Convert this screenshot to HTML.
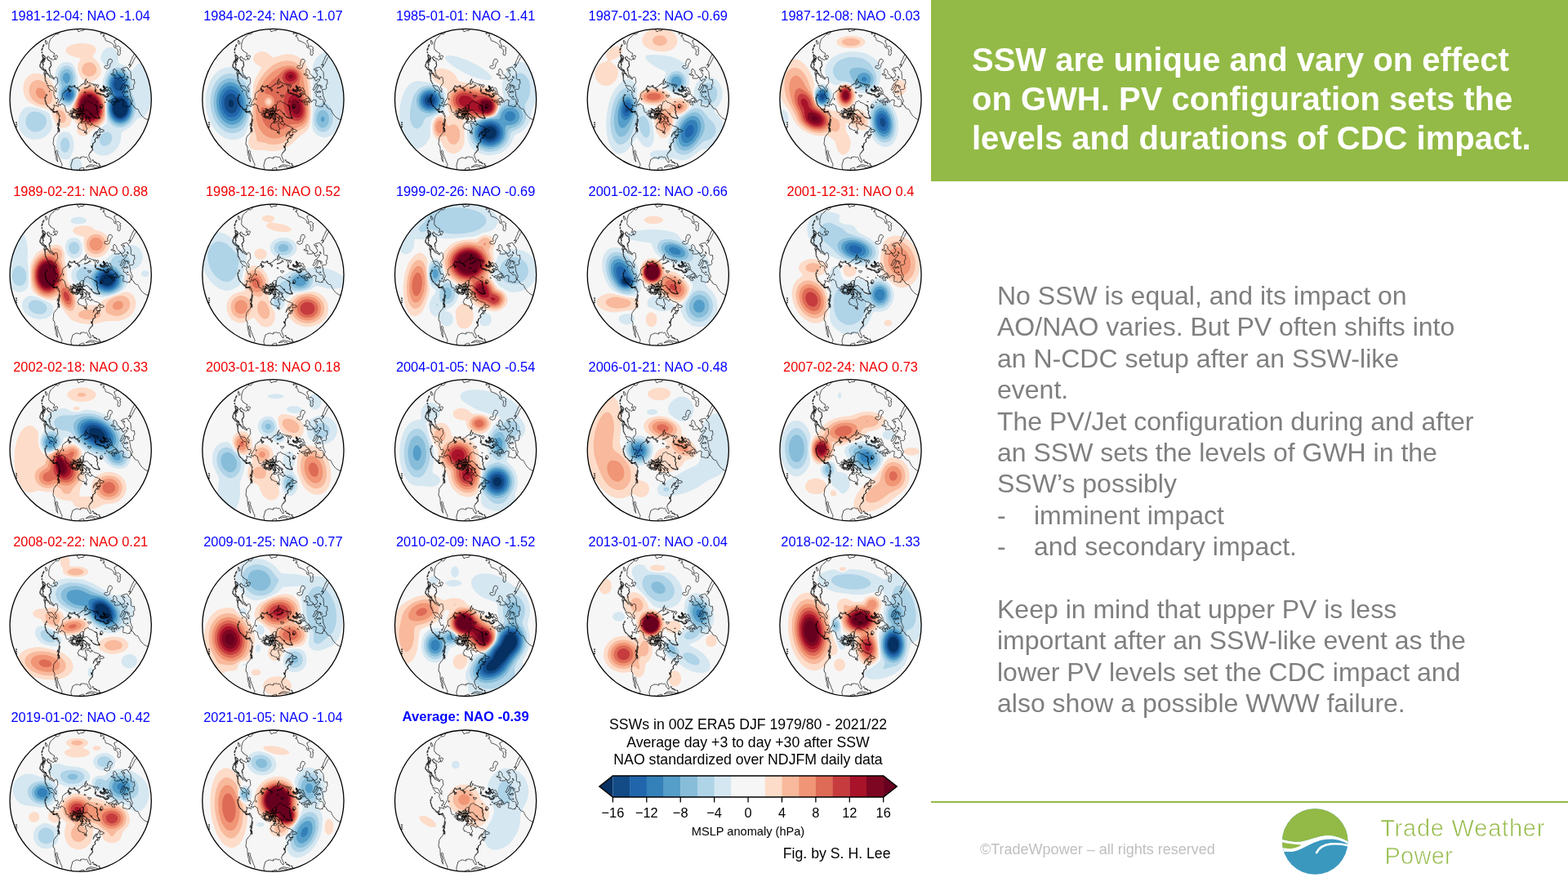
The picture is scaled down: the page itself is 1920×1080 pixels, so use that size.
<!DOCTYPE html>
<html lang="en"><head><meta charset="utf-8"><title>SSW are unique and vary on effect on GWH</title>
<style>
*{margin:0;padding:0;box-sizing:border-box}
html,body{width:1920px;height:1080px;overflow:hidden;background:#fff}
body{position:relative;font-family:"Liberation Sans",sans-serif}
#maps{position:absolute;left:0;top:0;width:1140px;height:1080px}
.mt{position:absolute;width:240px;text-align:center;font-size:16.4px;line-height:20px;white-space:nowrap;transform:scaleY(1.02);transform-origin:50% 80%}
.b{color:#0000ff}.r{color:#f00000}.bold{font-weight:bold;font-size:16.7px}
#hdr{position:absolute;left:1140px;top:0;width:780px;height:222px;background:#93ba46}
#hdr h1{position:absolute;left:50px;top:49px;width:720px;font-size:40px;line-height:48px;font-weight:bold;color:#fff;white-space:nowrap}
#body{position:absolute;left:1221px;top:343px;width:680px;font-size:32px;line-height:38.4px;color:#7f7f7f;white-space:nowrap}
#body .li{display:block}
#body .li span{display:inline-block;width:45px}
#rule{position:absolute;left:1140px;top:981.2px;width:780px;height:1.8px;background:#93ba46}
#copy{position:absolute;left:1200px;top:1029px;font-size:18px;line-height:22px;color:#bfbfbf;white-space:nowrap}
#logo{position:absolute;left:1550px;top:980px;width:350px;height:100px}
.lt{position:absolute;font-size:29px;line-height:34px;color:#93ba46;white-space:pre;letter-spacing:0.78px;-webkit-text-stroke:0.7px #fff}
#lt1{left:1690.2px;top:997px}
#lt2{left:1695.5px;top:1031px;letter-spacing:0.25px}
#cap{position:absolute;left:696px;top:877.2px;width:440px;text-align:center;font-size:17.7px;line-height:21.4px;color:#000;white-space:nowrap}
.cbl{position:absolute;top:985px;width:60px;text-align:center;font-size:16.4px;line-height:20px;color:#000;transform:scaleY(1.04)}
#cbt{position:absolute;left:816px;top:1008px;width:200px;text-align:center;font-size:14.6px;line-height:20px;color:#000;white-space:nowrap}
#fig{position:absolute;left:900px;top:1034px;width:190.5px;text-align:right;font-size:17.7px;line-height:22px;color:#000;white-space:nowrap}
</style></head>
<body>
<svg id="maps" viewBox="0 0 1140 1080" width="1140" height="1080">
<clipPath id="mc"><circle r="86.6"/></clipPath>
<pattern id="coast" patternUnits="userSpaceOnUse" x="-20" y="14" width="236" height="215"><path transform="translate(118.100,107.260)" fill="none" stroke="#000" stroke-width="0.68" stroke-linejoin="round" stroke-linecap="round" d="M3.3,89.2 3.8,88.1 4.3,86.8 4.8,85.7 4.4,84.1 3.3,83.9 2.2,84.2 1.4,84.4 0.5,84.9 -0.4,85.0 -0.8,86.6 -1.3,87.6 -1.5,88.5 -2.6,88.7 -3.9,88.8 -5.2,88.9 -6.3,89.0 -7.5,88.9 -8.2,87.9 -9.5,87.2 -9.9,86.2 -10.4,85.6 -10.7,84.6 -10.7,83.4 -11.3,82.2 -11.0,80.8 -10.8,79.6 -10.4,78.7 -10.3,77.6 -9.8,76.7 -9.6,75.7 -9.4,74.6 -9.1,73.8 -8.1,73.5 -7.3,72.9 -6.3,72.4 -5.0,71.8 -3.8,71.8 -2.5,71.9 -1.6,72.3 -0.6,72.6 0.9,72.7 0.6,71.1 1.6,71.0 2.5,70.9 3.5,70.8 4.3,70.7 5.4,71.0 6.3,71.6 7.7,71.0 8.5,71.6 9.3,72.3 9.3,73.2 9.5,74.1 10.2,75.0 11.0,76.0 11.7,76.7 12.0,77.6 13.1,77.4 13.1,76.3 13.2,75.4 13.0,74.3 12.2,73.7 12.0,72.6 11.6,71.7 11.2,70.6 10.6,69.9 10.9,68.8 10.7,67.7 11.6,67.1 12.2,66.0 12.9,65.2 13.7,64.5 14.5,63.8 15.1,63.0 15.7,61.7 15.1,60.9 14.9,59.8 14.4,59.0 14.1,58.0 14.7,58.7 14.9,59.6 15.0,58.6 15.2,57.7 15.7,56.5 15.8,55.2 16.1,54.3 17.0,53.8 17.7,53.0 19.0,52.1 17.9,51.1 18.1,49.7 19.1,48.5 20.0,47.2 21.0,46.5 21.9,45.9 21.3,46.8 21.1,47.8 22.0,48.4 22.9,47.2 23.4,46.0 23.9,44.7 24.8,43.8 24.7,42.7 24.0,44.2 22.7,44.5 21.4,44.9 20.7,44.1 19.8,43.4 20.4,42.4 19.9,41.7 19.0,42.3 18.1,42.6 17.2,43.6 16.7,44.7 16.5,45.6 15.9,46.3 16.4,45.2 16.4,44.1 16.9,43.0 17.6,42.1 17.9,41.1 19.1,40.4 20.3,39.8 21.5,39.4 22.4,38.8 22.2,37.9 22.7,37.0 23.3,36.4 24.0,35.6 23.5,34.8 22.2,34.2 21.0,33.6 20.1,33.4 19.2,33.3 17.8,32.7 16.6,32.0 15.9,31.2 15.0,30.8 14.3,30.6 13.9,29.7 13.8,30.5 14.0,31.5 13.1,32.3 11.8,31.6 11.1,30.9 10.9,30.1 9.7,29.9 8.8,29.6 8.0,30.0 7.6,29.5 7.1,29.1 6.3,29.8 6.5,30.7 5.9,31.1 7.3,31.9 6.9,32.4 7.2,33.9 7.6,34.9 8.6,35.6 8.4,36.5 8.3,37.3 7.6,37.8 7.2,38.7 7.5,39.8 7.9,40.6 8.0,41.4 8.2,42.4 7.5,42.8 6.7,42.1 5.8,41.0 5.2,39.8 5.1,38.4 4.3,38.2 3.3,38.3 2.2,38.0 1.3,37.2 0.0,36.6 -1.6,36.6 -2.0,35.7 -1.8,34.6 -2.9,34.2 -3.0,33.3 -2.6,32.5 -2.0,31.7 -1.6,30.8 -1.8,30.0 -0.6,29.5 -0.5,29.1 0.0,28.8 0.7,29.3 1.0,28.3 0.7,27.3 2.1,27.6 1.9,26.8 2.2,26.0 1.8,25.7 2.7,25.8 3.5,25.3 3.7,24.9 3.4,24.4 2.7,23.9 3.5,23.2 3.0,22.9 2.9,22.0 2.2,21.8 2.0,22.8 1.6,23.4 1.7,24.5 0.9,24.8 0.6,24.2 0.8,23.5 0.2,23.8 -0.2,23.1 -0.6,22.4 -0.6,21.9 -0.7,21.2 -0.5,20.8 -1.1,20.1 -1.5,19.5 -2.1,20.0 -1.4,20.3 -1.5,21.2 -1.6,21.7 -2.1,22.3 -3.0,23.0 -2.5,23.7 -2.9,23.3 -3.4,24.0 -4.2,23.7 -5.0,23.7 -5.8,23.1 -6.4,22.5 -7.3,22.5 -7.9,22.8 -8.5,23.3 -9.1,22.6 -9.9,22.7 -10.3,22.0 -9.7,21.8 -9.9,21.3 -10.6,21.0 -10.8,20.2 -10.5,19.4 -11.4,19.0 -11.8,18.4 -12.3,18.3 -13.1,18.1 -12.8,17.8 -13.3,17.0 -14.0,16.7 -14.8,16.1 -15.3,16.4 -16.6,16.0 -17.0,15.3 -17.3,14.0 -17.6,12.8 -18.1,11.8 -18.4,10.6 -18.5,9.4 -18.7,8.1 -19.4,7.8 -20.3,7.0 -21.1,6.4 -22.1,5.9 -23.0,5.7 -23.6,6.8 -24.1,7.8 -24.9,7.6 -25.2,6.3 -26.2,5.6 -27.0,6.7 -26.8,8.2 -26.5,9.1 -27.8,8.8 -29.0,7.8 -30.4,7.9 -30.9,8.1 -31.4,8.7 -31.7,9.6 -31.5,10.2 -32.1,10.4 -32.7,11.0 -33.0,12.1 -32.2,12.4 -32.0,13.3 -32.7,13.5 -33.4,13.5 -34.7,13.6 -35.2,12.8 -35.5,12.0 -36.2,11.8 -36.6,11.3 -37.5,11.5 -36.8,11.9 -36.2,12.8 -35.9,13.2 -35.4,14.0 -34.5,13.9 -33.9,14.2 -32.9,14.7 -32.1,15.2 -31.4,15.3 -30.9,15.3 -30.2,15.0 -29.7,15.4 -28.9,15.0 -28.4,15.8 -27.5,15.9 -28.1,15.7 -28.4,15.1 -29.1,15.5 -29.8,16.2 -29.2,16.9 -28.5,17.5 -27.6,17.3 -26.8,18.1 -27.1,19.3 -26.5,19.9 -25.6,20.5 -25.6,21.5 -25.3,22.3 -25.5,23.0 -25.5,23.5 -25.5,24.2 -25.4,24.9 -24.4,25.3 -24.7,25.9 -25.0,26.8 -24.5,27.7 -25.2,28.4 -25.2,29.0 -25.5,29.6 -25.6,30.5 -26.2,30.9 -25.2,32.0 -25.6,32.4 -25.8,33.1 -26.4,33.5 -26.7,34.3 -26.4,35.0 -26.0,35.4 -25.4,36.5 -25.5,37.1 -25.3,37.8 -25.2,38.8 -25.2,39.6 -25.3,40.2 -25.8,40.6 -26.6,39.9 -26.3,39.5 -26.7,38.7 -27.4,39.0 -27.5,39.8 -26.9,40.5 -27.7,41.1 -28.0,41.9 -28.8,42.7 -29.4,43.6 -30.5,44.3 -30.9,45.6 -31.7,46.2 -32.2,47.2 -32.4,48.5 -32.5,49.7 -32.6,51.1 -32.6,52.0 -32.9,52.8 -33.2,53.8 -32.7,55.0 -33.1,55.9 -32.0,56.6 -31.4,57.8 -31.2,59.1 -31.0,60.2 -31.2,61.3 -31.0,62.2 -30.9,63.6 -30.9,64.8 -30.8,66.1 -30.3,67.1 -30.4,68.3 -30.1,69.2 -29.5,70.1 -29.2,71.1 -29.4,72.1 -29.5,73.1 -28.9,74.0 -28.5,75.1 -28.1,76.1 -27.2,76.9 -27.7,76.0 -27.8,75.0 -28.1,74.0 -28.0,72.9 -27.9,71.6 -28.4,70.3 -28.3,69.0 -28.8,67.7 -29.3,66.8 -29.6,65.9 -29.6,65.0 -29.5,63.7 -28.8,62.7 -28.0,63.4 -27.3,64.4 -27.7,65.5 -27.6,66.6 -27.3,67.6 -26.7,68.5 -26.6,69.4 -26.5,70.2 -25.9,71.0 -25.4,71.9 -25.3,72.8 -24.7,74.0 -24.3,74.9 -24.1,75.8 -23.7,76.8 -23.2,77.8 -22.6,78.7 -22.2,80.0 -22.2,81.2 -22.9,82.3 -23.1,83.5 -22.8,84.3 -21.9,84.7 -21.3,85.6 -20.5,86.4 -19.5,87.1M23.9,23.1 23.1,23.3 22.4,23.2 21.6,23.0 20.8,23.5 20.1,22.7 19.1,22.7 18.3,22.4 17.6,22.2 16.9,21.8 16.3,21.3 15.4,20.8 15.0,20.2 14.6,19.6 14.0,18.9 14.2,17.6 13.4,17.7 12.8,17.6 12.0,16.8 11.6,16.0 10.8,15.7 10.1,15.2 9.6,14.5 9.3,13.7 8.2,13.4 7.0,13.2 6.6,13.6 6.2,13.9 5.2,13.7 4.5,13.0 4.4,12.0 3.7,12.1 4.1,11.2 4.3,10.5 4.4,9.9 4.0,9.3 4.3,8.5 4.4,7.8 4.5,7.2 4.7,6.9 4.8,6.6 5.0,6.4 5.2,6.1 5.3,5.8 5.5,5.5 5.5,5.1 5.5,4.7 5.5,4.3 5.7,4.1 5.8,3.9 6.0,3.7 6.1,3.5 6.4,3.4 6.8,3.3 7.1,3.2 7.6,3.1 8.1,3.0 8.5,2.8 8.8,2.5 9.1,2.3 9.3,2.0 9.9,2.5 10.5,2.8 10.8,3.5 11.5,4.4 12.3,4.2 13.0,4.4 13.8,5.0 14.6,5.2 15.3,5.4 15.8,6.0 16.7,6.4 17.5,7.4 18.7,7.5 19.4,8.6 19.9,8.3 20.3,9.2 20.8,9.7 20.5,10.6 20.9,11.1 20.7,11.9 20.4,12.7 20.6,13.9 21.3,14.4 21.7,15.4 21.3,16.0 21.4,16.8 21.0,17.6 21.6,18.5 22.0,19.1 22.2,20.0 22.7,20.8 23.5,21.6 23.8,22.2ZM26.6,11.0 27.4,10.0 27.8,9.0 27.9,8.2 27.4,7.3 26.7,6.4 26.0,6.7 25.2,6.5 24.7,7.3 24.7,8.3 24.8,9.5 23.9,9.9 24.4,10.9 25.4,10.3 25.3,11.2 26.2,10.6ZM11.2,-2.2 10.5,-2.6 10.2,-2.9 10.0,-3.2 9.8,-3.6 9.6,-3.9 9.6,-4.4 9.5,-4.9 10.6,-4.7 11.2,-4.4 11.8,-4.1 12.1,-4.7 12.8,-4.3 13.8,-4.2 13.3,-3.6 12.6,-3.0 11.9,-2.3ZM12.9,-16.2 12.7,-16.8 11.9,-17.3 11.1,-17.5 11.0,-16.6 10.6,-15.8 10.3,-15.0 9.7,-14.4 8.5,-13.9 7.1,-13.4 6.5,-13.3 5.9,-13.2 5.0,-13.2 5.8,-13.8 6.5,-13.9 7.1,-13.9 7.7,-14.0 9.0,-14.5 10.3,-15.0 11.2,-15.4 12.3,-15.7ZM-1.0,-11.9 -1.5,-10.7 -1.7,-9.6 -1.2,-9.4 -0.7,-10.6 -0.6,-11.3ZM-2.3,-12.8 -2.7,-12.6 -3.1,-12.3 -3.1,-11.5 -2.6,-11.4 -2.2,-11.4 -1.9,-12.0ZM-11.7,-10.9 -12.6,-10.6 -12.9,-10.1 -13.2,-9.6 -13.5,-8.9 -13.8,-8.3 -13.0,-8.7 -12.5,-9.1 -12.0,-9.3 -11.6,-9.8 -11.3,-10.2ZM-13.8,-11.6 -14.5,-10.9 -13.8,-10.8ZM-20.7,-0.5 -20.7,0.7 -20.1,0.9 -20.1,-0.0ZM6.9,-7.6 6.6,-8.0 6.4,-8.3 6.1,-8.7 5.5,-8.7 5.0,-8.6 4.9,-7.8 5.2,-7.7 5.6,-7.7 5.9,-7.6 6.3,-7.5ZM62.7,6.0 61.8,6.8 60.9,8.0 60.9,9.6 59.9,9.1 59.0,9.1 58.4,9.8 57.3,9.5 56.3,8.7 55.3,8.6 54.4,8.3 53.1,8.7 52.4,7.4 52.5,6.3 52.8,5.1 52.8,4.2 53.0,3.2 53.2,1.7 51.9,1.1 50.9,0.8 50.0,1.0 49.2,1.5 48.4,1.9 47.9,2.8 47.5,3.7 46.7,3.8 46.4,2.4 46.7,1.3 45.4,1.4 45.5,0.8 45.9,0.2 45.4,-0.2 44.8,-1.2 43.9,-1.3 43.9,-2.3 43.2,-2.6 42.2,-3.2 41.2,-3.5 40.5,-4.6 40.2,-5.8 39.5,-6.1 38.2,-5.8 37.1,-5.3 36.3,-5.3 35.7,-6.0 35.2,-6.6 35.7,-6.2 36.6,-6.7 37.1,-7.1 38.1,-6.6 38.7,-6.5 39.1,-7.5 39.4,-7.8 38.9,-8.4 38.7,-9.4 39.1,-10.0 38.5,-10.6 38.0,-11.2 37.3,-12.5 37.4,-13.3 36.2,-13.9 35.4,-13.3 34.4,-13.2 33.3,-13.5 32.8,-14.0 33.6,-14.6 33.0,-15.1 32.5,-14.7 32.1,-14.7 31.7,-13.9 31.2,-13.6 30.6,-14.3 29.9,-14.5 29.9,-15.6 29.1,-15.5 28.8,-16.6 28.0,-16.0 28.5,-15.5 29.2,-15.3 29.4,-14.3 29.3,-13.4 30.3,-13.6 30.6,-13.0 30.7,-12.3 30.2,-11.9 29.4,-11.9 28.9,-11.3 28.4,-11.6 27.6,-10.9 26.7,-11.3 26.1,-10.7 25.6,-11.4 24.6,-11.6 24.2,-10.9 24.6,-10.1 25.3,-9.9 26.1,-10.2 26.7,-9.3 27.7,-9.8 28.6,-9.4 29.2,-9.2 30.0,-10.1 30.8,-9.5 30.6,-10.3 31.4,-10.7 32.3,-10.7 32.9,-10.4 33.4,-10.1 33.8,-10.8 34.8,-10.5 35.1,-10.4 36.1,-10.4 36.6,-9.5 37.3,-9.4 37.5,-8.6 36.7,-8.1 35.3,-7.4 34.3,-7.5 33.9,-6.7 33.1,-6.2 33.8,-5.8 34.2,-4.8 35.0,-5.0 35.2,-4.3 35.1,-3.9 34.4,-3.4 33.7,-3.3 33.0,-2.9 32.1,-2.1 31.6,-2.8 31.0,-3.4 30.5,-2.8 30.0,-3.4 29.5,-3.6 29.4,-4.5 28.5,-4.5 28.2,-4.8 27.5,-5.1 26.7,-5.0 26.3,-5.6 25.8,-5.3 25.0,-5.8 24.1,-5.8 23.6,-6.1 22.7,-6.3 21.9,-6.4 21.6,-6.8 20.8,-7.2 20.2,-7.7 19.7,-8.3 19.2,-8.3 18.5,-8.9 18.4,-9.8 19.0,-10.0 18.5,-10.9 18.9,-11.3 18.3,-12.0 18.7,-12.4 18.5,-13.4 18.6,-14.8 18.7,-16.0 19.3,-16.8 20.3,-16.5 20.7,-15.6 21.1,-14.8 21.4,-13.9 22.1,-15.3 23.0,-16.0 22.6,-17.0 21.8,-17.0 21.4,-17.9 20.2,-17.2 19.2,-17.3 18.7,-18.1 18.0,-17.8 17.4,-16.9 16.9,-16.3 16.5,-17.1 17.3,-18.3 16.5,-18.3 15.5,-18.4 13.9,-18.5 13.5,-19.2 12.3,-19.6 11.6,-20.0 10.7,-19.4 9.7,-20.4 9.3,-20.9 9.2,-21.6 8.7,-22.1 8.2,-21.4 8.7,-20.4 8.3,-19.2 7.4,-18.7 6.7,-17.6 5.9,-17.5 5.6,-18.2 6.0,-18.8 6.2,-19.7 6.1,-20.5 6.5,-21.4 6.8,-22.2 7.2,-22.9 7.1,-24.1 8.0,-24.7 6.8,-23.6 6.0,-22.4 5.7,-21.4 5.9,-20.4 5.8,-19.6 5.2,-18.9 4.7,-18.8 4.1,-19.2 3.4,-19.1 3.0,-17.7 2.2,-17.6 1.2,-17.6 0.9,-16.3 0.0,-15.7 -0.5,-15.5 -1.1,-15.1 -1.6,-14.9 -2.1,-14.7 -2.8,-14.2 -3.2,-12.9 -3.8,-13.2 -4.5,-13.7 -5.0,-13.7 -5.5,-13.6 -6.3,-14.4 -6.4,-15.2 -5.8,-16.0 -6.6,-16.3 -7.2,-16.3 -7.9,-16.2 -8.5,-16.0 -9.2,-15.5 -9.8,-15.0 -10.5,-14.4 -11.4,-14.6 -12.3,-15.2 -13.3,-15.9 -13.7,-14.7 -14.5,-14.0 -15.2,-13.2 -14.6,-12.2 -15.2,-11.7 -15.8,-11.0 -16.4,-10.4 -17.0,-9.8 -18.3,-9.7 -18.6,-9.1 -18.9,-8.4 -19.7,-8.0 -20.5,-7.5 -21.2,-6.9 -21.6,-5.8 -21.5,-4.6 -22.0,-3.9 -21.5,-3.4 -21.8,-2.7 -21.9,-1.9 -22.4,-1.2 -22.9,-0.4 -23.4,0.4 -23.8,1.2 -24.4,2.1 -25.0,3.1 -25.3,3.8 -25.8,4.5 -26.8,3.5 -27.8,2.9 -27.1,1.9 -26.5,0.5 -27.4,-0.0 -28.0,-0.5 -28.2,-1.0 -27.7,-1.2 -28.9,-0.7 -30.3,-0.5 -30.5,-1.6 -31.0,-2.4 -31.0,-3.3 -31.7,-4.5 -32.6,-5.8 -32.1,-6.8 -32.1,-7.6 -32.0,-8.6 -32.4,-9.3 -33.4,-10.2 -34.0,-10.7 -35.6,-10.9 -36.3,-11.4 -37.1,-12.1 -37.9,-13.4 -38.9,-14.2 -39.1,-15.4 -39.7,-16.1 -40.3,-17.1 -39.5,-16.8 -38.5,-16.7 -37.4,-16.2 -36.2,-16.1 -35.2,-16.1 -34.4,-15.7 -33.8,-14.9 -33.1,-14.4 -32.3,-13.1 -31.8,-12.3 -31.7,-11.5 -30.9,-10.3 -30.0,-9.2 -29.1,-8.3 -29.2,-9.3 -29.7,-10.2 -29.3,-10.7 -29.1,-11.5 -28.9,-12.3 -29.7,-13.2 -30.8,-14.3 -30.7,-15.4 -30.3,-16.1 -29.2,-16.9 -28.8,-18.0 -28.2,-18.7 -27.8,-19.5 -27.1,-20.4 -27.5,-21.5 -27.6,-22.3 -27.6,-23.2 -27.8,-24.0 -27.7,-24.9 -28.2,-26.1 -29.0,-27.0 -29.6,-27.1 -30.3,-26.4 -31.5,-25.9 -32.1,-25.7 -33.1,-26.8 -33.8,-27.9 -34.6,-28.2 -35.2,-29.0 -36.0,-29.6 -36.4,-30.5 -36.5,-31.6 -37.0,-32.7 -37.1,-34.0 -37.2,-35.3 -36.9,-36.0 -37.4,-36.8 -37.9,-37.8 -37.4,-38.7 -36.9,-39.2 -36.2,-39.5 -35.6,-40.3 -35.7,-41.1 -35.4,-42.2 -36.1,-42.7 -35.9,-43.5 -35.6,-44.5 -35.9,-45.1 -36.3,-46.0 -35.7,-46.5 -36.6,-46.1 -37.1,-46.7 -37.9,-47.2 -38.2,-47.4 -39.1,-47.6 -39.3,-48.2 -39.5,-48.8 -40.3,-49.3 -40.2,-50.3 -39.8,-51.0 -39.6,-52.0 -38.8,-52.4 -38.3,-51.7 -37.7,-51.3 -37.8,-50.4 -37.0,-49.7 -36.4,-49.6 -36.1,-48.8 -35.6,-49.2 -34.6,-49.4 -34.3,-48.6 -33.5,-47.8 -32.6,-47.8 -31.9,-48.6 -31.1,-48.9 -30.8,-50.3 -30.7,-50.7 -30.6,-49.5 -30.2,-48.4 -29.2,-48.5 -28.9,-49.6 -28.5,-50.4 -28.0,-51.1 -27.6,-51.9 -27.7,-52.8 -28.8,-53.2 -29.7,-53.6 -30.1,-52.6 -30.8,-52.2 -31.8,-52.0 -32.9,-51.7 -32.4,-52.4 -32.1,-53.4 -31.6,-54.8 -31.5,-56.1 -32.4,-56.4 -33.2,-56.8 -34.2,-57.4 -34.9,-58.2 -36.3,-58.6 -36.5,-59.4 -36.9,-60.3 -38.0,-60.8 -38.4,-61.6 -38.4,-62.7 -38.3,-63.7 -38.2,-64.9 -38.2,-66.1 -38.3,-67.1 -38.1,-68.6 -37.6,-69.3 -37.4,-70.4 -37.2,-71.3 -36.8,-72.2 -36.5,-73.0 -36.0,-73.7 -35.0,-74.6 -34.1,-75.5 -32.9,-76.3 -32.2,-77.2 -31.2,-78.0 -30.5,-78.7 -29.7,-79.3 -29.9,-80.8 -29.3,-80.1 -28.6,-79.5 -27.5,-79.3 -26.6,-79.6 -26.2,-80.2 -25.5,-80.8 -24.7,-82.2 -24.2,-82.9 -24.0,-83.7 -24.0,-85.2 -25.1,-85.9M-45.0,-53.2 -45.3,-52.5 -45.7,-52.0 -45.5,-50.9 -44.9,-50.3 -44.0,-49.8 -43.3,-49.8 -43.2,-50.5 -42.5,-51.1 -43.3,-51.9 -44.3,-52.1 -44.7,-52.5ZM-43.1,-49.6 -43.7,-48.8 -44.1,-48.2 -44.4,-47.5 -45.0,-46.6 -45.4,-46.2 -46.2,-45.9 -47.0,-46.0 -47.6,-46.4 -47.0,-45.3 -47.4,-44.5 -47.9,-43.9 -48.3,-43.4 -48.8,-42.7 -49.3,-42.4 -49.2,-41.6 -49.0,-40.6 -49.2,-40.1 -48.3,-39.6 -47.9,-38.8 -47.1,-38.5 -47.3,-37.7 -46.7,-37.1 -46.2,-36.6 -46.0,-35.9 -45.5,-35.7 -44.6,-35.5 -43.6,-34.9 -43.4,-36.0 -44.0,-36.7 -44.2,-37.1 -44.8,-37.5 -45.1,-38.1 -45.6,-38.7 -45.5,-39.6 -45.5,-40.3 -45.2,-41.1 -45.5,-41.7 -44.7,-41.7 -45.1,-42.5 -45.2,-43.5 -45.6,-44.1 -44.8,-44.8 -44.1,-45.1 -43.6,-45.8 -43.4,-46.6 -43.6,-47.2 -43.2,-47.9 -42.7,-48.6 -42.9,-49.3ZM-45.4,-49.5 -45.1,-48.7 -45.7,-48.2 -45.6,-47.4 -46.5,-46.9 -45.6,-46.8 -45.1,-47.4 -44.8,-48.1 -45.4,-48.5ZM-42.7,-35.8 -42.6,-35.0 -42.5,-34.4 -43.4,-34.1 -44.0,-33.1 -44.1,-32.2 -44.4,-31.4 -44.0,-30.5 -43.6,-29.9 -42.8,-30.0 -42.5,-30.8 -41.6,-31.4 -40.6,-31.0 -40.0,-31.2 -40.6,-32.0 -41.1,-32.7 -41.8,-33.5 -41.6,-34.5 -42.4,-34.9ZM-39.4,-30.8 -39.3,-30.0 -39.4,-29.1 -37.9,-28.6 -37.6,-27.7 -37.6,-26.9 -36.6,-26.6 -35.6,-26.5 -35.0,-25.9 -34.1,-25.5 -33.4,-24.8 -32.6,-24.5 -31.6,-24.2 -32.6,-25.5 -33.4,-26.4 -34.5,-27.0 -35.1,-27.6 -36.0,-28.1 -37.2,-28.7 -37.9,-29.6 -38.6,-30.1ZM-41.5,-71.3 -42.7,-71.7 -42.6,-70.3 -42.4,-69.1 -42.1,-67.9 -41.5,-67.0 -40.5,-67.4 -40.2,-68.4 -40.4,-69.4 -41.0,-70.2ZM-28.2,-83.3 -29.1,-83.7 -29.9,-84.4 -30.6,-83.9 -31.0,-82.9 -31.2,-81.3 -29.6,-81.2 -28.7,-82.2ZM-43.2,-29.1 -43.3,-28.1 -42.8,-28.1ZM-43.1,-27.5 -43.1,-26.4 -42.7,-26.5ZM-43.1,-25.4 -43.1,-24.4 -42.6,-24.4ZM-42.8,-23.2 -42.8,-22.3 -42.3,-22.3ZM-41.9,-21.5 -41.8,-20.6 -41.4,-20.6ZM-40.9,-19.5 -40.7,-18.6 -40.3,-18.6ZM-47.0,-61.0 -47.3,-59.6 -46.7,-59.7ZM-46.9,-57.7 -47.1,-56.3 -46.5,-56.4ZM-46.3,-62.4 -46.7,-61.0 -46.1,-61.1ZM-45.5,-65.2 -45.9,-63.9 -45.3,-63.9ZM-44.6,-66.6 -45.0,-65.2 -44.4,-65.3ZM-45.9,-54.5 -46.2,-54.1 -46.1,-53.2 -45.5,-53.3 -46.2,-53.9ZM7.6,-87.4 6.8,-87.0 6.2,-86.4 5.3,-86.0 4.5,-85.1 4.4,-84.1 2.9,-83.8 1.5,-83.7 0.2,-83.6 -0.7,-82.9 -2.2,-82.6 -2.6,-83.4 -2.9,-84.2 -3.4,-85.3 -4.2,-86.0 -4.5,-86.8 -5.5,-87.7 -6.2,-88.8M26.0,-85.1 26.1,-84.3 25.6,-83.1 25.5,-81.9 25.2,-80.4 25.0,-79.3 25.9,-80.0 27.0,-80.6 28.5,-80.4 29.2,-79.6 29.1,-78.5 29.8,-77.6 28.3,-77.7 27.6,-77.1 28.8,-76.4 29.8,-75.7 30.4,-74.9 30.7,-74.2 30.9,-72.8 31.2,-71.7 32.0,-71.2 32.8,-71.1 33.8,-70.8 34.9,-70.3 35.8,-70.0 36.8,-69.3 38.1,-68.9 39.2,-67.8 40.0,-67.3 40.6,-66.7 41.3,-66.0 41.5,-65.0 41.4,-63.8 42.0,-62.9 43.2,-62.5 44.4,-62.2 45.2,-61.6 45.8,-60.8 46.1,-59.4 46.4,-58.4 46.4,-57.5 46.0,-56.7 45.9,-55.7 46.2,-54.1 47.3,-53.5 48.3,-53.6 48.9,-54.9 49.2,-55.9 49.2,-56.6 49.0,-57.5 49.0,-58.4 49.8,-59.7 48.6,-60.1 48.7,-61.4 49.6,-62.0 49.7,-62.5 48.8,-63.1 48.2,-64.0 47.4,-64.7 46.3,-64.9 45.5,-64.5 44.6,-64.4 43.0,-64.0 43.4,-64.9 43.5,-65.7 43.8,-67.0 43.0,-68.0 42.3,-69.0 42.1,-70.2 41.6,-71.4 42.7,-71.7 43.5,-72.5 44.9,-73.3 45.8,-73.7 46.6,-74.0 47.4,-74.4 48.5,-74.7M67.2,-58.4 67.0,-57.4 66.9,-56.5 66.3,-55.7 65.9,-54.4 65.3,-53.2 64.9,-52.2 64.1,-51.8 63.8,-50.8 63.5,-49.5 63.1,-48.4 62.4,-47.5 61.9,-46.3 61.5,-45.3 61.2,-44.5 61.1,-43.6 60.7,-42.3 59.8,-42.0 59.1,-41.4 60.1,-41.9 61.2,-42.1 61.7,-41.9 61.4,-40.6 60.8,-39.6 60.3,-38.5 61.3,-39.4 61.9,-40.2 62.2,-41.2 62.6,-42.2 63.3,-43.0 64.1,-44.0 64.5,-45.2 64.9,-46.1 65.4,-46.6 65.9,-47.9 66.4,-49.2 66.8,-49.9 67.3,-50.7 68.3,-51.9 69.1,-52.9 70.0,-53.7 70.3,-54.8M58.9,-37.2 58.1,-37.9 57.7,-38.9 56.4,-39.0 55.0,-38.5 53.9,-38.2 52.8,-38.1 51.9,-37.4 51.0,-37.0 50.1,-36.4 51.2,-35.2 51.9,-34.9 52.7,-34.2 52.9,-33.0 53.3,-31.5 54.6,-30.9 54.6,-29.9 54.8,-29.1 54.2,-28.0 53.4,-26.6 52.1,-26.3 51.7,-25.5 50.6,-26.3 49.3,-27.3 48.6,-28.0 48.1,-28.9 47.1,-29.5 46.2,-30.0 45.5,-30.7 45.1,-31.6 44.9,-32.5 45.0,-33.3 44.4,-34.7 43.8,-35.4 43.2,-36.2 41.7,-36.9 40.8,-36.1 40.6,-35.1 40.7,-34.2 40.9,-33.3 40.8,-32.4 40.6,-31.2 39.4,-30.8 38.4,-30.9 37.7,-30.5 38.8,-29.8 39.7,-29.3 40.5,-28.9 41.4,-29.0 40.9,-30.2 41.8,-29.6 43.1,-29.1 42.8,-27.8 42.1,-26.8 42.2,-25.3 43.5,-25.1 44.5,-25.3 46.0,-25.2 47.5,-25.2 48.1,-25.4 49.1,-26.3 49.2,-27.3 50.0,-26.0 50.9,-25.1 50.8,-24.8 51.4,-23.4 52.5,-23.2 52.6,-22.1 53.8,-22.6 54.5,-23.5 55.1,-24.5 55.7,-23.9 56.5,-24.3 57.4,-24.4 57.4,-23.2 56.5,-22.0 55.3,-21.2 54.6,-19.9 53.8,-18.9 52.3,-18.5 51.6,-17.3 51.2,-16.6 51.2,-15.6 50.6,-14.9 50.6,-14.0 49.9,-13.5 49.4,-12.8 49.0,-12.0 49.5,-10.9 50.7,-11.0 51.5,-12.4 52.8,-13.3 52.7,-14.3 53.2,-15.2 53.7,-15.4 54.0,-16.4 54.1,-17.6 54.6,-18.3 54.7,-16.7 55.6,-16.6 56.4,-17.3 57.1,-16.9 58.1,-16.8 57.8,-16.3 56.7,-16.3 55.5,-15.5 55.1,-14.2 54.7,-13.4 54.7,-12.6 54.1,-11.7 53.5,-10.4 52.6,-9.7 51.7,-9.1 51.4,-8.0 52.3,-6.9 53.3,-6.1 53.1,-4.6 53.2,-3.4 54.3,-2.8 55.1,-3.1 55.9,-2.1 56.6,-0.8 57.3,-0.2 58.3,0.3 59.3,-0.1 60.0,0.1 60.7,0.7 61.6,1.3 61.9,2.2 61.9,3.6 61.9,4.9 62.7,6.0M85.5,25.0 83.9,24.5 82.8,24.9 81.6,24.9 80.5,24.6 79.7,23.7 78.7,23.5 78.2,22.8 77.2,22.1 76.6,21.4 75.7,20.7 75.3,19.9 74.4,19.2 74.0,18.5 73.5,17.5 72.8,16.8 72.6,15.9 71.9,15.0 71.8,14.0 71.0,13.0 70.4,12.2 69.3,12.1 68.3,11.8 67.4,11.3 67.0,10.3 66.0,9.9 65.8,8.8 65.3,7.8 64.2,6.9 63.0,6.5 62.9,5.8 63.2,4.4 63.9,3.3 64.2,2.5 64.1,1.3 63.4,0.6 63.0,-0.5 62.6,-1.5 62.5,-2.4 61.8,-3.2 61.5,-4.3 61.7,-5.4 61.5,-6.7 61.1,-8.0 60.8,-9.5 60.3,-10.6 60.5,-11.8 61.7,-11.4 62.6,-11.9 63.4,-12.0 64.3,-11.6 65.0,-12.4 65.7,-13.4 65.8,-14.3 65.5,-15.4 65.3,-16.5 65.6,-17.8 66.7,-18.5 66.9,-19.7 66.7,-21.0 66.4,-22.3 66.6,-23.6 65.8,-23.9 64.8,-23.8 64.2,-23.4 63.3,-24.0 62.6,-24.7 62.3,-25.5 62.3,-26.5 62.3,-27.8 62.4,-29.1 62.0,-30.2 62.0,-31.6 61.9,-32.8 61.3,-34.0 60.5,-34.7 59.8,-35.2 59.3,-36.2 58.9,-37.2M32.4,-37.2 31.6,-37.6 30.7,-37.9 29.9,-38.4 29.5,-39.2 29.9,-39.9 30.5,-40.7 31.4,-40.8 32.3,-40.6 33.3,-40.9 34.2,-41.5 33.5,-42.9 33.6,-44.1 33.9,-45.0 34.1,-46.1 34.5,-47.0 35.2,-48.3 36.0,-49.2 37.0,-48.8 38.1,-48.8 38.8,-47.9 39.4,-46.9 39.2,-46.0 39.1,-45.0 38.2,-44.4 37.2,-43.6 37.0,-42.4 36.7,-41.4 36.5,-40.4 36.3,-39.6 35.9,-38.8 35.4,-37.9 34.5,-37.8 33.8,-37.3ZM44.7,4.5 44.7,3.5 44.6,2.7 44.7,2.0 44.1,1.2 44.4,0.3 44.0,-0.4 43.5,-1.1 42.8,-0.7 41.8,-1.2 41.4,-0.2 40.7,0.0 39.8,0.1 39.2,0.9 38.1,1.1 37.6,2.0 36.8,1.7 36.0,1.3 35.5,2.0 35.8,2.5 35.3,2.2 34.7,1.9 34.6,3.0 35.6,3.4 36.7,3.7 37.5,4.0 38.5,3.4 39.1,3.3 39.0,2.4 40.1,2.1 40.8,2.1 40.9,3.2 41.6,3.1 42.4,3.2 42.7,3.9 43.0,3.3 43.2,2.4 43.6,3.2 44.2,3.5ZM42.1,4.4 41.6,4.7 40.8,4.4 40.1,4.5 39.4,3.9 38.5,4.2 38.3,5.0 39.2,5.9 39.3,6.9 40.5,6.8 40.9,6.8 41.6,7.2 42.2,7.6 42.6,7.1 42.6,6.4 42.0,5.6 42.2,4.8ZM59.0,-13.1 58.4,-14.0 58.3,-15.0 57.9,-16.0 59.5,-16.2 60.1,-15.5 60.1,-14.3 59.5,-13.2ZM58.4,-8.5 58.1,-9.7 57.0,-9.8 56.2,-9.6 55.4,-9.0 56.0,-8.2 57.2,-8.2ZM55.1,-8.4 54.7,-9.1 53.3,-8.9 53.8,-8.2ZM58.7,-25.5 57.8,-26.4 57.6,-27.3 57.5,-28.3 58.5,-27.3 58.8,-26.3ZM54.7,-34.5 54.1,-35.3 53.4,-36.0 52.4,-36.0 53.1,-35.6 53.7,-34.8ZM12.9,28.3 12.2,27.4 11.6,27.3 11.0,27.9 10.2,28.1 9.5,28.6 9.0,27.7 8.2,27.6 7.8,27.1 7.1,27.2 6.3,27.5 5.7,26.8 6.6,26.3 7.4,25.8 8.0,25.0 7.3,24.7 6.7,24.3 7.2,23.5 6.8,23.4 6.1,22.9 5.7,22.0 5.0,21.8 4.2,21.4 3.4,21.8 3.0,21.6 2.6,21.6 1.9,21.7 1.3,21.3 0.7,21.2 0.6,20.3 0.2,20.1 0.7,19.5 0.0,19.0 -0.0,18.7 0.3,17.9 1.2,17.6 1.8,17.6 2.5,17.5 2.8,17.9 3.1,18.8 3.9,18.3 4.6,18.5 5.5,18.5 5.5,19.1 6.1,18.6 6.7,19.6 7.3,20.0 7.9,20.0 8.6,20.4 8.8,20.8 8.8,21.8 9.3,21.4 10.2,21.8 10.7,22.0 11.6,22.3 12.3,22.6 11.9,23.5 12.2,23.9 11.4,24.5 10.6,23.8 10.0,24.1 10.9,24.0 11.0,25.5 11.8,25.4 12.0,26.0 12.3,26.4 11.9,27.0 10.9,27.0 12.1,26.8 12.3,27.6ZM-10.1,19.7 -9.4,19.1 -9.0,19.3 -9.9,18.6 -9.4,18.0 -9.7,17.4 -9.3,17.3 -8.5,16.8 -7.5,16.9 -6.9,17.1 -6.3,17.4 -5.3,17.5 -4.9,18.2 -5.3,18.9 -5.2,19.5 -4.9,20.2 -4.3,20.2 -4.5,21.2 -4.2,21.7 -4.8,22.5 -5.2,22.6 -5.6,22.3 -6.3,21.8 -6.9,21.2 -7.6,22.0 -8.4,21.8 -9.1,21.5 -9.7,20.9 -10.0,20.4ZM-11.3,16.1 -11.2,17.2 -10.4,17.3 -9.7,17.3 -9.4,16.6 -9.1,15.6 -8.3,15.9 -8.3,15.0 -8.9,14.3 -9.6,14.3 -10.0,14.5 -10.4,15.3 -10.9,15.3ZM0.0,14.6 0.6,14.7 1.3,14.8 1.9,14.8 2.6,14.7 2.9,13.8 3.4,12.9 3.1,12.3 3.4,11.6 3.0,11.2 3.3,10.5 3.6,9.9 3.8,9.2 4.0,8.5 4.0,7.7 3.9,7.3 3.5,7.3 3.2,7.1 2.8,7.0 2.5,7.1 2.3,7.2 2.0,7.2 1.7,7.3 1.5,7.5 1.2,7.8 1.0,8.0 0.7,8.3 0.4,8.7 0.0,9.2 0.2,10.0 -0.4,10.3 0.1,10.5 0.6,10.8 0.5,11.7 1.0,11.9 1.3,12.6 0.5,13.0 -0.4,13.8ZM-1.6,15.6 -1.1,16.1 -0.6,16.6 0.0,16.7 0.6,16.8 1.3,16.7 2.0,16.6 2.8,16.0 2.6,15.3 1.9,15.2 1.3,15.1 0.7,15.1 0.0,15.0 -0.5,14.8 -1.0,14.6 -0.9,15.4ZM-1.2,11.0 -1.3,12.2 -0.7,12.7 -0.2,12.6 0.2,12.5 0.3,12.1 0.4,11.4 -0.1,11.3 -0.2,10.3 -0.7,9.9 -0.4,10.4ZM-7.3,14.3 -6.8,15.0 -6.3,15.6 -5.7,15.7 -5.1,15.7 -4.3,15.1 -4.4,14.4 -4.8,14.0 -5.4,13.7 -6.0,13.4 -6.7,13.7 -7.0,13.7ZM-2.0,19.2 -1.2,19.6 -1.2,18.8 -0.2,18.7 0.1,18.2 0.0,17.6 -0.9,17.2 -1.9,17.6 -1.4,18.7ZM-4.1,19.2 -3.4,19.6 -2.8,19.9 -2.3,19.3 -2.3,18.6 -2.6,18.0 -2.4,17.4 -3.4,17.4 -3.1,18.1 -4.0,18.3ZM-3.6,22.6 -3.0,23.1 -2.4,23.1 -2.2,22.4 -2.9,21.7 -3.5,22.1ZM1.5,29.1 2.1,29.4 3.1,29.8 3.9,28.9 4.6,28.8 5.3,28.0 4.6,27.6 3.9,27.9 3.3,26.9 2.4,27.0 2.1,26.4 2.2,27.2 1.5,27.9 1.9,28.6ZM-3.9,15.6 -3.4,15.8 -2.8,16.0 -2.2,15.4 -2.4,14.6 -2.5,14.3 -3.3,14.5 -2.9,15.1ZM-8.0,12.9 -7.7,13.3 -7.3,13.7 -6.4,13.2 -6.0,12.7 -6.7,12.0 -7.6,12.1ZM-3.4,12.6 -2.8,12.8 -2.3,13.0 -1.7,12.7 -1.7,12.1 -2.1,11.7 -2.4,11.3 -3.1,11.7ZM3.2,18.2 4.2,18.1 4.2,17.3 3.4,17.3ZM5.8,41.0 7.2,41.1 7.5,40.5 6.4,40.4ZM19.8,40.6 20.6,40.4 21.5,40.5 21.8,40.6 21.0,40.6 19.9,40.9ZM21.5,44.4 22.3,44.3 23.2,43.6 23.1,44.3 21.8,44.7ZM24.5,41.2 25.2,40.6 26.1,40.2 27.7,40.3 28.4,39.6 29.2,39.5 29.1,38.3 27.9,37.7 26.6,37.2 25.2,37.3 24.8,36.6 24.5,35.6 23.9,36.7 24.2,37.7 24.2,38.7 23.9,40.3ZM-25.9,39.2 -25.9,38.5 -26.7,38.1 -27.0,37.4 -27.1,36.7 -27.0,35.9 -27.5,35.4 -27.4,34.7 -26.5,35.2 -26.6,36.1 -25.9,36.5 -25.8,36.9 -25.3,37.6 -25.6,38.2ZM-27.9,32.1 -27.4,31.5 -27.6,31.2 -27.8,30.3 -27.4,29.4 -26.8,30.0 -27.5,30.3 -27.4,31.0 -27.8,31.6ZM-33.1,15.8 -32.1,16.0 -32.0,16.6 -31.1,16.2 -32.1,15.6ZM-29.0,4.3 -29.1,5.7 -28.7,5.7 -28.4,4.5ZM-32.3,7.5 -32.2,8.2 -31.7,7.9ZM-38.2,10.1 -37.7,10.9 -37.4,10.6ZM-39.7,8.8 -39.2,9.7 -39.0,9.4ZM-40.5,7.9 -40.1,8.8 -39.8,8.5ZM-41.4,6.4 -41.0,7.4 -40.7,7.0ZM-42.0,5.0 -41.7,6.0 -41.4,5.7ZM-42.3,3.6 -42.0,4.6 -41.6,4.2ZM-42.9,1.9 -42.6,3.0 -42.3,2.7ZM-43.1,0.6 -42.8,1.6 -42.4,1.3ZM-43.3,-1.3 -43.1,-0.2 -42.7,-0.5ZM-42.6,-2.4 -42.4,-1.3 -42.1,-1.6ZM-41.9,-4.2 -41.7,-3.1 -41.4,-3.4ZM-41.2,-5.6 -41.1,-4.5 -40.7,-4.8ZM-37.5,-9.5 -38.1,-9.2 -37.5,-9.2ZM7.3,83.3 8.2,82.7 9.0,81.9 10.0,81.6 11.4,80.9 12.4,80.6 13.1,80.4 14.2,80.6 15.2,80.6 16.1,81.2 17.2,81.1 18.2,81.4 19.4,81.6 20.4,82.0 21.5,82.2 22.5,82.6 23.5,83.0 22.6,83.4 21.7,84.0 20.6,84.0 19.6,84.2 18.5,84.8 17.8,83.6 16.7,82.9 15.3,82.6 14.4,82.8 13.4,82.2 12.3,82.2 11.3,82.6 10.4,82.9 9.4,82.9 8.5,83.1ZM23.9,85.8 24.6,85.0 24.8,83.8 25.4,83.0 26.5,82.8 27.5,82.3 28.7,81.8 29.8,81.8 30.7,82.1 31.7,82.4 32.6,82.7M15.2,74.6 16.3,74.6 16.0,75.4ZM16.6,76.6 17.7,76.6 17.5,77.5ZM18.2,77.1 19.4,77.2 19.2,78.0ZM19.8,78.3 21.0,78.3 20.8,79.2ZM22.7,79.1 23.9,79.1 23.7,80.0ZM23.8,81.3 25.0,81.2 24.8,82.1ZM-80.1,35.8 -79.1,36.7 -78.8,35.9ZM-78.8,33.9 -77.9,34.8 -77.5,34.0ZM-78.7,31.3 -77.8,32.2 -77.4,31.4ZM-78.7,28.8 -77.9,29.7 -77.5,29.0ZM31.0,4.0 30.6,3.5 30.2,3.7ZM33.2,1.0 32.8,0.5 32.3,0.7ZM20.9,3.3 20.5,2.9 20.0,3.0ZM34.8,-11.3 34.1,-11.7 33.6,-11.3 34.4,-11.4ZM58.8,-2.6 58.1,-3.6 57.5,-3.0ZM-26.8,33.9 -26.7,33.5 -26.5,32.5 -26.5,32.1 -26.3,31.5 -26.3,30.7 -26.8,29.9 -26.1,29.2 -26.3,28.7 -26.3,28.0 -26.3,27.5 -26.0,26.9 -25.9,25.9 -26.0,25.4 -25.6,24.9 -25.5,24.3 -25.0,24.8 -25.1,25.2 -25.3,26.0 -25.1,26.6 -25.5,27.1 -26.1,27.6 -25.7,28.2 -25.7,29.0 -25.6,29.4 -26.0,30.2 -25.7,30.9 -26.1,31.7 -26.1,32.4 -25.8,33.1 -26.4,34.0ZM-26.7,37.4 -27.3,37.0 -27.0,36.0 -26.9,35.4 -27.1,35.0 -26.5,35.8 -25.8,36.5 -26.2,37.0ZM1.9,24.6 2.8,24.8 3.5,24.9 3.8,23.9M3.8,25.3 3.2,24.5 3.9,24.1 3.0,23.7 3.3,22.9 2.6,23.4 2.4,23.8 2.2,24.8 2.1,25.5M0.8,24.6 -0.0,24.9 0.4,24.0 -0.1,23.6M0.6,22.3 0.3,21.8 -0.4,22.0 -0.8,21.2 -0.6,20.9 -0.9,20.1 -1.3,19.5 -1.3,18.9M-1.5,19.3 -2.0,18.7 -2.5,19.2 -2.7,20.2 -1.9,20.3M-1.8,21.6 -1.8,22.0 -2.4,22.6 -2.1,23.6 -2.8,24.1M-3.2,24.0 -3.7,24.7 -4.5,24.4 -5.4,24.4 -6.1,23.8M-6.5,23.4 -7.4,23.5 -7.9,23.8 -8.7,23.8 -9.2,23.5M-9.2,22.3 -10.1,22.0 -10.3,21.7 -9.7,21.5M-11.0,22.1 -10.8,21.4 -11.8,21.1 -12.2,20.7 -12.4,19.8 -12.8,19.8 -13.4,19.1 -14.2,18.9M6.3,14.0 5.9,14.3 5.5,14.6 4.6,14.4 3.8,13.8M3.1,13.2 3.5,12.3M8.0,25.0 8.2,24.3 7.9,23.8 7.7,23.4 6.8,23.2 6.4,22.6 5.7,22.1M4.1,20.6 3.2,20.2 2.7,20.6 2.1,20.4M3.0,20.7 2.1,20.6 1.8,20.3 2.1,19.7 1.3,19.2M-1.0,20.1 -1.2,19.4 -0.7,19.0 0.2,18.6 0.9,18.6 1.5,18.6M3.2,18.1 3.9,17.6 4.6,17.8 5.1,17.9 5.5,18.5 6.0,18.8 6.8,18.9M7.3,21.0 7.6,21.8 8.3,21.8 8.3,22.8 9.0,22.8 9.6,22.8 10.6,22.5 11.1,23.3M-9.9,19.7 -9.5,19.7 -8.9,19.2 -9.4,18.9 -9.2,17.9 -9.5,17.4M-9.4,17.0 -9.0,16.7 -8.3,16.3 -7.2,16.4M-7.9,15.8 -7.3,16.1 -6.7,16.3 -5.7,16.4M-4.9,17.4 -4.4,18.1 -4.0,18.9 -4.7,19.4 -3.8,19.4 -3.8,20.1 -4.5,20.7 -3.8,21.6M-4.9,21.7 -5.7,21.9 -5.9,21.0 -6.7,21.8 -7.2,21.1 -8.0,20.9M-7.4,22.4 -8.2,22.1 -8.1,21.2 -9.0,21.0 -9.1,20.3M-11.5,17.3 -11.4,18.3 -10.6,18.4 -10.2,17.6 -9.6,17.7 -9.3,17.5 -8.5,17.1M-7.6,16.6 -7.7,15.7 -8.3,15.0 -8.9,15.4 -9.3,15.2M-11.1,13.4 -11.4,14.3 -12.1,14.2 -12.5,15.0M0.8,15.4 1.4,15.4 2.1,15.5 2.7,15.5M2.6,15.9 3.3,15.8 3.6,14.9 3.1,14.1 3.7,13.4M1.7,11.7 1.2,12.3 1.1,12.8 0.9,13.4 0.7,14.5M-0.8,16.8 -0.2,17.3 0.3,17.7 0.9,17.8 1.5,17.9M0.1,17.1 0.9,17.0 1.6,16.8 2.4,16.3 2.1,15.5M2.9,14.7 2.3,14.6 1.6,14.6 0.9,14.5M-1.2,14.2 -1.7,14.0 -2.2,13.8 -2.1,14.9 -2.8,14.9M-0.5,13.7 -0.0,13.6 0.4,13.5M-6.8,13.5 -6.3,14.1 -5.8,14.8M-5.4,16.5 -4.8,16.5 -4.1,15.9M-4.4,14.6 -5.0,14.2 -4.9,13.5 -5.5,13.2M-4.3,13.9 -4.8,13.5 -5.0,14.3 -5.9,13.9M-1.0,18.3 -0.2,18.7 0.8,18.5 0.9,17.9M0.8,18.9 1.4,18.4 1.0,17.8 0.1,17.5 -0.9,17.8M-1.0,18.2 -0.9,19.0 -1.1,19.8M-4.6,18.9 -4.0,19.3 -3.4,19.7 -3.6,18.9 -2.8,18.3 -2.8,17.9 -3.0,17.1M-3.1,17.1 -3.8,17.3 -3.8,18.0 -3.8,18.9M-3.0,22.8 -2.6,22.9 -1.9,23.3 -1.6,22.5M-2.9,22.1 -3.6,21.5 -4.3,21.8M-2.5,21.6 -2.5,22.2M-3.4,16.7 -2.9,16.9 -2.3,17.1M-1.6,15.6 -1.0,14.9 -0.5,14.5 -1.3,13.9 -2.1,14.0 -2.8,14.7 -2.7,15.2M-7.2,13.1 -6.8,13.5 -6.4,13.9M-8.4,14.1 -7.5,13.5 -7.8,13.0 -7.8,12.4 -8.7,12.5M-8.7,11.2 -9.2,11.9M-4.3,12.1 -3.7,12.3 -3.2,12.5 -2.9,12.3 -2.6,11.6 -3.0,11.2M3.0,18.9 4.0,18.8 4.0,18.0 3.1,17.9 3.0,18.9M31.3,-13.0 30.8,-12.6 30.1,-13.3 29.4,-13.8 29.5,-14.6M29.6,-15.1 29.3,-15.9 28.5,-16.1 28.6,-15.7 28.2,-15.0 28.4,-13.9 29.1,-13.8 29.6,-13.7 29.9,-12.7 30.3,-12.5M31.1,-12.6 30.9,-12.4 30.7,-11.5 30.0,-11.2 29.5,-10.9 29.0,-10.5 28.2,-10.5M25.7,-12.4 24.7,-12.6 24.3,-11.8 24.7,-11.1 25.6,-10.8 26.2,-11.1M27.6,-10.8 28.2,-9.9 29.1,-10.2 29.9,-10.3 30.7,-10.5 31.4,-10.7 31.3,-11.6 32.3,-11.7M32.1,-9.9 32.3,-9.6 33.2,-9.3M31.9,-14.2 31.4,-13.9 30.7,-14.5M29.4,-15.0 29.0,-15.9 28.3,-16.1 28.7,-15.7 28.0,-14.9 28.8,-14.6 28.9,-13.8 29.5,-13.5 29.9,-13.4 30.1,-12.5M29.7,-12.9 29.9,-12.0 29.2,-11.8 28.6,-11.6 28.0,-11.2 27.3,-10.3 26.7,-10.8 25.7,-10.9 25.0,-10.9 24.6,-11.3M25.7,-11.9 24.8,-12.2 24.4,-11.4 24.8,-10.7 25.7,-10.0 26.2,-10.7M25.4,-9.3 26.4,-9.1 27.0,-8.9 28.1,-9.2 28.5,-8.3 29.4,-8.3 30.1,-8.6 30.5,-9.5 30.7,-9.8M32.5,-10.4 33.2,-10.3 33.5,-9.8M34.1,-7.1 33.3,-6.6 34.0,-6.3M34.3,-5.1 34.5,-4.4 34.2,-4.1 33.7,-3.4M33.9,-3.0 33.6,-2.3 32.5,-2.6 31.8,-2.1 31.1,-2.4M31.1,-1.9 30.6,-2.5 30.1,-2.7 29.9,-3.5 29.1,-3.6M29.2,-4.8 28.8,-5.2 28.1,-5.4 27.5,-5.1 26.9,-5.9M25.7,-6.4 25.2,-6.8 24.4,-6.6 23.7,-7.1 23.1,-7.0 22.2,-7.2M23.3,-6.3 22.7,-6.9 22.2,-6.8 21.4,-7.1M21.0,-6.3 20.3,-6.9 19.7,-6.7 19.4,-7.5M19.5,-9.5 19.3,-10.3 18.9,-11.2 19.4,-11.5 19.8,-11.9M33.0,-6.5 32.2,-6.0 32.9,-5.7 33.5,-5.0 34.1,-4.9 34.3,-4.2M35.3,-4.1 34.9,-3.9 34.5,-3.2 34.1,-2.5 33.1,-2.7 32.4,-3.2 31.8,-2.6M32.6,-3.6 32.1,-3.1 31.4,-3.6 31.2,-4.5 30.4,-4.4 29.8,-4.3 29.5,-5.3 28.5,-5.3 28.5,-5.9M27.0,-4.9 26.4,-5.6 25.7,-5.1 24.9,-4.9 24.3,-5.4M24.5,-6.3 23.6,-6.5 22.9,-6.8 22.5,-7.0 21.7,-7.4 21.0,-7.9M18.7,-8.6 18.0,-9.2 17.9,-10.0 18.4,-10.7 18.0,-11.1M19.0,-11.0 19.4,-11.4M-37.6,-34.6 -37.6,-35.2 -37.9,-36.1 -37.9,-37.2 -37.8,-38.0 -36.9,-38.2 -36.6,-38.8M-36.2,-39.2 -36.4,-40.2 -35.7,-40.8 -35.4,-41.9 -35.6,-42.4 -35.9,-43.2 -36.2,-44.1 -35.9,-44.8M-37.4,-46.9 -37.8,-47.4 -38.8,-47.1 -39.4,-47.9 -39.5,-48.4 -40.2,-49.0 -40.6,-49.5 -40.5,-50.3 -40.1,-51.2M-45.8,-53.5 -46.0,-53.0 -46.5,-52.4 -46.2,-51.5 -45.7,-50.6 -45.0,-50.9 -44.1,-50.2M-43.0,-49.3 -42.8,-49.7 -42.2,-50.5 -43.0,-51.4M-43.0,-52.2 -43.5,-53.0 -44.0,-53.2 -44.8,-53.5M-43.1,-50.4 -43.7,-49.8 -44.1,-49.0 -44.7,-48.2 -44.9,-47.4M-45.7,-45.8 -45.9,-45.0 -46.9,-45.0 -47.5,-45.3 -48.2,-45.6 -48.5,-44.4 -48.1,-43.7 -48.6,-43.0M-48.6,-42.0 -48.5,-41.5 -49.1,-40.9 -49.4,-40.1 -49.0,-39.4 -48.9,-38.5 -47.8,-38.2M-47.5,-37.5 -46.7,-37.0 -46.8,-36.2 -46.0,-36.5 -45.4,-35.8M-44.3,-34.6 -44.1,-35.7 -44.1,-36.5 -44.9,-36.7 -45.3,-37.2 -45.8,-37.7 -45.6,-38.8 -46.3,-39.2M-45.7,-42.0 -44.9,-42.0 -45.3,-42.8 -46.0,-43.2 -45.8,-44.4 -45.1,-45.2M-44.3,-46.4 -44.1,-47.2 -44.0,-47.8 -43.9,-48.5 -43.7,-49.1 -44.0,-49.4M-46.0,-49.1 -45.7,-48.3 -46.4,-47.8 -47.1,-47.2 -47.1,-46.5M-46.4,-46.2 -45.6,-46.0 -45.4,-46.8 -44.8,-47.4 -44.7,-48.4 -45.3,-48.8M-41.8,-35.3 -42.2,-34.5 -41.6,-33.9 -42.3,-33.5 -43.1,-32.6 -43.1,-31.8 -42.6,-30.8 -43.1,-30.0M-43.9,-30.7 -43.4,-30.0 -42.7,-30.2 -42.3,-31.2 -41.5,-31.6 -40.6,-31.2 -39.8,-31.5M-40.8,-32.0 -41.4,-32.8 -41.2,-33.8 -41.6,-34.7 -42.3,-35.1M11.6,65.8 12.5,65.3 13.1,64.2 13.9,63.5 14.5,62.7 15.1,61.5M15.1,61.0 14.6,60.2 14.3,59.1 14.0,58.2 13.5,57.3M13.5,58.2 13.7,59.1 14.2,59.8 14.3,58.8 14.6,57.9 15.0,56.7M15.3,56.4 15.4,55.2 15.7,54.3M16.0,54.2 16.8,53.8 17.6,52.9 18.8,52.1M18.0,51.0 18.2,49.6 19.2,48.4 20.1,47.0M-32.4,11.7 -32.1,12.6 -32.8,12.9 -33.6,12.8 -34.8,12.7 -35.3,12.1M-33.7,14.7 -33.0,14.8 -32.2,15.4 -31.6,16.3 -30.6,16.1 -29.8,16.1 -29.4,15.8 -28.7,15.6 -28.1,15.8M-27.5,15.3 -27.7,14.7 -28.5,14.5 -28.8,15.3 -29.9,15.6 -29.2,16.3M-26.9,16.6 -26.0,17.4 -26.4,18.6 -25.7,19.3 -25.2,19.8 -24.8,20.8M-33.0,15.5 -32.7,16.2 -31.9,16.4 -31.1,15.9 -32.0,15.4 -33.0,15.5M24.0,23.6 23.2,24.0 22.5,23.6 21.6,23.8 20.9,24.0 20.1,23.6 19.2,23.2 18.6,22.5 17.8,22.6M18.2,22.8 17.3,22.6 16.9,22.0 16.1,21.8 15.5,20.9M14.0,19.5 14.2,18.2 13.4,18.3 12.8,18.3 12.0,17.5M18.4,7.2 19.1,8.3 19.7,7.9M20.1,7.7 20.2,8.6 20.9,9.1 20.8,9.9 21.1,10.5 20.8,11.4M20.7,12.3 20.4,13.1 20.8,13.8 21.4,14.8 21.7,15.4 21.3,16.4 21.4,17.1 21.0,18.0M21.7,19.8 22.3,20.7 22.5,21.5 23.0,22.4 23.6,22.9M23.3,22.8 23.4,23.7M25.4,8.7 24.6,9.1 25.1,10.1M24.8,10.2 25.8,9.6 25.6,10.6 26.5,9.9M-11.6,-10.9 -12.6,-10.6 -12.9,-10.1M-13.1,-10.6 -13.4,-10.1M-12.4,-8.7 -11.9,-9.0 -11.6,-9.4 -11.2,-9.8M-13.5,-12.2 -14.2,-11.5 -13.5,-11.3 -13.5,-12.2M-3.2,-14.4 -3.7,-13.2 -4.3,-13.5M-4.5,-13.8 -5.0,-13.7 -5.6,-13.7 -6.4,-14.5M-6.7,-14.7 -6.6,-15.5 -6.2,-16.3 -7.0,-16.6M-6.6,-15.6 -7.2,-15.5 -7.8,-15.4 -8.5,-14.9 -9.1,-14.4M-10.1,-15.1 -11.0,-15.2 -12.0,-15.9 -13.0,-16.5 -13.4,-15.4M-13.9,-14.0 -14.7,-13.2 -14.0,-12.3M-14.6,-12.2 -15.2,-11.6 -15.8,-11.0"/></pattern>
<g transform="translate(98.7,121.9)">
<circle r="86.6" fill="#f6f6f6"/>
<g clip-path="url(#mc)">
<path fill="#fddcc9" d="M-4.1,-68.6 3.5,-68.9 10.5,-67.9 13.5,-66.9 16.1,-65.6 17.5,-64.3 18.5,-62.6 18.8,-60.6 18.3,-58.6 15.1,-53.6 14.9,-52.6 15.3,-51.6 20.5,-46.4 23.1,-42.5 25.0,-37.5 25.1,-33.5 23.5,-29.3 20.5,-25.7 17.5,-23.7 12.1,-21.5 12.3,-20.5 17.5,-18.3 20.5,-16.5 24.5,-12.7 27.5,-8.2 29.5,-3.8 30.5,2.5 30.5,22.7 29.9,25.5 29.0,27.5 26.3,30.5 22.6,33.5 13.5,38.2 8.5,43.1 6.5,44.2 4.5,44.7 1.5,44.5 -0.5,43.8 -2.2,42.5 -3.5,41.0 -4.7,37.5 -4.0,32.5 -4.4,30.5 -10.5,22.1 -12.2,29.5 -13.4,31.5 -14.5,32.6 -17.5,34.1 -21.5,34.7 -24.5,34.5 -27.5,33.1 -29.5,31.0 -31.5,27.7 -33.5,22.7 -35.5,15.5 -36.5,13.5 -38.5,12.0 -48.7,9.5 -54.6,7.5 -59.1,5.5 -62.5,3.5 -65.8,0.5 -67.7,-2.5 -69.3,-6.5 -70.2,-11.5 -70.1,-16.5 -69.0,-21.5 -67.0,-25.5 -63.6,-29.2 -59.6,-31.4 -55.6,-32.2 -50.6,-31.9 -45.6,-30.3 -41.5,-28.0 -38.5,-25.5 -35.5,-21.8 -33.5,-18.4 -31.5,-13.6 -30.2,-1.5 -29.2,2.5 -28.2,4.5 -25.5,7.0 -16.7,12.5 -12.5,16.2 -11.4,10.5 -4.9,-2.5 -1.5,-14.2 -0.5,-16.1 1.5,-18.0 7.2,-20.5 8.1,-21.5 4.5,-23.2 1.5,-25.4 -0.5,-28.1 -2.5,-33.2 -3.5,-37.5 -3.5,-41.5 -2.7,-44.6 -0.3,-48.6 -0.1,-49.6 -1.5,-50.8 -8.6,-52.6 -13.7,-54.6 -16.6,-56.6 -17.5,-57.7 -18.3,-59.6 -18.0,-61.6 -17.5,-62.6 -14.5,-65.3 -9.5,-67.5Z"/>
<path fill="#d5e7f1" d="M32.9,-63.6 35.5,-64.0 37.5,-63.8 40.5,-62.6 42.5,-61.1 44.6,-58.5 46.1,-54.6 46.4,-51.6 46.1,-46.6 46.4,-45.6 47.5,-44.6 54.6,-41.2 61.6,-36.1 62.6,-35.8 63.6,-36.0 68.6,-42.1 71.6,-44.0 73.6,-44.4 75.6,-44.0 78.6,-42.0 80.6,-39.6 82.4,-36.5 85.2,-28.5 86.9,-18.5 87.2,-7.5 86.4,0.5 84.7,8.5 82.6,14.1 79.6,18.9 77.6,20.9 75.6,22.0 71.6,22.6 69.6,23.5 63.6,30.5 60.6,33.5 57.6,35.7 50.8,39.5 49.9,41.5 49.3,48.6 47.9,53.6 45.3,58.6 41.5,63.0 38.5,65.4 34.5,67.6 30.5,68.7 26.5,68.9 23.5,68.4 20.5,67.2 18.2,65.6 16.2,63.6 13.3,58.6 12.5,55.6 12.2,51.6 13.3,46.6 16.1,41.5 18.2,39.5 30.3,30.5 31.2,29.5 31.9,27.5 31.4,14.5 31.3,-1.5 30.2,-6.5 27.2,-14.5 26.6,-19.5 27.6,-25.5 31.9,-36.5 32.2,-38.5 31.7,-39.5 26.5,-46.1 24.8,-49.6 24.5,-51.6 25.3,-54.6 27.5,-58.8 30.5,-62.3ZM-21.2,-45.6 -17.5,-46.2 -14.5,-45.8 -11.5,-44.6 -9.5,-42.9 -6.5,-37.8 -4.5,-31.6 -3.5,-26.5 -3.3,-13.5 -3.5,-10.0 -4.5,-5.7 -6.5,-0.5 -8.5,3.4 -11.5,7.6 -13.5,9.1 -14.5,9.4 -18.5,8.5 -22.5,6.4 -25.5,3.8 -27.5,0.5 -28.5,-2.9 -28.8,-5.5 -28.7,-15.5 -30.6,-21.5 -31.5,-25.5 -31.4,-31.5 -29.5,-37.5 -27.7,-40.5 -26.0,-42.5 -23.5,-44.5ZM-66.9,9.5 -64.6,8.9 -61.6,8.8 -53.4,10.5 -42.0,14.5 -40.4,15.5 -38.5,17.4 -37.5,19.5 -35.5,26.3 -34.8,31.5 -35.0,34.5 -36.1,37.5 -38.2,40.5 -40.5,43.0 -43.5,45.3 -47.6,47.4 -51.6,48.7 -55.6,49.1 -59.6,48.8 -63.6,47.6 -67.4,45.6 -70.6,42.8 -73.1,39.5 -75.0,35.5 -76.1,31.5 -76.4,27.5 -75.8,22.5 -74.5,18.5 -72.5,14.5 -70.0,11.5ZM-20.3,39.5 -17.5,39.5 -15.5,40.0 -13.5,41.2 -12.1,42.5 -10.8,44.6 -9.5,47.6 -8.3,53.6 -8.3,57.6 -8.9,61.6 -11.5,68.9 -13.5,72.1 -15.5,73.0 -17.5,73.4 -21.5,72.9 -23.5,71.8 -25.7,69.6 -28.4,64.6 -29.8,57.6 -29.4,50.6 -27.4,44.6 -26.1,42.5 -24.5,41.1 -22.5,40.1ZM-10.7,72.6 -7.5,71.9 -4.5,72.0 -1.5,73.4 0.6,75.6 1.7,78.6 1.5,81.6 0.0,84.6 -2.3,86.6 -5.5,87.6 -8.5,87.2 -11.3,85.6 -12.9,83.6 -14.0,80.6 -13.8,76.6 -12.5,73.8Z"/>
<path fill="#f8b99c" d="M9.3,-45.6 12.5,-45.4 15.5,-44.1 18.1,-41.5 19.4,-38.5 19.6,-35.5 18.5,-32.5 15.5,-29.6 12.5,-28.4 8.5,-28.4 5.5,-29.7 2.6,-32.5 1.5,-35.5 1.7,-39.5 3.5,-42.5 6.1,-44.6ZM-55.5,-23.5 -53.6,-23.9 -50.6,-23.8 -45.6,-22.1 -40.9,-18.5 -37.5,-14.2 -35.2,-8.5 -34.5,-2.5 -34.9,0.5 -35.7,2.5 -37.1,4.5 -38.4,5.5 -40.5,6.4 -43.5,6.7 -46.6,6.5 -50.6,5.4 -53.6,4.1 -56.6,2.1 -58.6,0.3 -60.6,-2.5 -62.0,-5.5 -62.8,-8.5 -63.1,-12.5 -62.6,-15.5 -61.6,-18.3 -60.1,-20.5 -57.7,-22.5ZM4.6,-15.5 9.5,-16.3 14.5,-15.6 19.5,-13.2 23.5,-9.9 26.5,-6.0 28.6,-1.5 29.6,3.5 30.0,12.5 29.8,18.5 29.0,22.5 27.7,25.5 25.4,28.5 22.5,31.1 18.5,33.4 15.5,34.4 9.5,35.7 4.5,38.2 2.8,37.5 2.4,36.5 2.3,34.5 1.7,32.5 -3.5,26.2 -5.9,22.5 -8.1,17.5 -9.3,11.5 -8.5,6.5 -1.5,-10.4 0.5,-13.2 2.5,-14.6ZM-27.3,12.5 -25.5,12.5 -22.5,13.9 -20.5,15.7 -18.7,18.5 -17.8,21.5 -17.9,24.5 -18.8,26.5 -20.5,28.0 -22.5,28.5 -25.5,27.5 -27.7,25.5 -29.5,22.5 -30.5,18.5 -30.3,15.5 -29.2,13.5Z"/>
<path fill="#afd3e7" d="M-17.7,-41.5 -15.5,-41.4 -12.5,-40.1 -9.8,-37.5 -8.1,-34.5 -7.0,-31.5 -6.3,-27.5 -6.8,-18.5 -4.9,-13.5 -4.5,-11.5 -4.5,-8.5 -5.5,-4.3 -7.5,0.5 -10.5,4.7 -12.5,6.2 -14.5,6.8 -18.5,6.3 -20.5,5.4 -23.1,3.5 -24.8,1.5 -25.9,-0.5 -27.1,-5.5 -27.0,-9.5 -25.9,-15.5 -28.1,-24.5 -28.2,-28.5 -27.7,-31.5 -26.2,-35.5 -23.9,-38.5 -20.5,-40.9ZM41.3,-38.5 43.5,-39.2 46.6,-39.4 51.6,-38.1 55.6,-35.5 59.6,-30.5 61.8,-25.5 62.8,-20.5 62.9,-16.5 62.3,-8.5 65.9,-0.5 67.4,5.5 67.6,10.5 67.0,15.5 65.1,21.5 62.9,25.5 59.6,29.5 56.6,31.9 53.6,33.4 49.6,34.4 46.6,34.4 43.5,33.9 41.5,33.2 38.5,31.2 36.5,29.1 34.5,26.0 33.2,22.5 32.4,18.5 31.8,7.5 32.8,-4.5 30.1,-14.5 29.8,-18.5 30.1,-22.5 31.5,-27.5 34.1,-32.5 37.5,-36.4ZM-60.8,15.5 -56.6,14.5 -50.8,15.5 -45.6,18.2 -42.7,21.5 -41.6,25.5 -41.7,27.5 -42.4,30.5 -43.5,32.9 -45.6,35.5 -49.6,38.4 -54.6,39.7 -57.6,39.4 -59.6,38.9 -63.6,36.3 -66.2,32.5 -67.3,27.5 -66.6,22.5 -64.5,18.5 -62.6,16.6ZM28.9,40.5 32.5,39.7 35.5,40.5 37.6,42.5 38.6,45.6 38.3,49.6 36.5,53.0 33.5,55.7 30.5,56.8 27.5,56.5 25.5,55.4 24.1,53.6 23.2,50.6 23.4,47.6 24.6,44.6 26.5,42.2ZM-19.9,46.6 -17.5,46.8 -15.5,48.4 -14.0,51.6 -13.4,54.6 -13.5,57.6 -14.5,61.2 -16.5,64.0 -18.5,64.9 -20.5,64.6 -22.5,63.0 -23.9,60.6 -24.7,56.6 -24.5,53.1 -23.5,49.9 -21.8,47.6Z"/>
<path fill="#f09575" d="M-51.3,-14.5 -49.3,-14.5 -46.8,-13.5 -44.6,-11.5 -43.5,-9.8 -42.7,-7.5 -42.7,-4.5 -43.5,-2.5 -44.8,-1.5 -46.6,-1.0 -49.6,-1.4 -52.6,-3.5 -54.0,-5.5 -54.9,-8.5 -54.6,-11.5 -53.3,-13.5ZM7.3,-13.5 10.5,-13.7 14.5,-13.0 17.5,-11.7 20.7,-9.5 23.5,-6.6 25.7,-3.5 27.5,0.4 28.5,4.5 29.0,9.5 28.9,14.5 28.4,18.5 27.1,22.5 24.5,26.4 21.5,29.2 18.5,31.0 14.5,32.2 10.5,32.4 7.5,31.8 4.5,30.4 0.7,27.5 -2.0,24.5 -4.5,20.5 -6.2,16.5 -7.2,12.5 -7.3,8.5 -6.5,4.5 -1.5,-7.5 0.5,-10.2 2.5,-11.8Z"/>
<path fill="#87bdd9" d="M-17.6,-37.5 -15.5,-37.3 -13.5,-36.3 -11.7,-34.5 -10.4,-32.5 -9.4,-29.5 -9.2,-26.5 -10.2,-18.5 -6.6,-12.5 -5.8,-9.5 -6.4,-4.5 -8.5,0.3 -11.5,3.5 -14.5,4.6 -18.5,4.0 -21.5,2.1 -24.2,-1.5 -25.2,-5.5 -24.9,-9.5 -22.7,-16.5 -25.1,-24.5 -25.3,-27.5 -24.8,-30.5 -23.5,-33.5 -21.9,-35.5 -19.5,-37.1ZM42.1,-35.5 46.6,-36.3 50.6,-35.4 54.6,-32.6 57.6,-28.5 59.3,-24.5 60.1,-20.5 60.1,-16.5 59.1,-9.5 59.3,-7.5 63.3,0.5 64.3,3.5 65.0,7.5 65.0,12.5 64.3,16.5 63.0,20.5 61.4,23.5 59.2,26.5 56.6,28.9 53.6,30.5 49.6,31.5 46.6,31.5 43.5,30.7 40.5,29.0 38.5,27.3 36.3,24.5 34.7,21.5 33.7,18.5 33.1,14.5 33.0,5.5 35.2,-4.5 34.9,-6.5 33.2,-11.5 32.3,-15.5 32.2,-19.5 32.5,-22.5 33.7,-26.5 35.9,-30.5 38.5,-33.4Z"/>
<path fill="#de6b56" d="M8.7,-11.5 12.5,-11.3 15.5,-10.4 18.5,-8.7 21.2,-6.5 23.5,-3.7 25.4,-0.5 26.8,3.5 27.6,7.5 27.8,11.5 27.4,15.5 26.4,19.5 25.0,22.5 22.5,25.8 19.5,28.2 16.5,29.6 13.5,30.2 10.5,30.2 7.5,29.4 4.5,28.0 1.4,25.5 -1.2,22.5 -3.1,19.5 -4.7,15.5 -5.6,11.5 -5.7,7.5 -5.2,4.5 -3.5,-0.6 -1.5,-4.8 0.5,-7.6 2.5,-9.3 5.5,-10.9Z"/>
<path fill="#559ec9" d="M44.5,-33.5 48.6,-33.3 51.6,-32.0 54.6,-29.2 56.6,-25.8 57.6,-22.5 58.1,-18.5 57.9,-15.5 56.7,-9.5 56.8,-7.5 61.7,1.5 62.9,5.5 63.3,8.5 63.2,12.5 62.8,15.5 61.5,19.5 59.9,22.5 57.6,25.4 55.6,27.1 52.6,28.6 49.6,29.3 46.6,29.2 43.5,28.3 40.7,26.5 38.7,24.5 36.6,21.5 35.5,19.2 34.1,12.5 34.1,8.5 34.5,4.8 37.3,-3.5 37.5,-5.5 34.4,-15.5 34.2,-19.5 34.6,-22.5 36.0,-26.5 38.5,-30.2 41.5,-32.5ZM-18.8,-32.5 -16.5,-32.8 -14.5,-31.7 -13.5,-30.4 -12.7,-27.5 -12.7,-25.5 -13.5,-22.9 -15.5,-20.1 -16.5,-19.5 -17.5,-19.6 -19.5,-21.1 -21.2,-23.5 -21.7,-25.5 -21.8,-27.5 -21.3,-29.5 -20.5,-31.0ZM-17.9,-16.5 -16.5,-17.4 -15.5,-17.4 -12.5,-15.8 -9.5,-13.3 -8.2,-11.5 -7.5,-9.5 -7.4,-5.5 -8.5,-2.3 -10.5,0.5 -13.5,2.3 -16.5,2.4 -19.5,1.1 -22.0,-1.5 -23.1,-4.5 -23.3,-7.5 -22.5,-10.5 -20.5,-13.9Z"/>
<path fill="#c63c3e" d="M8.4,-9.5 11.5,-9.5 14.5,-8.8 17.5,-7.2 19.5,-5.7 21.6,-3.5 23.6,-0.5 25.0,2.5 26.0,6.5 26.2,13.5 25.4,17.5 24.2,20.5 22.5,23.1 20.1,25.5 17.5,27.1 14.5,28.1 11.5,28.3 8.5,27.8 5.5,26.4 2.5,24.2 0.1,21.5 -1.8,18.5 -3.0,15.5 -4.0,11.5 -4.2,7.5 -3.8,4.5 -2.5,0.2 -0.6,-3.5 1.5,-6.2 3.5,-7.8 5.5,-8.8Z"/>
<path fill="#3480b9" d="M43.0,-30.5 46.6,-31.2 49.6,-30.4 52.6,-28.2 54.6,-25.2 55.6,-22.5 56.1,-18.5 55.7,-14.5 54.3,-9.5 54.3,-7.5 55.2,-5.5 58.3,-1.5 60.0,1.5 61.6,7.5 61.8,10.5 61.4,14.5 60.6,17.5 59.2,20.5 57.0,23.5 54.6,25.5 52.6,26.6 49.6,27.4 46.6,27.3 44.6,26.7 42.4,25.5 40.1,23.5 38.5,21.5 36.9,18.5 35.5,12.5 35.4,8.5 36.1,4.5 39.4,-3.5 39.9,-5.5 39.6,-7.5 36.6,-14.5 36.2,-17.5 36.4,-21.5 37.3,-24.5 38.5,-26.7 40.5,-29.0ZM-18.1,-12.5 -15.5,-13.4 -13.5,-13.2 -10.9,-11.5 -9.5,-9.3 -9.1,-6.5 -9.8,-3.5 -11.5,-1.2 -13.5,-0.0 -15.5,0.2 -17.5,-0.3 -19.2,-1.5 -20.6,-3.5 -21.2,-5.5 -20.9,-8.5 -20.0,-10.5Z"/>
<path fill="#a8132a" d="M7.8,-7.5 10.5,-7.7 13.5,-7.2 16.5,-5.8 18.5,-4.4 20.5,-2.3 22.4,0.5 24.5,6.5 24.9,10.5 24.8,13.5 24.1,16.5 22.9,19.5 21.5,21.6 19.5,23.7 17.5,25.1 14.5,26.2 12.5,26.4 9.5,26.1 6.5,25.0 4.3,23.5 2.2,21.5 0.0,18.5 -1.4,15.5 -2.3,12.5 -2.7,8.5 -2.5,5.5 -0.6,-0.5 1.3,-3.5 3.4,-5.5 5.5,-6.8Z"/>
<path fill="#2166ac" d="M45.1,-28.5 47.6,-28.5 49.6,-27.6 51.6,-25.9 53.0,-23.5 53.9,-20.5 54.0,-16.5 53.2,-13.5 51.3,-8.5 51.2,-7.5 52.4,-5.5 56.3,-1.5 58.3,1.5 59.5,4.5 60.3,8.5 60.0,14.5 59.0,17.5 57.6,20.2 55.6,22.6 53.6,24.2 49.6,25.6 46.6,25.4 44.6,24.8 42.5,23.6 40.5,21.7 38.1,17.5 37.1,14.5 36.7,11.5 36.9,7.5 37.9,3.5 39.5,-0.0 42.4,-4.5 42.9,-6.5 38.7,-14.5 38.2,-17.5 38.5,-21.5 39.5,-24.2 41.3,-26.5 42.5,-27.6ZM-16.9,-9.5 -14.5,-10.1 -13.2,-9.5 -12.3,-8.5 -11.9,-7.5 -11.9,-5.5 -12.5,-4.2 -13.5,-3.3 -15.5,-2.9 -17.0,-3.5 -17.9,-4.5 -18.3,-5.5 -18.2,-7.5Z"/>
<path fill="#7d0722" d="M7.6,-5.5 10.5,-5.8 12.5,-5.6 16.9,-3.5 20.6,0.5 22.1,3.5 23.0,6.5 23.3,12.5 22.0,17.5 20.5,20.0 18.5,22.2 16.5,23.5 14.5,24.3 12.5,24.6 9.5,24.2 5.5,22.3 3.5,20.5 1.5,18.0 -0.7,12.5 -1.1,6.5 -0.6,3.5 0.5,0.8 3.5,-3.3 5.5,-4.7Z"/>
<path fill="#134b87" d="M45.3,-25.5 47.6,-25.4 49.6,-24.1 50.7,-22.5 51.7,-19.5 51.6,-16.5 50.6,-13.7 48.6,-11.3 46.6,-10.5 44.6,-11.0 42.5,-12.6 41.3,-14.5 40.5,-17.5 40.7,-20.5 41.5,-22.6 43.2,-24.5ZM45.1,-3.5 46.6,-4.2 48.6,-4.4 50.6,-3.8 53.6,-1.9 55.6,0.1 57.2,2.5 58.8,7.5 59.1,10.5 58.8,13.5 56.9,18.5 55.4,20.5 53.6,22.2 51.6,23.3 49.6,23.8 45.6,23.3 42.5,21.5 39.6,17.5 38.3,13.5 38.1,8.5 39.4,3.5 41.5,-0.2Z"/>
<path fill="#67001f" d="M8.0,-3.5 10.5,-3.8 12.5,-3.6 16.5,-1.5 19.8,2.5 21.5,7.3 21.7,12.5 20.0,17.5 17.5,20.5 15.5,21.8 13.5,22.4 9.5,22.2 7.5,21.4 5.5,20.0 2.5,16.4 0.7,11.5 0.5,6.5 1.6,2.5 2.7,0.5 4.4,-1.5Z"/>
<path fill="#053061" d="M46.2,-1.5 47.6,-1.9 49.6,-1.8 51.6,-1.1 53.6,0.3 56.0,3.5 57.6,8.5 57.3,13.5 55.8,17.5 53.1,20.5 49.6,22.0 47.6,22.0 45.7,21.5 42.8,19.5 40.7,16.5 39.5,12.5 39.5,8.5 40.5,4.4 43.2,0.5Z"/>
</g>
</g>
<g transform="translate(334.4,121.9)">
<circle r="86.6" fill="#f6f6f6"/>
<g clip-path="url(#mc)">
<path fill="#fddcc9" d="M-15.4,-58.6 -11.5,-58.6 -8.0,-57.6 -5.5,-56.0 -1.5,-52.1 -0.5,-51.6 1.5,-51.7 11.5,-55.0 16.5,-55.7 23.5,-55.2 29.5,-53.2 35.5,-49.4 39.5,-44.8 42.5,-38.0 44.6,-29.4 46.1,-14.5 46.7,13.5 46.6,19.0 45.6,27.7 44.6,32.4 43.5,35.0 40.5,39.2 33.2,44.6 25.5,52.0 20.5,56.0 12.5,60.5 8.5,62.0 4.5,62.9 -1.5,63.3 -12.5,61.6 -19.5,62.1 -22.5,61.8 -25.5,60.6 -27.5,59.1 -29.3,56.6 -30.2,53.6 -29.9,49.6 -28.2,44.6 -27.7,41.5 -27.5,29.3 -25.7,8.5 -25.1,-6.5 -24.3,-16.5 -23.2,-21.5 -21.5,-26.2 -14.5,-38.5 -14.6,-39.5 -15.5,-40.5 -19.5,-42.6 -22.5,-45.3 -23.8,-47.6 -24.1,-50.6 -23.2,-53.6 -21.5,-55.7 -18.5,-57.7Z"/>
<path fill="#d5e7f1" d="M61.8,-57.6 65.6,-58.3 69.6,-57.9 73.6,-56.2 77.6,-53.0 80.6,-49.5 83.7,-44.6 86.4,-38.5 88.6,-32.0 88.6,17.4 87.6,20.7 83.4,30.5 80.6,35.0 77.6,38.6 73.6,42.2 69.8,44.6 66.6,45.9 62.6,46.5 59.6,46.2 56.6,45.2 53.6,43.3 51.6,41.4 49.6,38.5 48.6,36.0 47.8,32.5 47.5,28.5 48.8,7.5 49.0,-12.5 48.2,-33.5 48.6,-40.5 50.0,-45.6 52.8,-50.6 56.6,-54.6 59.6,-56.6ZM-57.4,-39.5 -52.6,-39.9 -47.6,-39.2 -42.5,-37.2 -38.5,-34.7 -33.9,-30.5 -30.5,-26.2 -28.5,-21.6 -27.5,-16.8 -26.8,-1.5 -27.5,15.1 -28.5,23.2 -30.5,33.4 -32.7,39.5 -34.5,42.6 -36.5,44.8 -38.5,46.3 -41.5,47.9 -46.6,49.2 -52.6,49.2 -58.6,47.4 -64.6,43.8 -69.6,39.1 -74.4,32.5 -77.9,25.5 -80.3,18.5 -82.0,9.5 -82.5,0.5 -81.8,-7.5 -80.0,-15.5 -77.2,-22.5 -73.6,-28.5 -68.6,-34.0 -63.6,-37.4Z"/>
<path fill="#f8b99c" d="M15.4,-47.6 18.5,-47.6 22.5,-47.0 25.5,-46.1 29.5,-44.1 32.5,-42.0 35.5,-39.1 37.5,-36.3 39.4,-32.5 41.2,-26.5 42.6,-18.5 44.8,9.5 44.8,18.5 43.3,26.5 41.5,30.6 38.5,34.2 29.5,39.7 18.5,49.1 11.5,53.0 5.5,54.8 -0.5,55.2 -4.5,54.6 -12.5,52.4 -18.0,51.6 -19.4,50.6 -19.9,49.6 -20.8,43.5 -23.8,33.5 -24.7,26.5 -24.5,15.0 -23.5,-0.2 -22.4,-8.5 -20.5,-15.5 -18.0,-21.5 -14.5,-27.3 -10.5,-32.6 -5.5,-37.8 -0.5,-41.8 4.5,-44.6 9.5,-46.5ZM-6.5,-0.2 -8.0,1.5 -8.1,3.5 -7.5,4.8 -6.5,5.7 -4.5,5.8 -3.1,4.5 -2.7,3.5 -2.9,1.5 -3.5,0.5 -4.5,-0.2Z"/>
<path fill="#afd3e7" d="M-56.3,-31.5 -51.6,-31.8 -47.6,-31.0 -42.5,-28.7 -38.4,-25.5 -34.5,-21.1 -31.8,-16.5 -30.0,-11.5 -28.9,-5.5 -28.4,3.5 -28.9,12.5 -30.5,22.5 -32.5,29.0 -35.0,33.5 -38.5,37.4 -42.5,39.8 -47.6,41.2 -52.6,41.1 -57.6,39.5 -62.6,36.4 -66.6,32.6 -70.2,27.5 -73.2,21.5 -75.2,15.5 -76.5,8.5 -76.8,1.5 -76.2,-5.5 -74.6,-12.5 -72.0,-18.5 -68.8,-23.5 -64.8,-27.5 -60.6,-30.2ZM59.2,4.5 61.6,4.1 63.6,4.4 66.6,5.7 68.6,7.3 70.3,9.5 71.9,12.5 73.0,16.5 73.4,19.5 73.0,26.5 71.8,30.5 70.4,33.5 68.6,36.0 66.6,37.9 64.6,39.1 61.6,39.8 57.6,39.1 55.6,37.9 53.6,36.0 51.1,31.5 50.0,25.5 50.6,17.7 52.6,11.5 55.6,6.9 57.6,5.2Z"/>
<path fill="#f09575" d="M17.3,-41.5 23.5,-41.3 28.5,-39.5 32.5,-36.4 34.0,-34.5 35.5,-31.5 36.6,-27.5 42.5,7.5 42.8,15.5 42.1,21.5 41.1,24.5 39.6,27.5 36.5,30.9 33.5,32.7 26.0,35.5 18.5,41.5 14.5,44.1 9.5,46.4 5.5,47.4 1.5,47.7 -2.5,47.2 -7.5,45.3 -12.5,41.6 -16.3,36.5 -19.0,30.5 -20.5,24.2 -21.1,15.5 -20.7,5.5 -19.3,-3.5 -17.3,-10.5 -14.3,-17.5 -10.5,-23.6 -5.5,-29.7 -0.5,-34.1 5.0,-37.5 11.5,-40.3ZM-6.5,-2.8 -8.5,-1.9 -9.7,-0.5 -10.4,1.5 -10.5,3.5 -9.8,5.5 -8.5,7.1 -6.5,8.2 -4.5,8.3 -2.5,7.2 -1.2,5.5 -0.7,3.5 -0.8,1.5 -1.5,-0.3 -2.5,-1.6 -4.5,-2.7Z"/>
<path fill="#87bdd9" d="M-57.0,-25.5 -52.6,-26.2 -48.6,-25.6 -44.6,-23.9 -40.5,-20.9 -37.4,-17.5 -34.5,-12.9 -32.5,-7.9 -31.3,-2.5 -30.7,4.5 -31.1,11.5 -32.3,18.5 -34.0,23.5 -36.5,28.2 -39.5,31.5 -43.5,34.2 -47.6,35.4 -51.6,35.5 -55.6,34.5 -59.6,32.4 -63.6,28.9 -66.6,25.1 -69.1,20.5 -71.0,15.5 -72.3,9.5 -72.9,3.5 -72.7,-1.5 -71.6,-7.5 -69.9,-12.5 -67.6,-17.0 -64.6,-20.8 -60.6,-24.0ZM58.1,13.5 59.6,12.9 61.6,12.8 64.6,14.1 67.3,17.5 68.5,21.5 68.4,26.5 67.0,30.5 64.6,33.4 61.6,34.7 58.6,34.3 56.6,32.9 54.6,30.2 53.4,26.5 53.2,22.5 54.1,18.5 55.6,15.7Z"/>
<path fill="#de6b56" d="M18.9,-38.5 23.5,-38.5 27.5,-37.1 30.7,-34.5 32.5,-31.5 33.2,-29.5 33.4,-26.5 31.9,-19.5 31.9,-17.5 32.4,-15.5 37.5,-3.4 39.8,4.5 40.8,12.5 40.1,19.5 39.1,22.5 37.5,25.4 35.5,27.5 33.5,28.7 29.5,29.8 23.5,30.1 21.2,30.5 12.5,35.8 7.9,37.5 3.5,38.1 -0.5,37.6 -5.5,35.2 -9.5,31.4 -12.5,26.2 -14.5,19.5 -15.0,12.5 -14.7,10.5 -14.0,9.5 -13.5,9.2 -12.5,9.4 -7.5,11.4 -5.5,11.5 -3.5,11.2 -1.5,10.1 0.1,8.5 1.2,6.5 1.8,4.5 1.6,0.5 0.9,-1.5 -0.4,-3.5 -3.5,-5.8 -9.8,-7.5 -10.2,-8.5 -10.0,-10.5 -8.8,-13.5 -6.5,-17.3 -1.5,-23.2 5.5,-28.9 12.0,-35.5 15.5,-37.6Z"/>
<path fill="#559ec9" d="M-57.0,-20.5 -53.6,-21.3 -49.6,-21.0 -46.6,-19.9 -42.9,-17.5 -39.9,-14.5 -37.3,-10.5 -35.5,-6.5 -34.1,-1.5 -33.5,3.5 -33.6,9.5 -34.4,14.5 -35.9,19.5 -38.0,23.5 -40.5,26.7 -43.5,29.0 -47.6,30.5 -50.6,30.8 -54.6,30.0 -57.6,28.6 -60.6,26.3 -63.6,22.8 -66.1,18.5 -67.7,14.5 -69.0,9.5 -69.5,4.5 -69.3,-0.5 -68.5,-5.5 -67.2,-9.5 -65.1,-13.5 -62.8,-16.5 -59.6,-19.2ZM59.2,21.5 60.6,20.6 61.6,20.8 62.9,22.5 62.9,25.5 61.6,27.1 60.6,27.3 59.6,26.8 58.7,25.5 58.4,23.5Z"/>
<path fill="#c63c3e" d="M17.1,-35.5 20.5,-36.4 24.5,-36.0 27.5,-34.5 30.0,-31.5 30.8,-28.5 30.1,-24.5 27.5,-20.9 24.5,-18.9 21.5,-18.0 17.5,-18.7 14.5,-20.4 12.2,-23.5 11.4,-26.5 12.1,-30.5 14.1,-33.5ZM19.2,-11.5 21.5,-12.3 24.5,-12.1 27.5,-10.9 29.5,-9.4 33.5,-4.8 35.5,-1.2 37.0,2.5 38.6,10.5 38.6,14.5 38.2,17.5 37.2,20.5 35.5,23.2 33.5,24.9 31.5,25.8 29.5,26.1 26.5,25.8 21.5,23.3 19.4,21.5 16.9,18.5 14.2,12.5 12.9,5.5 13.3,-1.5 14.0,-4.5 15.3,-7.5 16.7,-9.5Z"/>
<path fill="#3480b9" d="M-55.2,-16.5 -52.6,-16.9 -49.6,-16.6 -46.6,-15.3 -43.5,-13.1 -41.3,-10.5 -39.0,-6.5 -37.5,-2.5 -36.6,1.5 -36.3,5.5 -36.5,9.5 -37.2,13.5 -38.6,17.5 -40.5,20.8 -42.5,23.1 -45.6,25.2 -48.6,26.2 -51.6,26.3 -54.6,25.5 -57.6,23.8 -59.6,22.1 -61.7,19.5 -63.6,16.2 -65.0,12.5 -66.0,8.5 -66.4,4.5 -66.3,0.5 -65.6,-3.5 -64.3,-7.5 -62.6,-10.7 -60.6,-13.2 -57.6,-15.5Z"/>
<path fill="#a8132a" d="M18.4,-33.5 20.5,-34.2 23.5,-34.0 25.5,-33.1 27.1,-31.5 28.1,-29.5 28.2,-27.5 27.5,-25.4 25.5,-23.2 23.5,-22.3 20.5,-22.0 17.5,-23.1 15.9,-24.5 14.9,-26.5 14.9,-29.5 15.9,-31.5ZM23.0,-5.5 24.5,-5.9 26.5,-5.8 28.5,-4.9 30.5,-3.4 33.5,0.6 35.6,5.5 36.5,11.5 35.9,16.5 35.1,18.5 33.7,20.5 32.5,21.5 30.5,22.3 28.5,22.4 26.5,21.8 23.5,19.8 20.9,16.5 18.8,11.5 17.9,5.5 18.5,0.5 20.4,-3.5Z"/>
<path fill="#2166ac" d="M-56.0,-11.5 -53.6,-12.4 -51.6,-12.5 -48.6,-11.7 -46.6,-10.6 -44.6,-8.8 -42.5,-6.2 -40.8,-2.5 -39.9,0.5 -39.4,7.5 -40.0,11.5 -41.1,14.5 -42.5,17.2 -44.5,19.5 -46.6,20.9 -48.6,21.7 -52.6,21.7 -54.6,21.0 -56.8,19.5 -60.2,15.5 -62.6,9.5 -63.3,2.5 -62.2,-3.5 -59.6,-8.5 -57.6,-10.5Z"/>
<path fill="#7d0722" d="M20.0,-30.5 21.5,-30.9 23.5,-30.3 24.6,-28.5 24.5,-27.5 23.8,-26.5 21.5,-25.6 19.3,-26.5 18.6,-28.5 19.0,-29.5ZM25.0,-0.5 27.5,-0.5 29.5,0.7 31.8,3.5 33.3,7.5 33.7,11.5 33.2,14.5 31.5,17.1 29.5,18.0 27.5,17.8 25.5,16.5 23.5,14.1 22.0,10.5 21.5,6.5 21.9,3.5 23.5,0.5Z"/>
<path fill="#134b87" d="M-51.6,-7.5 -48.6,-6.6 -45.6,-3.7 -43.5,0.4 -42.8,4.5 -43.1,8.5 -44.6,12.8 -45.8,14.5 -47.6,16.0 -50.6,17.0 -53.6,16.3 -56.9,13.5 -58.9,9.5 -59.8,4.5 -59.3,-0.5 -57.6,-4.2 -54.6,-6.9Z"/>
<path fill="#053061" d="M-53.1,0.5 -51.6,-0.1 -50.6,0.1 -49.0,1.5 -48.2,3.5 -48.0,5.5 -48.5,7.5 -49.6,9.0 -50.6,9.5 -52.6,9.1 -53.6,8.1 -54.4,6.5 -54.6,3.1 -53.9,1.5Z"/>
</g>
</g>
<g transform="translate(570.1,121.9)">
<circle r="86.6" fill="#f6f6f6"/>
<g clip-path="url(#mc)">
<path fill="#fddcc9" d="M-34.5,-37.5 -30.5,-38.2 -26.5,-37.8 -22.5,-36.7 -18.5,-34.8 -15.2,-32.5 -13.1,-30.5 -11.0,-27.5 -9.2,-23.5 -7.5,-22.1 20.5,-17.1 25.5,-15.8 30.5,-13.9 34.7,-11.5 38.2,-8.5 40.5,-5.4 42.1,-1.5 42.3,1.5 41.5,5.7 39.5,11.9 36.5,17.5 33.9,19.5 31.5,20.6 27.5,21.5 21.5,21.9 10.0,24.5 -2.6,25.5 -3.2,26.5 -1.7,34.5 -1.3,43.5 -1.4,50.6 -2.0,54.6 -3.5,58.6 -5.6,61.6 -8.5,64.2 -12.5,66.0 -15.5,66.2 -18.5,65.6 -21.5,64.1 -23.5,62.4 -26.5,58.6 -29.5,52.6 -30.5,51.5 -35.5,48.4 -37.5,46.2 -39.4,42.5 -40.2,39.5 -40.8,34.5 -40.4,29.5 -39.1,25.5 -37.1,22.5 -34.5,20.5 -31.5,19.4 -27.5,19.2 -22.5,21.0 -20.5,20.4 -19.6,19.5 -19.3,18.5 -21.5,12.9 -22.5,8.8 -22.9,-0.5 -22.3,-11.5 -22.5,-12.9 -24.0,-14.5 -31.3,-18.5 -37.4,-22.5 -39.5,-24.5 -41.1,-27.5 -41.3,-30.5 -40.1,-33.5 -37.5,-36.1Z"/>
<path fill="#d5e7f1" d="M-22.6,-53.6 -19.5,-53.8 -16.5,-53.6 -8.5,-51.8 1.5,-48.3 11.5,-43.6 20.4,-38.5 27.1,-33.5 30.2,-30.5 31.6,-28.5 32.3,-26.5 32.1,-25.5 31.1,-24.5 28.5,-23.9 25.5,-23.9 20.5,-24.6 10.5,-27.5 -1.2,-32.5 -14.4,-40.5 -22.2,-46.6 -23.9,-48.6 -24.9,-50.6 -24.9,-51.6 -24.5,-52.6ZM62.2,-45.6 66.6,-46.2 70.6,-45.7 74.6,-43.9 77.6,-41.6 80.6,-38.2 83.5,-33.5 85.6,-28.5 87.0,-23.5 87.9,-18.5 88.2,-13.5 88.0,-8.5 87.3,-3.5 85.4,3.5 81.1,13.5 79.2,23.5 78.0,27.5 75.4,32.5 71.8,36.5 68.6,39.0 60.4,43.5 59.1,45.6 56.7,51.6 54.4,55.6 51.1,59.6 46.6,63.3 43.5,65.0 39.5,66.7 32.5,68.2 28.5,68.3 24.5,67.9 17.5,65.9 12.5,63.3 9.1,60.6 6.4,57.6 4.2,53.6 2.5,47.8 1.9,42.5 2.1,35.5 3.2,30.5 4.4,28.5 7.7,26.5 17.0,23.5 22.4,22.5 27.5,22.1 31.5,21.2 34.5,20.1 38.2,16.5 40.2,12.5 42.5,6.1 46.2,-1.5 46.4,-4.5 45.0,-12.5 44.7,-18.5 45.3,-22.5 47.4,-28.5 50.1,-34.5 53.6,-39.5 57.6,-43.2ZM-61.2,-22.5 -56.6,-22.7 -44.6,-21.2 -38.5,-19.3 -33.0,-16.5 -28.6,-13.5 -25.9,-10.5 -24.8,-6.5 -24.4,-1.5 -24.5,8.0 -25.9,13.5 -27.7,15.5 -34.5,18.8 -37.5,20.7 -39.6,22.5 -41.1,24.5 -42.2,27.5 -43.0,32.5 -43.5,44.8 -44.3,47.6 -45.6,50.2 -48.6,54.3 -52.3,57.6 -55.6,59.2 -59.6,59.8 -63.6,59.1 -67.6,56.7 -70.8,53.6 -74.2,48.6 -76.9,42.5 -79.1,35.5 -80.3,28.5 -80.9,20.5 -80.7,12.5 -79.8,5.5 -78.2,-1.5 -75.6,-8.5 -72.9,-13.5 -69.6,-17.7 -65.6,-20.9Z"/>
<path fill="#f8b99c" d="M-7.8,-16.5 -4.5,-16.9 -0.5,-16.8 19.5,-13.8 27.5,-11.2 33.5,-7.8 36.5,-5.1 38.5,-2.5 39.5,-0.4 40.3,2.5 40.3,5.5 39.5,9.7 38.5,12.6 36.4,16.5 34.4,18.5 30.0,20.5 8.5,23.2 3.5,22.6 -2.5,21.0 -8.5,18.7 -13.5,15.9 -17.5,12.2 -20.1,7.5 -21.1,2.5 -20.8,-3.5 -19.5,-7.8 -16.5,-12.1 -12.5,-14.9ZM-33.6,22.5 -30.5,21.9 -27.5,23.1 -25.3,25.5 -21.5,32.4 -20.5,32.5 -16.5,30.5 -14.5,30.3 -11.5,31.4 -9.4,33.5 -8.3,35.5 -7.3,38.5 -6.9,44.6 -7.4,47.6 -8.5,50.4 -10.0,52.6 -11.5,54.0 -13.5,54.9 -15.5,55.0 -18.5,53.8 -20.7,51.6 -23.5,45.2 -24.5,44.3 -29.5,45.6 -31.5,45.7 -34.5,44.5 -36.5,42.4 -37.5,40.5 -38.5,37.3 -38.9,33.5 -38.6,30.5 -37.8,27.5 -36.8,25.5 -35.5,23.9Z"/>
<path fill="#afd3e7" d="M65.6,-32.5 68.6,-32.3 70.6,-31.6 74.3,-28.5 76.4,-25.5 77.6,-22.8 79.1,-16.5 79.2,-10.5 78.4,-5.5 77.0,-1.5 73.5,4.5 72.6,7.2 74.2,19.5 73.7,23.5 72.4,27.5 69.7,31.5 66.6,34.4 63.6,36.2 56.4,39.5 55.1,41.5 53.0,48.6 51.0,52.6 47.8,56.6 43.5,60.0 37.5,62.8 30.5,64.0 23.5,63.3 17.5,61.1 13.5,58.6 10.5,55.7 8.2,52.6 6.3,48.6 5.2,44.6 5.0,39.5 5.5,35.5 6.9,31.5 9.1,28.5 13.9,25.5 20.0,23.5 28.5,22.3 33.5,21.1 35.5,20.2 37.5,18.5 39.0,16.5 42.5,9.3 44.6,6.4 46.6,4.6 52.1,1.5 54.5,-0.5 55.0,-2.5 54.0,-9.5 53.8,-14.5 54.3,-18.5 55.4,-22.5 57.4,-26.5 59.6,-29.4 62.6,-31.6ZM-50.7,-16.5 -45.6,-17.5 -40.5,-17.0 -35.5,-15.2 -30.5,-11.6 -28.1,-8.5 -26.6,-4.5 -26.0,1.5 -26.5,6.5 -27.9,10.5 -30.5,13.8 -34.3,16.5 -38.5,18.7 -48.8,22.5 -50.4,24.5 -52.6,29.8 -54.6,33.1 -57.6,35.4 -60.6,35.6 -62.6,34.6 -64.6,32.6 -66.3,29.5 -67.3,26.5 -68.1,22.5 -68.3,18.5 -67.5,10.5 -65.1,-0.5 -64.0,-3.5 -62.0,-7.5 -59.7,-10.5 -56.6,-13.4 -53.6,-15.3Z"/>
<path fill="#f09575" d="M-6.3,-13.5 -3.5,-13.8 0.5,-13.7 17.5,-11.2 25.5,-8.9 31.5,-5.9 34.5,-3.6 36.3,-1.5 37.5,0.6 38.5,3.5 38.8,6.5 38.4,9.5 37.5,12.5 35.9,15.5 32.7,18.5 28.5,20.1 24.5,20.7 10.5,21.4 5.5,20.7 0.5,19.2 -6.5,16.4 -11.5,13.5 -14.8,10.5 -17.4,6.5 -18.4,2.5 -18.2,-2.5 -16.6,-6.5 -14.2,-9.5 -10.5,-12.1ZM-31.7,25.5 -29.5,26.0 -27.9,27.5 -26.5,30.5 -26.0,33.5 -26.4,36.5 -27.5,39.2 -29.5,41.1 -31.5,41.6 -33.5,40.9 -35.4,38.5 -36.2,36.5 -36.6,33.5 -36.2,30.5 -35.4,28.5 -33.5,26.2Z"/>
<path fill="#87bdd9" d="M-46.3,-14.5 -43.5,-14.7 -40.5,-14.3 -37.5,-13.4 -34.5,-11.7 -32.1,-9.5 -30.5,-7.5 -29.1,-4.5 -28.3,-1.5 -28.2,1.5 -28.5,4.7 -29.4,7.5 -31.1,10.5 -33.5,13.0 -36.5,15.0 -39.5,16.3 -42.5,17.0 -45.6,17.1 -48.6,16.7 -51.6,15.7 -54.6,13.9 -56.6,11.9 -58.2,9.5 -59.5,6.5 -60.1,3.5 -60.2,0.5 -59.6,-2.5 -58.5,-5.5 -56.6,-8.5 -54.6,-10.7 -52.0,-12.5 -49.6,-13.7ZM51.3,6.5 55.6,5.8 59.6,6.2 63.6,7.9 66.6,10.6 68.9,14.5 70.0,19.5 69.6,23.5 67.6,27.9 65.3,30.5 62.6,32.5 59.6,33.9 54.6,35.4 52.8,36.5 51.8,38.5 50.2,46.6 48.4,50.6 45.3,54.6 40.5,58.2 34.5,60.4 28.5,61.0 22.5,59.9 19.5,58.7 16.5,56.9 13.7,54.6 11.3,51.6 9.6,48.6 8.4,44.6 8.0,41.5 8.3,37.5 9.4,33.5 11.1,30.5 14.2,27.5 19.5,24.9 25.4,23.5 34.5,22.1 37.5,21.1 39.2,19.5 42.5,13.3 44.6,10.5 47.6,8.0Z"/>
<path fill="#de6b56" d="M-6.6,-10.5 -3.5,-11.1 0.5,-11.1 14.5,-8.7 25.5,-6.1 30.5,-4.0 34.5,-0.7 36.8,3.5 37.2,5.5 37.3,8.5 36.6,11.5 35.5,13.9 33.5,16.5 30.5,18.5 26.8,19.5 22.5,19.8 11.5,19.5 6.5,18.7 0.2,16.5 -7.5,12.9 -10.8,10.5 -13.5,7.5 -15.0,4.5 -15.6,0.5 -14.8,-3.5 -12.9,-6.5 -10.5,-8.7Z"/>
<path fill="#559ec9" d="M-48.4,-11.5 -43.5,-12.3 -38.5,-11.3 -34.3,-8.5 -32.5,-6.3 -31.1,-3.5 -30.4,1.5 -30.8,4.5 -31.5,6.6 -32.6,8.5 -34.5,10.8 -36.8,12.5 -39.5,13.8 -44.6,14.5 -49.6,13.4 -53.6,10.5 -55.2,8.5 -56.7,5.5 -57.3,0.5 -56.0,-4.5 -53.2,-8.5 -50.6,-10.5ZM50.7,10.5 54.6,9.8 57.6,10.1 60.6,11.2 63.6,13.6 65.3,16.5 66.1,20.5 65.5,23.5 63.9,26.5 61.6,28.8 58.6,30.4 55.6,31.1 50.6,31.7 49.1,32.5 48.5,34.5 48.4,42.5 47.0,47.6 45.6,50.1 43.6,52.6 39.5,55.8 34.5,57.8 28.5,58.4 22.5,57.2 17.7,54.6 15.5,52.6 13.1,49.6 11.7,46.6 10.9,43.5 10.7,40.5 11.0,37.5 11.9,34.5 13.6,31.5 15.3,29.5 17.5,27.8 22.5,25.5 30.5,24.2 40.5,24.0 42.0,22.5 43.6,17.5 45.3,14.5 47.6,12.2Z"/>
<path fill="#c63c3e" d="M-6.4,-7.5 -2.5,-8.4 1.5,-8.2 14.5,-4.9 24.5,-4.0 29.5,-2.4 32.5,-0.3 35.1,3.5 35.9,7.5 35.6,10.5 34.9,12.5 32.8,15.5 30.5,17.2 27.5,18.3 24.5,18.6 7.5,16.6 3.5,15.2 -2.4,12.5 -6.5,10.2 -9.5,7.8 -11.2,5.5 -12.3,2.5 -12.4,-0.5 -11.3,-3.5 -9.5,-5.6Z"/>
<path fill="#3480b9" d="M-47.4,-9.5 -44.6,-10.1 -42.5,-10.1 -38.5,-8.9 -35.4,-6.5 -33.1,-2.5 -32.6,-0.5 -32.6,2.5 -33.9,6.5 -36.5,9.7 -40.5,11.8 -44.6,12.2 -48.6,11.2 -52.2,8.5 -54.5,4.5 -55.0,0.5 -54.0,-3.5 -51.6,-6.9 -49.6,-8.5ZM53.0,14.5 55.6,14.4 57.6,15.0 59.7,16.5 60.9,18.5 61.1,21.5 60.3,23.5 58.6,25.3 56.6,26.3 53.6,26.6 51.6,26.2 49.1,24.5 48.0,22.5 47.9,19.5 48.7,17.5 50.6,15.6ZM25.3,26.5 31.5,25.9 34.5,26.3 37.5,27.2 40.2,28.5 42.5,30.5 44.9,34.5 45.7,37.5 45.9,40.5 45.7,43.5 44.7,46.6 43.0,49.6 41.2,51.6 38.5,53.6 35.5,55.0 32.5,55.9 28.5,56.1 25.5,55.7 22.5,54.6 19.5,52.9 17.5,51.2 15.4,48.6 14.0,45.6 13.3,42.5 13.2,39.5 13.8,36.5 15.2,33.5 17.5,30.6 19.5,29.0 22.2,27.5Z"/>
<path fill="#a8132a" d="M-4.2,-4.5 -0.5,-5.0 3.5,-4.1 6.5,-2.5 10.5,0.9 12.5,1.8 14.5,1.4 18.5,-0.7 21.5,-1.7 25.5,-1.8 28.5,-1.0 31.5,0.9 33.9,4.5 34.5,7.5 33.8,11.5 32.5,13.8 30.5,15.7 28.5,16.7 25.5,17.3 21.5,17.0 14.5,14.8 8.5,13.6 5.2,12.5 -3.5,8.2 -5.9,6.5 -7.6,4.5 -8.5,1.8 -8.3,-0.5 -6.5,-3.2Z"/>
<path fill="#2166ac" d="M-46.5,-7.5 -42.5,-7.9 -39.5,-7.0 -36.5,-4.5 -35.0,-1.5 -34.7,1.5 -35.5,4.9 -37.5,7.6 -40.5,9.5 -44.6,10.0 -47.6,9.2 -50.0,7.5 -52.0,4.5 -52.7,0.5 -52.0,-2.5 -49.9,-5.5ZM25.6,28.5 28.5,28.0 31.5,28.1 36.5,29.5 40.5,32.5 42.8,36.5 43.5,41.5 42.9,44.6 42.0,46.6 40.7,48.6 38.8,50.6 34.5,53.0 31.5,53.7 28.5,53.8 23.5,52.6 19.2,49.6 16.5,45.5 15.6,40.5 16.1,37.5 16.8,35.5 18.5,32.9 20.5,31.0 22.9,29.5Z"/>
<path fill="#7d0722" d="M21.9,0.5 24.5,-0.0 27.5,0.4 30.5,2.2 32.2,4.5 33.0,7.5 32.7,10.5 30.9,13.5 28.5,15.2 25.5,15.9 21.5,15.4 18.0,13.5 15.4,10.5 15.1,8.5 16.3,5.5 18.7,2.5Z"/>
<path fill="#134b87" d="M-44.7,-5.5 -42.5,-5.5 -40.0,-4.5 -38.0,-2.5 -37.2,-0.5 -37.2,2.5 -38.0,4.5 -39.9,6.5 -42.5,7.6 -45.1,7.5 -47.4,6.5 -49.3,4.5 -50.1,2.5 -50.1,-0.5 -49.3,-2.5 -47.3,-4.5ZM27.1,30.5 31.5,30.4 35.5,31.8 38.7,34.5 40.6,38.5 40.7,42.5 39.1,46.6 36.5,49.2 32.5,51.1 30.5,51.4 27.5,51.3 23.5,49.8 20.5,47.3 18.5,43.5 18.3,39.5 19.7,35.5 22.5,32.5 24.5,31.4Z"/>
<path fill="#67001f" d="M22.5,2.5 24.5,2.0 27.5,2.4 29.5,3.7 30.8,5.5 31.3,7.5 30.9,10.5 29.5,12.5 28.1,13.5 25.5,14.2 22.5,13.8 20.3,12.5 18.8,10.5 18.4,8.5 18.8,6.5 20.5,3.9Z"/>
<path fill="#053061" d="M-46.0,-1.5 -43.5,-2.4 -41.3,-1.5 -40.2,0.5 -40.5,2.5 -41.3,3.5 -43.5,4.5 -46.0,3.5 -46.8,2.5 -47.0,0.5ZM26.6,33.5 29.5,33.0 32.5,33.5 35.5,35.4 37.1,37.5 37.9,40.5 37.4,43.5 35.5,46.3 33.5,47.7 30.5,48.6 27.5,48.4 24.5,47.1 22.2,44.6 21.2,41.5 21.5,38.5 23.4,35.5Z"/>
</g>
</g>
<g transform="translate(805.8,121.9)">
<circle r="86.6" fill="#f6f6f6"/>
<g clip-path="url(#mc)">
<path fill="#fddcc9" d="M-1.6,-87.6 5.5,-87.6 11.5,-86.2 16.5,-83.8 20.5,-80.2 22.3,-77.6 23.1,-75.6 23.6,-71.6 23.1,-68.6 22.3,-66.6 19.1,-62.6 16.0,-60.6 11.5,-59.2 6.5,-58.7 0.5,-59.0 -4.5,-59.8 -10.3,-61.6 -14.1,-63.6 -17.4,-66.6 -19.0,-69.6 -19.5,-72.6 -18.6,-76.6 -16.9,-79.6 -14.0,-82.6 -10.5,-84.9 -6.5,-86.5ZM-54.0,-64.6 -49.6,-65.3 -46.6,-64.7 -44.6,-63.1 -43.7,-60.6 -43.9,-58.6 -44.7,-56.6 -47.6,-53.1 -51.6,-50.4 -58.4,-47.6 -58.3,-46.6 -52.6,-42.0 -50.0,-38.5 -48.8,-34.5 -49.1,-29.5 -50.2,-26.5 -52.0,-23.5 -54.6,-20.7 -56.6,-19.1 -58.6,-17.9 -61.6,-17.0 -63.6,-16.8 -66.6,-17.2 -69.6,-18.3 -71.6,-19.6 -73.7,-21.5 -75.6,-24.2 -76.7,-26.5 -77.4,-29.5 -77.4,-32.5 -76.9,-35.5 -75.0,-39.5 -71.6,-43.2 -68.6,-45.0 -61.7,-47.6 -61.7,-48.6 -63.3,-51.6 -63.6,-53.6 -63.4,-55.6 -62.6,-57.6 -61.3,-59.6 -59.3,-61.6 -56.6,-63.5ZM-13.7,-13.5 -9.5,-14.2 -4.5,-14.4 0.5,-14.0 4.5,-13.1 9.5,-10.6 13.4,-7.5 15.1,-5.5 16.8,-1.5 18.5,-1.2 25.5,-2.2 30.5,-1.9 33.5,-0.9 35.5,0.3 36.8,1.5 38.1,3.5 38.7,5.5 38.2,8.5 36.5,11.6 34.7,13.5 32.3,15.5 28.8,17.5 22.5,19.6 20.8,20.5 20.0,22.5 18.5,30.6 15.5,38.9 12.5,43.8 10.5,45.8 8.5,46.9 6.5,47.3 4.5,46.9 1.5,45.0 -1.5,40.5 -3.5,34.6 -4.8,26.5 -4.8,19.5 -3.8,14.5 -1.0,8.5 -2.1,7.5 -10.5,6.6 -17.3,4.5 -19.5,3.3 -21.5,1.6 -23.3,-1.5 -23.7,-5.5 -22.5,-8.5 -20.5,-10.5 -18.5,-11.8Z"/>
<path fill="#d5e7f1" d="M-12.8,-54.6 -7.5,-55.0 1.5,-54.6 10.4,-53.6 15.4,-52.6 20.5,-50.9 25.8,-48.6 30.8,-45.6 34.7,-42.5 38.2,-38.5 39.2,-35.5 37.8,-30.5 38.2,-22.5 37.8,-18.5 36.2,-14.5 34.0,-11.5 31.5,-9.3 28.5,-7.7 25.5,-6.9 22.5,-6.7 20.5,-6.9 17.5,-8.0 14.5,-9.8 11.0,-12.5 9.1,-14.5 7.9,-16.5 6.8,-20.5 7.1,-25.5 9.3,-31.5 9.5,-33.5 7.5,-35.2 -0.1,-38.5 -5.5,-41.5 -12.3,-46.6 -14.8,-49.6 -15.5,-51.6 -15.4,-52.6 -14.7,-53.6ZM57.5,-27.5 60.6,-28.0 64.6,-27.6 67.6,-26.6 70.6,-24.9 73.2,-22.5 75.5,-19.5 78.2,-13.5 78.9,-9.5 79.0,-6.5 78.5,-2.5 77.7,0.5 75.2,5.5 70.2,11.5 69.2,13.5 69.9,15.5 74.6,20.3 77.1,23.5 79.2,27.5 80.4,31.5 81.0,36.5 80.7,41.5 79.3,46.6 77.2,50.6 73.6,55.0 68.6,58.5 63.6,60.3 55.6,60.9 52.6,61.7 41.5,70.2 37.5,72.5 33.5,73.9 29.5,74.4 26.5,74.2 17.5,71.6 7.5,73.4 1.5,73.5 -3.8,72.6 -8.2,70.6 -9.9,68.6 -10.0,66.6 -8.5,64.6 -6.8,63.6 -3.4,62.6 0.5,62.0 10.5,62.1 12.7,61.6 13.4,59.6 13.1,53.6 13.7,49.6 22.5,23.4 24.2,21.5 31.5,17.4 35.5,14.4 39.3,10.5 42.2,6.5 44.4,2.5 43.7,-8.5 44.2,-12.5 45.5,-16.5 47.7,-20.5 50.6,-23.8 53.6,-26.0ZM-40.0,-24.5 -37.5,-25.1 -34.5,-24.7 -31.5,-23.0 -28.5,-19.8 -26.5,-16.5 -25.5,-13.5 -25.9,-4.5 -25.3,-1.5 -24.0,1.5 -20.5,6.6 -13.7,11.5 -10.5,15.9 -8.5,21.5 -6.5,31.8 -5.1,41.5 -4.9,47.6 -5.8,51.6 -7.7,55.6 -10.5,58.1 -13.5,58.7 -15.5,58.1 -18.5,56.1 -20.9,53.6 -24.5,48.2 -25.5,47.1 -26.5,46.7 -27.5,47.2 -28.5,48.6 -33.1,56.6 -37.5,61.9 -40.5,64.3 -42.5,65.4 -45.6,66.2 -47.6,66.3 -51.6,65.1 -54.6,62.8 -57.7,58.6 -60.4,52.6 -62.2,45.6 -63.2,38.5 -63.6,30.5 -63.2,21.5 -62.0,12.5 -60.3,4.5 -58.1,-2.5 -55.8,-7.5 -52.7,-12.5 -47.6,-18.7 -43.5,-22.5Z"/>
<path fill="#f8b99c" d="M0.9,-78.6 3.5,-78.6 6.5,-77.8 8.6,-76.6 10.4,-74.6 11.0,-72.6 10.8,-70.6 9.6,-68.6 8.5,-67.6 4.5,-66.0 0.5,-65.9 -3.5,-67.2 -6.1,-69.6 -6.9,-72.6 -5.6,-75.6 -2.8,-77.6ZM-10.7,-11.5 -6.5,-12.0 -2.5,-11.8 1.5,-11.2 5.5,-9.9 8.5,-8.1 10.5,-6.0 11.3,-3.5 10.8,-1.5 9.3,0.5 6.5,2.4 3.5,3.6 -0.5,4.4 -8.5,4.6 -12.5,3.8 -16.2,2.5 -18.5,1.1 -20.5,-1.1 -21.3,-3.5 -21.0,-5.5 -19.7,-7.5 -17.5,-9.2 -14.5,-10.6ZM23.2,1.5 28.5,1.4 31.5,2.4 33.3,3.5 34.5,4.8 35.4,6.5 35.6,8.5 34.9,10.5 32.5,13.5 29.5,15.4 27.5,16.2 23.5,16.8 17.5,15.7 16.5,16.3 17.0,23.5 16.9,27.5 16.0,31.5 14.5,35.5 12.5,38.6 9.5,40.9 7.5,41.3 4.5,40.6 2.5,39.1 0.6,36.5 -1.5,30.5 -1.9,23.5 -1.2,19.5 -0.1,16.5 2.5,12.9 5.5,11.0 8.5,10.5 12.5,11.2 13.5,11.0 15.7,6.5 17.3,4.5 20.2,2.5Z"/>
<path fill="#afd3e7" d="M19.4,-34.5 23.5,-35.0 26.5,-34.3 28.5,-33.2 30.5,-31.6 32.3,-29.5 34.1,-25.5 34.5,-20.5 33.2,-16.5 31.9,-14.5 29.9,-12.5 25.5,-10.4 23.5,-10.0 20.5,-10.1 16.5,-11.6 14.5,-13.0 12.5,-15.2 11.2,-17.5 10.5,-19.5 10.3,-21.5 10.5,-24.5 12.1,-28.5 15.5,-32.4ZM57.3,-19.5 59.6,-20.3 61.6,-20.4 64.6,-19.8 66.6,-18.9 68.6,-17.3 70.1,-15.5 71.2,-13.5 72.2,-10.5 72.4,-5.5 70.9,-0.5 69.6,1.6 67.7,3.5 63.6,5.6 59.6,5.9 57.6,5.4 55.6,4.4 52.6,1.2 50.5,-3.5 50.1,-8.5 51.4,-13.5 53.6,-16.8ZM-42.0,-13.5 -38.5,-14.2 -35.5,-13.5 -32.5,-11.3 -29.5,-6.9 -26.5,1.5 -25.4,6.5 -24.9,23.5 -31.6,40.5 -35.5,47.9 -37.6,50.6 -40.5,53.2 -43.5,54.8 -46.6,55.1 -49.6,54.0 -51.6,52.4 -53.7,49.6 -55.6,45.6 -57.1,40.5 -58.0,35.5 -58.4,29.5 -58.2,22.5 -56.4,10.5 -54.7,4.5 -52.8,-0.5 -50.6,-4.9 -47.6,-9.2 -44.6,-12.0ZM45.6,10.5 49.6,10.7 53.6,12.8 56.2,15.5 61.6,22.5 67.8,28.5 69.6,31.5 70.6,34.5 70.7,38.5 70.1,41.5 68.6,44.6 65.6,47.6 62.6,49.2 57.6,50.5 54.6,52.0 44.6,61.4 39.5,65.1 36.5,66.5 33.5,67.4 30.5,67.7 27.5,67.2 24.2,65.6 21.5,63.0 19.6,59.6 18.3,55.6 17.8,51.6 18.0,46.6 18.9,41.5 20.5,35.9 23.8,27.5 25.5,24.5 27.1,22.5 40.5,12.6 43.5,11.0ZM-20.8,20.5 -18.5,20.0 -16.5,20.6 -15.5,21.4 -13.5,23.8 -11.4,28.5 -10.2,34.5 -10.1,39.5 -10.5,41.9 -11.5,44.5 -13.5,46.5 -15.5,46.6 -18.5,44.4 -20.8,40.5 -22.6,35.5 -24.0,28.5 -24.2,24.5 -23.1,22.5Z"/>
<path fill="#f09575" d="M-10.3,-9.5 -3.5,-9.9 2.5,-8.7 4.8,-7.5 6.9,-5.5 7.3,-4.5 7.3,-2.5 5.9,-0.5 4.5,0.5 -0.5,2.3 -6.5,2.8 -9.5,2.4 -13.0,1.5 -15.5,0.2 -17.3,-1.5 -17.8,-2.5 -17.9,-4.5 -16.7,-6.5 -15.4,-7.5 -13.5,-8.5ZM23.0,5.5 26.5,4.9 29.5,5.8 31.1,7.5 31.4,8.5 30.9,10.5 28.9,12.5 26.5,13.4 24.5,13.4 21.9,12.5 20.3,10.5 20.2,8.5 21.4,6.5ZM6.8,16.5 9.5,16.9 11.5,18.6 13.0,21.5 13.6,25.5 13.1,29.5 11.9,32.5 9.5,35.1 7.5,35.6 5.5,35.0 3.5,33.1 2.2,30.5 1.5,26.5 1.9,22.5 3.1,19.5 4.5,17.7Z"/>
<path fill="#87bdd9" d="M22.1,-31.5 25.5,-31.0 28.5,-29.2 30.7,-26.5 31.7,-22.5 31.0,-18.5 29.0,-15.5 26.0,-13.5 22.5,-12.8 18.9,-13.5 15.9,-15.5 13.8,-18.5 13.1,-21.5 13.7,-25.5 15.5,-28.4 18.5,-30.7ZM-41.0,-6.5 -38.5,-7.2 -35.5,-6.8 -33.5,-5.7 -31.4,-3.5 -29.7,-0.5 -28.3,3.5 -27.7,7.5 -27.7,12.5 -28.3,16.5 -29.9,22.5 -33.5,32.8 -35.6,37.5 -38.2,41.5 -40.5,44.0 -43.5,45.6 -45.6,45.7 -47.6,45.0 -49.6,43.3 -51.3,40.5 -52.5,37.5 -53.9,29.5 -53.8,20.5 -52.0,10.5 -49.0,2.5 -47.3,-0.5 -45.0,-3.5 -42.7,-5.5ZM43.9,15.5 46.6,15.6 49.6,16.8 52.6,19.5 54.5,22.5 56.2,26.5 57.1,30.5 57.2,34.5 56.4,38.5 54.2,43.5 51.0,48.6 47.2,53.6 43.5,57.3 39.5,60.3 36.5,61.8 32.5,62.6 29.5,62.2 27.5,61.4 25.3,59.6 23.5,57.2 22.1,53.6 21.4,49.6 21.4,45.6 21.9,41.5 23.2,36.5 26.7,28.5 28.6,25.5 31.3,22.5 34.5,19.8 38.5,17.3 41.5,16.0Z"/>
<path fill="#de6b56" d="M-9.4,-7.5 -4.5,-8.0 0.5,-6.9 2.5,-5.6 3.2,-4.5 3.2,-2.5 0.9,-0.5 -2.5,0.6 -6.5,0.7 -10.5,-0.1 -13.0,-1.5 -14.1,-3.5 -13.2,-5.5 -11.9,-6.5Z"/>
<path fill="#559ec9" d="M22.4,-28.5 24.5,-28.2 26.5,-27.0 28.3,-24.5 28.8,-22.5 28.3,-19.5 26.8,-17.5 24.5,-16.1 22.5,-15.7 20.5,-16.0 18.0,-17.5 16.6,-19.5 16.1,-22.5 16.5,-24.5 17.8,-26.5 19.5,-27.8ZM-40.2,-2.5 -38.5,-3.1 -36.5,-3.2 -34.5,-2.5 -32.4,-0.5 -30.8,2.5 -29.9,5.5 -29.5,8.5 -29.6,12.5 -31.3,19.5 -34.5,25.9 -37.5,30.1 -40.5,33.5 -42.5,34.7 -44.6,34.8 -46.6,33.4 -47.6,31.8 -48.6,29.0 -49.3,22.5 -49.0,15.5 -47.8,9.5 -46.1,4.5 -43.5,0.4ZM40.0,20.5 42.5,20.0 45.6,20.3 47.9,21.5 49.9,23.5 51.5,26.5 52.3,29.5 52.6,33.5 52.0,37.5 50.8,41.5 48.9,45.6 46.3,49.6 43.5,52.8 40.5,55.3 37.5,57.1 34.5,57.9 31.5,57.8 29.5,57.0 27.8,55.6 26.5,53.9 25.5,51.6 24.6,45.6 25.3,39.5 27.5,33.2 30.9,27.5 35.5,22.9Z"/>
<path fill="#3480b9" d="M-39.6,0.5 -38.5,0.0 -36.5,-0.1 -34.5,0.9 -33.5,1.9 -31.8,5.5 -31.2,10.5 -32.2,16.5 -34.5,21.3 -37.5,24.2 -40.5,25.0 -42.5,24.2 -44.6,21.5 -45.6,17.5 -45.8,13.5 -45.2,9.5 -43.8,5.5 -42.0,2.5ZM38.5,25.5 40.5,24.9 42.5,24.8 44.6,25.4 46.6,27.0 47.6,28.5 48.5,31.5 48.7,34.5 48.4,37.5 46.2,43.5 42.5,48.9 40.5,50.7 37.5,52.5 35.5,53.1 33.5,53.1 30.5,51.5 28.8,48.6 28.0,44.6 28.3,40.5 29.5,36.3 32.0,31.5 35.5,27.5Z"/>
<path fill="#2166ac" d="M-39.1,3.5 -37.5,3.0 -36.5,3.2 -34.7,4.5 -33.5,6.8 -33.0,10.5 -33.5,14.4 -34.9,17.5 -36.5,19.5 -37.5,20.3 -39.5,20.6 -41.5,19.5 -42.5,17.8 -43.2,15.5 -43.4,12.5 -43.0,9.5 -41.8,6.5 -40.5,4.6ZM38.5,31.5 40.5,31.2 41.7,31.5 42.9,32.5 43.9,35.5 43.6,38.5 42.5,41.6 40.5,44.4 37.5,46.5 35.5,46.6 34.5,46.2 33.2,44.6 32.7,42.5 32.9,39.5 33.5,37.3 35.1,34.5 36.5,32.9Z"/>
<path fill="#134b87" d="M-37.6,7.5 -36.3,8.5 -35.7,11.5 -36.5,14.5 -37.5,15.5 -38.5,15.8 -39.5,15.4 -40.1,14.5 -40.5,11.5 -39.5,8.7 -38.5,7.7Z"/>
</g>
</g>
<g transform="translate(1041.5,121.9)">
<circle r="86.6" fill="#f6f6f6"/>
<g clip-path="url(#mc)">
<path fill="#fddcc9" d="M-5.9,-77.6 -1.5,-78.1 3.5,-78.0 7.5,-77.5 11.5,-76.4 14.5,-75.0 16.5,-73.6 17.9,-71.6 18.1,-69.6 17.0,-67.6 13.5,-65.1 9.5,-63.8 4.5,-63.0 -1.5,-62.8 -7.5,-63.5 -11.5,-64.6 -15.0,-66.6 -16.1,-67.6 -17.1,-69.6 -16.9,-71.6 -16.4,-72.6 -14.5,-74.4 -12.5,-75.6ZM-71.9,-49.6 -69.6,-49.8 -66.6,-49.5 -63.6,-48.5 -60.6,-46.8 -55.6,-42.4 -51.3,-36.5 -47.3,-28.5 -44.9,-20.5 -44.6,-17.5 -45.4,-11.5 -45.4,-7.5 -45.2,-4.5 -44.2,-0.5 -42.2,4.5 -38.5,8.3 -36.5,9.3 -33.5,10.3 -27.1,11.5 -22.5,13.5 -15.5,14.2 -13.5,15.1 -9.5,17.7 -8.5,18.1 -7.5,17.6 -5.8,14.5 -6.0,13.5 -9.5,12.0 -12.5,10.0 -15.4,6.5 -17.4,2.5 -18.4,-1.5 -18.6,-5.5 -18.4,-8.5 -17.6,-11.5 -16.0,-14.5 -12.8,-17.5 -9.5,-19.1 -6.5,-19.6 -4.5,-19.3 -0.5,-17.5 2.6,-14.5 4.5,-11.6 6.2,-7.5 6.6,-2.5 5.4,2.5 2.1,9.5 2.5,10.2 3.5,10.5 8.5,11.2 12.5,12.5 15.5,14.1 17.5,15.9 19.5,19.0 20.5,21.7 21.4,26.5 21.5,30.5 20.6,34.5 19.5,36.1 17.5,37.3 13.5,37.6 10.5,37.1 6.5,35.7 1.5,32.9 -3.5,28.8 -4.5,28.3 -5.5,28.9 -6.0,32.5 -5.8,37.5 -5.2,39.5 -1.2,46.6 -0.4,49.6 0.1,53.6 -0.3,57.6 -1.5,61.6 -3.3,64.6 -5.5,66.6 -7.5,67.4 -9.5,67.5 -11.5,66.9 -13.5,65.4 -15.0,63.6 -16.5,60.6 -18.5,52.6 -19.5,50.6 -26.5,45.1 -29.5,44.2 -36.5,44.6 -40.5,44.4 -46.6,43.2 -54.6,39.9 -60.6,35.9 -65.1,31.5 -68.2,27.5 -70.5,23.5 -75.1,13.5 -82.5,3.5 -84.0,0.5 -85.3,-3.5 -87.0,-12.5 -87.5,-21.5 -86.4,-30.5 -84.3,-37.5 -80.9,-43.5 -78.6,-46.1 -76.6,-47.6ZM55.9,-23.5 59.6,-24.5 62.6,-24.0 65.6,-22.1 67.9,-18.5 68.6,-14.5 67.7,-10.5 65.6,-7.3 62.6,-5.4 59.6,-4.9 56.6,-5.6 53.6,-7.7 51.6,-11.1 50.9,-14.5 51.6,-18.5 53.4,-21.5Z"/>
<path fill="#d5e7f1" d="M-0.2,-58.6 6.5,-58.6 11.5,-58.0 16.5,-56.9 21.5,-55.1 25.5,-53.0 29.5,-50.2 32.5,-47.2 35.1,-43.5 36.7,-39.5 37.4,-35.5 37.1,-28.5 36.1,-22.5 34.7,-18.5 32.9,-15.5 30.0,-12.5 26.5,-10.1 22.5,-8.5 18.5,-7.8 14.5,-7.8 10.5,-8.7 7.5,-10.4 2.1,-16.5 -1.5,-19.4 -4.5,-20.4 -9.5,-20.4 -16.5,-17.7 -19.5,-17.7 -22.5,-19.4 -25.0,-21.5 -29.0,-26.5 -31.0,-31.5 -31.4,-34.5 -31.3,-37.5 -29.8,-42.5 -26.4,-47.6 -21.5,-51.8 -15.5,-55.2 -8.5,-57.5ZM-38.0,-18.5 -35.5,-19.2 -33.5,-19.3 -29.5,-18.1 -26.2,-15.5 -24.7,-13.5 -23.2,-10.5 -22.0,-4.5 -22.7,1.5 -23.8,4.5 -25.1,6.5 -26.5,7.9 -28.5,8.9 -32.5,9.4 -36.5,8.5 -38.4,7.5 -41.5,4.2 -43.6,-0.5 -44.6,-7.5 -43.5,-12.6 -41.5,-15.9 -39.5,-17.7ZM32.0,-1.5 35.5,-2.3 39.5,-1.8 43.5,0.0 46.6,2.3 50.3,6.5 52.9,10.5 55.2,15.5 57.1,21.5 58.2,27.5 58.5,33.5 58.0,39.5 56.9,44.6 54.8,49.6 52.6,53.0 49.6,55.8 45.6,57.7 42.5,58.0 39.5,57.6 36.5,56.5 33.5,54.6 30.5,51.8 27.9,48.6 25.6,44.6 24.2,40.5 23.6,36.5 23.1,27.5 21.8,16.5 22.0,11.5 23.3,7.5 25.7,3.5 28.5,0.5ZM-84.3,13.5 -82.6,12.7 -81.6,12.8 -79.6,13.8 -77.6,16.5 -76.5,19.5 -76.2,23.5 -76.9,26.5 -78.6,29.2 -80.6,30.1 -82.6,29.8 -84.3,28.5 -85.6,26.5 -86.5,23.5 -86.8,20.5 -86.4,17.5 -85.6,15.2Z"/>
<path fill="#f8b99c" d="M-5.1,-74.6 0.5,-75.3 6.5,-74.5 10.4,-72.6 11.3,-71.6 11.6,-69.6 9.9,-67.6 5.5,-65.9 -0.5,-65.4 -5.5,-66.1 -9.5,-68.1 -10.6,-69.6 -10.7,-70.6 -9.5,-72.6 -7.9,-73.6ZM-71.7,-38.5 -67.6,-39.2 -63.6,-38.0 -59.6,-35.2 -56.6,-31.7 -54.0,-27.5 -52.2,-23.5 -47.6,-11.0 -44.4,0.5 -43.2,3.5 -41.4,6.5 -38.5,9.0 -29.4,13.5 -21.5,21.4 -16.5,24.1 -14.3,26.5 -13.2,29.5 -13.1,32.5 -13.7,35.5 -15.5,38.3 -16.5,38.9 -18.5,39.3 -24.5,38.1 -32.5,40.4 -36.5,41.0 -43.5,40.5 -48.6,39.1 -54.6,36.1 -59.2,32.5 -62.8,28.5 -65.3,24.5 -68.8,16.5 -76.9,1.5 -79.4,-5.5 -80.8,-12.5 -80.9,-21.5 -80.4,-25.5 -79.2,-29.5 -77.6,-33.0 -75.8,-35.5 -73.6,-37.5ZM-6.7,-18.5 -4.5,-18.3 -2.5,-17.6 -0.5,-16.3 1.3,-14.5 3.6,-10.5 4.6,-5.5 4.0,-0.5 1.8,4.5 -1.5,7.9 -3.5,8.9 -5.5,9.3 -7.5,9.1 -9.5,8.4 -11.5,7.1 -13.1,5.5 -14.4,3.5 -15.7,0.5 -16.6,-4.5 -16.1,-9.5 -15.1,-12.5 -13.9,-14.5 -10.5,-17.4ZM4.2,17.5 6.5,17.1 9.5,17.4 12.5,18.6 15.0,20.5 16.6,22.5 17.7,25.5 17.5,28.3 16.5,29.9 15.5,30.6 13.5,31.2 10.5,31.0 6.7,29.5 4.0,27.5 1.8,24.5 1.1,21.5 1.7,19.5 2.5,18.5Z"/>
<path fill="#afd3e7" d="M-3.6,-51.6 4.5,-52.1 12.5,-50.8 16.1,-49.6 19.5,-47.7 24.5,-43.5 26.6,-40.5 29.5,-35.1 31.0,-31.5 31.9,-27.5 31.8,-23.5 31.0,-20.5 29.3,-17.5 27.5,-15.5 24.5,-13.4 20.5,-11.9 16.5,-11.5 12.5,-12.0 7.5,-14.1 1.5,-19.2 -1.5,-21.1 -5.5,-22.3 -13.5,-23.2 -16.0,-24.5 -18.2,-26.5 -20.3,-29.5 -21.6,-33.5 -21.5,-37.5 -20.0,-41.5 -17.5,-44.7 -13.5,-47.9 -8.5,-50.2ZM-35.4,-16.5 -31.5,-16.0 -27.9,-13.5 -25.3,-9.5 -24.2,-5.5 -24.4,-0.5 -25.9,3.5 -28.5,6.7 -30.5,7.8 -32.5,8.3 -36.5,7.7 -39.5,5.8 -41.5,3.1 -43.5,-2.7 -43.7,-7.5 -42.5,-11.5 -41.1,-13.5 -39.5,-15.0 -37.5,-16.0ZM33.8,3.5 36.5,3.0 39.5,3.4 42.5,4.8 45.6,7.0 48.6,10.5 51.0,14.5 52.8,18.5 54.2,23.5 55.0,28.5 55.1,33.5 54.6,38.5 53.5,42.5 51.7,46.6 49.6,49.3 47.6,51.0 44.6,52.4 41.5,52.7 38.5,52.1 36.5,51.2 33.5,49.0 30.5,45.7 28.5,42.6 27.1,39.5 25.9,35.5 24.3,22.5 24.3,18.5 24.9,14.5 26.4,10.5 28.5,7.2 30.5,5.2Z"/>
<path fill="#f09575" d="M-70.0,-28.5 -67.6,-29.3 -65.6,-29.1 -62.6,-27.6 -60.6,-25.6 -58.6,-22.8 -54.0,-14.5 -48.6,-6.9 -46.6,-2.6 -43.9,4.5 -42.2,7.5 -39.5,9.9 -31.5,14.8 -28.8,17.5 -26.7,20.5 -24.6,25.5 -24.4,29.5 -25.7,32.5 -27.5,34.5 -29.5,36.0 -33.5,37.8 -37.5,38.5 -41.5,38.4 -46.6,37.3 -50.6,35.6 -54.6,33.2 -57.7,30.5 -60.9,26.5 -63.0,22.5 -65.6,15.5 -71.0,4.5 -73.2,-2.5 -74.7,-9.5 -75.2,-15.5 -74.5,-21.5 -72.6,-26.0ZM-9.2,-16.5 -5.5,-17.2 -3.5,-16.7 -1.5,-15.5 1.1,-12.5 2.7,-8.5 3.0,-3.5 1.6,1.5 0.4,3.5 -1.5,5.5 -4.5,6.9 -7.5,6.9 -10.5,5.4 -13.0,2.5 -14.8,-2.5 -14.9,-7.5 -13.8,-11.5 -11.9,-14.5Z"/>
<path fill="#87bdd9" d="M3.0,-38.5 7.5,-39.2 13.5,-38.8 19.5,-37.1 23.5,-34.6 25.5,-32.7 27.0,-30.5 28.4,-26.5 28.1,-22.5 27.3,-20.5 26.0,-18.5 22.5,-15.8 20.5,-15.0 17.5,-14.5 12.5,-15.2 9.6,-16.5 7.5,-18.0 5.1,-20.5 3.0,-23.5 0.8,-27.5 -1.1,-32.5 -1.3,-34.5 -0.5,-36.4 0.7,-37.5ZM-35.7,-14.5 -32.5,-14.3 -29.4,-12.5 -27.1,-9.5 -26.3,-7.5 -25.8,-4.5 -26.1,-0.5 -27.9,3.5 -30.5,6.0 -33.5,6.9 -36.5,6.5 -39.5,4.5 -41.5,1.4 -42.8,-3.5 -42.6,-7.5 -41.4,-10.5 -38.5,-13.5ZM34.0,7.5 36.5,6.9 39.5,7.2 42.5,8.6 44.6,10.2 46.6,12.5 48.6,15.5 50.5,19.5 51.7,23.5 52.7,31.5 52.4,35.5 51.6,39.5 50.4,42.5 48.4,45.6 46.1,47.6 43.5,48.6 41.5,48.9 38.5,48.3 35.5,46.6 33.5,44.9 29.8,39.5 27.3,32.5 26.3,23.5 27.2,16.5 28.3,13.5 30.1,10.5 32.2,8.5Z"/>
<path fill="#de6b56" d="M-7.6,-15.5 -4.5,-15.5 -1.5,-13.8 0.7,-10.5 1.7,-6.5 1.5,-2.5 -0.1,1.5 -2.5,4.1 -5.5,5.2 -8.5,4.7 -10.5,3.2 -12.4,0.5 -13.6,-3.5 -13.6,-7.5 -12.3,-11.5 -10.5,-13.9ZM-64.8,-13.5 -62.6,-13.8 -60.6,-13.2 -56.6,-10.9 -53.6,-8.5 -50.6,-5.3 -48.6,-2.2 -45.0,6.5 -43.9,8.5 -41.7,10.5 -33.8,15.5 -30.1,19.5 -28.1,23.5 -27.6,27.5 -27.9,29.5 -28.9,31.5 -31.5,34.1 -34.5,35.6 -37.5,36.2 -41.5,36.2 -45.6,35.5 -49.6,33.9 -52.6,32.2 -55.7,29.5 -58.2,26.5 -59.9,23.5 -63.0,14.5 -66.9,6.5 -68.6,0.5 -68.9,-4.5 -68.3,-8.5 -67.1,-11.5Z"/>
<path fill="#559ec9" d="M13.3,-32.5 16.5,-33.0 19.5,-32.4 22.5,-30.5 24.1,-28.5 25.0,-25.5 24.6,-22.5 23.4,-20.5 21.0,-18.5 17.5,-17.5 13.5,-18.1 10.5,-19.8 8.4,-22.5 7.7,-25.5 8.4,-28.5 10.5,-31.1ZM-36.8,-12.5 -33.5,-12.8 -30.5,-11.4 -28.3,-8.5 -27.3,-5.5 -27.3,-1.5 -28.4,1.5 -30.5,4.1 -33.5,5.4 -36.5,5.1 -38.5,3.8 -40.5,1.1 -41.7,-2.5 -41.8,-5.5 -40.9,-8.5 -39.5,-10.6ZM35.6,10.5 37.5,10.2 40.5,10.9 42.5,12.1 44.6,13.9 47.7,18.5 50.0,25.5 50.5,32.5 49.3,38.5 47.8,41.5 46.6,43.1 44.6,44.7 42.5,45.4 40.5,45.5 38.5,45.0 36.5,43.9 34.5,42.2 31.3,37.5 30.0,34.5 28.9,30.5 28.3,23.5 29.4,17.5 31.5,13.4 33.5,11.5Z"/>
<path fill="#c63c3e" d="M-8.5,-13.5 -6.5,-14.2 -3.5,-13.5 -1.4,-11.5 0.3,-7.5 0.3,-3.5 -0.6,-0.5 -2.5,2.1 -5.5,3.5 -7.5,3.3 -9.5,2.1 -11.4,-0.5 -12.3,-3.5 -12.4,-6.5 -11.7,-9.5 -10.5,-11.7ZM-62.1,-6.5 -60.6,-7.1 -58.6,-7.0 -55.6,-5.8 -53.6,-4.3 -51.6,-2.1 -49.9,0.5 -47.3,7.5 -46.2,9.5 -43.9,11.5 -36.5,15.8 -32.7,19.5 -30.9,22.5 -30.2,26.5 -30.9,29.5 -33.5,32.4 -35.7,33.5 -38.5,34.2 -41.5,34.2 -44.6,33.8 -47.6,32.8 -50.6,31.2 -53.6,28.9 -55.7,26.5 -57.9,22.5 -60.0,14.5 -63.6,7.1 -64.7,3.5 -65.1,0.5 -64.8,-2.5 -63.6,-5.3Z"/>
<path fill="#3480b9" d="M14.9,-27.5 17.5,-27.8 19.4,-26.5 19.9,-24.5 19.5,-23.5 18.5,-22.5 17.5,-22.2 15.5,-22.2 13.8,-23.5 13.3,-25.5 13.7,-26.5ZM-37.3,-10.5 -34.5,-11.3 -32.0,-10.5 -29.9,-8.5 -28.7,-5.5 -28.5,-2.5 -29.4,0.5 -31.5,3.0 -33.5,3.8 -35.5,3.8 -37.5,2.9 -39.5,0.6 -40.3,-1.5 -40.6,-4.5 -40.3,-6.5 -39.4,-8.5ZM34.7,14.5 37.5,13.5 39.5,13.8 41.5,14.7 43.5,16.4 45.2,18.5 47.6,23.8 48.5,29.5 47.8,35.5 46.6,38.5 45.6,40.0 42.5,42.0 40.5,42.2 38.5,41.7 35.5,39.7 32.7,35.5 31.2,31.5 30.4,26.5 30.7,21.5 32.1,17.5Z"/>
<path fill="#a8132a" d="M-8.6,-11.5 -6.5,-12.5 -4.5,-12.2 -2.5,-10.6 -1.3,-8.5 -0.8,-5.5 -1.3,-2.5 -2.5,-0.1 -4.5,1.4 -6.5,1.7 -8.5,0.8 -9.7,-0.5 -10.7,-2.5 -11.1,-4.5 -10.9,-7.5 -10.2,-9.5ZM-59.9,-0.5 -58.6,-1.3 -57.6,-1.4 -55.4,-0.5 -52.9,2.5 -51.0,8.5 -49.8,10.5 -47.0,12.5 -38.9,16.5 -35.4,19.5 -33.4,22.5 -32.8,25.5 -33.5,28.5 -35.3,30.5 -37.1,31.5 -39.5,32.1 -44.6,31.8 -49.6,29.6 -53.0,26.5 -54.4,24.5 -55.7,21.5 -56.5,13.5 -57.0,11.5 -59.6,7.1 -60.6,4.5 -60.8,1.5Z"/>
<path fill="#2166ac" d="M-37.3,-8.5 -35.5,-9.4 -33.5,-9.3 -31.5,-8.0 -30.5,-6.5 -30.0,-4.5 -30.2,-1.5 -31.5,0.8 -33.5,2.1 -35.5,2.1 -36.5,1.7 -37.9,0.5 -39.0,-1.5 -39.3,-3.5 -39.1,-5.5 -38.5,-7.0ZM36.4,17.5 38.5,17.1 41.5,18.4 44.1,21.5 45.7,25.5 46.2,29.5 45.6,34.2 43.5,37.5 41.5,38.6 39.5,38.5 36.5,36.8 34.5,34.0 33.2,30.5 32.6,26.5 33.0,22.5 34.2,19.5Z"/>
<path fill="#7d0722" d="M-8.0,-9.5 -6.5,-10.4 -4.5,-10.0 -3.1,-8.5 -2.5,-6.9 -2.4,-4.5 -3.0,-2.5 -4.5,-0.8 -5.5,-0.4 -7.5,-0.9 -8.5,-1.8 -9.3,-3.5 -9.5,-6.7ZM-48.8,15.5 -45.6,16.0 -42.5,17.0 -39.9,18.5 -37.6,20.5 -36.3,22.5 -35.8,24.5 -36.0,26.5 -37.5,28.5 -40.5,29.7 -44.2,29.5 -47.6,28.2 -50.8,25.5 -52.5,22.5 -52.9,20.5 -52.7,18.5 -51.6,16.4 -50.6,15.8Z"/>
<path fill="#134b87" d="M-36.4,-6.5 -34.5,-7.2 -33.5,-6.9 -32.2,-5.5 -31.9,-2.5 -32.5,-1.1 -33.5,-0.3 -35.5,-0.2 -36.9,-1.5 -37.5,-3.4 -37.5,-4.5ZM37.3,22.5 38.5,22.0 40.3,22.5 41.5,23.7 42.5,25.6 43.1,28.5 42.9,30.5 42.1,32.5 40.5,33.7 39.1,33.5 37.7,32.5 36.1,29.5 35.8,25.5 36.4,23.5Z"/>
<path fill="#67001f" d="M-47.6,20.5 -45.6,19.9 -42.5,20.8 -40.8,22.5 -40.4,23.5 -40.5,24.7 -41.2,25.5 -42.5,26.1 -45.6,25.5 -47.6,23.5 -48.0,21.5Z"/>
</g>
</g>
<g transform="translate(98.7,336.6)">
<circle r="86.6" fill="#f6f6f6"/>
<g clip-path="url(#mc)">
<path fill="#fddcc9" d="M-2.2,-59.6 5.5,-60.3 10.9,-59.6 13.1,-58.6 17.5,-55.4 26.5,-52.4 29.4,-50.6 31.4,-48.6 33.5,-45.6 34.8,-42.5 35.5,-39.5 35.5,-36.5 35.1,-33.5 33.9,-30.5 31.9,-27.5 30.0,-25.5 27.5,-23.6 24.5,-22.1 21.5,-21.3 18.5,-21.0 15.5,-21.3 12.5,-22.2 9.5,-23.8 7.6,-25.5 5.5,-29.4 4.5,-33.2 3.7,-39.5 4.0,-45.6 3.6,-46.6 -5.5,-49.7 -8.3,-51.6 -9.5,-53.6 -9.3,-55.6 -7.7,-57.6 -5.8,-58.6ZM-34.7,-36.5 -30.5,-37.3 -26.5,-36.7 -23.5,-34.8 -20.9,-30.5 -19.5,-25.5 -19.6,-17.5 -17.3,-7.5 -16.4,5.5 -15.5,7.5 -9.5,15.5 -6.9,20.5 -4.8,26.5 -3.3,35.5 -2.5,37.4 -0.5,37.8 8.5,36.8 19.5,37.1 21.5,36.8 23.5,35.6 26.9,31.5 30.3,29.5 51.6,21.6 54.6,20.9 57.6,20.8 60.6,21.9 63.8,24.5 66.0,27.5 67.5,31.5 67.9,35.5 67.3,39.5 65.7,43.5 63.0,47.6 59.9,50.6 56.6,52.9 52.6,54.8 47.6,56.2 42.5,56.7 32.5,56.4 21.5,59.2 13.5,60.3 6.5,60.2 -0.5,59.2 -8.2,56.6 -11.5,54.6 -13.5,52.8 -22.5,41.1 -27.5,32.4 -29.0,30.5 -30.5,30.3 -35.5,31.2 -41.5,30.3 -46.6,28.5 -50.8,26.5 -56.7,22.5 -58.6,20.5 -60.2,17.5 -61.5,9.5 -61.8,-7.5 -61.4,-11.5 -60.0,-16.5 -56.6,-23.2 -54.6,-25.8 -51.6,-28.6 -47.6,-31.1 -40.7,-33.5Z"/>
<path fill="#d5e7f1" d="M-7.1,-70.6 -1.5,-71.1 3.5,-70.2 6.5,-68.2 7.3,-66.6 7.1,-65.6 6.2,-64.6 4.3,-63.6 0.5,-62.6 -4.5,-62.3 -8.5,-62.8 -10.4,-63.6 -11.5,-64.6 -12.2,-66.6 -11.1,-68.6 -9.5,-69.6ZM-80.4,-56.6 -77.6,-56.9 -75.6,-56.3 -72.6,-54.1 -70.6,-51.5 -68.6,-47.7 -67.1,-43.5 -65.8,-38.5 -65.0,-32.5 -64.7,-26.5 -65.2,-16.5 -63.6,-3.0 -63.7,10.5 -64.6,14.3 -66.6,17.8 -69.6,20.0 -73.6,21.2 -76.6,21.1 -78.6,20.6 -82.6,18.5 -86.3,14.5 -88.6,10.1 -88.6,-46.4 -86.6,-50.6 -84.6,-53.5 -82.6,-55.4ZM-12.7,-44.6 -8.5,-45.4 -4.0,-44.6 -1.5,-43.0 0.7,-39.5 1.5,-36.9 2.2,-32.5 1.9,-27.5 1.2,-25.5 -0.5,-23.2 -2.5,-21.6 -4.5,-20.7 -8.5,-20.2 -12.5,-21.3 -15.5,-24.0 -17.5,-28.4 -18.9,-34.5 -18.5,-38.2 -16.5,-41.7 -14.5,-43.5ZM62.5,-36.5 65.6,-36.1 68.6,-35.0 71.6,-32.8 73.5,-30.5 75.1,-27.5 75.9,-24.5 76.1,-21.5 75.8,-18.5 73.8,-13.5 70.6,-10.0 66.6,-7.7 59.6,-5.9 57.4,-4.5 57.2,-2.5 58.3,5.5 58.1,8.5 57.4,11.5 56.0,14.5 54.4,16.5 49.2,20.5 40.5,24.5 33.9,26.5 27.5,27.5 22.5,27.0 19.5,25.9 16.5,24.1 8.5,16.2 6.5,15.5 0.5,14.6 -2.5,13.5 -6.5,10.9 -9.4,7.5 -10.5,5.3 -11.3,2.5 -11.4,-0.5 -10.9,-3.5 -10.2,-5.5 -8.5,-8.2 -4.5,-11.7 -0.5,-13.5 3.5,-14.3 7.5,-14.1 13.5,-12.8 15.5,-12.7 29.0,-17.5 31.5,-18.9 35.5,-23.4 38.5,-25.7 41.5,-27.2 48.9,-29.5 54.6,-33.9 57.4,-35.5 59.6,-36.2ZM75.8,-4.5 78.6,-5.4 80.6,-5.2 82.2,-4.5 83.8,-2.5 83.8,-0.5 83.3,0.5 81.6,1.9 79.6,2.5 77.6,2.3 75.8,1.5 74.8,0.5 74.1,-1.5 74.6,-3.2ZM-61.5,25.5 -57.6,25.9 -52.9,27.5 -41.3,32.5 -36.1,35.5 -33.8,38.5 -33.2,42.5 -34.3,46.6 -36.5,49.6 -39.5,51.9 -42.5,53.3 -46.6,54.2 -51.6,54.3 -55.6,53.7 -59.6,52.4 -63.6,50.2 -66.9,47.6 -69.4,44.6 -70.9,41.5 -71.7,37.5 -71.5,34.5 -70.3,31.5 -67.9,28.5 -64.6,26.3Z"/>
<path fill="#f8b99c" d="M16.3,-49.6 18.5,-49.8 21.5,-49.5 25.5,-47.8 28.9,-44.6 30.7,-40.5 31.0,-38.5 30.9,-35.5 29.5,-31.5 28.0,-29.5 25.8,-27.5 21.5,-25.7 18.5,-25.4 16.5,-25.6 12.5,-27.2 10.5,-28.8 9.0,-30.5 7.3,-34.5 7.0,-39.5 8.5,-43.9 11.7,-47.6 13.5,-48.7ZM-33.2,-32.5 -30.5,-33.1 -27.5,-32.5 -24.7,-30.5 -23.1,-27.5 -22.7,-24.5 -23.7,-18.5 -21.0,-9.5 -20.1,-5.5 -19.4,7.5 -18.1,9.5 -13.5,14.1 -11.1,17.5 -8.7,22.5 -7.0,28.5 -6.5,33.5 -6.9,38.5 -8.5,42.5 -10.5,44.0 -12.5,44.2 -14.5,43.7 -17.5,42.0 -19.5,40.2 -23.1,35.5 -27.5,26.0 -28.5,25.1 -29.5,25.1 -34.5,27.5 -37.5,28.2 -41.5,28.0 -46.5,26.5 -50.6,24.3 -54.6,20.7 -56.8,17.5 -58.8,12.5 -60.2,4.5 -60.2,-4.5 -58.9,-11.5 -56.3,-17.5 -53.5,-21.5 -49.6,-25.1 -45.6,-27.2 -39.5,-29.0ZM44.5,26.5 48.6,25.7 51.6,25.6 54.6,26.5 56.4,27.5 58.4,29.5 59.6,31.5 60.5,34.5 60.4,37.5 59.6,40.5 58.5,42.5 56.6,44.9 53.6,47.4 50.6,48.9 47.6,49.9 44.6,50.3 40.5,50.0 35.5,48.5 33.5,47.4 31.5,45.6 30.6,42.5 30.8,38.5 32.0,34.5 34.3,31.5 39.2,28.5ZM7.2,42.5 13.9,42.5 20.5,44.2 23.1,45.6 24.2,46.6 24.7,47.6 24.3,49.6 22.5,51.6 19.5,53.2 15.5,54.3 11.5,54.7 7.3,54.6 2.7,53.6 0.3,52.6 -2.2,50.6 -2.7,49.6 -2.8,47.6 -1.2,45.6 2.5,43.6Z"/>
<path fill="#afd3e7" d="M-11.3,-39.5 -8.5,-40.4 -6.5,-40.3 -3.5,-38.6 -2.1,-36.5 -1.3,-33.5 -1.5,-30.5 -3.2,-27.5 -5.5,-25.9 -8.5,-25.4 -10.5,-25.9 -12.5,-27.3 -14.0,-29.5 -14.8,-32.5 -14.5,-35.5 -13.5,-37.5ZM44.7,-23.5 49.6,-24.1 55.6,-23.0 57.6,-22.1 59.4,-20.5 59.9,-19.5 60.2,-17.5 59.2,-14.5 57.6,-12.5 51.7,-8.5 50.9,-7.5 51.1,-5.5 53.3,-0.5 54.1,2.5 54.4,6.5 54.0,9.5 52.6,13.5 50.6,16.5 47.6,19.3 44.6,21.2 39.3,23.5 33.5,24.9 28.5,25.1 24.5,24.2 20.5,22.3 17.5,20.1 15.1,17.5 10.5,10.9 8.5,10.0 3.5,9.7 0.5,8.9 -2.5,7.0 -4.5,4.5 -5.5,1.5 -5.1,-2.5 -3.2,-5.5 -0.7,-7.5 2.5,-8.7 5.5,-9.0 8.5,-8.5 12.5,-7.2 15.5,-7.5 21.5,-11.1 24.5,-12.5 35.5,-15.2 36.5,-16.1 39.5,-20.7 42.1,-22.5ZM-78.1,-10.5 -76.6,-11.0 -74.6,-11.0 -71.6,-9.7 -68.6,-6.6 -67.5,-4.5 -66.6,-1.5 -66.5,4.5 -67.6,8.6 -69.7,11.5 -71.6,12.8 -73.6,13.4 -76.6,13.3 -79.8,11.5 -82.2,8.5 -83.6,4.5 -83.8,-0.5 -82.9,-4.5 -80.6,-8.5ZM-59.2,31.5 -56.6,30.9 -52.6,31.2 -48.6,32.5 -45.0,34.5 -42.8,36.5 -41.2,39.5 -41.3,42.5 -42.3,44.6 -43.5,45.9 -45.6,47.1 -47.6,47.8 -50.6,48.2 -55.6,47.4 -59.6,45.4 -61.6,43.5 -62.9,41.5 -63.7,39.5 -63.8,37.5 -63.4,35.5 -62.6,34.1 -61.0,32.5Z"/>
<path fill="#f09575" d="M17.3,-45.6 20.5,-45.6 23.1,-44.6 25.3,-42.5 26.8,-39.5 27.0,-36.5 26.0,-33.5 23.5,-30.9 20.5,-29.6 17.5,-29.5 14.5,-30.7 12.5,-32.5 11.0,-35.5 10.8,-38.5 11.8,-41.5 14.5,-44.5ZM-32.4,-27.5 -29.6,-27.5 -28.4,-26.5 -27.7,-24.5 -27.6,-20.5 -27.2,-18.5 -23.1,-8.5 -22.0,-1.5 -22.3,8.5 -21.9,10.5 -21.1,11.5 -16.5,14.3 -14.5,16.3 -11.7,20.5 -9.7,25.5 -8.8,30.5 -9.1,35.5 -10.5,38.7 -12.5,40.1 -14.5,40.1 -16.5,39.3 -18.5,37.8 -20.5,35.6 -23.5,30.5 -26.4,21.5 -27.1,20.5 -28.5,20.6 -33.5,23.9 -36.5,25.1 -40.5,25.5 -44.6,24.8 -48.6,22.8 -52.3,19.5 -55.1,15.5 -57.1,10.5 -58.4,3.5 -58.3,-4.5 -56.9,-10.5 -54.0,-16.5 -50.6,-20.7 -46.6,-23.5 -43.5,-24.6 -36.5,-25.9ZM43.7,32.5 46.6,32.0 48.6,32.2 50.6,33.2 51.7,34.5 52.2,36.5 51.6,39.3 49.6,41.5 47.7,42.5 45.6,43.0 42.5,42.7 40.7,41.5 39.5,39.9 39.3,37.5 40.0,35.5 41.5,33.8Z"/>
<path fill="#87bdd9" d="M47.4,-17.5 48.6,-17.5 49.6,-16.7 49.4,-15.5 47.6,-14.9 46.1,-15.5 46.1,-16.5ZM32.5,-11.5 39.5,-11.0 42.5,-9.9 44.6,-8.4 47.6,-5.1 49.8,-1.5 51.3,2.5 51.6,6.5 51.0,10.5 49.7,13.5 47.6,16.4 45.3,18.5 42.0,20.5 38.5,22.0 34.5,22.9 30.5,23.0 26.5,22.3 23.5,21.1 20.5,19.2 17.8,16.5 15.7,13.5 14.4,10.5 12.8,5.5 12.5,2.5 13.1,0.5 14.6,-1.5 17.3,-4.5 20.7,-7.5 23.5,-9.2 26.5,-10.5ZM4.3,0.5 5.5,-0.3 6.4,0.5 5.5,1.2Z"/>
<path fill="#de6b56" d="M-44.8,-21.5 -41.5,-22.4 -38.5,-22.5 -35.5,-22.0 -32.5,-20.6 -29.5,-17.2 -26.7,-12.5 -25.2,-8.5 -24.1,-3.5 -23.8,0.5 -24.2,5.5 -25.2,10.5 -26.3,13.5 -29.3,17.5 -32.5,20.5 -35.5,22.2 -38.5,23.0 -41.5,23.0 -44.6,22.3 -47.6,20.8 -50.3,18.5 -52.6,15.7 -54.3,12.5 -55.8,8.5 -56.6,4.5 -56.6,-3.5 -55.8,-7.5 -54.4,-11.5 -52.8,-14.5 -50.5,-17.5 -47.6,-20.1ZM-22.1,16.5 -20.5,15.9 -19.5,15.9 -17.5,16.8 -14.5,19.7 -12.4,23.5 -11.2,27.5 -10.9,31.5 -11.6,34.5 -12.5,35.8 -13.5,36.5 -15.5,36.5 -17.5,35.5 -19.5,33.4 -21.8,29.5 -23.2,25.5 -23.7,21.5 -23.3,18.5Z"/>
<path fill="#559ec9" d="M27.4,-8.5 30.5,-9.2 33.5,-9.4 36.5,-9.0 39.5,-8.1 42.5,-6.5 44.6,-4.9 47.8,-0.5 49.3,4.5 49.3,7.5 48.6,10.5 47.1,13.5 45.6,15.5 43.3,17.5 40.5,19.2 37.5,20.4 33.5,21.1 29.5,20.9 26.5,20.1 23.5,18.6 20.8,16.5 19.0,14.5 17.3,11.5 16.3,8.5 16.0,5.5 16.3,2.5 17.0,0.5 18.8,-2.5 21.5,-5.3 24.5,-7.3Z"/>
<path fill="#c63c3e" d="M-43.8,-19.5 -40.5,-20.1 -37.5,-19.8 -34.5,-18.6 -32.5,-17.2 -30.1,-14.5 -27.8,-10.5 -26.4,-6.5 -25.7,-2.5 -25.6,2.5 -26.1,6.5 -27.3,10.5 -28.9,13.5 -31.2,16.5 -33.5,18.6 -36.5,20.2 -39.5,20.8 -42.5,20.6 -44.6,20.0 -47.2,18.5 -49.6,16.5 -51.6,13.9 -53.3,10.5 -55.0,3.5 -55.2,-0.5 -54.8,-4.5 -53.7,-8.5 -52.6,-11.3 -50.6,-14.5 -48.6,-16.7 -46.6,-18.2ZM-19.6,20.5 -18.5,20.4 -16.5,21.5 -14.2,25.5 -13.6,29.5 -14.3,31.5 -15.5,32.3 -17.5,31.5 -18.5,30.5 -20.5,26.5 -20.8,22.5 -20.5,21.5Z"/>
<path fill="#3480b9" d="M27.5,-6.5 30.5,-7.3 33.5,-7.4 38.5,-6.4 43.1,-3.5 46.0,0.5 46.8,2.5 47.3,5.5 47.0,8.5 46.4,10.5 43.9,14.5 39.5,17.7 34.5,19.2 31.5,19.2 28.5,18.7 25.5,17.5 23.5,16.3 21.5,14.4 19.6,11.5 18.8,9.5 18.2,6.5 18.4,3.5 19.0,1.5 20.5,-1.3 22.5,-3.5 24.5,-5.1Z"/>
<path fill="#a8132a" d="M-43.1,-17.5 -40.5,-17.9 -37.5,-17.5 -34.5,-16.1 -32.6,-14.5 -30.5,-11.9 -29.2,-9.5 -28.1,-6.5 -27.2,-2.5 -27.4,4.5 -28.4,8.5 -29.8,11.5 -31.5,14.1 -34.1,16.5 -36.5,17.9 -39.5,18.7 -42.5,18.5 -44.6,17.8 -46.6,16.6 -48.8,14.5 -51.9,9.5 -52.9,6.5 -53.6,2.5 -53.2,-4.5 -51.0,-10.5 -47.6,-15.0 -45.6,-16.5Z"/>
<path fill="#2166ac" d="M31.4,-5.5 36.5,-5.0 40.5,-3.1 43.8,0.5 45.2,4.5 45.2,7.5 44.7,9.5 42.5,13.1 40.5,14.9 38.5,16.1 34.5,17.3 29.5,17.1 25.5,15.3 23.4,13.5 21.8,11.5 20.4,7.5 20.4,4.5 20.8,2.5 23.2,-1.5 26.5,-4.0Z"/>
<path fill="#7d0722" d="M-42.5,-15.5 -39.5,-15.7 -37.5,-15.3 -35.5,-14.4 -33.5,-12.8 -31.5,-10.3 -30.1,-7.5 -28.7,-1.5 -29.0,4.5 -29.8,7.5 -31.2,10.5 -32.6,12.5 -34.6,14.5 -36.5,15.7 -39.5,16.5 -43.5,16.0 -45.6,14.9 -47.6,13.2 -50.5,8.5 -52.0,2.5 -51.8,-3.5 -51.0,-6.5 -49.7,-9.5 -46.6,-13.4 -44.6,-14.7Z"/>
<path fill="#134b87" d="M30.9,-3.5 34.5,-3.5 38.5,-2.1 41.4,0.5 42.9,3.5 43.1,7.5 42.0,10.5 39.2,13.5 35.5,15.2 31.5,15.5 27.5,14.3 24.5,11.8 22.7,8.5 22.5,4.5 23.0,2.5 24.2,0.5 27.5,-2.4Z"/>
<path fill="#67001f" d="M-41.4,-13.5 -39.5,-13.6 -37.5,-13.0 -35.5,-11.9 -33.5,-10.0 -31.2,-5.5 -30.2,-0.5 -30.7,4.5 -32.7,9.5 -35.5,12.7 -37.5,13.8 -39.5,14.3 -41.5,14.3 -43.5,13.7 -46.6,11.5 -48.1,9.5 -49.5,6.5 -50.5,1.5 -50.1,-3.5 -48.2,-8.5 -45.6,-11.6 -43.5,-12.9Z"/>
<path fill="#053061" d="M32.1,-1.5 35.5,-1.1 38.3,0.5 40.0,2.5 40.9,5.5 40.4,8.5 39.2,10.5 36.5,12.6 33.5,13.4 30.5,13.1 27.5,11.7 25.6,9.5 24.7,6.5 25.1,3.5 26.5,1.2 28.7,-0.5Z"/>
</g>
</g>
<g transform="translate(334.4,336.6)">
<circle r="86.6" fill="#f6f6f6"/>
<g clip-path="url(#mc)">
<path fill="#fddcc9" d="M-9.3,-72.6 -6.5,-73.0 -3.5,-72.8 -0.5,-71.9 1.3,-70.6 1.8,-69.6 1.4,-67.6 -1.5,-65.2 -3.2,-64.6 -2.5,-64.2 8.5,-62.6 16.0,-60.6 21.3,-57.6 22.5,-55.6 22.2,-54.6 20.9,-53.6 17.5,-52.7 10.5,-52.6 2.5,-53.9 -4.8,-56.6 -7.6,-58.6 -8.5,-60.6 -7.5,-62.1 -4.7,-63.6 -11.5,-66.1 -13.3,-67.6 -13.8,-68.6 -13.7,-69.6 -13.2,-70.6 -11.9,-71.6ZM-19.0,-31.5 -16.5,-32.3 -13.5,-32.2 -11.5,-31.4 -9.5,-29.8 -8.2,-27.5 -7.7,-24.5 -8.3,-22.5 -9.9,-20.5 -12.5,-19.1 -15.5,-18.7 -19.0,-19.5 -21.6,-21.5 -22.9,-24.5 -22.7,-27.5 -21.5,-29.6ZM-22.7,-11.5 -20.5,-11.3 -17.5,-10.2 -14.5,-8.4 -12.4,-6.5 -9.8,-3.5 -8.0,-0.5 -6.3,3.5 -5.5,6.5 -4.9,12.5 -6.0,23.5 -5.7,26.5 -3.2,36.5 1.8,45.6 2.7,49.6 2.0,54.6 -0.2,59.6 -3.2,62.6 -6.5,64.0 -10.5,63.9 -14.5,62.1 -18.5,58.7 -22.5,53.4 -23.5,52.6 -24.5,52.3 -25.5,52.7 -31.5,56.9 -35.5,58.5 -40.5,58.9 -45.6,57.6 -49.6,55.3 -52.6,52.2 -54.9,48.6 -56.5,43.5 -56.9,38.5 -56.4,34.5 -54.8,30.5 -52.7,27.5 -49.4,24.5 -45.6,22.3 -41.5,20.9 -36.5,20.2 -34.9,19.5 -34.6,17.5 -35.5,11.5 -35.5,6.5 -34.5,0.8 -33.5,-2.4 -31.5,-6.4 -28.5,-9.7 -25.5,-11.2ZM45.5,20.5 49.6,20.3 53.6,21.2 58.6,23.9 62.5,27.5 65.3,31.5 67.2,36.5 67.7,41.5 67.2,45.6 65.9,49.6 63.5,53.6 59.7,57.6 55.6,60.4 50.6,62.5 45.6,63.5 40.5,63.7 35.5,62.9 30.5,61.2 26.5,59.0 23.5,56.5 20.5,53.1 18.5,49.6 17.2,45.6 17.0,41.5 17.6,37.5 18.5,34.4 20.1,31.5 23.8,27.5 27.5,24.7 30.4,23.5 34.8,22.5Z"/>
<path fill="#d5e7f1" d="M-73.5,-51.6 -69.6,-52.3 -64.6,-52.1 -59.6,-50.6 -54.6,-47.9 -50.6,-44.8 -47.6,-41.8 -40.9,-33.5 -35.5,-28.5 -33.2,-24.5 -32.6,-21.5 -32.9,-18.5 -34.9,-11.5 -39.5,8.7 -40.5,11.4 -41.5,12.9 -43.5,14.7 -46.7,16.5 -51.6,18.6 -56.6,19.5 -60.6,19.0 -65.6,17.1 -71.0,13.5 -75.6,9.2 -80.0,3.5 -83.4,-2.5 -86.2,-9.5 -87.9,-16.5 -88.6,-22.5 -88.4,-29.5 -87.0,-36.5 -84.6,-42.2 -81.6,-46.3 -77.6,-49.7ZM10.2,-45.6 15.5,-45.5 20.5,-44.2 24.9,-41.5 26.8,-39.5 28.1,-37.5 29.2,-33.5 29.0,-30.5 28.2,-28.5 25.5,-24.9 21.5,-22.2 18.5,-21.0 14.5,-20.2 10.5,-20.3 7.5,-20.8 4.5,-21.8 1.5,-23.4 -0.8,-25.5 -2.5,-28.2 -3.7,-31.5 -3.9,-34.5 -3.0,-37.5 -1.7,-39.5 0.5,-41.8 3.5,-43.7 6.5,-44.8ZM48.2,-8.5 55.6,-9.0 62.6,-8.3 70.6,-6.3 77.4,-3.5 83.7,0.5 87.5,4.5 88.6,6.4 88.6,11.8 87.3,13.5 84.2,15.5 80.6,16.6 75.6,17.2 66.6,16.6 55.6,13.6 53.6,13.4 51.6,14.1 46.6,17.5 41.6,19.5 37.7,20.5 26.5,22.1 24.5,23.0 15.5,28.9 14.7,30.5 14.3,34.5 13.5,37.5 12.4,39.5 10.5,41.6 8.5,42.6 6.5,42.9 3.5,42.0 1.5,40.5 -0.5,37.9 -1.5,35.7 -2.1,32.5 -2.0,30.5 -1.1,27.5 2.0,23.5 2.1,21.5 1.0,16.5 1.1,12.5 2.5,8.5 4.5,5.7 7.5,3.3 13.6,0.5 20.5,-4.4 25.5,-6.8 32.5,-8.1 42.5,-7.8Z"/>
<path fill="#f8b99c" d="M-26.3,-5.5 -23.5,-6.3 -21.5,-6.3 -18.5,-5.4 -16.5,-4.3 -12.5,-0.3 -9.6,5.5 -8.9,8.5 -8.6,12.5 -9.6,18.5 -12.5,24.0 -14.5,26.1 -16.5,27.0 -18.5,26.8 -21.5,25.9 -24.5,24.2 -26.5,22.6 -29.8,18.5 -31.9,13.5 -32.7,7.5 -31.7,1.5 -29.5,-2.8ZM41.5,23.5 45.6,23.5 48.6,24.0 52.6,25.6 55.6,27.5 58.6,30.3 60.7,33.5 62.0,36.5 62.6,40.5 62.3,44.6 61.3,47.6 59.6,50.6 57.6,53.0 54.6,55.5 51.6,57.2 47.6,58.6 43.5,59.2 39.5,59.1 35.5,58.2 31.5,56.6 28.5,54.6 26.4,52.6 24.1,49.6 22.7,46.6 21.8,42.5 22.0,38.5 22.8,35.5 24.3,32.5 26.8,29.5 29.5,27.2 32.7,25.5 36.5,24.3ZM-40.6,25.5 -38.5,25.4 -35.5,26.0 -33.5,26.8 -31.1,28.5 -28.1,32.5 -26.9,35.5 -26.4,38.5 -27.1,43.5 -29.8,48.6 -33.5,51.7 -35.5,52.7 -38.5,53.3 -41.5,53.1 -43.5,52.5 -47.6,49.9 -50.6,45.6 -51.8,40.5 -51.4,35.5 -50.3,32.5 -49.0,30.5 -45.6,27.4 -43.5,26.3ZM-14.8,31.5 -12.5,31.6 -9.3,33.5 -6.5,37.7 -4.6,42.5 -4.1,46.6 -4.5,49.6 -6.3,52.6 -8.5,53.9 -11.5,53.8 -14.5,51.9 -17.0,48.6 -18.7,44.6 -19.3,40.5 -18.7,36.5 -17.2,33.5Z"/>
<path fill="#afd3e7" d="M10.0,-41.5 13.5,-41.7 17.5,-40.9 20.2,-39.5 22.5,-37.4 23.9,-34.5 24.0,-31.5 22.6,-28.5 20.5,-26.5 18.5,-25.4 15.5,-24.4 10.5,-24.2 6.2,-25.5 4.5,-26.6 2.5,-28.5 1.4,-30.5 1.0,-32.5 1.2,-34.5 2.0,-36.5 3.6,-38.5 5.5,-39.9ZM-68.7,-40.5 -65.6,-40.8 -62.6,-40.4 -59.6,-39.3 -56.4,-37.5 -52.6,-34.2 -43.8,-24.5 -42.0,-21.5 -41.7,-18.5 -43.5,-5.5 -44.6,-1.5 -45.9,1.5 -48.2,4.5 -50.6,6.5 -53.6,7.8 -56.6,8.3 -60.6,7.8 -64.6,6.2 -68.5,3.5 -71.6,0.5 -74.6,-3.6 -76.7,-7.5 -78.5,-12.5 -79.6,-17.5 -80.0,-22.5 -79.7,-26.5 -78.6,-30.9 -76.8,-34.5 -74.6,-37.3 -71.6,-39.5ZM27.3,-3.5 31.5,-4.3 36.5,-4.1 41.5,-2.6 45.2,-0.5 47.3,1.5 48.8,4.5 48.6,8.5 47.0,12.5 45.4,14.5 42.9,16.5 37.5,18.7 32.5,19.4 22.5,19.0 17.5,21.7 14.5,22.4 12.5,22.2 10.5,21.3 8.5,19.4 7.3,16.5 7.4,13.5 8.5,11.0 10.5,9.0 15.5,6.2 22.5,-1.1ZM5.3,28.5 6.5,28.6 8.5,29.6 9.5,30.9 10.1,32.5 10.2,34.5 9.4,36.5 8.5,37.5 6.5,38.5 4.5,38.3 2.5,37.1 1.5,35.5 1.0,33.5 1.2,31.5 2.5,29.6Z"/>
<path fill="#f09575" d="M-24.7,-1.5 -21.5,-2.0 -19.5,-1.5 -17.5,-0.4 -14.7,2.5 -12.7,6.5 -11.9,11.5 -12.4,15.5 -14.5,19.3 -17.5,21.2 -20.5,21.4 -22.5,20.7 -24.5,19.4 -27.0,16.5 -28.9,12.5 -29.6,7.5 -28.9,3.5 -27.2,0.5ZM36.2,27.5 39.5,26.7 42.5,26.5 48.3,27.5 50.6,28.5 53.6,30.5 57.0,34.5 57.9,36.5 58.7,39.5 58.3,44.6 57.1,47.6 55.8,49.6 51.6,53.2 48.6,54.7 45.6,55.5 41.5,55.8 38.5,55.4 34.5,54.1 31.8,52.6 29.5,50.6 27.5,48.0 26.1,44.6 25.6,41.5 25.9,38.5 26.9,35.5 28.5,32.9 30.8,30.5 33.5,28.7ZM-42.8,31.5 -39.5,30.6 -36.5,31.1 -34.3,32.5 -32.2,35.5 -31.4,38.5 -32.0,42.5 -33.8,45.6 -36.5,47.5 -39.5,48.0 -42.5,47.2 -44.8,45.6 -46.6,42.5 -47.1,39.5 -46.7,36.5 -45.2,33.5Z"/>
<path fill="#87bdd9" d="M10.3,-37.5 12.5,-37.8 14.5,-37.6 16.5,-36.8 18.0,-35.5 18.6,-34.5 19.0,-32.5 18.5,-31.1 17.2,-29.5 14.5,-28.3 11.5,-28.1 8.5,-29.1 7.0,-30.5 6.2,-32.5 6.5,-34.5 8.2,-36.5ZM32.1,-1.5 36.5,-1.1 40.5,0.6 43.5,3.5 44.6,6.5 44.4,9.5 42.5,13.0 39.5,15.3 35.5,16.7 30.5,16.8 26.5,15.8 22.7,13.5 21.7,12.5 20.8,10.5 20.6,8.5 21.0,6.5 21.8,4.5 23.3,2.5 25.5,0.6 27.5,-0.5Z"/>
<path fill="#de6b56" d="M-23.4,3.5 -21.5,3.0 -19.5,3.5 -17.5,5.3 -16.3,7.5 -15.7,10.5 -15.9,12.5 -16.8,14.5 -18.5,16.0 -20.5,16.3 -22.5,15.5 -24.4,13.5 -25.3,11.5 -25.8,8.5 -25.5,6.5 -24.5,4.5ZM37.2,30.5 41.5,29.7 46.6,30.3 50.6,32.4 53.5,35.5 55.1,39.5 54.9,43.5 53.0,47.6 49.6,50.6 47.6,51.6 44.6,52.4 39.5,52.4 36.7,51.6 34.5,50.4 32.3,48.6 30.7,46.6 29.3,42.5 29.3,39.5 29.9,37.5 30.9,35.5 32.5,33.5 34.5,31.9Z"/>
<path fill="#559ec9" d="M31.5,1.5 34.5,1.5 36.5,2.1 38.9,3.5 40.4,5.5 40.9,7.5 40.5,9.7 39.4,11.5 36.5,13.5 33.5,14.1 29.5,13.6 26.5,11.8 25.1,9.5 25.0,6.5 26.1,4.5 28.5,2.5Z"/>
<path fill="#c63c3e" d="M39.4,33.5 42.5,33.2 45.6,33.7 48.6,35.5 50.6,38.2 51.2,40.5 50.8,43.5 48.8,46.6 46.6,48.1 43.5,49.0 39.5,48.8 36.5,47.4 34.0,44.6 33.3,42.5 33.2,40.5 34.1,37.5 36.5,34.9Z"/>
</g>
</g>
<g transform="translate(570.1,336.6)">
<circle r="86.6" fill="#f6f6f6"/>
<g clip-path="url(#mc)">
<path fill="#fddcc9" d="M22.5,-48.6 26.5,-48.7 30.5,-47.5 32.5,-46.1 33.9,-44.6 35.5,-40.5 35.6,-36.5 33.3,-29.5 34.4,-20.5 34.2,-14.5 33.3,-8.5 30.7,0.5 31.0,3.5 37.8,14.5 39.5,16.3 45.0,19.5 47.4,21.5 49.9,24.5 51.5,28.5 51.7,30.5 51.3,33.5 50.1,36.5 48.7,38.5 44.6,42.2 41.5,43.6 38.5,44.4 35.5,44.7 32.5,44.4 18.5,40.7 14.5,39.1 9.5,35.5 6.7,32.5 4.1,28.5 2.2,24.5 0.1,18.5 -1.2,16.5 -8.5,12.8 -20.9,3.5 -23.5,1.0 -25.5,-4.4 -28.4,-16.5 -28.5,-21.7 -27.8,-24.5 -26.5,-27.5 -22.3,-33.5 -17.5,-37.6 -11.6,-40.5 -4.5,-42.5 2.5,-43.3 12.5,-43.5 19.4,-47.6ZM-58.6,-26.5 -55.6,-27.2 -52.6,-26.4 -49.6,-23.7 -47.3,-19.5 -46.7,-15.5 -47.0,-4.5 -46.4,4.5 -44.6,13.1 -43.9,18.5 -44.5,22.5 -46.6,29.2 -49.6,38.2 -51.6,42.5 -53.6,45.5 -56.6,48.5 -59.6,50.2 -62.6,50.6 -65.6,49.8 -68.6,47.4 -71.3,43.5 -73.1,39.5 -74.8,33.5 -75.8,27.5 -76.3,20.5 -76.2,13.5 -75.5,5.5 -74.4,-0.5 -72.9,-6.5 -70.8,-12.5 -68.7,-16.5 -65.7,-20.5 -61.6,-24.6ZM-5.0,35.5 -2.5,34.8 -0.5,34.8 1.5,35.4 3.7,36.5 5.5,38.1 7.3,40.5 8.6,43.5 9.4,46.6 9.6,49.6 9.3,53.6 8.7,56.6 7.6,59.6 4.5,63.6 2.5,64.9 -0.5,66.0 -4.5,65.7 -7.5,64.2 -9.8,61.6 -11.0,57.6 -12.3,47.6 -12.2,44.6 -11.5,42.5 -9.5,39.5 -7.5,37.3Z"/>
<path fill="#d5e7f1" d="M-27.9,-87.6 -18.6,-88.6 -1.5,-88.4 10.5,-86.7 21.5,-83.6 26.3,-81.6 30.5,-79.3 34.2,-76.6 36.5,-74.2 38.4,-71.6 39.6,-68.6 39.8,-65.6 39.1,-62.6 36.8,-58.6 34.8,-56.6 32.1,-54.6 29.5,-53.4 20.5,-51.0 12.5,-47.6 10.5,-47.2 -18.5,-44.3 -25.5,-44.6 -39.5,-46.7 -42.5,-46.2 -48.6,-44.1 -51.6,-43.6 -54.6,-43.4 -61.6,-44.1 -62.6,-43.7 -62.9,-42.5 -62.8,-37.5 -63.6,-33.7 -64.6,-31.5 -66.6,-28.7 -69.6,-26.3 -72.6,-25.2 -75.3,-25.5 -77.6,-26.7 -80.1,-29.5 -81.8,-33.5 -82.1,-37.5 -81.2,-41.5 -79.6,-44.6 -76.6,-47.3 -74.6,-48.2 -68.5,-49.6 -68.0,-51.6 -67.7,-57.6 -67.0,-60.6 -63.6,-67.5 -59.6,-73.6 -54.6,-78.2 -47.6,-82.1 -38.5,-85.3ZM56.5,-31.5 61.6,-31.6 66.6,-30.7 71.6,-29.0 76.6,-26.1 80.6,-22.6 83.7,-18.5 86.2,-13.5 87.4,-8.5 87.6,-3.5 86.7,1.5 84.7,6.5 81.6,11.2 77.6,15.0 73.6,17.7 68.6,19.9 62.6,21.2 57.6,21.3 53.6,20.5 49.6,18.6 42.6,14.5 40.5,12.7 38.5,10.1 35.5,5.3 34.5,2.5 34.5,-1.6 36.5,-12.3 38.5,-20.3 40.1,-23.5 42.5,-26.4 46.6,-28.9 51.6,-30.7ZM-39.4,-19.5 -37.5,-19.9 -35.5,-19.6 -33.5,-18.6 -31.5,-16.4 -28.5,-9.9 -27.5,-6.3 -26.2,2.5 -25.6,4.5 -24.5,5.3 -19.0,7.5 -14.9,10.5 -11.3,14.5 -10.1,16.5 -9.0,19.5 -8.7,22.5 -9.1,26.5 -10.4,30.5 -12.5,34.3 -16.5,38.7 -19.5,40.6 -23.5,42.3 -24.6,43.5 -23.7,44.6 -20.5,45.6 -18.5,46.8 -16.5,49.3 -15.5,51.7 -15.2,55.6 -16.0,58.6 -17.5,60.9 -20.5,62.6 -22.5,62.9 -24.5,62.6 -26.5,61.9 -28.3,60.6 -30.5,57.6 -32.5,52.2 -33.5,51.6 -37.5,50.8 -40.5,49.0 -42.6,46.6 -44.1,42.5 -44.5,37.5 -43.5,32.5 -41.5,27.9 -37.5,22.8 -36.8,20.5 -37.0,18.5 -40.5,15.6 -42.5,12.9 -44.6,7.7 -45.6,2.5 -45.6,-8.5 -44.6,-13.2 -42.5,-17.1 -41.5,-18.2ZM20.8,46.6 24.5,46.2 27.5,47.1 29.7,48.6 31.4,51.6 31.7,55.6 30.7,58.6 28.5,61.3 26.5,62.5 23.5,62.9 20.5,62.0 18.5,60.3 17.1,57.6 16.6,54.6 17.2,50.6 18.5,48.2Z"/>
<path fill="#f8b99c" d="M23.1,-45.6 25.5,-45.5 28.5,-44.3 30.8,-41.5 31.5,-38.5 30.9,-35.5 28.8,-31.5 28.3,-29.5 31.2,-20.5 31.6,-16.5 31.5,-12.5 30.2,-6.5 27.3,0.5 27.2,2.5 28.3,4.5 32.8,10.5 36.3,16.5 37.5,17.7 42.5,20.5 45.1,22.5 47.3,25.5 48.3,28.5 48.1,32.5 46.2,36.5 42.5,39.8 37.5,41.6 33.5,41.8 28.5,40.6 17.5,36.6 12.5,33.4 8.8,29.5 6.3,25.5 4.6,21.5 2.4,13.5 0.5,12.1 -5.5,10.4 -9.5,8.6 -16.7,3.5 -19.7,0.5 -21.8,-2.5 -23.5,-6.5 -24.6,-10.5 -25.0,-14.5 -24.9,-17.5 -23.3,-23.5 -19.9,-29.5 -17.5,-32.2 -14.5,-34.7 -8.5,-38.1 -1.5,-40.0 4.5,-40.4 12.5,-39.6 14.5,-39.8 19.5,-44.2ZM-60.3,-17.5 -57.6,-18.4 -54.6,-17.8 -52.0,-15.5 -50.2,-12.5 -49.3,-9.5 -48.6,-5.2 -47.0,13.5 -47.5,18.5 -48.5,23.5 -50.1,28.5 -52.3,33.5 -54.6,37.1 -56.6,39.3 -59.6,41.1 -61.6,41.5 -63.6,41.1 -65.9,39.5 -67.6,37.5 -69.6,33.6 -70.9,29.5 -71.8,24.5 -72.3,14.5 -71.1,3.5 -68.7,-5.5 -66.6,-10.3 -64.6,-13.5 -62.6,-15.8Z"/>
<path fill="#afd3e7" d="M-23.0,-81.6 -13.5,-82.4 -4.5,-82.2 4.5,-80.9 12.5,-78.6 18.7,-75.6 21.4,-73.6 23.4,-71.6 24.6,-69.6 25.3,-67.6 25.4,-65.6 24.9,-63.6 23.8,-61.6 21.5,-59.1 15.5,-55.3 8.0,-52.6 -2.5,-50.7 -12.5,-50.1 -21.5,-50.7 -29.5,-52.3 -41.5,-55.6 -44.6,-55.4 -51.6,-52.4 -54.6,-52.5 -56.6,-53.9 -57.3,-55.6 -57.3,-56.6 -56.7,-58.6 -54.9,-60.6 -50.2,-64.6 -46.6,-70.6 -43.9,-73.6 -39.5,-76.5 -35.0,-78.6 -29.5,-80.3ZM56.5,-21.5 60.6,-21.6 63.6,-21.2 66.6,-20.2 69.6,-18.6 73.8,-14.5 75.6,-11.5 76.6,-8.4 76.9,-4.5 76.5,-1.5 75.4,1.5 73.6,4.5 71.6,6.7 68.6,8.9 65.6,10.3 62.6,11.1 59.6,11.4 55.6,11.0 52.6,10.2 49.6,8.8 46.6,6.5 44.6,4.2 43.0,1.5 42.0,-1.5 41.7,-4.5 42.2,-8.5 43.1,-11.5 44.7,-14.5 46.6,-16.7 49.6,-19.1 52.6,-20.5ZM-40.1,-14.5 -38.5,-15.3 -36.5,-15.4 -33.5,-14.1 -31.5,-11.7 -30.5,-9.9 -28.9,-4.5 -28.6,1.5 -30.0,7.5 -31.0,9.5 -32.5,11.2 -35.5,12.5 -38.5,12.3 -40.5,11.1 -41.5,10.1 -43.4,6.5 -44.5,2.5 -44.8,-2.5 -44.3,-7.5 -42.5,-12.0ZM-25.6,10.5 -23.5,10.0 -21.5,10.1 -19.5,10.8 -17.5,12.1 -14.6,15.5 -13.0,20.5 -13.1,25.5 -14.9,30.5 -17.5,33.7 -19.5,34.9 -21.5,35.5 -25.5,35.3 -29.5,33.8 -31.2,32.5 -31.8,30.5 -32.1,23.5 -31.2,17.5 -29.4,13.5 -27.5,11.6ZM-35.0,35.5 -34.1,35.5 -33.7,36.5 -34.5,38.4 -35.5,38.4 -35.9,36.5Z"/>
<path fill="#f09575" d="M23.4,-39.5 24.5,-39.3 25.1,-38.5 25.1,-37.5 24.5,-36.5 22.5,-35.5 21.6,-36.5 21.7,-37.5 22.5,-39.0ZM1.5,-37.5 8.5,-37.2 20.5,-34.5 21.5,-33.6 26.5,-24.6 28.6,-18.5 28.8,-12.5 27.5,-7.0 23.8,0.5 23.4,2.5 24.7,4.5 30.3,10.5 34.9,18.5 36.5,19.8 41.7,22.5 43.9,24.5 45.1,26.5 45.9,29.5 45.2,33.5 43.0,36.5 40.5,38.3 36.5,39.5 31.5,39.2 18.5,34.2 14.5,31.9 11.1,28.5 7.9,23.5 6.6,19.5 5.7,12.5 5.0,10.5 3.5,9.5 -5.5,7.3 -10.5,4.9 -15.8,0.5 -19.4,-4.5 -21.3,-9.5 -21.9,-15.5 -21.0,-20.5 -18.5,-26.0 -14.8,-30.5 -10.5,-33.8 -4.5,-36.4ZM-59.7,-10.5 -57.6,-10.9 -55.6,-10.3 -53.6,-8.5 -52.6,-6.8 -50.6,-0.3 -49.9,5.5 -49.8,10.5 -51.0,19.5 -53.6,27.1 -55.6,30.5 -57.6,32.6 -59.6,33.7 -61.6,33.9 -63.6,33.1 -64.6,32.2 -65.8,30.5 -67.2,27.5 -68.8,20.5 -69.0,12.5 -68.0,4.5 -65.9,-2.5 -62.6,-8.2Z"/>
<path fill="#87bdd9" d="M-38.1,-11.5 -35.5,-11.3 -33.5,-9.8 -31.7,-6.5 -30.8,-2.5 -31.0,1.5 -32.4,5.5 -34.5,8.0 -36.5,8.8 -38.5,8.5 -40.9,6.5 -42.4,3.5 -43.1,-0.5 -42.9,-4.5 -42.1,-7.5 -40.5,-10.0ZM-22.8,15.5 -20.5,15.9 -18.7,17.5 -17.5,19.7 -17.0,22.5 -17.5,25.5 -18.5,27.6 -20.5,29.4 -22.5,29.8 -24.5,29.2 -26.3,27.5 -27.2,25.5 -27.6,22.5 -27.1,19.5 -26.0,17.5 -24.5,16.1Z"/>
<path fill="#de6b56" d="M-2.2,-34.5 1.5,-35.1 5.5,-35.2 9.5,-34.5 13.5,-33.2 16.5,-31.7 19.5,-29.5 23.6,-24.5 25.0,-21.5 25.9,-18.5 26.3,-15.5 26.1,-11.5 24.6,-6.5 19.6,1.5 19.3,3.5 20.2,4.5 25.5,8.3 27.8,10.5 29.9,13.5 32.5,19.2 33.5,20.5 39.5,23.6 42.6,26.5 43.4,28.5 43.4,31.5 41.9,34.5 39.5,36.4 35.5,37.6 31.5,37.1 24.5,33.8 18.5,31.7 15.5,29.9 12.1,26.5 9.3,21.5 8.2,16.5 8.7,9.5 8.6,8.5 7.8,7.5 5.5,6.8 -2.5,5.6 -7.5,3.8 -12.5,0.3 -16.5,-4.5 -18.3,-8.5 -19.2,-13.5 -18.8,-18.5 -17.4,-22.5 -15.0,-26.5 -11.5,-30.0 -7.5,-32.6ZM-59.7,-2.5 -58.6,-2.8 -56.6,-2.2 -54.6,0.5 -53.5,4.5 -53.2,10.5 -54.0,16.5 -55.6,21.3 -57.6,24.4 -59.1,25.5 -60.6,25.9 -62.6,24.9 -64.5,21.5 -65.4,17.5 -65.6,12.5 -65.0,7.5 -63.6,2.7 -61.6,-0.9Z"/>
<path fill="#559ec9" d="M-38.8,-6.5 -37.5,-7.2 -35.5,-6.7 -34.5,-5.5 -33.8,-3.5 -33.5,-0.5 -34.0,1.5 -35.2,3.5 -36.5,4.3 -37.5,4.3 -38.9,3.5 -40.4,0.5 -40.4,-3.5 -39.6,-5.5Z"/>
<path fill="#c63c3e" d="M-1.1,-32.5 2.5,-33.0 6.5,-32.9 10.5,-32.0 13.5,-30.7 16.5,-28.9 19.1,-26.5 21.4,-23.5 22.9,-20.5 23.7,-17.5 24.0,-13.5 23.5,-10.5 22.6,-7.5 20.9,-4.5 18.5,-1.5 15.5,1.3 12.5,3.2 8.5,4.1 3.5,4.3 -0.5,3.8 -4.5,2.7 -8.5,0.6 -11.5,-1.9 -13.7,-4.5 -15.8,-8.5 -16.7,-12.5 -16.7,-16.5 -15.7,-20.5 -14.2,-23.5 -11.9,-26.5 -8.5,-29.4 -4.5,-31.5ZM14.9,7.5 17.5,7.1 20.5,7.8 23.5,9.4 26.0,11.5 28.5,15.1 31.5,22.1 33.5,23.5 38.3,25.5 40.3,27.5 41.0,30.5 40.5,32.0 39.5,33.5 36.5,35.1 34.5,35.3 32.5,35.0 25.5,31.4 18.5,29.3 14.5,26.3 12.5,23.7 11.4,21.5 10.6,18.5 10.4,15.5 10.9,12.5 11.7,10.5 13.5,8.3Z"/>
<path fill="#a8132a" d="M-0.6,-30.5 2.5,-31.0 6.5,-30.8 9.5,-30.1 12.5,-28.9 15.5,-26.9 17.5,-25.1 19.4,-22.5 20.9,-19.5 21.6,-16.5 21.7,-13.5 21.2,-10.5 20.1,-7.5 18.5,-5.0 16.3,-2.5 13.5,-0.4 10.5,1.1 6.5,2.0 2.5,2.1 -1.5,1.5 -4.5,0.4 -7.5,-1.3 -10.1,-3.5 -12.4,-6.5 -13.8,-9.5 -14.4,-12.5 -14.4,-16.5 -13.7,-19.5 -12.2,-22.5 -9.9,-25.5 -7.5,-27.5 -4.5,-29.2ZM16.2,10.5 18.5,10.1 20.7,10.5 23.5,12.1 25.5,14.2 26.9,16.5 27.9,19.5 28.8,25.5 28.5,27.0 27.4,27.5 24.5,27.9 20.5,27.6 17.5,26.1 14.9,23.5 13.0,19.5 12.7,15.5 13.8,12.5ZM31.5,27.5 33.5,27.5 35.5,28.3 36.5,29.5 36.4,30.5 35.5,31.4 34.5,31.6 32.5,31.1 30.9,29.5 30.5,28.5Z"/>
<path fill="#7d0722" d="M-0.1,-28.5 5.5,-28.8 8.5,-28.2 11.5,-27.0 13.8,-25.5 16.0,-23.5 17.5,-21.5 18.9,-18.5 19.5,-13.5 18.1,-8.5 16.5,-5.9 14.5,-3.8 12.5,-2.3 9.5,-0.9 6.5,-0.1 2.5,0.1 -0.5,-0.4 -3.5,-1.4 -6.5,-3.2 -8.5,-5.0 -10.4,-7.5 -11.5,-9.9 -12.2,-12.5 -12.3,-15.5 -11.7,-18.5 -10.3,-21.5 -8.5,-23.8 -5.5,-26.3 -2.5,-27.8ZM19.5,13.5 22.5,14.9 23.9,16.5 24.8,18.5 25.1,20.5 24.7,22.5 23.9,23.5 22.5,24.3 20.5,24.3 18.5,23.3 16.8,21.5 15.9,19.5 15.5,17.5 16.0,15.5 17.5,13.9Z"/>
<path fill="#67001f" d="M0.9,-26.5 5.5,-26.7 10.5,-25.0 12.8,-23.5 14.5,-21.7 16.7,-17.5 17.1,-15.5 17.0,-12.5 15.5,-8.5 14.0,-6.5 11.7,-4.5 7.5,-2.6 2.5,-2.1 -0.5,-2.6 -2.8,-3.5 -6.8,-6.5 -8.5,-8.9 -9.6,-11.5 -9.9,-13.5 -9.8,-16.5 -8.7,-19.5 -7.5,-21.5 -5.6,-23.5 -3.5,-24.9Z"/>
</g>
</g>
<g transform="translate(805.8,336.6)">
<circle r="86.6" fill="#f6f6f6"/>
<g clip-path="url(#mc)">
<path fill="#fddcc9" d="M-10.6,-71.6 -4.5,-72.1 1.5,-71.2 3.5,-70.4 5.5,-69.0 6.4,-67.6 6.3,-66.6 5.7,-65.6 3.5,-64.1 -2.5,-62.6 -9.5,-62.7 -13.0,-63.6 -15.2,-64.6 -17.0,-66.6 -16.6,-68.6 -13.9,-70.6ZM-7.9,-20.5 -3.5,-20.0 1.5,-17.6 5.7,-13.5 9.5,-6.2 10.5,-5.6 18.5,-4.2 23.5,-2.1 29.5,2.2 34.5,7.8 38.0,13.5 38.5,15.5 38.4,18.5 37.5,21.7 35.5,25.8 33.5,28.7 30.5,31.7 27.5,33.3 24.5,33.7 20.5,32.7 15.3,30.5 9.7,27.5 3.7,23.5 0.4,20.5 -3.2,15.5 -4.4,14.5 -9.5,13.8 -12.5,13.0 -15.5,11.2 -18.5,8.0 -20.5,4.2 -21.5,1.1 -22.1,-2.5 -22.1,-7.5 -21.1,-11.5 -18.5,-15.5 -15.5,-18.1 -11.5,-20.0ZM-64.3,23.5 -59.6,22.6 -55.6,22.8 -41.5,26.4 -26.5,29.2 -24.5,30.2 -23.4,31.5 -22.9,33.5 -23.3,36.5 -24.5,39.0 -26.5,41.0 -28.5,42.2 -31.5,43.0 -52.6,45.9 -57.6,45.6 -63.6,44.2 -68.6,42.2 -72.4,39.5 -74.8,36.5 -75.4,33.5 -74.6,30.5 -72.0,27.5 -68.6,25.3ZM-11.4,46.6 -8.5,45.7 -5.5,46.5 -3.2,48.6 -1.7,51.6 -1.3,54.6 -2.0,58.6 -3.7,61.6 -6.5,63.6 -9.5,63.7 -11.5,62.6 -13.3,60.6 -14.6,57.6 -15.0,54.6 -14.5,51.0 -13.4,48.6Z"/>
<path fill="#d5e7f1" d="M-9.5,-55.6 -0.5,-55.4 8.4,-54.6 15.5,-53.2 20.5,-51.5 23.6,-49.6 27.5,-44.6 37.5,-38.0 46.6,-31.0 55.6,-26.3 58.5,-23.5 60.6,-20.6 62.1,-17.5 63.3,-13.5 63.9,-9.5 64.0,-5.5 62.8,1.5 58.7,10.5 58.6,12.5 60.1,14.5 66.4,20.5 69.2,24.5 71.0,28.5 72.0,31.5 72.8,38.5 71.9,45.6 69.5,51.6 65.6,57.1 60.6,61.0 56.6,62.9 51.6,63.8 47.6,63.7 42.5,62.4 38.5,60.2 34.5,56.7 31.5,52.7 29.5,48.6 27.7,42.5 27.6,40.5 28.1,38.5 37.4,25.5 41.9,16.5 42.5,13.5 42.0,11.5 36.5,3.9 34.6,0.5 33.4,-2.5 31.8,-9.5 29.5,-10.9 19.5,-13.1 13.5,-15.1 8.5,-17.5 3.8,-20.5 -1.0,-24.5 -4.3,-28.5 -6.2,-32.5 -7.5,-37.4 -8.5,-38.7 -11.5,-39.7 -23.5,-41.0 -30.7,-42.5 -35.9,-44.6 -37.5,-45.8 -38.6,-47.6 -37.8,-49.6 -36.5,-50.6 -30.5,-53.0 -21.5,-54.7ZM-55.9,-33.5 -52.6,-33.9 -48.6,-33.4 -44.6,-32.0 -40.5,-29.8 -36.5,-26.8 -32.5,-22.8 -29.2,-18.5 -26.2,-13.5 -24.5,-9.1 -23.2,-0.5 -20.5,9.5 -20.1,12.5 -20.6,16.5 -22.1,20.5 -23.6,22.5 -26.5,24.5 -30.5,25.6 -37.4,25.5 -42.6,24.5 -48.7,22.5 -53.0,20.5 -57.3,17.5 -59.9,14.5 -62.9,9.5 -65.9,2.5 -68.0,-5.5 -68.6,-12.5 -68.1,-18.5 -66.3,-24.5 -63.9,-28.5 -60.6,-31.6ZM-6.6,26.5 -3.5,25.9 -0.5,26.1 6.2,28.5 13.5,32.5 17.9,35.5 19.6,37.5 19.6,39.5 17.5,41.5 14.5,42.9 9.5,44.1 4.5,44.5 -0.5,43.7 -11.4,39.5 -12.4,38.5 -13.2,36.5 -13.3,34.5 -12.7,31.5 -10.3,28.5ZM-40.5,47.6 -34.5,47.6 -32.0,48.6 -29.8,50.6 -29.0,52.6 -29.1,54.6 -29.8,56.6 -31.6,58.6 -35.5,60.6 -39.5,61.0 -43.5,60.0 -46.8,57.6 -48.3,54.6 -47.8,51.6 -45.6,49.4Z"/>
<path fill="#f8b99c" d="M-11.9,-17.5 -9.5,-18.2 -6.5,-18.4 -3.5,-17.9 -0.5,-16.5 2.5,-14.2 4.6,-11.5 6.3,-7.5 7.5,-2.0 8.5,-0.8 15.5,-0.7 20.5,0.7 25.5,3.3 30.5,7.5 34.2,12.5 35.4,15.5 35.7,17.5 35.6,20.5 34.6,23.5 31.5,27.8 28.5,29.8 25.5,30.5 21.5,30.2 16.5,28.6 10.7,25.5 5.8,21.5 2.7,17.5 -0.1,11.5 -1.5,11.2 -7.5,11.8 -10.5,11.4 -13.5,10.2 -16.5,7.9 -18.5,5.3 -20.2,1.5 -21.0,-2.5 -20.8,-6.5 -19.5,-10.5 -17.5,-13.5 -14.5,-16.2ZM-56.7,27.5 -53.6,27.1 -49.6,27.2 -39.5,29.5 -36.5,30.7 -33.8,32.5 -33.1,33.5 -33.0,35.5 -34.5,37.5 -36.0,38.5 -38.5,39.6 -42.5,40.6 -50.6,41.1 -57.6,39.8 -60.5,38.5 -62.6,37.0 -63.7,35.5 -64.2,33.5 -63.5,31.5 -61.6,29.6Z"/>
<path fill="#afd3e7" d="M8.8,-43.5 14.5,-43.5 21.5,-42.1 28.5,-39.3 34.7,-35.5 39.0,-31.5 42.1,-26.5 43.0,-23.5 43.0,-21.5 41.9,-18.5 39.5,-16.9 35.5,-15.8 30.5,-15.2 24.5,-15.6 19.5,-16.6 14.5,-18.3 10.5,-20.2 6.5,-22.9 2.6,-26.5 0.5,-29.5 -0.7,-32.5 -0.9,-35.5 0.1,-38.5 2.5,-41.3 5.5,-42.9ZM-54.1,-27.5 -50.6,-27.9 -47.6,-27.5 -43.5,-25.9 -40.5,-24.1 -36.5,-20.8 -33.5,-17.4 -30.8,-13.5 -28.1,-8.5 -26.3,-3.5 -24.9,2.5 -24.3,6.5 -24.3,10.5 -25.2,14.5 -27.0,18.5 -28.6,20.5 -31.5,22.4 -35.5,23.3 -39.5,23.1 -44.6,21.9 -48.6,20.0 -52.0,17.5 -54.9,14.5 -57.8,10.5 -60.4,5.5 -62.3,0.5 -63.7,-5.5 -64.1,-10.5 -63.7,-15.5 -62.6,-19.5 -60.3,-23.5 -57.6,-26.0ZM46.9,19.5 50.6,19.0 53.6,19.4 56.6,20.4 59.9,22.5 62.6,25.1 64.9,28.5 66.1,31.5 67.1,35.5 67.2,39.5 66.8,42.5 65.6,46.6 64.1,49.6 61.6,52.7 58.6,55.2 55.6,56.7 52.6,57.5 49.6,57.6 46.6,57.2 43.5,56.1 40.5,54.2 38.5,52.4 36.3,49.6 34.8,46.6 33.6,42.5 33.4,39.5 33.8,36.5 36.5,30.6 39.5,26.0 42.5,22.3 44.6,20.6Z"/>
<path fill="#f09575" d="M-10.2,-16.5 -5.5,-16.8 -2.5,-16.0 -0.5,-14.9 2.9,-11.5 4.1,-9.5 5.2,-6.5 5.6,-1.5 5.0,2.5 4.3,4.5 2.7,6.5 0.5,8.1 -4.5,10.1 -9.5,10.1 -12.5,9.1 -14.5,7.8 -17.5,4.5 -19.5,-0.5 -19.7,-5.5 -18.9,-8.5 -18.0,-10.5 -16.5,-12.5 -14.5,-14.4ZM9.4,3.5 11.5,2.9 14.5,2.7 19.5,3.6 24.5,6.2 28.4,9.5 31.5,14.3 32.5,18.5 31.7,22.5 29.5,25.4 27.5,26.7 25.5,27.3 22.5,27.4 19.5,26.9 13.5,24.3 8.8,20.5 7.2,18.5 5.5,15.5 4.8,13.5 4.5,10.5 4.8,8.5 5.5,6.5 7.5,4.5Z"/>
<path fill="#87bdd9" d="M8.7,-39.5 13.5,-40.3 18.5,-39.9 24.5,-38.2 29.5,-35.8 33.7,-32.5 36.2,-29.5 37.7,-25.5 37.2,-22.5 35.6,-20.5 33.5,-19.3 30.5,-18.5 27.5,-18.2 23.5,-18.4 19.5,-19.3 15.5,-20.7 11.9,-22.5 8.5,-24.9 5.9,-27.5 4.1,-30.5 3.6,-32.5 3.6,-34.5 4.5,-36.5 6.5,-38.5ZM-54.2,-22.5 -51.6,-23.4 -48.6,-23.4 -45.6,-22.7 -42.5,-21.2 -39.5,-19.1 -36.5,-16.2 -33.7,-12.5 -31.4,-8.5 -28.7,-1.5 -27.0,5.5 -26.8,8.5 -27.4,11.5 -28.8,14.5 -31.3,17.5 -33.5,19.1 -36.5,20.1 -39.5,20.2 -43.5,19.3 -46.6,17.9 -49.6,15.7 -52.6,12.6 -57.2,5.5 -58.9,1.5 -60.2,-3.5 -60.7,-7.5 -60.7,-11.5 -59.8,-15.5 -58.6,-18.4 -56.6,-20.9ZM48.4,24.5 50.6,24.3 53.6,24.8 57.6,27.0 59.6,29.1 61.1,31.5 62.5,36.5 62.6,39.5 62.1,42.5 60.9,45.6 59.6,47.6 57.7,49.6 55.6,51.0 51.6,52.3 48.6,52.3 46.6,51.8 42.5,49.4 39.5,45.6 38.0,40.5 38.3,35.5 40.5,30.5 42.5,27.9 44.6,26.2Z"/>
<path fill="#de6b56" d="M-9.4,-15.5 -6.5,-15.7 -4.5,-15.4 -0.5,-13.4 1.5,-11.5 2.8,-9.5 4.2,-5.5 4.2,-0.5 3.3,2.5 2.1,4.5 -1.5,7.6 -5.5,9.0 -8.5,9.1 -10.5,8.6 -14.3,6.5 -16.9,3.5 -17.9,1.5 -18.6,-1.5 -18.4,-6.5 -16.7,-10.5 -13.5,-13.7ZM12.9,6.5 16.5,6.2 19.5,7.0 22.6,8.5 26.1,11.5 28.0,14.5 28.8,17.5 28.3,20.5 26.9,22.5 25.5,23.4 23.5,24.0 19.5,23.8 14.5,21.6 11.1,18.5 9.2,15.5 8.6,13.5 8.5,11.5 9.7,8.5 10.8,7.5Z"/>
<path fill="#559ec9" d="M10.9,-36.5 14.5,-37.4 18.5,-37.3 22.5,-36.3 26.5,-34.5 29.5,-32.5 32.2,-29.5 33.3,-26.5 32.5,-23.7 31.3,-22.5 29.5,-21.6 24.5,-21.0 18.5,-22.2 13.6,-24.5 10.0,-27.5 8.6,-29.5 7.9,-31.5 8.0,-33.5 8.5,-34.5ZM-49.6,-19.5 -45.6,-19.0 -40.5,-16.1 -36.3,-11.5 -32.9,-5.5 -28.9,5.5 -28.6,8.5 -29.0,10.5 -30.5,13.3 -32.5,15.2 -34.5,16.3 -37.5,17.2 -40.5,17.2 -43.5,16.5 -46.6,14.9 -48.6,13.3 -51.0,10.5 -53.7,6.5 -55.7,2.5 -57.0,-1.5 -57.7,-5.5 -57.8,-9.5 -57.2,-12.5 -55.9,-15.5 -54.3,-17.5 -52.6,-18.7ZM49.0,30.5 51.6,30.5 54.6,32.1 56.4,34.5 57.2,37.5 57.0,40.5 55.6,43.5 53.6,45.4 50.6,46.4 47.6,45.8 45.7,44.6 44.2,42.5 43.2,39.5 43.4,36.5 44.6,33.7 46.6,31.6Z"/>
<path fill="#c63c3e" d="M-9.2,-14.5 -5.5,-14.6 -1.5,-13.0 1.7,-9.5 3.3,-5.5 3.2,-0.5 1.4,3.5 -1.5,6.4 -5.5,8.0 -9.5,7.9 -13.5,5.9 -16.4,2.5 -17.7,-1.5 -17.6,-5.5 -16.1,-9.5 -13.5,-12.5 -11.5,-13.8ZM15.4,11.5 16.5,11.2 18.5,11.3 21.5,13.0 23.2,15.5 23.2,17.5 22.5,18.5 21.5,19.1 19.5,19.2 17.5,18.6 16.0,17.5 14.5,15.6 14.2,14.5 14.4,12.5Z"/>
<path fill="#3480b9" d="M15.2,-33.5 17.5,-34.0 19.5,-33.8 23.6,-32.5 25.5,-31.3 27.2,-29.5 27.9,-27.5 27.7,-26.5 26.5,-25.2 23.5,-24.5 19.5,-25.1 16.5,-26.5 14.2,-28.5 13.3,-30.5 13.8,-32.5ZM-48.7,-15.5 -46.6,-15.4 -44.6,-14.8 -42.2,-13.5 -39.5,-11.2 -36.5,-7.0 -33.3,0.5 -30.9,4.5 -30.0,7.5 -30.6,10.5 -31.9,12.5 -34.5,14.5 -37.5,15.4 -40.5,15.4 -42.5,15.0 -45.4,13.5 -48.4,10.5 -52.6,3.0 -54.6,-3.5 -54.8,-6.5 -54.5,-9.5 -53.8,-11.5 -52.5,-13.5 -50.6,-15.0Z"/>
<path fill="#a8132a" d="M-9.5,-13.5 -5.5,-13.7 -3.5,-13.0 -1.5,-11.8 0.7,-9.5 2.4,-5.5 2.5,-1.5 1.0,2.5 -1.8,5.5 -5.5,7.1 -9.5,6.9 -12.5,5.5 -15.4,2.5 -16.9,-1.5 -16.8,-5.5 -15.5,-8.8 -12.5,-12.1Z"/>
<path fill="#2166ac" d="M-48.3,-10.5 -46.6,-10.8 -44.9,-10.5 -41.5,-8.3 -39.3,-5.5 -37.0,-0.5 -32.5,4.5 -31.4,7.5 -31.6,9.5 -32.7,11.5 -34.5,13.0 -37.5,14.1 -41.5,13.9 -44.6,12.4 -47.0,9.5 -50.6,-0.5 -51.2,-3.5 -51.1,-6.5 -50.6,-8.3 -49.6,-9.7Z"/>
<path fill="#7d0722" d="M-9.9,-12.5 -6.5,-12.9 -4.5,-12.5 -2.5,-11.5 0.4,-8.5 1.6,-5.5 1.6,-1.5 0.5,1.7 -1.9,4.5 -5.5,6.2 -8.5,6.2 -11.5,5.2 -14.4,2.5 -15.8,-0.5 -16.1,-4.5 -15.3,-7.5 -13.2,-10.5Z"/>
<path fill="#134b87" d="M-43.3,1.5 -41.5,1.1 -38.5,1.8 -35.5,3.3 -34.2,4.5 -32.9,6.5 -32.7,8.5 -33.5,10.5 -34.4,11.5 -36.5,12.7 -39.5,13.0 -42.5,12.2 -44.6,10.5 -45.7,8.5 -45.8,5.5 -44.6,2.5Z"/>
<path fill="#67001f" d="M-10.2,-11.5 -6.5,-12.1 -3.5,-11.2 -1.4,-9.5 0.5,-6.5 1.0,-2.5 0.2,0.5 -1.5,3.1 -4.5,5.0 -7.5,5.5 -10.5,4.8 -13.4,2.5 -15.0,-0.5 -15.4,-3.5 -14.5,-7.3 -12.5,-10.0Z"/>
<path fill="#053061" d="M-42.6,4.5 -41.5,3.9 -39.5,3.6 -36.5,4.4 -34.5,6.5 -34.2,8.5 -34.5,9.5 -35.5,10.7 -37.5,11.7 -39.5,11.8 -41.5,11.2 -42.7,10.5 -44.0,8.5 -44.0,6.5Z"/>
</g>
</g>
<g transform="translate(1041.5,336.6)">
<circle r="86.6" fill="#f6f6f6"/>
<g clip-path="url(#mc)">
<path fill="#fddcc9" d="M51.4,-47.6 55.6,-48.2 60.6,-47.7 65.6,-46.0 70.6,-42.9 74.6,-39.2 78.2,-34.5 81.0,-29.5 83.2,-23.5 84.5,-17.5 84.9,-11.5 84.4,-5.5 82.8,0.5 80.4,5.5 77.3,9.5 73.6,12.6 68.6,14.9 64.6,15.6 60.6,15.4 56.6,14.2 53.6,12.4 45.8,5.5 41.0,0.5 38.4,-3.5 36.9,-7.5 36.0,-11.5 36.0,-15.5 38.0,-32.5 39.0,-36.5 40.5,-39.8 43.5,-43.3 47.6,-46.1ZM-48.2,-19.5 -41.5,-19.2 -35.5,-17.4 -31.0,-14.5 -29.4,-12.5 -28.7,-10.5 -28.6,-8.5 -29.1,-6.5 -30.8,-3.5 -33.5,-1.1 -40.9,2.5 -41.2,3.5 -34.5,10.0 -32.5,12.8 -30.6,16.5 -28.5,23.3 -27.5,29.5 -27.3,34.5 -27.9,43.5 -28.7,47.6 -30.5,52.3 -32.5,55.2 -34.5,57.0 -37.5,58.5 -40.5,59.1 -45.6,58.9 -50.6,57.5 -55.6,54.7 -60.6,50.5 -64.7,45.6 -68.1,39.5 -70.4,33.5 -71.7,26.5 -71.8,22.5 -71.4,18.5 -70.5,14.5 -69.3,11.5 -67.6,8.5 -65.6,6.1 -59.7,1.5 -59.0,0.5 -59.1,-0.5 -62.1,-4.5 -63.1,-6.5 -63.4,-9.5 -62.4,-12.5 -59.7,-15.5 -56.6,-17.4 -52.6,-18.8ZM-7.4,-11.5 -4.5,-12.3 -1.5,-12.0 0.8,-11.5 4.9,-9.5 6.8,-7.5 7.4,-5.5 6.7,-2.5 5.4,-0.5 2.9,1.5 -0.5,2.5 -3.5,2.3 -6.5,0.8 -8.1,-1.5 -9.0,-5.5 -8.8,-9.5ZM43.0,55.6 45.6,54.8 48.7,55.6 50.6,57.6 50.7,59.6 50.2,60.6 48.6,62.0 46.6,62.6 44.6,62.5 42.5,61.6 41.5,60.6 41.0,58.6 41.8,56.6Z"/>
<path fill="#d5e7f1" d="M-35.7,-76.6 -30.5,-77.3 -25.5,-77.1 -20.5,-76.3 -15.4,-74.6 -13.8,-73.6 -13.0,-72.6 -12.9,-71.6 -14.3,-67.6 -13.9,-65.6 -12.5,-64.1 -8.5,-62.3 -0.5,-61.3 2.5,-60.5 4.5,-59.0 8.3,-53.6 10.6,-51.6 22.5,-45.4 28.5,-41.2 31.0,-38.5 32.5,-36.3 33.7,-33.5 34.4,-29.5 34.4,-25.5 33.5,-21.3 32.4,-18.5 30.5,-15.8 26.5,-12.9 21.5,-11.3 15.5,-10.7 10.5,-11.4 -9.5,-17.0 -14.5,-18.8 -32.6,-26.5 -37.7,-29.5 -42.5,-33.5 -47.8,-39.5 -51.5,-46.6 -53.2,-53.6 -53.0,-59.6 -52.3,-62.6 -51.0,-65.6 -47.3,-70.6 -44.6,-72.8 -41.5,-74.6ZM-20.1,-10.5 -17.5,-10.9 -15.5,-9.8 -14.5,-8.7 -12.7,-4.5 -10.7,3.5 -9.5,5.2 -7.5,6.3 -3.5,7.1 0.5,7.1 9.5,5.1 12.5,4.8 15.5,5.8 19.5,8.9 21.5,9.5 30.5,4.7 34.5,4.0 37.5,4.4 42.5,6.8 46.6,10.1 50.2,14.5 52.5,19.5 53.3,24.5 52.8,29.5 51.1,34.5 47.7,39.5 44.6,42.3 40.5,44.3 36.5,45.1 29.5,44.9 27.9,45.6 26.7,47.6 23.0,56.6 18.5,63.1 15.5,66.2 12.5,68.5 9.5,70.3 5.5,71.9 1.5,72.7 -3.5,72.8 -8.5,71.8 -12.5,70.1 -16.5,67.5 -20.5,63.8 -22.9,60.6 -24.5,56.9 -25.4,50.6 -25.1,36.5 -25.6,21.5 -24.5,10.5 -25.7,1.5 -25.1,-2.5 -23.6,-6.5 -21.5,-9.5Z"/>
<path fill="#f8b99c" d="M52.7,-40.5 56.6,-41.2 60.6,-40.8 64.6,-39.3 67.6,-37.5 71.0,-34.5 74.1,-30.5 76.3,-26.5 78.2,-21.5 79.2,-16.5 79.4,-11.5 78.7,-6.5 77.6,-2.8 75.6,1.1 72.8,4.5 69.6,6.8 66.6,8.1 62.6,8.7 58.6,8.1 54.6,6.6 51.6,4.6 48.2,1.5 45.6,-1.8 43.4,-5.5 41.5,-10.5 40.6,-15.5 40.5,-20.5 41.1,-25.5 42.5,-30.5 44.6,-34.5 46.6,-36.8 49.6,-39.1ZM-46.6,-14.5 -41.5,-13.9 -39.5,-13.0 -37.6,-11.5 -36.9,-10.5 -36.5,-8.5 -37.3,-6.5 -38.3,-5.5 -39.8,-4.5 -42.5,-3.5 -46.6,-3.2 -50.6,-3.9 -53.6,-5.7 -54.6,-7.0 -55.1,-8.5 -54.7,-10.5 -54.0,-11.5 -51.1,-13.5ZM-56.3,7.5 -53.6,6.9 -49.6,7.0 -45.6,8.1 -42.5,9.6 -39.5,11.8 -36.5,14.7 -33.8,18.5 -31.9,22.5 -30.4,27.5 -29.7,32.5 -29.7,37.5 -30.3,41.5 -31.5,45.2 -33.5,48.6 -35.5,50.6 -38.5,52.3 -41.5,53.1 -45.6,53.1 -49.6,52.0 -53.6,49.9 -57.6,46.7 -60.3,43.5 -62.9,39.5 -64.8,35.5 -66.0,31.5 -66.8,26.5 -66.8,22.5 -66.1,18.5 -64.5,14.5 -62.4,11.5 -59.6,9.1Z"/>
<path fill="#afd3e7" d="M-29.8,-63.6 -25.5,-63.9 -22.5,-63.0 -9.9,-56.6 -5.7,-52.6 -2.4,-50.6 14.5,-45.1 18.5,-43.2 22.5,-40.7 25.5,-38.2 27.9,-35.5 29.1,-33.5 30.3,-30.5 30.8,-27.5 30.7,-25.5 29.7,-22.5 28.5,-20.6 25.5,-17.8 21.5,-15.8 16.5,-14.7 11.5,-14.5 5.5,-15.4 -2.0,-17.5 -7.5,-19.7 -12.5,-22.7 -17.0,-26.5 -24.5,-34.5 -33.1,-41.5 -35.6,-44.6 -37.2,-47.6 -38.3,-52.6 -38.0,-55.6 -37.3,-57.6 -36.1,-59.6 -34.5,-61.2 -32.4,-62.6ZM32.1,8.5 36.5,8.0 40.5,9.1 44.6,11.9 48.0,16.5 49.6,21.5 49.7,26.5 49.2,29.5 48.0,32.5 45.3,36.5 42.5,38.9 39.5,40.4 36.5,41.0 33.5,40.8 30.5,40.0 27.5,38.4 20.5,32.4 19.5,34.0 18.2,42.5 15.8,49.6 12.6,54.6 8.5,58.2 3.5,60.6 0.5,61.2 -2.5,61.3 -5.5,60.8 -8.5,59.7 -13.5,56.3 -16.5,52.8 -18.6,48.6 -20.0,43.5 -20.7,36.5 -20.5,30.5 -19.5,25.0 -17.5,20.2 -14.8,16.5 -12.1,14.5 -8.5,13.5 2.5,13.2 7.5,13.9 10.5,15.3 12.5,17.1 18.5,25.3 19.5,24.5 21.8,18.5 24.9,13.5 28.5,10.2Z"/>
<path fill="#f09575" d="M55.1,-33.5 57.6,-33.9 60.6,-33.6 63.3,-32.5 65.6,-31.1 67.6,-29.3 69.8,-26.5 72.6,-20.5 73.5,-16.5 73.6,-13.5 73.4,-10.5 72.6,-7.3 71.3,-4.5 69.6,-2.2 67.6,-0.4 64.6,1.0 62.6,1.3 59.6,1.2 56.6,0.2 53.9,-1.5 51.6,-3.6 49.6,-6.2 47.8,-9.5 46.7,-12.5 46.1,-15.5 45.9,-19.5 46.5,-23.5 47.5,-26.5 48.6,-28.5 50.6,-31.0 52.6,-32.5ZM-52.6,11.5 -49.6,11.5 -46.6,12.2 -41.5,15.1 -38.9,17.5 -36.6,20.5 -33.8,26.5 -32.6,33.5 -32.8,36.5 -33.5,40.2 -34.5,42.7 -36.5,45.5 -38.5,47.1 -40.5,48.0 -43.5,48.6 -46.6,48.4 -49.6,47.5 -52.6,45.9 -55.6,43.4 -58.1,40.5 -60.0,37.5 -61.7,33.5 -62.8,29.5 -63.1,25.5 -62.6,21.5 -61.6,18.5 -59.8,15.5 -57.7,13.5 -55.6,12.3Z"/>
<path fill="#87bdd9" d="M-8.1,-44.6 -1.5,-45.5 5.5,-44.9 12.5,-42.9 18.5,-39.9 23.5,-35.5 26.0,-31.5 26.7,-27.5 26.4,-25.5 25.6,-23.5 23.5,-21.1 20.5,-19.2 16.5,-17.8 12.5,-17.3 7.5,-17.5 2.5,-18.6 -2.5,-20.3 -6.8,-22.5 -10.7,-25.5 -13.4,-28.5 -15.1,-31.5 -16.0,-35.5 -15.4,-38.5 -14.3,-40.5 -11.5,-43.0ZM32.9,11.5 35.5,11.1 37.5,11.3 41.5,13.0 44.9,16.5 46.9,21.5 47.0,26.5 45.4,31.5 44.1,33.5 42.1,35.5 39.5,37.1 37.5,37.7 33.5,37.6 31.5,37.0 29.1,35.5 26.3,32.5 25.2,30.5 24.3,27.5 24.2,22.5 25.8,17.5 28.5,14.0 30.5,12.5Z"/>
<path fill="#de6b56" d="M-53.9,16.5 -51.6,15.8 -49.6,15.8 -46.6,16.5 -44.6,17.5 -40.5,20.9 -37.6,25.5 -36.6,28.5 -36.0,31.5 -36.3,36.5 -38.0,40.5 -39.5,42.3 -41.5,43.6 -45.6,44.3 -48.6,43.6 -50.6,42.7 -54.6,39.4 -57.7,34.5 -58.8,31.5 -59.4,28.5 -59.1,23.5 -57.4,19.5 -55.6,17.5Z"/>
<path fill="#559ec9" d="M-0.2,-42.5 4.5,-42.4 9.5,-41.3 14.5,-39.2 18.5,-36.5 21.1,-33.5 22.8,-29.5 22.6,-26.5 20.9,-23.5 18.5,-21.7 15.5,-20.5 11.5,-19.9 7.5,-20.0 3.5,-20.7 -0.5,-22.1 -4.5,-24.2 -7.5,-26.5 -9.2,-28.5 -10.9,-31.5 -11.3,-34.5 -10.9,-36.5 -9.7,-38.5 -7.4,-40.5 -4.5,-41.8ZM32.9,14.5 36.5,14.0 39.5,15.0 42.5,17.7 44.3,21.5 44.6,25.5 43.5,29.6 41.4,32.5 39.5,33.9 37.5,34.7 34.5,34.9 31.1,33.5 28.5,30.9 27.0,27.5 26.7,23.5 27.7,19.5 29.8,16.5Z"/>
<path fill="#c63c3e" d="M-52.1,21.5 -49.6,20.8 -46.6,21.4 -43.5,23.5 -41.4,26.5 -40.3,29.5 -40.1,33.5 -41.2,36.5 -43.5,38.7 -46.6,39.2 -48.9,38.5 -51.6,36.7 -53.9,33.5 -55.2,29.5 -55.2,26.5 -54.2,23.5Z"/>
<path fill="#3480b9" d="M-0.5,-39.5 3.5,-39.8 7.5,-39.2 11.5,-37.8 15.2,-35.5 17.2,-33.5 18.7,-30.5 18.7,-27.5 17.6,-25.5 15.5,-23.9 13.5,-23.1 8.5,-22.5 2.5,-23.6 -3.0,-26.5 -5.1,-28.5 -6.4,-30.5 -7.1,-32.5 -7.0,-34.5 -6.0,-36.5 -5.0,-37.5 -3.5,-38.5ZM33.9,17.5 36.5,17.3 38.5,18.0 40.5,19.9 41.7,22.5 41.9,25.5 40.9,28.5 39.1,30.5 36.5,31.7 34.5,31.6 32.2,30.5 30.5,28.5 29.5,25.8 29.5,23.2 30.4,20.5 32.1,18.5Z"/>
<path fill="#2166ac" d="M-0.0,-35.5 2.5,-36.4 4.5,-36.5 9.5,-35.2 12.0,-33.5 13.5,-31.6 13.9,-30.5 13.7,-28.5 11.6,-26.5 8.5,-25.8 4.5,-26.3 1.5,-27.5 -0.8,-29.5 -1.9,-31.5 -1.8,-33.5Z"/>
</g>
</g>
<g transform="translate(98.7,551.3)">
<circle r="86.6" fill="#f6f6f6"/>
<g clip-path="url(#mc)">
<path fill="#fddcc9" d="M-1.8,-76.6 2.5,-76.7 7.5,-76.2 11.5,-75.1 14.5,-73.8 17.4,-71.6 18.6,-69.6 19.0,-67.6 18.3,-65.6 16.5,-63.4 12.5,-61.1 7.5,-59.7 2.5,-59.2 -3.5,-59.5 -8.1,-60.6 -12.5,-62.5 -15.0,-64.6 -16.1,-66.6 -16.3,-68.6 -15.5,-70.6 -13.7,-72.6 -8.5,-75.2ZM-8.3,-52.6 -5.5,-53.5 -3.5,-53.3 -1.5,-52.5 -0.9,-51.6 -1.1,-50.6 -2.3,-49.6 -3.5,-49.2 -5.5,-49.0 -7.5,-49.4 -8.9,-50.6 -9.0,-51.6ZM-65.5,-29.5 -61.6,-30.2 -58.6,-29.4 -55.6,-27.3 -52.6,-23.9 -51.6,-20.5 -52.2,-11.5 -51.4,-5.5 -50.3,-2.5 -48.2,1.5 -46.6,3.5 -44.6,5.0 -41.5,5.1 -35.5,3.2 -20.5,-6.0 -14.5,-7.6 -10.5,-7.8 -6.5,-6.7 -3.2,-4.5 -0.5,-1.6 0.7,0.5 1.6,3.5 1.4,10.5 4.3,20.5 5.0,27.5 4.8,31.5 3.7,36.5 -0.5,46.6 -1.5,54.6 -1.5,55.6 -0.7,56.6 1.5,56.9 11.5,56.5 13.5,56.1 14.3,55.6 14.5,54.6 13.2,48.6 13.1,44.6 14.2,39.5 16.4,35.5 20.0,31.5 24.5,28.6 29.5,26.9 34.5,26.4 40.5,27.2 45.6,29.1 50.3,32.5 53.6,36.5 55.7,41.5 56.2,46.6 55.3,51.6 52.8,56.6 48.6,61.0 45.6,62.9 42.5,64.3 37.5,65.5 28.5,66.4 21.5,69.9 16.5,71.6 11.5,72.3 6.5,72.3 0.5,71.5 -4.8,69.6 -7.6,67.6 -10.4,62.6 -11.5,62.1 -20.5,61.2 -26.5,59.5 -30.5,56.8 -33.6,52.6 -35.5,51.2 -43.5,50.6 -51.6,49.5 -53.6,49.6 -59.6,51.8 -62.6,52.0 -65.6,51.2 -68.4,49.6 -71.4,46.6 -73.6,43.5 -76.2,38.5 -78.0,33.5 -79.6,27.5 -80.6,21.5 -81.2,14.5 -81.2,7.5 -80.7,0.5 -79.7,-5.5 -78.2,-11.5 -76.4,-16.5 -74.4,-20.5 -71.6,-24.8 -68.6,-27.7Z"/>
<path fill="#d5e7f1" d="M-26.4,-50.6 -21.5,-51.2 -17.5,-51.0 -11.5,-47.9 -6.5,-46.7 -1.5,-47.1 4.5,-49.2 7.5,-49.8 15.5,-48.9 22.5,-46.9 29.5,-43.9 35.5,-40.5 41.0,-36.5 46.3,-31.5 50.5,-26.5 54.1,-20.5 56.0,-15.5 57.0,-9.5 56.6,-1.5 59.9,6.5 60.7,10.5 60.2,14.5 58.0,18.5 54.6,21.2 49.6,22.6 44.6,22.4 38.5,20.6 33.5,17.4 26.5,10.6 15.5,6.8 7.5,3.0 4.5,0.7 -3.5,-7.2 -12.5,-14.0 -14.5,-15.1 -16.5,-15.7 -19.5,-15.6 -20.5,-15.0 -22.0,-9.5 -23.6,-6.5 -27.6,-2.5 -32.5,0.6 -36.7,2.5 -40.5,3.1 -43.5,2.5 -45.0,1.5 -46.6,-0.2 -48.6,-3.7 -49.6,-7.1 -49.8,-11.5 -49.4,-14.5 -48.4,-17.5 -46.6,-21.0 -43.7,-24.5 -42.6,-26.5 -43.8,-33.5 -43.7,-36.5 -43.2,-38.5 -41.0,-42.5 -37.5,-45.8 -32.5,-48.6Z"/>
<path fill="#f8b99c" d="M-2.6,-69.6 0.5,-70.4 3.5,-70.1 5.5,-69.3 6.2,-68.6 6.4,-67.6 5.7,-66.6 3.5,-65.6 -0.8,-65.6 -3.1,-66.6 -3.8,-67.6 -3.6,-68.6ZM-13.8,-4.5 -10.5,-5.1 -6.5,-4.3 -4.0,-2.5 -1.9,0.5 -1.2,4.5 -2.7,11.5 -0.2,20.5 0.4,25.5 -0.0,31.5 -2.0,37.5 -4.5,41.3 -10.1,47.6 -12.4,51.6 -13.5,52.6 -15.5,53.4 -18.5,53.5 -20.5,52.6 -21.5,51.7 -23.3,48.6 -25.0,46.6 -28.5,44.7 -30.5,44.5 -37.5,46.2 -41.5,46.4 -46.6,45.2 -50.6,42.8 -52.9,40.5 -54.3,38.5 -56.1,33.5 -56.1,30.5 -55.8,28.5 -53.8,24.5 -50.6,21.7 -44.6,18.2 -43.4,16.5 -41.2,9.5 -39.7,7.5 -37.4,5.5 -28.5,0.0 -23.5,-1.8 -17.5,-3.0ZM30.2,31.5 33.5,31.0 36.5,31.1 39.5,31.7 42.5,32.8 45.3,34.5 47.5,36.5 49.0,38.5 50.4,41.5 51.1,44.6 51.1,47.6 49.5,52.6 47.6,55.4 45.6,57.3 40.5,60.0 37.5,60.8 33.5,61.0 30.5,60.6 27.5,59.7 24.5,58.1 22.5,56.4 20.3,53.6 18.9,50.6 18.2,47.6 18.2,44.6 18.8,41.5 20.3,38.5 22.5,35.8 24.5,34.1 27.5,32.4Z"/>
<path fill="#afd3e7" d="M1.5,-44.6 6.5,-45.1 12.5,-44.9 17.5,-44.0 23.5,-42.1 29.5,-39.3 34.5,-36.2 39.5,-32.2 44.0,-27.5 47.5,-22.5 49.8,-17.5 51.1,-11.5 50.4,-2.5 51.4,-0.5 54.9,4.5 56.4,8.5 56.5,11.5 56.0,13.5 54.9,15.5 53.6,16.9 50.6,18.6 46.6,19.2 42.5,18.6 38.5,16.9 34.4,13.5 30.5,8.0 28.9,6.5 14.5,2.0 8.5,-1.1 4.5,-3.8 -3.0,-10.5 -10.5,-20.1 -12.5,-22.1 -15.5,-23.6 -22.5,-24.6 -26.5,-25.8 -29.5,-27.7 -31.7,-30.5 -32.5,-33.5 -31.8,-36.5 -29.4,-39.5 -26.1,-41.5 -20.5,-42.9 -8.5,-42.7ZM-39.0,-22.5 -36.5,-23.1 -33.5,-23.0 -31.5,-22.4 -29.5,-21.2 -27.5,-19.0 -26.0,-16.5 -24.7,-11.5 -25.4,-7.5 -26.4,-5.5 -28.2,-3.5 -30.8,-1.5 -34.4,0.5 -38.5,1.5 -40.5,1.4 -42.5,0.7 -45.0,-1.5 -47.2,-5.5 -47.9,-9.5 -47.5,-13.5 -45.6,-17.8 -42.5,-20.8Z"/>
<path fill="#f09575" d="M-13.6,-1.5 -10.5,-2.4 -7.5,-1.9 -5.5,-0.4 -4.1,2.5 -4.2,5.5 -5.9,9.5 -6.2,11.5 -3.5,20.5 -2.9,27.5 -3.9,32.5 -6.5,37.5 -8.5,39.7 -11.5,41.8 -14.5,42.9 -16.5,43.3 -20.5,43.0 -29.5,40.2 -31.5,40.4 -37.5,42.5 -40.5,42.8 -43.5,42.3 -47.1,40.5 -49.1,38.5 -50.6,35.5 -51.0,32.5 -50.4,29.5 -49.4,27.5 -47.6,25.6 -42.5,22.5 -40.5,20.7 -39.6,18.5 -38.0,11.5 -35.7,7.5 -31.7,3.5 -28.5,1.5 -25.5,1.1 -18.5,1.0 -16.5,0.3ZM30.0,35.5 34.5,34.7 38.5,35.3 42.5,37.3 45.6,40.7 46.9,44.6 46.7,48.6 44.7,52.6 41.2,55.6 36.5,57.1 31.5,56.9 28.5,55.8 26.6,54.6 23.5,51.0 22.6,48.6 22.3,46.6 22.5,43.5 23.2,41.5 24.5,39.5 26.4,37.5Z"/>
<path fill="#87bdd9" d="M6.1,-41.5 10.5,-41.8 15.5,-41.2 20.5,-40.0 24.5,-38.5 29.5,-36.0 33.5,-33.3 37.5,-30.0 40.8,-26.5 44.7,-20.5 46.7,-14.5 46.8,-9.5 45.2,-2.5 46.4,-0.5 51.3,4.5 52.8,7.5 53.1,9.5 52.9,11.5 51.9,13.5 50.9,14.5 49.3,15.5 46.6,16.2 43.5,15.9 40.5,14.8 38.5,13.5 36.5,11.5 35.2,9.5 33.0,4.5 32.0,3.5 29.5,2.6 20.5,0.9 12.5,-2.2 8.5,-4.5 4.5,-7.4 -1.6,-13.5 -5.0,-18.5 -7.7,-24.5 -8.8,-29.5 -8.5,-32.5 -6.7,-35.5 -3.0,-38.5 1.5,-40.5ZM-38.6,-19.5 -34.5,-19.6 -32.5,-18.9 -30.6,-17.5 -28.3,-14.5 -27.3,-10.5 -28.2,-6.5 -30.5,-3.6 -33.6,-1.5 -37.5,-0.5 -40.5,-1.0 -43.5,-3.3 -45.2,-6.5 -45.7,-9.5 -45.1,-13.5 -43.5,-16.3 -41.5,-18.2Z"/>
<path fill="#de6b56" d="M-12.7,2.5 -10.5,1.5 -9.5,1.7 -8.5,2.3 -8.0,3.5 -8.3,5.5 -10.0,8.5 -10.1,10.5 -6.9,18.5 -5.8,23.5 -5.9,27.5 -6.5,30.5 -7.8,33.5 -9.5,35.9 -11.5,37.6 -13.5,38.7 -17.5,39.7 -22.5,39.0 -30.5,36.0 -32.5,36.0 -37.5,38.2 -39.5,38.6 -42.5,38.2 -44.6,37.0 -45.7,35.5 -46.4,33.5 -45.8,30.5 -44.2,28.5 -38.8,25.5 -37.5,24.2 -36.7,21.5 -35.9,15.5 -35.1,12.5 -32.7,7.5 -30.5,4.6 -28.5,3.4 -26.5,3.1 -19.5,4.6 -16.5,4.8 -14.5,4.1ZM31.1,39.5 33.5,38.9 36.5,39.0 39.5,40.4 41.5,42.5 42.4,44.6 42.4,47.6 41.5,49.6 39.5,51.6 36.5,53.0 33.5,53.1 30.5,52.1 27.8,49.6 26.7,46.6 27.2,43.5 28.5,41.4Z"/>
<path fill="#559ec9" d="M6.9,-38.5 10.5,-38.9 14.5,-38.7 18.5,-37.9 22.5,-36.7 26.5,-34.8 30.5,-32.5 34.3,-29.5 37.3,-26.5 39.7,-23.5 41.9,-19.5 43.0,-16.5 43.4,-13.5 43.3,-10.5 42.3,-7.5 40.5,-4.6 38.5,-2.4 35.5,-1.0 30.5,-0.5 24.5,-0.9 19.5,-2.0 14.5,-3.9 9.5,-6.8 5.5,-9.8 1.8,-13.5 -1.0,-17.5 -3.0,-21.5 -4.0,-25.5 -4.0,-29.5 -2.8,-32.5 -0.5,-35.3 2.5,-37.2ZM-38.6,-16.5 -35.5,-16.8 -33.5,-16.1 -31.5,-14.4 -30.1,-11.5 -30.2,-8.5 -31.0,-6.5 -32.7,-4.5 -35.5,-3.1 -37.5,-2.9 -39.8,-3.5 -41.5,-4.9 -42.9,-7.5 -43.2,-10.5 -42.5,-12.9 -40.5,-15.5ZM40.5,2.5 42.5,2.5 44.6,3.1 47.8,5.5 49.2,8.5 48.9,10.5 48.1,11.5 46.4,12.5 43.5,12.5 41.3,11.5 39.5,9.9 38.4,7.5 38.2,5.5 39.0,3.5Z"/>
<path fill="#c63c3e" d="M-28.9,5.5 -27.5,5.0 -25.5,5.2 -16.5,9.3 -13.5,11.9 -10.5,16.5 -9.4,19.5 -8.7,22.5 -8.9,27.5 -9.8,30.5 -11.0,32.5 -12.5,34.1 -14.5,35.5 -18.5,36.5 -22.5,36.0 -28.4,32.5 -30.7,30.5 -32.1,28.5 -32.9,26.5 -33.4,22.5 -33.1,15.5 -31.2,8.5 -30.0,6.5Z"/>
<path fill="#3480b9" d="M6.9,-35.5 10.5,-36.2 13.5,-36.3 20.5,-34.9 27.5,-31.7 33.1,-27.5 37.3,-22.5 38.9,-19.5 39.9,-16.5 40.2,-13.5 40.0,-11.5 38.9,-8.5 37.5,-6.8 34.5,-4.6 31.5,-3.6 27.5,-3.2 23.5,-3.5 18.5,-4.8 14.5,-6.4 10.5,-8.8 6.5,-12.0 3.4,-15.5 0.9,-19.5 -0.4,-23.5 -0.7,-26.5 -0.1,-29.5 1.5,-32.2 3.5,-33.9ZM-37.8,-12.5 -35.5,-12.6 -34.5,-11.8 -33.9,-10.5 -34.1,-8.5 -35.5,-7.1 -37.5,-6.9 -38.5,-7.4 -39.3,-8.5 -39.4,-10.5 -38.9,-11.5Z"/>
<path fill="#a8132a" d="M-28.7,7.5 -26.5,6.8 -23.5,8.1 -15.5,14.4 -12.8,18.5 -11.6,23.5 -12.2,27.5 -14.0,30.5 -17.5,33.0 -20.5,33.6 -23.5,32.7 -26.5,30.3 -29.2,26.5 -30.8,21.5 -31.2,15.5 -30.4,10.5Z"/>
<path fill="#2166ac" d="M11.0,-33.5 16.5,-33.5 21.5,-32.2 26.8,-29.5 31.8,-25.5 34.9,-21.5 36.9,-16.5 36.8,-12.5 36.0,-10.5 34.5,-8.5 31.5,-6.7 28.5,-5.9 25.5,-5.8 21.5,-6.3 17.5,-7.5 13.5,-9.5 10.5,-11.6 7.3,-14.5 5.0,-17.5 3.4,-20.5 2.6,-23.5 2.7,-26.5 3.9,-29.5 5.5,-31.3 7.5,-32.5Z"/>
<path fill="#7d0722" d="M-28.3,9.5 -26.5,8.6 -25.5,8.7 -23.5,10.0 -18.9,15.5 -16.5,19.5 -15.7,22.5 -16.0,25.5 -17.5,28.5 -19.9,30.5 -22.5,30.6 -24.5,29.4 -26.5,27.2 -28.0,24.5 -29.3,20.5 -29.9,15.5 -29.5,12.3Z"/>
<path fill="#134b87" d="M11.3,-30.5 15.5,-31.0 20.5,-30.0 25.5,-27.6 29.3,-24.5 32.3,-20.5 33.6,-16.5 33.4,-13.5 31.5,-10.7 29.8,-9.5 27.5,-8.8 24.5,-8.5 21.5,-8.9 15.5,-11.1 10.5,-14.8 8.5,-17.1 7.0,-19.5 6.0,-22.5 6.0,-24.5 6.4,-26.5 7.5,-28.2 9.0,-29.5Z"/>
<path fill="#67001f" d="M-27.7,11.5 -26.5,10.6 -24.5,11.1 -22.2,13.5 -20.0,17.5 -19.0,21.5 -19.1,24.5 -19.7,26.5 -20.5,27.6 -21.5,28.2 -22.5,28.2 -24.5,27.1 -26.4,24.5 -27.5,22.2 -28.7,16.5 -28.5,13.5Z"/>
<path fill="#053061" d="M14.4,-27.5 17.5,-27.6 20.5,-26.9 23.5,-25.5 26.5,-23.2 28.6,-20.5 29.6,-17.5 29.5,-15.5 28.3,-13.5 25.5,-12.0 21.5,-11.9 16.9,-13.5 12.9,-16.5 10.5,-20.2 10.1,-23.5 10.5,-24.9 11.5,-26.2Z"/>
</g>
</g>
<g transform="translate(334.4,551.3)">
<circle r="86.6" fill="#f6f6f6"/>
<g clip-path="url(#mc)">
<path fill="#fddcc9" d="M9.6,-43.5 11.5,-44.0 14.5,-44.0 22.6,-42.5 28.5,-40.5 31.5,-38.6 33.5,-36.7 35.2,-34.5 36.5,-31.7 37.6,-26.5 37.1,-21.5 36.3,-19.5 34.5,-17.3 32.5,-16.1 29.5,-15.3 26.5,-15.3 22.5,-15.9 17.5,-18.0 10.0,-23.5 8.5,-26.2 7.5,-29.2 5.8,-38.5 6.7,-41.5 7.7,-42.5ZM-42.6,-22.5 -39.5,-23.4 -35.5,-23.0 -32.5,-21.7 -30.0,-19.5 -27.8,-16.5 -26.5,-13.5 -25.7,-9.5 -25.5,-4.5 -25.3,-3.5 -24.5,-3.1 -20.5,-5.7 -17.5,-6.9 -14.5,-7.5 -11.5,-7.4 -8.5,-6.7 -5.5,-5.2 -3.4,-3.5 -1.1,-0.5 0.3,3.5 0.2,7.5 -0.8,10.5 -4.3,15.5 -4.9,17.5 -1.8,23.5 0.6,31.5 3.9,36.5 5.5,39.8 6.5,43.2 7.5,49.6 7.4,52.6 6.5,55.9 4.6,58.6 2.5,60.2 -0.5,61.2 -3.5,61.2 -6.5,60.2 -9.5,58.3 -12.1,55.6 -14.1,52.6 -17.6,43.5 -19.5,41.9 -26.5,38.4 -28.5,36.6 -30.1,34.5 -31.0,32.5 -31.5,29.5 -31.0,24.5 -29.5,20.5 -24.9,14.5 -24.9,13.5 -26.6,8.5 -27.5,3.7 -28.5,3.3 -32.3,5.5 -34.5,6.0 -37.5,5.7 -40.2,4.5 -43.5,1.9 -46.5,-1.5 -48.6,-5.2 -49.6,-8.5 -49.8,-12.5 -48.7,-16.5 -46.6,-19.7 -44.6,-21.4ZM39.9,-5.5 43.5,-5.9 48.6,-5.1 53.6,-3.2 58.1,-0.5 61.4,2.5 64.4,6.5 67.1,11.5 69.0,16.5 70.4,22.5 71.1,28.5 70.9,34.5 70.0,39.5 68.2,44.6 65.6,48.8 62.6,51.7 58.6,53.9 54.6,54.6 49.6,53.9 45.6,52.1 40.8,48.6 37.5,45.0 34.8,40.5 30.0,27.5 29.2,24.5 29.1,20.5 30.1,8.5 31.1,3.5 32.5,0.4 34.5,-2.2 37.5,-4.5Z"/>
<path fill="#d5e7f1" d="M-1.7,-68.6 3.5,-69.0 8.5,-68.5 11.7,-67.6 13.0,-66.6 13.0,-65.6 11.8,-64.6 9.5,-63.8 3.5,-63.1 -2.5,-63.7 -5.2,-64.6 -6.4,-65.6 -6.3,-66.6 -5.1,-67.6ZM48.4,-68.6 51.6,-69.4 54.6,-68.6 57.6,-65.7 58.9,-62.6 59.3,-58.6 58.2,-54.6 55.6,-51.1 52.6,-49.8 49.6,-50.0 47.6,-51.0 45.2,-53.6 44.0,-56.6 43.6,-60.6 44.3,-63.6 46.0,-66.6ZM20.5,-53.6 25.5,-54.3 30.6,-53.6 34.3,-51.6 35.0,-50.6 35.2,-48.6 33.4,-46.6 29.5,-45.3 24.5,-45.4 20.0,-46.6 17.0,-48.6 16.5,-49.6 16.5,-50.6 18.3,-52.6ZM-8.0,-41.5 -4.5,-41.5 -1.5,-40.5 0.5,-39.0 2.5,-36.5 4.5,-31.6 5.1,-28.5 5.2,-25.5 4.7,-21.5 11.1,-19.5 12.5,-18.5 14.1,-16.5 14.5,-15.5 14.4,-13.5 13.5,-11.9 11.9,-10.5 9.5,-9.5 7.5,-9.2 3.5,-9.8 1.5,-10.9 -0.1,-12.5 -1.5,-15.9 -2.5,-16.5 -6.5,-16.3 -10.5,-17.1 -14.5,-19.5 -17.0,-22.5 -18.2,-25.5 -18.7,-28.5 -18.5,-31.5 -17.5,-34.5 -15.5,-37.5 -13.5,-39.3 -10.5,-40.9ZM54.1,-41.5 57.6,-42.0 60.6,-42.0 64.6,-41.3 67.6,-40.2 70.6,-38.5 73.6,-36.1 75.6,-33.5 77.3,-30.5 78.2,-27.5 78.5,-23.5 78.0,-20.5 77.0,-17.5 75.2,-14.5 73.4,-12.5 70.6,-10.2 67.6,-8.6 64.6,-7.7 61.6,-7.4 58.6,-7.6 54.6,-8.6 49.6,-10.5 46.1,-12.5 43.8,-14.5 42.7,-16.5 42.1,-19.5 41.8,-25.5 42.1,-30.5 42.9,-33.5 44.6,-36.3 47.2,-38.5 50.6,-40.4ZM-62.7,-9.5 -57.6,-10.3 -55.6,-10.0 -53.6,-9.0 -51.6,-6.8 -46.5,0.5 -42.5,4.5 -37.5,8.5 -35.7,10.5 -34.7,12.5 -34.3,14.5 -34.6,19.5 -36.1,26.5 -40.7,39.5 -40.5,54.6 -41.1,59.6 -42.3,64.6 -44.6,69.9 -47.2,73.6 -50.6,76.2 -53.6,77.1 -55.6,76.9 -57.6,76.2 -60.6,74.1 -63.6,70.0 -65.9,64.6 -67.3,58.6 -67.8,51.6 -66.2,35.5 -67.1,32.5 -72.5,21.5 -73.7,17.5 -74.4,13.5 -74.3,6.5 -73.4,2.5 -72.2,-0.5 -70.6,-3.3 -68.6,-5.8 -65.6,-8.1ZM17.5,1.5 20.5,1.0 22.5,1.8 24.5,3.9 25.5,5.9 26.5,10.5 26.4,14.5 25.5,18.7 23.4,23.5 23.3,24.5 26.5,29.1 28.4,32.5 29.5,36.0 30.2,40.5 29.8,46.6 27.6,51.6 24.5,54.7 22.5,55.7 20.5,56.1 18.5,55.9 16.5,55.1 13.5,52.3 11.0,46.6 9.9,40.5 10.0,36.5 10.8,32.5 12.3,29.5 15.9,24.5 15.8,23.5 13.6,19.5 12.6,16.5 12.1,13.5 12.4,9.5 13.3,6.5 14.3,4.5 15.5,3.0Z"/>
<path fill="#f8b99c" d="M16.4,-38.5 19.5,-38.6 23.4,-37.5 26.5,-35.9 29.3,-33.5 31.4,-30.5 32.2,-27.5 31.7,-24.5 30.5,-22.9 27.5,-21.4 25.5,-21.2 22.5,-21.6 17.8,-23.5 14.1,-26.5 11.7,-30.5 11.3,-32.5 11.4,-34.5 12.4,-36.5 13.5,-37.5ZM-41.9,-18.5 -38.5,-19.4 -36.5,-19.2 -34.5,-18.4 -31.3,-15.5 -29.4,-11.5 -28.9,-6.5 -29.9,-2.5 -30.9,-0.5 -32.5,1.4 -35.5,3.0 -38.5,3.0 -41.7,1.5 -44.7,-1.5 -46.8,-5.5 -47.3,-9.5 -46.6,-13.3 -44.6,-16.5ZM-17.1,-2.5 -13.5,-3.3 -10.5,-2.8 -7.5,-1.3 -5.1,1.5 -4.2,4.5 -4.3,6.5 -4.9,8.5 -6.5,10.9 -9.5,13.1 -13.5,14.2 -16.5,13.6 -19.5,11.7 -21.9,8.5 -22.5,5.5 -22.1,2.5 -20.1,-0.5ZM42.2,1.5 45.6,0.7 48.6,1.0 51.6,2.0 54.6,3.8 57.6,6.6 60.6,10.5 62.7,14.5 64.2,18.5 65.2,22.5 65.7,27.5 65.6,31.5 64.9,35.5 63.5,39.5 61.6,42.5 59.6,44.6 56.6,46.3 53.6,46.9 50.6,46.6 47.6,45.6 44.6,43.7 41.5,40.9 39.0,37.5 36.8,33.5 35.2,29.5 34.0,24.5 33.5,20.5 33.6,16.5 34.2,12.5 35.5,8.5 37.2,5.5 39.5,3.1ZM-19.5,20.5 -16.5,20.1 -13.5,20.8 -11.0,22.5 -9.5,24.4 -8.7,26.5 -8.6,29.5 -9.5,31.9 -11.5,33.9 -13.5,34.8 -15.5,35.0 -19.4,34.5 -22.5,32.9 -24.5,30.5 -25.3,27.5 -24.5,24.5 -22.5,22.1Z"/>
<path fill="#afd3e7" d="M-9.9,-36.5 -6.5,-37.5 -3.5,-37.0 -0.5,-35.1 1.3,-32.5 2.2,-28.5 1.6,-25.5 -0.5,-22.5 -2.5,-21.2 -5.5,-20.5 -8.5,-20.9 -11.5,-22.5 -13.7,-25.5 -14.5,-28.5 -14.1,-31.5 -12.4,-34.5ZM57.2,-33.5 60.6,-33.5 64.6,-32.1 67.4,-29.5 68.9,-26.5 69.0,-22.5 67.7,-19.5 64.6,-16.6 61.6,-15.4 57.6,-15.2 53.6,-16.5 50.6,-19.0 48.9,-22.5 48.9,-26.5 50.3,-29.5 53.6,-32.3ZM5.0,-18.5 7.5,-18.8 10.5,-17.6 11.9,-15.5 11.5,-13.5 9.5,-11.9 7.5,-11.4 5.5,-11.5 3.4,-12.5 2.5,-13.5 2.0,-15.5 3.1,-17.5ZM-58.4,-3.5 -54.6,-3.3 -52.6,-2.5 -50.6,-1.1 -42.6,7.5 -40.7,10.5 -39.7,13.5 -39.3,16.5 -39.5,20.5 -40.2,23.5 -41.4,26.5 -43.5,29.5 -45.6,31.5 -47.6,32.9 -50.6,34.0 -53.6,34.1 -55.6,33.5 -60.6,30.0 -63.6,26.7 -65.7,23.5 -67.2,20.5 -68.4,16.5 -69.0,12.5 -68.9,9.5 -68.4,6.5 -67.3,3.5 -65.6,0.7 -63.6,-1.3 -61.6,-2.5ZM16.9,30.5 19.5,29.6 21.5,29.8 22.9,30.5 25.5,33.4 27.1,37.5 27.3,42.5 26.1,46.6 23.5,50.0 20.5,51.3 17.5,50.7 15.5,49.0 13.5,45.6 12.8,42.5 12.7,38.5 13.3,35.5 14.9,32.5Z"/>
<path fill="#f09575" d="M-40.4,-15.5 -37.5,-15.9 -35.5,-15.1 -33.5,-13.4 -32.1,-10.5 -31.7,-7.5 -32.5,-3.8 -34.1,-1.5 -36.5,-0.1 -39.5,-0.2 -41.5,-1.3 -43.4,-3.5 -44.6,-6.3 -44.8,-8.5 -44.2,-11.5 -42.5,-14.1ZM-13.5,1.5 -11.5,2.0 -10.5,2.6 -9.5,4.2 -9.3,5.5 -9.6,6.5 -10.5,7.9 -11.5,8.6 -13.5,9.0 -15.4,8.5 -16.5,7.6 -17.4,5.5 -16.5,3.0 -15.5,2.1ZM44.8,7.5 47.6,7.1 49.6,7.5 53.6,9.7 55.6,11.6 57.6,14.3 60.3,20.5 61.2,26.5 60.6,32.5 59.6,35.2 58.0,37.5 56.6,38.9 54.6,40.0 52.6,40.4 50.6,40.3 47.6,39.2 45.6,37.8 41.8,33.5 39.1,27.5 38.0,20.5 38.8,14.5 40.1,11.5 41.5,9.6Z"/>
<path fill="#87bdd9" d="M-7.1,-32.5 -4.5,-32.4 -2.7,-30.5 -2.4,-29.5 -2.6,-27.5 -4.5,-25.6 -6.5,-25.3 -7.5,-25.6 -9.4,-27.5 -9.7,-29.5 -9.4,-30.5 -8.5,-31.7ZM-57.3,2.5 -53.6,2.7 -50.2,4.5 -46.6,8.5 -44.7,12.5 -44.1,17.5 -45.1,21.5 -47.6,25.1 -50.6,26.7 -52.6,27.0 -54.6,26.7 -58.5,24.5 -61.6,21.0 -63.5,16.5 -64.1,11.5 -63.1,7.5 -62.0,5.5 -60.6,4.0ZM19.2,34.5 20.5,34.5 22.5,35.7 23.6,37.5 24.0,39.5 23.5,43.6 22.5,45.2 20.5,46.4 18.5,46.1 17.5,45.3 16.5,43.5 15.9,41.5 15.9,39.5 16.5,37.1 17.5,35.6Z"/>
<path fill="#de6b56" d="M-40.2,-10.5 -38.5,-11.4 -37.5,-11.2 -36.5,-10.6 -35.8,-9.5 -35.5,-8.5 -35.6,-6.5 -36.5,-5.0 -37.5,-4.4 -39.5,-4.7 -40.9,-6.5 -41.1,-8.5ZM46.3,15.5 48.6,14.9 50.6,15.5 52.9,17.5 54.7,20.5 55.6,23.5 55.6,27.5 54.6,30.4 52.6,32.3 50.6,32.6 47.9,31.5 45.9,29.5 44.3,26.5 43.5,23.5 43.5,20.2 44.6,17.3Z"/>
</g>
</g>
<g transform="translate(570.1,551.3)">
<circle r="86.6" fill="#f6f6f6"/>
<g clip-path="url(#mc)">
<path fill="#fddcc9" d="M-10.7,-50.6 -6.5,-51.5 -1.5,-51.0 3.5,-48.7 8.1,-44.6 18.5,-44.4 22.1,-43.5 25.5,-42.0 29.5,-38.8 31.4,-35.5 31.6,-33.5 31.3,-31.5 29.5,-27.3 27.5,-24.6 25.5,-22.8 23.5,-21.5 20.5,-20.4 17.5,-20.0 13.5,-20.2 10.5,-20.9 7.5,-22.3 4.5,-24.5 2.2,-27.5 1.0,-30.5 0.3,-35.5 -0.5,-36.5 -6.5,-37.1 -9.5,-37.9 -12.5,-39.5 -14.5,-41.5 -15.4,-43.5 -15.1,-46.6 -13.5,-48.8ZM-30.9,-33.5 -28.5,-33.5 -25.5,-32.7 -23.5,-31.4 -21.6,-29.5 -19.2,-25.5 -17.5,-19.3 -16.5,-17.4 -14.5,-16.9 -5.5,-16.7 -1.5,-15.9 2.5,-14.3 6.5,-12.0 9.5,-9.4 12.0,-6.5 14.3,-2.5 15.9,2.5 16.8,10.5 19.2,18.5 19.3,24.5 17.5,40.0 15.5,49.7 13.5,53.2 9.5,55.9 4.5,57.3 1.5,57.3 -1.5,56.9 -7.5,54.5 -12.5,50.7 -16.1,46.6 -18.9,41.5 -20.4,37.5 -23.0,27.5 -24.4,25.5 -29.3,20.5 -31.9,16.5 -33.3,12.5 -34.0,8.5 -33.8,-2.5 -38.5,-8.8 -40.5,-12.7 -41.9,-17.5 -42.4,-22.5 -41.5,-27.0 -39.5,-29.9 -35.5,-32.3Z"/>
<path fill="#d5e7f1" d="M3.9,-73.6 9.5,-74.1 15.5,-74.0 22.5,-73.2 29.5,-71.9 36.5,-70.0 43.5,-67.5 50.2,-64.6 55.6,-61.6 62.0,-56.6 64.9,-52.6 65.6,-50.6 65.7,-48.6 64.3,-44.6 64.3,-42.5 70.0,-35.5 72.5,-30.5 73.1,-27.5 72.9,-23.5 71.9,-20.5 70.2,-17.5 68.4,-15.5 65.6,-13.4 62.6,-11.8 57.6,-10.2 56.1,-8.5 54.1,2.5 50.6,12.5 51.3,14.5 57.5,20.5 60.8,25.5 63.1,31.5 63.9,38.5 63.3,44.6 60.5,54.6 60.6,56.6 62.2,61.6 62.0,64.6 60.3,67.6 58.1,69.6 54.8,71.6 51.6,72.8 46.6,74.0 41.5,74.4 36.5,74.2 31.5,73.4 26.5,71.6 23.1,69.6 21.0,67.6 19.3,64.6 19.0,62.6 19.2,57.6 18.2,50.6 18.1,46.6 18.5,38.7 20.5,25.9 21.5,22.3 23.5,18.1 25.5,15.9 28.6,13.5 29.9,11.5 29.5,9.5 27.2,2.5 26.2,-2.5 25.9,-9.5 26.6,-15.5 28.4,-20.5 31.5,-25.7 35.5,-31.5 41.3,-37.5 42.3,-39.5 41.8,-40.5 40.5,-41.2 33.5,-43.0 14.5,-49.3 0.1,-57.6 -4.0,-60.6 -5.6,-62.6 -6.5,-64.6 -6.6,-66.6 -6.0,-68.6 -4.5,-70.3 -2.6,-71.6 0.5,-72.8ZM-47.0,-57.6 -44.6,-58.2 -41.5,-58.3 -38.5,-57.6 -36.5,-56.6 -34.5,-55.1 -32.5,-52.6 -31.5,-50.3 -31.0,-47.6 -31.6,-43.5 -32.7,-41.5 -34.6,-39.5 -39.5,-36.7 -47.1,-34.5 -48.3,-33.5 -48.2,-31.5 -44.3,-16.5 -39.7,-3.5 -38.8,0.5 -38.9,13.5 -40.7,24.5 -40.7,26.5 -39.5,28.1 -35.3,30.5 -32.8,32.5 -31.5,34.5 -31.0,36.5 -31.7,39.5 -34.5,42.4 -38.5,44.1 -42.5,44.7 -61.6,43.5 -65.6,42.0 -69.6,38.9 -73.7,33.5 -77.4,25.5 -79.8,16.5 -80.9,6.5 -80.8,-1.5 -79.8,-9.5 -77.8,-17.5 -74.9,-24.5 -71.0,-30.5 -66.6,-34.5 -62.6,-36.4 -56.0,-37.5 -54.6,-38.3 -54.2,-39.5 -54.7,-46.6 -53.8,-50.6 -51.4,-54.6 -49.6,-56.2Z"/>
<path fill="#f8b99c" d="M11.6,-41.5 16.5,-42.3 20.5,-41.7 24.5,-39.7 26.8,-37.5 28.3,-34.5 28.4,-31.5 27.3,-28.5 24.6,-25.5 22.5,-24.3 19.5,-23.2 14.5,-23.1 11.5,-23.8 9.5,-24.8 6.4,-27.5 5.2,-29.5 4.6,-31.5 5.0,-35.5 6.0,-37.5 7.5,-39.2ZM-33.7,-26.5 -31.5,-27.0 -28.5,-26.2 -26.4,-24.5 -24.8,-21.5 -24.4,-17.5 -25.2,-14.5 -26.5,-12.4 -27.6,-11.5 -29.5,-10.7 -32.5,-10.8 -34.5,-11.8 -36.5,-14.0 -37.7,-16.5 -38.0,-19.5 -37.5,-22.5 -35.5,-25.4ZM-12.9,-12.5 -9.5,-12.8 -5.5,-12.5 -1.5,-11.4 1.5,-10.0 4.5,-8.0 7.5,-5.0 9.8,-1.5 10.9,1.5 12.4,12.5 15.9,19.5 17.1,23.5 17.5,27.0 17.4,31.5 16.2,39.5 14.2,45.6 11.5,49.1 9.5,50.5 6.5,51.7 2.5,52.2 -2.5,51.4 -7.5,48.8 -11.2,45.6 -14.1,41.5 -16.0,37.5 -17.2,33.5 -18.3,26.5 -19.2,24.5 -26.1,17.5 -28.1,14.5 -29.4,11.5 -30.1,7.5 -30.0,3.5 -29.0,-0.5 -26.5,-5.4 -24.5,-7.8 -21.5,-9.8 -17.5,-11.4Z"/>
<path fill="#afd3e7" d="M51.1,-35.5 54.6,-36.3 57.6,-36.1 60.6,-35.2 62.6,-34.0 64.6,-32.1 66.1,-29.5 66.6,-27.5 66.5,-24.5 65.4,-21.5 62.6,-18.5 59.6,-16.9 53.9,-15.5 52.7,-14.5 52.0,-12.5 51.2,-1.5 49.2,4.5 47.5,7.5 44.6,10.5 41.5,12.2 39.5,12.2 37.5,11.2 34.5,8.5 32.5,5.5 30.9,1.5 29.9,-2.5 29.5,-6.5 29.7,-11.5 30.5,-15.5 32.5,-20.8 35.5,-24.9 37.5,-26.6 43.5,-30.2 48.6,-34.3ZM-63.4,-25.5 -60.6,-26.4 -57.6,-26.3 -54.6,-25.1 -51.6,-22.5 -49.0,-18.5 -46.6,-12.8 -44.6,-6.5 -43.6,-0.5 -43.4,4.5 -43.8,10.5 -44.9,16.5 -46.6,21.5 -49.0,26.5 -51.6,30.1 -54.6,32.5 -57.6,33.4 -60.6,33.3 -63.6,32.3 -66.6,30.1 -68.8,27.5 -71.2,23.5 -72.9,19.5 -74.3,14.5 -75.2,8.5 -75.4,2.5 -75.1,-2.5 -74.3,-7.5 -73.0,-12.5 -70.8,-17.5 -68.6,-21.1 -66.3,-23.5ZM36.5,15.5 39.5,14.8 41.5,15.1 47.6,17.8 52.6,21.4 55.3,24.5 57.7,28.5 59.1,32.5 59.8,36.5 59.8,40.5 59.1,44.6 57.7,48.6 55.6,52.6 48.5,62.6 45.6,64.7 41.5,65.8 38.5,65.8 35.5,65.1 32.5,63.6 29.5,61.3 25.5,57.0 22.3,52.6 20.5,48.7 19.7,44.6 19.6,39.5 20.5,32.3 21.5,28.3 23.5,23.8 25.5,21.2 28.5,18.8 31.5,17.2Z"/>
<path fill="#f09575" d="M13.5,-39.5 16.5,-40.0 19.5,-39.5 21.8,-38.5 24.2,-36.5 25.3,-34.5 25.4,-31.5 24.5,-29.3 22.5,-27.2 19.5,-25.8 15.5,-25.4 11.7,-26.5 9.2,-28.5 7.7,-31.5 7.8,-34.5 9.8,-37.5ZM-12.0,-9.5 -7.5,-9.6 -2.5,-8.4 1.5,-6.3 5.3,-2.5 7.0,0.5 7.9,3.5 8.8,13.5 13.4,21.5 14.6,24.5 15.3,28.5 15.4,32.5 14.8,36.5 13.6,40.5 12.5,42.7 10.5,45.1 8.5,46.7 5.5,47.9 1.5,48.3 -2.5,47.4 -6.5,45.2 -9.5,42.3 -11.5,39.4 -13.3,35.5 -14.1,32.5 -14.9,25.5 -15.4,23.5 -16.9,21.5 -21.5,17.7 -23.5,15.5 -24.9,13.5 -26.2,10.5 -26.8,7.5 -26.6,3.5 -25.7,0.5 -24.0,-2.5 -21.5,-5.3 -18.5,-7.4 -15.5,-8.7Z"/>
<path fill="#87bdd9" d="M55.0,-26.5 55.7,-26.5 55.6,-25.9ZM38.6,-21.5 40.5,-22.2 42.5,-22.2 44.6,-21.6 45.8,-20.5 47.6,-16.8 48.7,-9.5 48.4,-3.5 46.6,1.9 45.5,3.5 43.5,5.4 40.5,6.4 37.5,5.3 35.1,2.5 33.4,-1.5 32.6,-6.5 32.8,-11.5 33.9,-15.5 35.5,-18.7ZM-60.6,-17.5 -58.6,-17.6 -55.7,-16.5 -53.6,-14.6 -52.0,-12.5 -50.5,-9.5 -49.2,-5.5 -48.1,2.5 -48.3,7.5 -48.9,11.5 -50.1,15.5 -51.5,18.5 -53.6,21.5 -55.6,23.2 -57.6,24.2 -59.6,24.5 -61.6,24.1 -63.6,22.9 -65.6,21.0 -67.2,18.5 -69.6,12.4 -70.6,4.5 -70.0,-3.5 -67.8,-10.5 -66.6,-12.8 -64.6,-15.3 -62.6,-16.8ZM34.6,19.5 38.5,18.9 41.5,19.2 45.6,20.4 48.6,22.1 51.4,24.5 53.8,27.5 55.3,30.5 56.6,34.5 57.0,38.5 56.6,42.5 55.4,46.6 53.9,49.6 51.6,52.7 48.6,55.5 45.6,57.4 41.5,58.7 38.5,59.0 34.5,58.3 31.5,57.0 28.5,55.0 26.0,52.6 23.8,49.6 22.5,46.6 21.7,43.5 21.4,39.5 21.7,35.5 22.5,31.5 24.2,27.5 26.3,24.5 28.5,22.5 31.5,20.6Z"/>
<path fill="#de6b56" d="M13.3,-36.5 16.5,-37.3 18.5,-37.1 20.5,-36.0 21.5,-35.0 22.2,-33.5 22.1,-31.5 21.7,-30.5 19.5,-28.7 17.5,-28.1 14.5,-28.3 12.5,-29.4 11.0,-31.5 10.9,-33.5 12.0,-35.5ZM-13.1,-6.5 -10.5,-6.9 -7.5,-6.9 -2.5,-5.4 1.5,-2.5 3.1,-0.5 4.6,2.5 5.3,6.5 5.0,12.5 5.2,14.5 6.1,16.5 11.1,23.5 12.2,26.5 12.9,30.5 12.4,35.5 10.8,39.5 8.5,42.4 5.5,44.2 2.5,44.8 -1.5,44.2 -4.5,42.7 -7.5,39.9 -9.5,36.9 -10.8,33.5 -11.5,29.5 -11.7,23.5 -12.4,21.5 -14.3,19.5 -19.6,15.5 -21.5,13.3 -23.0,10.5 -23.6,8.5 -23.8,5.5 -23.3,2.5 -22.4,0.5 -20.5,-2.2 -18.5,-4.0 -16.0,-5.5Z"/>
<path fill="#559ec9" d="M39.5,-15.5 41.5,-15.7 43.5,-14.1 44.7,-11.5 45.2,-8.5 45.1,-5.5 44.1,-2.5 42.5,-0.4 40.5,0.3 38.6,-0.5 37.5,-1.8 36.5,-4.0 36.1,-6.5 36.6,-11.5 37.5,-13.7ZM-61.1,-5.5 -59.6,-6.1 -57.6,-5.5 -55.6,-2.9 -54.5,0.5 -54.3,4.5 -55.1,8.5 -56.6,11.4 -58.6,12.8 -60.6,12.6 -62.6,10.8 -63.7,8.5 -64.3,5.5 -64.4,2.5 -63.7,-1.5 -62.6,-4.0ZM33.8,22.5 36.5,21.8 39.5,21.7 42.5,22.1 45.6,23.3 48.6,25.3 50.7,27.5 52.6,30.5 53.8,33.5 54.4,36.5 54.4,40.5 53.8,43.5 52.7,46.6 50.8,49.6 48.6,51.9 45.6,54.0 42.5,55.2 39.5,55.7 36.5,55.6 33.5,54.7 31.3,53.6 28.7,51.6 26.5,49.1 25.0,46.6 23.9,43.5 23.4,40.5 23.5,36.5 25.2,30.5 26.5,28.2 28.5,25.8 30.5,24.2Z"/>
<path fill="#c63c3e" d="M-13.6,-3.5 -9.5,-4.2 -6.5,-3.9 -4.5,-3.3 -2.5,-2.2 -0.5,-0.5 1.4,2.5 2.0,4.5 2.3,7.5 0.9,14.5 1.0,16.5 2.4,18.5 5.5,21.2 7.5,23.6 9.1,26.5 9.9,30.5 9.7,33.5 8.5,36.9 6.5,39.4 4.5,40.6 2.5,41.1 -0.5,40.8 -3.5,39.3 -5.5,37.3 -7.5,33.8 -8.3,30.5 -8.3,27.5 -7.6,21.5 -8.2,19.5 -9.4,18.5 -16.5,14.5 -18.5,12.5 -20.3,9.5 -20.8,5.5 -19.6,1.5 -17.1,-1.5Z"/>
<path fill="#3480b9" d="M35.6,24.5 40.5,24.2 43.5,25.1 45.6,26.1 47.6,27.6 49.6,29.9 51.0,32.5 51.9,35.5 52.2,38.5 51.9,41.5 50.0,46.6 46.6,50.4 44.6,51.7 41.5,52.8 39.5,53.1 36.5,52.9 33.5,52.0 31.5,50.8 29.5,49.1 27.6,46.6 25.7,41.5 25.5,38.5 25.8,35.5 27.5,30.8 29.2,28.5 31.4,26.5Z"/>
<path fill="#a8132a" d="M-12.6,-0.5 -9.5,-1.1 -6.5,-0.7 -4.3,0.5 -2.4,2.5 -1.2,5.5 -1.4,8.5 -2.5,11.1 -4.5,13.2 -7.5,14.2 -11.5,13.6 -14.5,11.9 -16.6,9.5 -17.4,6.5 -16.8,3.5 -15.5,1.5ZM-1.8,24.5 0.5,24.1 2.5,24.8 4.4,26.5 5.4,28.5 5.8,30.5 5.5,32.7 4.5,34.6 2.5,36.0 0.5,36.1 -0.9,35.5 -2.5,34.2 -3.6,32.5 -4.2,29.5 -3.9,27.5 -2.9,25.5Z"/>
<path fill="#2166ac" d="M34.4,27.5 38.5,26.6 41.5,26.9 43.5,27.7 47.1,30.5 49.3,34.5 49.9,39.5 48.9,43.5 46.2,47.6 42.5,49.9 38.5,50.6 34.5,49.7 32.5,48.5 30.5,46.7 28.5,43.2 27.7,38.5 28.5,34.0 30.5,30.5 32.5,28.6Z"/>
<path fill="#7d0722" d="M-9.7,5.5 -8.5,5.9 -8.5,6.8 -9.5,7.1 -10.2,6.5Z"/>
<path fill="#134b87" d="M36.8,29.5 40.5,29.5 43.5,30.8 46.0,33.5 47.2,36.5 47.2,40.5 46.1,43.5 43.5,46.4 40.5,47.7 37.5,47.8 34.3,46.6 31.5,43.6 30.4,40.5 30.4,36.5 31.5,33.5 33.5,31.2Z"/>
<path fill="#053061" d="M36.2,33.5 38.5,32.8 40.5,33.1 42.5,34.5 43.8,36.5 44.1,38.5 43.5,41.2 42.5,42.7 40.5,44.0 38.5,44.4 36.5,43.8 34.9,42.5 33.7,40.5 33.4,38.5 33.8,36.5 34.5,35.1Z"/>
</g>
</g>
<g transform="translate(805.8,551.3)">
<circle r="86.6" fill="#f6f6f6"/>
<g clip-path="url(#mc)">
<path fill="#fddcc9" d="M-0.0,-76.6 3.5,-76.6 7.5,-76.1 10.5,-75.2 13.3,-73.6 14.5,-72.4 15.4,-70.6 15.4,-68.6 14.3,-66.6 12.3,-64.6 9.5,-62.9 6.5,-61.8 2.5,-61.1 -1.5,-61.2 -4.5,-61.8 -7.5,-62.9 -10.3,-64.6 -12.1,-66.6 -12.7,-68.6 -12.3,-70.6 -11.5,-71.8 -9.6,-73.6 -6.5,-75.2ZM-62.5,-66.6 -59.6,-67.3 -57.6,-67.2 -55.6,-66.6 -53.6,-65.2 -51.6,-63.1 -50.0,-60.6 -47.6,-54.4 -45.8,-45.6 -45.2,-35.5 -45.5,-26.5 -47.1,-9.5 -46.2,-5.5 -43.1,1.5 -39.9,7.5 -37.0,11.5 -26.9,22.5 -25.4,26.5 -24.3,35.5 -23.5,36.5 -22.5,37.0 -17.5,38.2 -15.0,39.5 -12.8,41.5 -11.2,44.6 -10.8,48.6 -12.0,52.6 -14.5,55.6 -17.5,57.2 -20.5,57.6 -23.5,57.2 -29.5,54.1 -31.5,53.7 -39.5,57.8 -44.6,59.0 -50.6,58.7 -56.6,56.7 -59.6,55.1 -63.6,52.2 -70.2,45.6 -79.9,33.5 -82.3,29.5 -84.5,24.5 -85.9,19.5 -87.0,13.5 -87.8,0.5 -86.8,-13.5 -84.1,-28.5 -79.8,-42.5 -74.6,-53.7 -71.6,-58.4 -68.6,-62.1 -65.6,-64.8ZM-1.4,-41.5 3.5,-41.9 9.5,-40.7 16.6,-37.5 22.8,-33.5 25.9,-30.5 28.0,-27.5 28.8,-24.5 28.9,-19.5 29.7,-18.5 37.5,-14.0 41.5,-10.6 44.7,-6.5 46.8,-1.5 47.2,1.5 46.8,4.5 45.9,6.5 44.3,8.5 41.5,10.2 34.0,12.5 32.8,13.5 29.3,18.5 25.9,21.5 20.8,24.5 14.5,26.8 7.5,27.6 3.5,27.1 0.5,26.2 -2.8,24.5 -5.4,22.5 -7.1,20.5 -7.8,18.5 -7.6,15.5 -6.5,12.1 -3.5,5.1 -1.5,1.6 1.5,-1.1 9.1,-3.5 10.2,-4.5 10.5,-5.5 10.5,-8.5 9.5,-10.8 7.5,-11.7 -1.5,-13.8 -7.5,-16.5 -10.5,-18.5 -14.0,-21.5 -15.6,-23.5 -17.1,-26.5 -17.6,-29.5 -17.4,-31.5 -16.2,-34.5 -14.5,-36.7 -12.5,-38.3 -10.1,-39.5Z"/>
<path fill="#d5e7f1" d="M26.8,-65.6 29.5,-65.8 32.5,-65.3 35.5,-64.1 37.5,-62.8 39.5,-60.9 41.3,-58.6 43.4,-53.6 43.7,-50.6 43.5,-47.6 41.7,-42.5 39.5,-39.6 37.5,-37.8 35.4,-36.5 32.5,-35.6 29.5,-35.5 26.5,-36.3 18.6,-40.5 14.1,-44.6 13.0,-46.6 12.4,-48.6 12.3,-51.6 13.0,-54.6 15.5,-58.6 21.5,-63.4 24.5,-64.9ZM-11.7,-49.6 -8.5,-50.4 -4.5,-50.2 -1.4,-48.6 -0.7,-47.6 -0.7,-46.6 -1.2,-45.6 -2.5,-44.6 -4.5,-43.8 -7.5,-43.4 -10.5,-43.6 -12.7,-44.6 -13.7,-45.6 -14.0,-46.6 -13.1,-48.6ZM67.5,-44.6 70.6,-45.0 73.6,-44.6 76.6,-43.2 79.9,-40.5 82.6,-37.2 85.2,-32.5 87.2,-27.5 88.6,-22.5 88.6,7.1 86.0,15.5 82.6,22.3 78.4,27.5 73.6,31.3 61.6,36.7 48.1,45.6 38.5,50.4 29.5,53.4 13.5,56.7 8.5,56.8 5.5,56.1 3.5,55.2 0.5,52.6 -0.6,50.6 -1.0,48.6 -0.9,46.6 -0.2,44.6 2.3,41.5 5.5,39.6 11.5,37.1 20.8,31.5 35.5,23.5 46.6,18.5 49.6,15.8 51.8,10.5 52.9,4.5 52.9,0.5 51.4,-8.5 51.2,-12.5 52.0,-19.5 53.6,-26.3 56.4,-33.5 59.6,-38.6 63.6,-42.6ZM-30.0,-17.5 -26.5,-18.2 -23.5,-18.2 -20.5,-17.7 -16.5,-16.3 -12.5,-13.9 -9.8,-11.5 -8.2,-9.5 -6.6,-6.5 -5.9,-3.5 -5.8,-0.5 -6.4,3.5 -7.7,7.5 -9.5,11.0 -11.5,13.7 -14.5,16.5 -17.5,18.1 -20.5,18.8 -23.5,18.6 -26.5,17.7 -30.5,15.5 -33.5,13.0 -36.5,9.7 -38.5,6.6 -40.4,2.5 -41.4,-3.5 -41.0,-6.5 -40.0,-9.5 -38.0,-12.5 -35.9,-14.5 -33.5,-16.1Z"/>
<path fill="#f8b99c" d="M-63.4,-46.6 -60.6,-46.5 -57.9,-44.6 -55.8,-40.5 -54.6,-35.9 -54.0,-30.5 -53.9,-25.5 -55.9,-7.5 -55.5,-2.5 -53.4,0.5 -46.6,5.2 -41.5,10.5 -35.9,18.5 -34.6,21.5 -33.5,25.5 -33.1,29.5 -33.4,33.5 -34.2,37.5 -35.5,40.5 -37.4,43.5 -39.5,45.7 -42.5,47.6 -45.6,48.6 -50.6,48.6 -55.6,46.9 -60.5,43.5 -64.6,39.0 -68.0,33.5 -71.2,26.5 -76.0,13.5 -78.1,5.5 -79.0,-2.5 -78.9,-10.5 -78.0,-18.5 -76.2,-26.5 -73.6,-34.0 -70.6,-39.8 -66.6,-44.7ZM-3.9,-37.5 1.5,-38.5 6.5,-38.2 11.5,-36.9 16.5,-34.4 20.2,-31.5 21.8,-29.5 22.8,-27.5 23.2,-25.5 23.1,-23.5 21.8,-20.5 19.5,-18.0 17.5,-16.8 14.5,-16.0 10.5,-15.7 5.5,-15.9 1.5,-16.7 -2.5,-18.1 -5.5,-19.7 -8.5,-22.1 -10.5,-24.5 -11.7,-27.5 -11.9,-29.5 -10.9,-32.5 -9.3,-34.5 -6.5,-36.5ZM21.6,-14.5 25.5,-14.6 30.5,-13.4 34.5,-11.5 38.3,-8.5 40.8,-5.5 42.5,-1.5 42.5,1.5 41.7,3.5 40.8,4.5 38.5,5.9 36.5,6.4 31.5,6.4 26.5,4.9 23.5,3.3 21.3,1.5 19.5,-0.5 17.7,-3.5 16.7,-6.5 16.6,-8.5 17.0,-10.5 18.1,-12.5 19.5,-13.8Z"/>
<path fill="#afd3e7" d="M-25.9,-14.5 -20.5,-14.1 -17.5,-13.0 -15.1,-11.5 -11.1,-7.5 -10.0,-5.5 -9.0,-2.5 -8.7,0.5 -9.0,3.5 -9.9,6.5 -11.5,9.5 -13.5,11.8 -15.5,13.4 -17.5,14.5 -20.5,15.4 -23.5,15.6 -26.5,15.0 -31.5,12.4 -33.7,10.5 -36.1,7.5 -37.6,4.5 -38.5,1.5 -38.8,-1.5 -38.4,-4.5 -37.2,-7.5 -35.8,-9.5 -33.7,-11.5 -31.5,-12.9 -28.5,-14.1ZM8.2,45.6 10.5,45.1 12.2,45.6 13.3,46.6 13.6,47.6 13.3,48.6 12.5,49.6 10.5,50.3 8.5,50.1 7.5,49.6 6.8,48.6 6.6,47.6 7.1,46.6Z"/>
<path fill="#f09575" d="M-1.9,-34.5 1.5,-35.3 5.5,-35.3 9.4,-34.5 12.5,-33.3 15.5,-31.3 17.8,-28.5 18.5,-25.5 18.1,-23.5 16.5,-21.5 15.1,-20.5 10.5,-19.0 4.5,-19.1 1.5,-19.9 -1.5,-21.2 -3.6,-22.5 -5.6,-24.5 -6.7,-26.5 -7.1,-28.5 -6.7,-30.5 -5.5,-32.3ZM24.9,-9.5 27.5,-9.8 29.5,-9.4 31.8,-8.5 34.5,-6.6 36.2,-4.5 37.0,-2.5 36.9,-0.5 36.3,0.5 34.5,1.6 31.5,1.8 28.5,1.0 25.5,-0.9 23.5,-3.1 22.5,-5.5 22.7,-7.5 23.5,-8.7ZM-56.6,12.5 -52.6,12.6 -48.2,14.5 -44.6,18.2 -42.3,22.5 -41.4,27.5 -42.1,32.5 -43.0,34.5 -44.6,36.5 -47.6,38.2 -49.6,38.5 -51.6,38.3 -55.6,36.4 -59.2,32.5 -61.6,27.7 -62.5,22.5 -62.0,17.5 -60.2,14.5 -58.6,13.2Z"/>
<path fill="#87bdd9" d="M-27.1,-11.5 -22.5,-11.7 -19.5,-10.9 -17.5,-9.9 -13.8,-6.5 -11.8,-2.5 -11.4,-0.5 -11.4,2.5 -12.7,6.5 -15.5,10.1 -19.5,12.4 -21.5,12.8 -24.5,12.8 -27.5,12.1 -29.5,11.1 -31.5,9.6 -33.5,7.5 -35.7,3.5 -36.3,0.5 -36.3,-1.5 -35.1,-5.5 -33.5,-7.8 -31.7,-9.5 -29.5,-10.7Z"/>
<path fill="#de6b56" d="M2.0,-31.5 6.5,-31.7 10.5,-30.1 12.8,-27.5 12.9,-25.5 12.4,-24.5 10.5,-23.1 7.5,-22.4 3.5,-23.0 0.5,-24.5 -1.2,-26.5 -1.5,-28.5 -0.1,-30.5Z"/>
<path fill="#559ec9" d="M-28.1,-8.5 -24.5,-9.2 -20.5,-8.5 -17.2,-6.5 -14.9,-3.5 -13.9,-0.5 -14.2,3.5 -15.0,5.5 -16.4,7.5 -19.2,9.5 -22.5,10.4 -26.5,9.9 -30.5,7.5 -32.7,4.5 -33.8,0.5 -33.2,-3.5 -31.2,-6.5Z"/>
<path fill="#3480b9" d="M-24.6,-6.5 -21.5,-6.0 -19.5,-4.9 -17.5,-2.6 -16.7,-0.5 -16.8,2.5 -17.6,4.5 -19.5,6.5 -22.5,7.7 -25.5,7.4 -27.6,6.5 -29.7,4.5 -31.0,1.5 -30.9,-1.5 -29.5,-4.1 -27.5,-5.7Z"/>
<path fill="#2166ac" d="M-26.1,-1.5 -24.5,-2.3 -23.5,-2.3 -21.8,-1.5 -20.8,0.5 -21.5,2.6 -23.5,3.6 -24.5,3.5 -26.1,2.5 -26.9,0.5Z"/>
</g>
</g>
<g transform="translate(1041.5,551.3)">
<circle r="86.6" fill="#f6f6f6"/>
<g clip-path="url(#mc)">
<path fill="#fddcc9" d="M13.4,-46.6 19.5,-47.3 25.5,-47.0 30.5,-46.0 35.5,-44.1 39.4,-41.5 41.7,-38.5 42.5,-35.5 41.8,-32.5 39.4,-29.5 34.7,-26.5 30.5,-24.9 21.3,-22.5 19.5,-21.2 15.2,-16.5 12.3,-14.5 8.3,-12.5 -9.5,-6.1 -12.5,-5.5 -18.5,-5.1 -19.5,-3.9 -20.2,2.5 -21.6,7.5 -23.6,10.5 -26.6,12.5 -34.5,16.5 -37.5,17.6 -40.5,17.3 -43.5,15.3 -46.6,11.3 -48.6,5.4 -49.1,-1.5 -48.6,-7.5 -47.6,-11.2 -45.6,-15.4 -43.5,-17.9 -38.4,-22.5 -35.5,-27.5 -33.1,-30.5 -27.5,-35.0 -19.5,-38.8 -11.5,-40.9 0.5,-42.4 8.5,-45.2ZM69.1,-2.5 74.6,-3.4 80.1,-2.5 83.5,-0.5 84.2,0.5 84.2,2.5 82.4,4.5 78.6,6.0 73.6,6.4 68.7,5.5 65.5,3.5 64.7,1.5 65.7,-0.5ZM47.8,9.5 50.6,8.8 53.6,8.7 56.6,9.1 59.6,10.2 64.6,13.5 68.7,18.5 71.3,24.5 72.3,31.5 71.3,38.5 68.7,44.6 65.6,48.7 61.6,52.4 54.5,57.6 44.6,65.6 35.5,71.0 27.5,74.3 20.5,75.8 13.5,75.7 10.5,74.9 8.5,73.9 6.8,72.6 5.3,70.6 4.4,68.6 3.9,65.6 4.2,62.6 5.0,59.6 7.8,53.6 12.1,47.6 16.9,42.5 21.5,38.7 29.5,33.6 31.5,31.8 42.5,14.0 45.6,10.8ZM-44.6,34.5 -40.5,34.4 -37.5,35.1 -33.1,37.5 -30.9,39.5 -29.6,42.5 -29.6,46.6 -31.0,49.6 -33.3,51.6 -35.5,52.7 -38.5,53.6 -44.6,53.8 -47.6,53.1 -50.6,51.9 -52.6,50.5 -54.3,48.6 -55.3,46.6 -55.7,44.6 -55.4,42.5 -54.5,40.5 -52.9,38.5 -50.6,36.7 -47.6,35.3ZM-23.8,49.6 -22.5,49.0 -20.5,49.1 -18.2,50.6 -17.5,51.6 -17.1,53.6 -18.1,55.6 -20.5,56.5 -22.5,56.0 -23.5,55.3 -24.5,53.9 -25.0,52.6 -24.6,50.6Z"/>
<path fill="#d5e7f1" d="M-14.9,-69.6 -13.5,-70.5 -12.5,-70.2 -11.3,-68.6 -11.2,-65.6 -12.5,-63.7 -13.5,-63.4 -14.5,-63.9 -15.5,-65.5 -15.7,-67.6ZM-70.8,-35.5 -67.6,-36.4 -63.6,-36.2 -60.6,-35.1 -57.6,-33.0 -54.6,-29.9 -52.4,-26.5 -50.1,-21.5 -49.1,-17.5 -49.1,-14.5 -50.4,-3.5 -50.4,1.5 -49.4,12.5 -50.2,17.5 -53.1,23.5 -56.6,27.7 -60.6,30.6 -63.6,31.8 -65.6,32.1 -69.6,31.7 -72.6,30.3 -75.6,28.0 -78.6,24.4 -81.4,19.5 -83.3,14.5 -84.8,8.5 -85.6,2.5 -85.8,-3.5 -85.2,-10.5 -84.0,-16.5 -82.4,-21.5 -80.0,-26.5 -77.2,-30.5 -74.1,-33.5ZM45.9,-24.5 48.6,-24.5 51.5,-23.5 52.9,-22.5 54.3,-20.5 54.6,-18.5 54.0,-16.5 52.6,-14.8 50.6,-13.7 47.6,-13.0 44.6,-13.2 41.5,-14.4 39.5,-16.6 39.1,-19.5 40.0,-21.5 42.5,-23.5ZM11.5,-10.5 15.5,-11.1 19.5,-11.2 22.5,-10.6 26.5,-9.2 30.5,-7.0 33.7,-4.5 36.5,-1.5 39.1,2.5 40.2,5.5 40.5,8.5 40.1,11.5 38.5,16.1 36.5,19.9 33.5,24.1 31.5,26.0 28.5,27.9 23.5,29.2 18.5,29.2 13.5,28.0 7.5,24.9 3.4,21.5 0.1,17.5 -6.5,4.5 -7.5,1.5 -7.4,-0.5 -6.7,-2.5 -5.1,-4.5 -0.2,-7.5 2.7,-8.5ZM-28.0,14.5 -24.5,13.8 -21.5,14.5 -19.6,16.5 -18.5,18.5 -16.5,25.9 -15.5,26.7 -10.5,26.9 -7.5,28.0 -4.5,30.3 -2.5,33.1 -1.5,35.5 -0.8,38.5 -1.1,43.5 -2.1,46.6 -3.5,49.0 -5.5,51.3 -7.5,52.7 -9.5,53.2 -11.5,52.5 -16.2,47.6 -22.0,43.5 -22.9,41.5 -23.9,36.5 -31.5,33.6 -34.1,31.5 -35.6,29.5 -36.5,27.5 -37.0,24.5 -36.9,22.5 -36.1,20.5 -33.5,17.5Z"/>
<path fill="#f8b99c" d="M16.2,-42.5 19.5,-42.9 23.5,-42.8 27.5,-42.0 30.5,-40.8 32.4,-39.5 34.1,-37.5 34.6,-35.5 34.1,-33.5 32.5,-31.5 28.5,-29.3 24.5,-28.2 17.5,-27.2 15.8,-26.5 14.5,-25.3 11.9,-20.5 9.3,-17.5 5.5,-14.8 0.8,-12.5 -5.5,-10.5 -10.5,-9.7 -14.5,-9.6 -22.5,-10.4 -23.2,-9.5 -23.3,-8.5 -22.6,-2.5 -22.9,2.5 -24.1,6.5 -26.5,10.1 -28.1,11.5 -31.5,13.5 -35.5,14.8 -37.5,14.8 -39.5,14.3 -41.5,13.3 -43.5,11.6 -46.2,7.5 -47.7,2.5 -47.8,-3.5 -46.4,-9.5 -44.6,-12.8 -41.5,-15.7 -38.5,-17.3 -33.3,-18.5 -31.9,-19.5 -29.9,-25.5 -26.5,-29.7 -21.5,-33.2 -15.5,-35.7 -8.5,-37.1 4.5,-37.8 12.5,-41.5ZM50.8,14.5 54.6,14.6 58.6,16.0 62.0,18.5 64.9,22.5 66.7,27.5 67.1,32.5 66.1,37.5 64.2,41.5 61.6,44.9 58.6,47.3 47.6,52.6 39.5,58.9 34.5,61.9 30.5,63.5 26.5,64.3 23.5,64.3 20.5,63.3 18.8,61.6 18.1,58.6 18.7,55.6 20.1,52.6 22.3,49.6 25.2,46.6 33.4,40.5 35.2,38.5 36.4,35.5 38.6,26.5 40.5,22.5 42.5,19.5 46.6,16.0Z"/>
<path fill="#afd3e7" d="M-69.5,-26.5 -66.6,-27.2 -63.6,-26.8 -60.6,-25.2 -58.6,-23.4 -56.4,-20.5 -54.4,-16.5 -53.2,-12.5 -52.6,-8.0 -52.7,4.5 -53.3,8.5 -54.6,12.5 -56.6,16.5 -59.6,20.1 -62.6,22.1 -65.6,22.9 -68.6,22.6 -70.6,21.7 -73.4,19.5 -75.6,16.7 -77.3,13.5 -78.8,9.5 -80.3,1.5 -80.2,-7.5 -79.2,-12.5 -77.9,-16.5 -74.5,-22.5 -72.6,-24.6ZM5.9,-6.5 14.5,-7.5 20.5,-7.0 26.5,-4.7 29.5,-2.7 31.9,-0.5 35.3,4.5 36.4,7.5 36.8,10.5 36.5,13.5 35.5,16.5 33.7,19.5 31.5,21.9 29.5,23.4 26.5,24.7 23.5,25.3 19.5,25.3 15.5,24.4 12.5,23.2 9.5,21.4 6.2,18.5 2.7,13.5 -1.7,3.5 -2.5,0.5 -2.2,-1.5 -0.5,-3.9 2.2,-5.5ZM-28.6,16.5 -25.5,16.2 -23.5,17.1 -21.5,19.5 -20.5,22.5 -20.6,25.5 -21.6,28.5 -23.5,30.7 -26.5,31.9 -29.5,31.4 -31.5,30.0 -33.3,27.5 -33.9,25.5 -33.9,22.5 -33.3,20.5 -31.5,18.3Z"/>
<path fill="#f09575" d="M19.0,-35.5 20.5,-36.0 22.0,-35.5 20.5,-34.6 19.5,-34.9ZM-9.9,-33.5 -5.5,-33.9 -1.5,-33.6 2.5,-32.7 5.5,-31.3 7.2,-29.5 8.0,-27.5 8.0,-24.5 6.9,-21.5 4.5,-18.7 1.5,-16.5 -2.5,-14.7 -6.5,-13.6 -10.5,-13.1 -14.5,-13.2 -18.5,-14.0 -21.7,-15.5 -24.1,-17.5 -25.2,-19.5 -25.4,-22.5 -24.3,-25.5 -21.7,-28.5 -18.5,-30.7 -14.5,-32.4ZM-39.0,-14.5 -36.5,-15.2 -34.5,-15.3 -31.5,-14.6 -29.5,-13.4 -26.5,-9.7 -24.7,-4.5 -24.4,-1.5 -24.7,1.5 -26.3,6.5 -27.7,8.5 -29.8,10.5 -32.5,12.0 -34.5,12.6 -38.5,12.2 -40.5,11.3 -42.5,9.6 -44.7,6.5 -46.3,1.5 -46.4,-3.5 -45.0,-8.5 -42.5,-12.1ZM50.7,19.5 53.6,19.4 55.6,19.9 57.6,21.0 59.4,22.5 61.9,26.5 62.8,31.5 61.8,36.5 59.2,40.5 55.6,43.2 53.6,44.0 50.6,44.3 46.8,43.5 44.2,41.5 42.3,37.5 41.7,32.5 42.5,27.5 44.6,23.6 47.6,20.8Z"/>
<path fill="#87bdd9" d="M-68.3,-18.5 -66.6,-18.9 -64.6,-18.7 -62.6,-17.7 -60.6,-15.8 -59.1,-13.5 -57.8,-10.5 -56.7,-4.5 -57.0,2.5 -58.8,8.5 -61.6,12.6 -63.6,14.0 -65.6,14.6 -67.6,14.5 -69.6,13.6 -72.5,10.5 -74.6,5.9 -75.6,0.5 -75.6,-5.5 -74.1,-11.5 -71.6,-16.0ZM10.0,-3.5 15.5,-4.3 20.5,-3.8 25.5,-1.7 29.5,1.5 32.2,5.5 32.9,7.5 33.4,10.5 33.1,13.5 32.4,15.5 31.2,17.5 29.5,19.3 27.5,20.7 24.5,21.8 19.5,22.1 16.5,21.4 13.5,20.2 10.8,18.5 8.5,16.4 6.4,13.5 5.1,10.5 3.5,4.5 3.3,1.5 4.0,-0.5 5.0,-1.5 6.6,-2.5ZM-28.1,19.5 -26.5,19.4 -25.5,19.8 -24.5,20.7 -23.6,22.5 -23.5,24.5 -24.3,26.5 -25.5,27.8 -26.5,28.2 -28.5,28.0 -29.5,27.4 -30.5,26.0 -31.0,24.5 -30.5,21.5 -29.5,20.3Z"/>
<path fill="#de6b56" d="M-11.3,-29.5 -5.5,-30.0 -2.7,-29.5 -0.5,-28.6 0.8,-27.5 1.9,-25.5 1.4,-22.5 -1.4,-19.5 -6.5,-17.3 -11.5,-16.8 -14.5,-17.3 -16.5,-18.1 -18.4,-19.5 -19.1,-20.5 -19.5,-22.5 -18.8,-24.5 -15.9,-27.5ZM-38.7,-12.5 -36.5,-13.1 -34.5,-13.1 -32.5,-12.6 -30.5,-11.4 -28.7,-9.5 -27.5,-7.6 -26.2,-3.5 -26.3,1.5 -27.8,5.5 -30.5,8.8 -32.5,10.0 -34.5,10.6 -37.5,10.4 -41.1,8.5 -43.4,5.5 -44.8,1.5 -44.9,-3.5 -43.6,-7.5 -41.5,-10.5ZM49.8,26.5 51.6,25.8 53.6,25.9 55.6,27.1 57.0,29.5 57.3,31.5 56.6,34.4 55.6,35.8 53.6,37.2 51.6,37.4 49.6,36.7 48.4,35.5 47.6,33.8 47.3,31.5 47.6,29.5 48.6,27.8Z"/>
<path fill="#559ec9" d="M12.8,-0.5 16.5,-1.2 20.5,-0.7 24.5,1.1 27.3,3.5 29.2,6.5 30.1,10.5 29.5,13.5 27.5,16.5 24.2,18.5 19.5,19.0 14.7,17.5 10.8,14.5 8.5,10.5 7.8,5.5 8.2,3.5 9.4,1.5Z"/>
<path fill="#c63c3e" d="M-38.5,-10.5 -36.5,-11.1 -34.5,-11.1 -31.5,-9.8 -29.4,-7.5 -27.8,-3.5 -27.7,0.5 -29.1,4.5 -31.5,7.3 -34.5,8.7 -37.5,8.5 -39.5,7.5 -41.5,5.4 -43.2,1.5 -43.5,-2.5 -42.8,-5.5 -41.0,-8.5Z"/>
<path fill="#3480b9" d="M16.5,2.5 19.1,2.5 21.5,3.3 23.5,4.6 25.2,6.5 26.2,9.5 26.0,11.5 24.9,13.5 23.5,14.6 20.5,15.5 17.5,15.1 14.7,13.5 12.9,11.5 11.9,8.5 12.3,5.5 14.0,3.5Z"/>
<path fill="#a8132a" d="M-38.2,-8.5 -35.5,-9.2 -33.0,-8.5 -30.8,-6.5 -29.5,-3.5 -29.4,0.5 -30.5,3.5 -32.5,5.8 -34.5,6.6 -36.5,6.7 -38.5,5.9 -40.5,3.8 -41.6,1.5 -42.0,-1.5 -41.4,-4.5 -40.4,-6.5Z"/>
<path fill="#7d0722" d="M-37.1,-6.5 -35.5,-6.8 -33.5,-6.2 -32.0,-4.5 -31.2,-2.5 -31.2,-0.5 -31.7,1.5 -32.5,2.9 -34.5,4.2 -36.5,4.3 -37.5,3.8 -38.9,2.5 -39.9,0.5 -40.1,-1.5 -39.7,-3.5 -38.5,-5.5Z"/>
</g>
</g>
<g transform="translate(98.7,765.9)">
<circle r="86.6" fill="#f6f6f6"/>
<g clip-path="url(#mc)">
<path fill="#fddcc9" d="M-21.8,-84.6 -19.5,-85.5 -17.5,-85.3 -15.5,-83.9 -14.5,-82.7 -13.2,-78.6 -13.7,-72.6 -12.5,-72.2 -2.5,-72.3 4.5,-70.7 6.8,-69.6 9.0,-67.6 9.6,-65.6 8.8,-63.6 6.5,-61.8 3.5,-60.6 -3.5,-59.5 -8.5,-59.6 -12.5,-60.1 -16.5,-61.1 -19.5,-62.6 -21.4,-64.6 -21.7,-66.6 -21.4,-69.6 -24.1,-73.6 -24.9,-76.6 -24.8,-79.6 -24.2,-81.6ZM-39.8,-21.5 -36.5,-22.1 -33.5,-22.0 -30.5,-21.1 -27.4,-19.5 -23.0,-15.5 -21.6,-13.5 -19.4,-8.5 -17.5,-8.3 -10.5,-9.3 -4.5,-9.5 1.5,-8.7 4.8,-7.5 7.6,-5.5 9.7,-2.5 10.3,0.5 9.7,2.5 7.5,5.1 4.5,7.3 0.5,9.2 -4.5,10.9 -9.5,11.9 -14.5,12.3 -18.5,11.9 -22.5,10.7 -26.0,8.5 -30.5,4.0 -39.9,0.5 -43.4,-1.5 -45.5,-3.5 -48.6,-7.8 -55.6,-10.5 -56.9,-11.5 -58.3,-13.5 -58.4,-15.5 -58.0,-16.5 -56.6,-18.2 -54.4,-19.5 -50.6,-20.5 -43.5,-20.7ZM32.9,14.5 38.5,13.8 43.5,13.9 48.6,14.7 52.6,16.2 55.6,18.1 57.7,20.5 58.8,23.5 58.2,26.5 55.7,29.5 52.7,31.5 48.6,33.4 44.6,34.5 40.5,35.0 36.5,34.8 32.5,34.0 28.5,32.6 25.1,30.5 23.1,28.5 21.7,25.5 21.8,22.5 23.4,19.5 25.5,17.5 28.5,15.8ZM-55.8,26.5 -51.6,26.4 -47.6,26.7 -33.3,29.5 -25.5,31.8 -19.5,34.9 -14.1,39.5 -11.7,42.5 -10.1,45.6 -9.3,48.6 -9.2,51.6 -9.9,54.6 -10.9,56.6 -14.7,60.6 -20.5,63.9 -27.5,65.9 -35.5,66.6 -44.6,66.1 -52.6,64.4 -59.6,61.8 -66.6,58.0 -71.9,53.6 -75.6,48.6 -77.1,43.5 -77.0,40.5 -76.5,38.5 -74.1,34.5 -72.0,32.5 -69.1,30.5 -62.6,27.8Z"/>
<path fill="#d5e7f1" d="M-23.1,-56.6 -18.5,-57.3 -13.5,-57.3 -0.7,-56.6 4.5,-55.6 9.5,-54.0 16.5,-50.8 39.5,-37.1 42.5,-36.7 47.6,-37.9 50.6,-38.0 53.6,-37.4 56.6,-35.9 59.5,-33.5 61.8,-30.5 63.8,-26.5 64.8,-22.5 65.2,-18.5 64.8,-14.5 63.8,-10.5 62.0,-6.5 59.8,-3.5 57.6,-1.2 50.7,4.5 47.6,6.6 44.6,8.0 40.5,9.0 36.5,9.3 32.5,9.1 25.5,7.3 18.5,3.6 15.5,1.0 8.5,-7.5 4.5,-10.5 1.5,-11.5 -11.4,-13.5 -16.5,-15.7 -30.5,-25.5 -34.1,-28.5 -37.0,-32.5 -38.7,-37.5 -38.9,-40.5 -38.5,-43.5 -37.4,-46.6 -35.5,-49.3 -33.3,-51.6 -30.5,-53.6 -26.5,-55.5ZM-51.9,1.5 -48.6,0.6 -45.6,1.0 -35.2,4.5 -31.7,6.5 -25.5,12.5 -23.5,15.5 -23.1,17.5 -23.3,19.5 -24.7,22.5 -26.5,24.1 -28.5,25.0 -31.5,25.5 -35.5,25.4 -43.1,23.5 -47.2,21.5 -49.6,19.9 -52.0,17.5 -54.2,14.5 -55.1,12.5 -55.8,9.5 -55.6,6.5 -54.9,4.5 -53.6,2.7ZM57.2,35.5 60.6,35.1 63.6,35.6 66.7,37.5 68.8,40.5 69.4,43.5 68.6,47.2 66.6,49.9 63.6,51.7 59.6,52.5 55.6,51.7 52.4,49.6 50.4,46.6 49.9,44.6 49.9,42.5 51.1,39.5 53.6,37.2ZM10.3,52.6 11.5,51.8 13.5,51.9 15.3,53.6 16.1,55.6 16.3,58.6 15.8,60.6 14.5,62.5 13.5,63.2 11.5,63.2 10.5,62.7 9.5,61.4 8.8,59.6 8.7,55.6Z"/>
<path fill="#f8b99c" d="M-10.4,-69.6 -5.5,-70.0 -0.5,-69.2 2.8,-67.6 3.6,-66.6 3.8,-65.6 3.5,-64.6 2.6,-63.6 -1.5,-61.9 -6.5,-61.5 -11.5,-62.2 -14.7,-63.6 -15.6,-64.6 -16.0,-65.6 -15.8,-66.6 -14.5,-68.0ZM-36.5,-17.5 -33.5,-17.8 -30.5,-17.0 -27.5,-14.8 -26.0,-12.5 -25.2,-9.5 -25.5,-6.3 -26.7,-3.5 -29.1,-1.5 -32.5,-0.7 -36.5,-1.3 -39.5,-3.0 -41.7,-5.5 -42.9,-9.5 -43.3,-13.5 -41.2,-15.5ZM-12.8,-6.5 -5.5,-7.2 -1.5,-6.8 1.5,-5.9 3.5,-4.9 5.0,-3.5 5.9,-1.5 5.7,0.5 3.7,3.5 1.1,5.5 -2.5,7.3 -7.5,8.8 -12.5,9.4 -16.5,9.3 -20.5,8.3 -23.7,6.5 -24.7,5.5 -25.7,3.5 -25.8,1.5 -25.1,-0.5 -23.5,-2.0 -21.0,-3.5 -16.5,-5.5ZM35.2,18.5 40.5,17.8 43.5,18.1 46.6,19.0 48.6,20.0 50.2,21.5 51.1,23.5 50.9,25.5 49.6,27.5 48.2,28.5 43.5,30.2 38.5,30.5 33.5,29.3 31.5,28.1 29.9,26.5 29.4,25.5 29.2,23.5 30.2,21.5 31.2,20.5ZM-51.9,31.5 -44.6,31.5 -37.5,32.7 -30.5,35.1 -24.6,38.5 -20.5,42.5 -18.3,46.6 -17.9,50.6 -18.5,52.6 -19.6,54.6 -22.8,57.6 -26.8,59.6 -32.5,61.0 -38.5,61.4 -44.6,61.0 -50.6,59.6 -56.6,57.3 -61.2,54.6 -64.7,51.6 -67.5,47.6 -68.4,43.5 -67.9,40.5 -66.1,37.5 -62.3,34.5 -57.6,32.6Z"/>
<path fill="#afd3e7" d="M-11.7,-52.6 -2.5,-52.0 2.5,-50.9 7.5,-49.3 30.5,-38.1 43.5,-29.6 45.6,-29.1 51.3,-28.5 54.6,-26.5 56.1,-24.5 57.3,-21.5 57.7,-18.5 57.4,-15.5 55.3,-10.5 48.3,-0.5 46.4,1.5 43.5,3.5 38.5,5.3 32.5,5.4 26.5,3.9 22.5,2.1 17.5,-1.3 13.5,-5.1 6.5,-13.1 4.5,-14.6 2.0,-15.5 -6.5,-17.2 -11.5,-18.8 -17.5,-21.6 -23.1,-25.5 -27.0,-29.5 -29.5,-33.5 -30.7,-38.5 -30.0,-42.5 -27.5,-46.6 -23.5,-49.5 -18.3,-51.6ZM-44.5,5.5 -41.5,5.6 -38.2,6.5 -34.5,8.5 -32.3,10.5 -30.3,13.5 -29.8,15.5 -30.1,17.5 -31.5,19.5 -34.5,20.8 -38.5,20.7 -42.5,19.2 -46.2,16.5 -48.6,13.0 -49.1,9.5 -48.6,8.1 -47.6,6.8Z"/>
<path fill="#f09575" d="M-10.9,-4.5 -5.5,-4.8 -0.8,-3.5 1.1,-1.5 1.3,-0.5 0.7,1.5 -0.5,2.9 -2.7,4.5 -5.5,5.7 -9.5,6.7 -13.5,6.9 -16.4,6.5 -18.5,5.7 -20.2,4.5 -21.0,2.5 -20.5,0.8 -19.6,-0.5 -15.5,-3.1ZM-52.8,36.5 -47.6,35.8 -42.5,36.1 -36.5,37.5 -32.1,39.5 -28.2,42.5 -26.0,45.6 -25.3,48.6 -26.2,51.6 -27.9,53.6 -30.5,55.2 -33.5,56.3 -37.5,56.9 -41.5,56.9 -45.6,56.4 -49.6,55.3 -53.6,53.6 -56.7,51.6 -59.5,48.6 -60.6,46.4 -60.9,43.5 -60.3,41.5 -58.6,39.4 -55.7,37.5Z"/>
<path fill="#87bdd9" d="M-14.4,-47.6 -10.5,-48.2 -6.5,-48.3 -1.5,-47.7 2.5,-46.7 7.5,-44.7 15.8,-40.5 28.5,-36.2 35.5,-32.0 39.7,-28.5 44.5,-23.5 46.7,-20.5 48.1,-17.5 48.8,-13.5 48.5,-9.5 47.2,-5.5 45.4,-2.5 42.1,0.5 37.5,2.4 32.5,2.6 26.5,1.2 21.5,-1.2 16.5,-5.1 12.5,-9.5 7.5,-16.6 5.5,-18.5 2.5,-19.7 -3.5,-20.7 -8.5,-22.0 -13.5,-24.2 -17.1,-26.5 -20.4,-29.5 -22.6,-32.5 -23.8,-35.5 -24.0,-38.5 -23.1,-41.5 -21.5,-43.7 -18.5,-46.0Z"/>
<path fill="#de6b56" d="M-10.0,-1.5 -7.5,-1.6 -5.5,-0.8 -4.8,0.5 -5.3,1.5 -6.5,2.5 -9.5,3.6 -12.5,3.6 -14.6,2.5 -14.8,1.5 -14.3,0.5 -13.1,-0.5ZM-49.1,42.5 -46.6,41.8 -44.6,41.6 -39.5,42.6 -37.5,43.7 -35.7,45.6 -35.1,47.6 -35.4,48.6 -37.5,50.4 -40.5,51.1 -44.6,50.8 -47.6,49.8 -50.4,47.6 -51.2,45.6 -50.6,43.8Z"/>
<path fill="#559ec9" d="M-9.7,-43.5 -4.5,-43.8 0.5,-42.9 4.2,-41.5 12.5,-37.3 21.5,-36.0 26.5,-34.7 30.5,-32.9 34.3,-30.5 37.8,-27.5 40.5,-24.5 43.2,-20.5 44.6,-17.5 45.4,-14.5 45.5,-10.5 44.8,-7.5 43.3,-4.5 41.5,-2.5 39.5,-1.1 36.5,-0.0 33.5,0.3 30.5,0.1 26.5,-1.0 20.5,-4.3 17.5,-6.8 14.2,-10.5 8.5,-20.0 6.5,-22.5 3.5,-24.0 -3.5,-25.0 -8.3,-26.5 -11.9,-28.5 -15.2,-31.5 -16.5,-33.5 -17.2,-35.5 -16.9,-38.5 -15.7,-40.5 -14.5,-41.6 -12.5,-42.7Z"/>
<path fill="#3480b9" d="M-2.7,-34.5 -2.2,-34.5 -2.5,-34.2ZM17.1,-33.5 22.5,-33.6 28.5,-31.9 34.0,-28.5 38.9,-23.5 41.8,-18.5 42.8,-15.5 43.2,-12.5 42.9,-9.5 42.2,-7.5 39.5,-4.1 37.5,-2.8 34.5,-1.9 31.5,-1.8 27.5,-2.6 24.5,-3.9 21.5,-5.7 18.5,-8.2 15.6,-11.5 13.1,-15.5 11.4,-19.5 9.9,-24.5 9.5,-28.5 10.2,-30.5 11.3,-31.5 13.5,-32.6Z"/>
<path fill="#2166ac" d="M17.0,-30.5 21.5,-31.5 24.5,-31.2 27.5,-30.3 32.5,-27.5 36.7,-23.5 39.8,-18.5 41.0,-13.5 40.8,-10.5 40.1,-8.5 37.5,-5.5 35.5,-4.4 32.5,-3.8 27.5,-4.5 22.5,-7.0 17.7,-11.5 15.6,-14.5 14.2,-17.5 13.3,-20.5 12.9,-23.5 13.1,-25.5 13.7,-27.5 15.4,-29.5Z"/>
<path fill="#134b87" d="M19.0,-28.5 22.5,-29.3 27.5,-28.4 31.5,-26.2 35.4,-22.5 37.8,-18.5 38.9,-14.5 38.4,-10.5 36.2,-7.5 34.5,-6.5 32.5,-6.0 30.5,-5.9 27.5,-6.5 23.4,-8.5 19.1,-12.5 16.2,-17.5 15.3,-22.5 15.6,-24.5 16.5,-26.5Z"/>
<path fill="#053061" d="M21.1,-26.5 24.5,-27.0 27.5,-26.3 30.7,-24.5 33.8,-21.5 35.7,-18.5 36.6,-14.5 36.1,-11.5 34.5,-9.5 31.5,-8.2 27.5,-8.6 23.7,-10.5 20.6,-13.5 18.3,-17.5 17.7,-21.5 18.6,-24.5 19.5,-25.6Z"/>
</g>
</g>
<g transform="translate(334.4,765.9)">
<circle r="86.6" fill="#f6f6f6"/>
<g clip-path="url(#mc)">
<path fill="#fddcc9" d="M12.0,-38.5 17.5,-38.5 23.5,-36.7 27.5,-33.9 30.5,-30.0 32.5,-25.2 33.6,-19.5 33.4,-14.5 31.6,-5.5 32.6,-3.5 36.5,0.3 39.5,4.5 41.5,9.5 41.5,13.5 39.5,19.8 37.8,22.5 36.5,23.7 34.5,24.8 31.7,25.5 13.5,28.1 12.7,28.5 12.2,29.5 11.2,35.5 10.5,37.6 8.5,40.8 5.5,42.8 3.5,43.2 1.5,43.1 -1.5,42.0 -3.5,40.5 -5.6,37.5 -6.4,34.5 -6.3,31.5 -5.2,28.5 -3.5,26.3 0.2,23.5 0.9,22.5 0.9,21.5 -2.3,14.5 -3.2,7.5 -3.8,6.5 -7.5,3.4 -12.5,-1.7 -20.3,-6.5 -21.6,-8.5 -22.2,-10.5 -22.6,-13.5 -22.5,-16.5 -21.3,-20.5 -19.6,-23.5 -16.6,-26.5 -13.8,-28.5 -6.4,-32.5 0.7,-35.5 6.5,-37.5ZM-59.8,-21.5 -53.6,-21.8 -48.6,-20.8 -46.6,-19.6 -42.5,-14.5 -40.5,-12.7 -37.5,-10.9 -32.5,-8.9 -30.6,-7.5 -27.8,-3.5 -25.5,1.8 -22.5,13.5 -22.2,18.5 -24.0,26.5 -24.9,35.5 -26.7,39.5 -28.5,41.5 -30.5,42.5 -37.5,43.9 -40.4,45.6 -42.3,47.6 -43.2,49.6 -43.8,52.6 -44.3,53.6 -45.6,54.4 -48.6,55.3 -56.6,56.1 -65.6,59.7 -70.6,60.0 -73.6,59.1 -76.6,57.2 -78.9,54.6 -80.3,51.6 -80.7,46.6 -79.4,40.5 -79.3,37.5 -82.5,27.5 -83.8,21.5 -84.5,14.5 -84.1,7.5 -82.8,1.5 -81.0,-3.5 -78.4,-8.5 -75.6,-12.3 -72.4,-15.5 -68.6,-18.3 -64.6,-20.2ZM-24.7,54.6 -21.5,53.6 -19.5,53.7 -17.5,54.2 -15.7,55.6 -15.1,56.6 -15.1,58.6 -16.5,60.2 -18.5,61.1 -21.5,61.4 -23.5,61.0 -25.8,59.6 -26.7,57.6 -25.9,55.6ZM2.2,62.6 6.5,62.4 11.5,63.2 16.5,65.2 19.8,67.6 22.0,70.6 22.8,73.6 22.7,75.6 22.1,77.6 20.0,80.6 17.5,82.6 13.5,84.5 9.5,85.6 5.5,86.0 1.5,85.7 -3.1,84.6 -6.5,83.0 -9.7,80.6 -11.2,78.6 -12.4,75.6 -12.3,72.6 -11.1,69.6 -8.5,66.7 -5.5,64.8 -1.5,63.3Z"/>
<path fill="#d5e7f1" d="M-25.5,-81.6 -21.5,-82.0 -16.5,-81.7 -11.5,-80.7 -6.5,-78.7 -2.5,-76.4 0.5,-74.2 4.2,-70.6 8.5,-65.2 11.5,-63.7 28.5,-62.8 43.5,-59.7 52.6,-60.4 56.6,-60.1 60.6,-58.8 63.6,-57.3 69.6,-52.3 72.6,-48.7 75.4,-44.6 79.9,-35.5 83.3,-24.5 84.9,-13.5 84.9,-2.5 83.2,7.5 81.5,12.5 79.6,16.5 77.6,19.5 75.0,22.5 71.6,25.1 67.6,27.2 60.6,29.8 55.6,30.8 51.6,30.6 48.6,29.6 45.6,27.5 44.1,25.5 43.4,23.5 43.2,21.5 44.4,12.5 44.1,8.5 42.0,3.5 37.1,-4.5 36.3,-7.5 36.2,-20.5 34.2,-35.5 34.5,-39.5 35.9,-45.6 35.5,-47.6 34.5,-48.1 32.5,-48.4 13.5,-47.1 11.5,-46.3 6.7,-41.5 1.9,-38.5 -9.2,-33.5 -14.5,-31.7 -18.5,-30.8 -22.5,-30.7 -27.5,-32.2 -32.5,-35.1 -37.5,-39.5 -42.0,-45.6 -44.5,-51.6 -45.6,-58.6 -44.9,-64.6 -42.3,-70.6 -38.2,-75.6 -32.5,-79.4 -28.5,-80.9ZM-38.5,-21.5 -35.5,-21.6 -33.7,-20.5 -33.0,-19.5 -32.5,-18.5 -32.4,-16.5 -33.6,-14.5 -34.5,-14.0 -36.5,-13.8 -38.4,-14.5 -39.6,-15.5 -40.6,-17.5 -40.5,-19.3 -39.9,-20.5ZM-18.5,-0.5 -16.5,-1.0 -14.5,-0.5 -12.5,1.2 -11.1,3.5 -10.5,5.5 -10.7,7.5 -11.6,9.5 -13.5,11.1 -14.5,11.3 -16.5,11.0 -18.4,9.5 -19.5,7.6 -20.3,4.5 -20.2,2.5 -19.5,0.5ZM-19.7,23.5 -18.5,23.0 -17.0,23.5 -16.1,24.5 -15.3,26.5 -15.2,28.5 -15.7,30.5 -17.1,32.5 -18.5,33.1 -19.5,32.8 -20.5,31.9 -21.5,28.6 -21.0,25.5ZM24.9,28.5 31.5,28.5 34.5,29.4 36.4,30.5 38.3,32.5 39.5,34.5 41.0,39.5 41.2,42.5 40.7,45.6 39.7,48.6 38.0,51.6 36.2,53.6 33.5,55.5 28.5,57.3 23.5,57.1 20.5,56.0 18.1,54.6 15.8,52.6 14.3,50.6 13.2,48.6 12.5,45.6 12.5,42.5 13.2,39.5 14.5,35.4 15.9,32.5 16.7,31.5 18.5,30.3 20.4,29.5ZM-37.5,47.6 -35.5,46.8 -34.3,47.6 -34.5,48.6 -36.5,49.3 -37.8,48.6Z"/>
<path fill="#f8b99c" d="M6.6,-34.5 13.5,-34.7 17.5,-33.9 20.5,-32.8 25.5,-29.5 27.5,-27.2 29.1,-24.5 30.2,-20.5 30.2,-15.5 28.6,-10.5 25.6,-5.5 25.3,-3.5 26.3,-2.5 32.5,1.0 35.3,3.5 37.8,7.5 38.6,11.5 37.8,15.5 36.1,18.5 33.5,20.9 30.5,22.6 24.5,24.2 18.5,24.5 13.5,23.7 8.5,21.3 5.5,18.5 3.2,14.5 2.6,10.5 3.6,5.5 3.3,3.5 1.9,2.5 -4.5,0.5 -7.5,-1.0 -12.9,-5.5 -15.8,-9.5 -16.9,-13.5 -16.7,-17.5 -15.2,-21.5 -13.2,-24.5 -10.0,-27.5 -5.3,-30.5 0.5,-33.0ZM-59.8,-14.5 -54.6,-15.1 -48.6,-13.9 -44.6,-11.9 -37.5,-6.7 -34.0,-2.5 -31.1,2.5 -29.2,7.5 -27.8,13.5 -27.4,19.5 -27.9,25.5 -29.5,31.5 -31.9,36.5 -33.4,38.5 -36.0,40.5 -41.6,43.5 -47.6,47.5 -50.6,48.4 -54.6,48.5 -63.6,47.4 -65.6,46.9 -67.6,45.6 -69.0,43.5 -75.5,30.5 -77.3,25.5 -78.4,20.5 -78.9,14.5 -78.5,8.5 -77.0,2.5 -74.8,-2.5 -72.2,-6.5 -68.6,-10.1 -64.6,-12.8Z"/>
<path fill="#afd3e7" d="M-22.9,-74.6 -18.5,-74.8 -14.5,-74.2 -10.5,-73.0 -6.5,-70.8 -1.6,-66.6 7.1,-55.6 7.1,-54.6 0.5,-43.5 -2.5,-40.7 -6.3,-38.5 -10.5,-37.0 -14.5,-36.4 -18.5,-36.5 -22.5,-37.5 -26.5,-39.4 -30.5,-42.3 -33.5,-45.6 -36.0,-49.6 -37.4,-53.6 -37.9,-57.6 -37.5,-61.6 -36.0,-65.6 -33.5,-69.1 -30.5,-71.7 -26.5,-73.7ZM17.9,-55.6 20.9,-55.6 19.5,-55.3ZM52.4,-47.6 56.6,-47.8 61.6,-46.1 65.6,-43.2 69.5,-38.5 72.6,-33.2 75.2,-26.5 76.9,-19.5 77.7,-12.5 77.5,-6.5 76.6,-0.5 75.0,4.5 72.9,8.5 69.6,12.3 63.6,16.6 59.3,20.5 56.6,22.1 54.6,22.5 52.6,22.2 51.4,21.5 50.4,20.5 49.6,18.5 49.4,16.5 49.9,11.5 49.6,8.5 48.4,5.5 44.2,-2.5 42.5,-6.8 41.2,-13.5 40.6,-22.5 41.0,-31.5 42.0,-35.5 43.5,-39.4 45.5,-42.5 47.6,-44.8 49.6,-46.3ZM22.3,32.5 26.5,31.6 30.5,32.4 33.5,34.5 35.5,37.5 36.3,41.5 35.5,45.8 34.5,47.7 33.0,49.6 29.5,51.7 25.5,52.2 22.5,51.4 19.5,49.2 17.3,45.6 16.7,41.5 17.5,37.8 19.5,34.5Z"/>
<path fill="#f09575" d="M6.1,-31.5 9.5,-31.8 13.5,-31.4 16.5,-30.6 19.5,-29.2 22.0,-27.5 24.0,-25.5 25.3,-23.5 26.4,-20.5 26.6,-17.5 26.2,-14.5 24.9,-11.5 23.6,-9.5 20.5,-6.3 17.5,-3.9 14.5,-2.1 11.5,-1.3 7.5,-1.0 2.5,-1.3 -1.5,-2.2 -4.5,-3.4 -7.5,-5.2 -9.9,-7.5 -11.7,-10.5 -12.6,-13.5 -12.6,-16.5 -11.9,-19.5 -10.2,-22.5 -8.5,-24.6 -5.5,-27.1 -1.5,-29.4 2.5,-30.8ZM-60.0,-9.5 -55.6,-10.3 -51.6,-10.0 -46.6,-8.3 -42.5,-5.8 -38.5,-1.9 -35.5,2.5 -33.3,7.5 -31.9,12.5 -31.3,18.5 -31.6,23.5 -32.8,28.5 -35.0,33.5 -37.5,37.0 -40.5,39.5 -45.6,42.3 -49.6,43.6 -53.6,43.7 -57.6,42.9 -61.6,41.1 -64.6,39.0 -67.6,35.9 -70.6,31.5 -72.9,26.5 -74.4,21.5 -75.0,16.5 -74.9,11.5 -74.0,6.5 -72.1,1.5 -69.7,-2.5 -66.9,-5.5 -63.6,-8.0ZM16.2,0.5 20.5,0.4 25.5,1.3 29.5,3.0 32.5,5.5 34.3,8.5 34.8,11.5 34.1,14.5 31.5,18.0 29.3,19.5 26.5,20.7 20.5,21.6 17.5,21.4 14.5,20.5 11.5,19.0 9.5,17.3 8.1,15.5 7.0,12.5 7.1,9.5 7.7,7.5 9.5,4.7 11.5,2.7 14.5,0.9Z"/>
<path fill="#87bdd9" d="M-23.6,-67.6 -18.5,-68.4 -13.5,-67.5 -9.5,-65.4 -5.5,-61.4 -3.1,-56.6 -3.0,-52.6 -3.9,-49.6 -5.0,-47.6 -8.2,-44.6 -10.5,-43.4 -13.5,-42.6 -18.5,-42.8 -21.5,-43.8 -24.5,-45.4 -27.0,-47.6 -28.6,-49.6 -29.8,-51.6 -30.8,-54.6 -31.0,-57.6 -30.5,-60.3 -29.6,-62.6 -28.1,-64.6 -25.7,-66.6ZM24.8,37.5 26.5,37.2 28.5,37.7 29.6,38.5 30.6,40.5 30.4,43.5 29.5,45.0 27.5,46.2 26.5,46.4 24.5,45.9 23.5,45.1 22.5,43.5 22.2,41.5 22.5,39.9 23.5,38.4Z"/>
<path fill="#de6b56" d="M5.2,-28.5 8.5,-28.8 11.5,-28.6 14.5,-27.9 17.5,-26.5 20.0,-24.5 21.5,-22.6 22.8,-18.5 22.6,-15.5 22.0,-13.5 19.1,-9.5 14.5,-6.2 11.5,-5.1 8.5,-4.4 2.5,-4.5 -0.5,-5.2 -3.3,-6.5 -5.9,-8.5 -7.5,-10.5 -8.8,-14.5 -8.6,-17.5 -8.0,-19.5 -5.1,-23.5 -0.5,-26.7ZM-59.4,-5.5 -55.6,-6.3 -51.6,-6.0 -47.6,-4.6 -44.6,-2.8 -41.5,-0.1 -38.8,3.5 -36.7,7.5 -35.4,11.5 -34.7,15.5 -34.6,20.5 -35.4,25.5 -36.9,29.5 -38.6,32.5 -41.5,35.8 -44.6,37.9 -48.6,39.5 -51.6,39.8 -55.6,39.4 -59.6,37.8 -62.6,35.8 -65.6,32.8 -67.9,29.5 -69.8,25.5 -71.1,21.5 -71.8,16.5 -71.7,12.5 -71.1,8.5 -69.7,4.5 -68.1,1.5 -65.6,-1.6 -62.6,-4.0ZM17.2,4.5 20.5,4.0 23.5,4.3 26.5,5.4 28.5,6.9 30.2,9.5 30.5,11.5 30.0,13.5 28.6,15.5 25.5,17.5 20.5,18.4 16.5,17.6 13.2,15.5 11.5,12.5 11.6,9.5 13.6,6.5Z"/>
<path fill="#c63c3e" d="M5.7,-25.5 10.5,-25.6 14.5,-24.2 17.5,-21.5 18.8,-18.5 18.8,-16.5 18.3,-14.5 16.3,-11.5 12.5,-8.9 7.5,-7.4 3.5,-7.6 -0.5,-9.0 -3.5,-11.5 -4.7,-14.5 -4.8,-16.5 -4.3,-18.5 -2.3,-21.5 1.5,-24.2ZM-56.2,-2.5 -53.6,-2.6 -50.6,-2.1 -47.6,-0.8 -44.6,1.4 -41.8,4.5 -40.0,7.5 -38.8,10.5 -37.8,14.5 -37.5,18.5 -37.7,21.5 -38.7,25.5 -40.0,28.5 -42.1,31.5 -44.3,33.5 -46.6,34.9 -49.6,35.9 -52.6,36.2 -55.6,35.7 -58.6,34.4 -61.6,32.3 -64.2,29.5 -66.1,26.5 -67.4,23.5 -68.5,19.5 -68.9,15.5 -68.6,11.5 -67.5,7.5 -66.1,4.5 -63.8,1.5 -61.6,-0.4 -58.6,-1.9Z"/>
<path fill="#a8132a" d="M7.1,-21.5 9.5,-21.3 11.5,-20.4 13.1,-18.5 13.4,-16.5 12.5,-14.4 10.2,-12.5 7.5,-11.7 4.5,-11.8 2.8,-12.5 1.5,-13.6 0.6,-15.5 0.9,-17.5 2.2,-19.5 3.5,-20.5ZM-57.4,1.5 -54.6,1.0 -52.6,1.1 -49.6,2.0 -47.6,3.2 -45.6,4.8 -43.4,7.5 -41.9,10.5 -40.9,13.5 -40.4,19.5 -40.9,22.5 -42.0,25.5 -43.5,28.1 -45.6,30.1 -49.6,32.2 -51.6,32.6 -54.6,32.3 -57.6,31.2 -59.6,29.8 -63.2,25.5 -65.3,20.5 -65.9,14.5 -65.5,11.5 -64.6,8.5 -63.5,6.5 -61.6,4.1 -59.6,2.5Z"/>
<path fill="#7d0722" d="M-57.1,5.5 -53.6,4.8 -51.6,5.2 -49.6,6.1 -46.6,8.7 -45.4,10.5 -44.1,13.5 -43.5,18.5 -44.6,23.0 -47.0,26.5 -48.6,27.7 -50.6,28.5 -52.6,28.7 -54.6,28.4 -57.6,27.0 -60.6,23.7 -62.4,19.5 -62.8,15.5 -62.2,11.5 -59.8,7.5Z"/>
<path fill="#67001f" d="M-56.2,10.5 -53.6,9.7 -51.6,10.2 -49.6,11.6 -47.9,14.5 -47.5,16.5 -47.8,19.5 -48.7,21.5 -49.6,22.6 -51.1,23.5 -53.6,23.8 -55.6,22.9 -57.1,21.5 -58.3,19.5 -58.8,17.5 -58.7,14.5 -57.6,11.8Z"/>
</g>
</g>
<g transform="translate(570.1,765.9)">
<circle r="86.6" fill="#f6f6f6"/>
<g clip-path="url(#mc)">
<path fill="#fddcc9" d="M-48.1,-37.5 -42.5,-37.4 -37.5,-36.3 -33.5,-34.7 -28.5,-31.5 -26.5,-30.8 -17.5,-33.3 -12.5,-33.7 -6.5,-32.7 -2.1,-30.5 2.4,-25.5 9.5,-21.8 12.5,-19.7 31.5,-4.1 35.0,-0.5 36.5,2.7 37.2,9.5 36.5,16.1 35.7,18.5 33.5,22.3 26.5,29.6 22.9,31.5 18.6,32.5 14.5,32.6 11.5,31.9 8.5,30.3 -2.5,21.3 -7.2,14.5 -10.5,10.8 -20.2,3.5 -22.0,1.5 -23.1,-1.5 -23.2,-6.5 -22.4,-10.5 -19.9,-16.5 -19.9,-17.5 -20.8,-18.5 -23.5,-19.1 -24.5,-18.8 -25.5,-17.7 -28.2,-12.5 -30.4,-9.5 -34.5,-5.4 -40.9,-1.5 -53.6,4.0 -55.5,5.5 -56.6,8.5 -59.2,29.5 -60.6,34.4 -62.6,38.9 -65.6,43.1 -67.6,44.9 -69.6,46.0 -71.6,46.5 -73.6,46.4 -75.6,45.8 -77.6,44.5 -81.1,40.5 -84.1,34.5 -86.3,27.5 -87.6,19.5 -88.0,11.5 -87.6,2.5 -86.1,-8.5 -84.2,-15.5 -82.4,-19.5 -79.6,-23.5 -76.6,-26.5 -72.6,-29.4 -65.6,-33.0 -59.6,-35.4 -53.6,-36.9ZM-9.5,35.5 -5.5,34.7 -1.9,35.5 0.9,37.5 2.4,40.5 2.2,44.6 0.5,48.9 -2.5,52.4 -5.5,53.8 -8.5,53.7 -11.5,52.4 -14.1,49.6 -15.3,46.6 -15.4,43.5 -14.5,40.4 -12.5,37.5Z"/>
<path fill="#d5e7f1" d="M-15.5,-71.6 -13.5,-72.5 -11.5,-72.2 -9.5,-70.4 -8.3,-67.6 -8.2,-64.6 -9.1,-61.6 -10.5,-59.7 -12.5,-58.7 -14.5,-59.0 -15.5,-59.7 -17.0,-61.6 -17.7,-63.6 -18.0,-65.6 -17.5,-68.5 -16.5,-70.5ZM21.1,-63.6 26.5,-63.6 32.5,-62.7 38.5,-61.0 43.5,-58.8 49.1,-55.6 57.6,-49.2 66.6,-43.9 70.5,-40.5 73.0,-37.5 74.9,-34.5 76.7,-30.5 77.9,-26.5 78.6,-22.5 78.8,-18.5 78.5,-13.5 75.8,-1.5 78.2,9.5 78.7,16.5 78.0,23.5 76.4,29.5 74.3,34.5 70.0,42.5 69.4,44.6 69.8,46.6 75.6,50.6 77.2,52.6 77.8,54.6 77.9,56.6 77.0,59.6 73.6,64.6 69.5,68.6 63.6,72.9 56.6,77.0 49.6,80.2 41.5,83.0 33.5,85.1 26.5,86.3 19.5,86.7 14.5,86.4 10.5,85.5 6.5,83.7 4.4,81.6 3.2,78.6 2.6,71.6 -0.0,62.6 0.3,57.6 6.5,42.9 8.5,39.3 9.9,37.5 12.9,35.5 20.5,33.4 25.5,31.2 29.5,27.5 34.1,22.5 37.2,16.5 38.2,10.5 38.5,3.8 41.2,-5.5 39.7,-14.5 39.2,-24.5 38.6,-26.5 37.9,-27.5 35.5,-29.0 24.5,-32.8 17.8,-36.5 14.0,-39.5 11.1,-42.5 8.9,-45.6 7.5,-48.6 6.9,-51.6 6.9,-53.6 7.8,-56.6 9.2,-58.6 11.5,-60.6 14.5,-62.1ZM-42.2,-59.6 -40.5,-60.2 -38.5,-60.3 -36.5,-59.9 -34.5,-58.7 -33.7,-57.6 -33.1,-55.6 -33.5,-53.6 -34.2,-52.6 -36.5,-51.0 -38.5,-50.6 -41.5,-51.1 -43.5,-52.4 -44.8,-54.6 -44.7,-56.6 -43.5,-58.6ZM-17.7,-55.6 -13.5,-56.0 -9.5,-55.2 -5.9,-53.6 -5.0,-52.6 -4.8,-51.6 -5.3,-50.6 -7.5,-49.1 -10.5,-48.2 -13.5,-47.9 -17.5,-48.0 -20.5,-48.5 -23.0,-49.6 -24.3,-50.6 -24.7,-51.6 -24.5,-52.6 -23.6,-53.6 -21.5,-54.7ZM-40.3,3.5 -37.5,3.0 -34.5,3.0 -28.5,4.8 -22.5,4.6 -19.4,5.5 -15.5,7.7 -10.9,11.5 -8.4,14.5 -7.5,16.4 -7.1,18.5 -7.5,20.9 -9.5,23.6 -12.5,25.4 -18.7,27.5 -19.5,28.5 -22.7,36.5 -26.5,41.4 -30.5,44.2 -35.5,45.7 -38.5,45.7 -41.5,45.1 -44.6,43.8 -47.6,41.5 -50.3,38.5 -52.0,35.5 -53.1,32.5 -53.9,28.5 -54.1,24.5 -53.7,19.5 -52.6,15.1 -51.0,11.5 -48.9,8.5 -46.6,6.5 -43.5,4.7Z"/>
<path fill="#f8b99c" d="M-54.4,-31.5 -49.6,-32.2 -45.6,-32.0 -41.5,-31.2 -37.5,-29.3 -35.4,-27.5 -33.4,-24.5 -32.7,-21.5 -33.1,-17.5 -34.2,-14.5 -36.2,-11.5 -38.5,-9.0 -41.7,-6.5 -47.6,-3.4 -51.6,-2.0 -58.6,-0.3 -60.5,0.5 -61.8,1.5 -63.0,4.5 -63.1,13.5 -63.6,18.1 -65.6,25.5 -67.6,29.2 -69.6,31.2 -71.6,32.0 -73.6,31.9 -76.6,29.8 -78.6,26.6 -80.4,21.5 -81.4,15.5 -81.6,10.5 -81.2,4.5 -77.7,-12.5 -74.8,-18.5 -72.4,-21.5 -69.1,-24.5 -65.6,-27.0 -61.6,-29.2ZM-14.2,-25.5 -13.5,-26.2 -12.5,-26.3 -11.4,-25.5 -12.5,-24.9ZM-9.5,-21.5 -8.5,-22.1 -6.5,-22.4 -1.5,-22.2 3.5,-21.1 7.5,-19.4 11.5,-16.5 22.6,-6.5 31.5,0.2 33.7,2.5 35.5,5.8 36.3,9.5 36.3,13.5 35.5,17.6 34.5,19.9 32.5,22.9 29.5,26.3 26.9,28.5 23.5,30.4 20.5,31.0 16.5,30.8 13.1,29.5 10.2,27.5 3.5,21.5 -6.5,13.6 -18.0,3.5 -19.6,0.5 -20.1,-2.5 -20.0,-6.5 -19.3,-9.5 -18.0,-12.5 -16.0,-15.5 -11.5,-20.1Z"/>
<path fill="#afd3e7" d="M53.6,-36.5 56.6,-37.4 59.6,-37.4 62.6,-36.6 64.6,-35.6 66.6,-34.0 68.8,-31.5 71.6,-26.0 72.6,-21.5 72.7,-16.5 72.1,-12.5 69.7,-5.5 69.5,-3.5 70.3,-0.5 73.4,6.5 74.8,12.5 75.0,18.5 73.9,25.5 70.7,33.5 63.3,44.6 61.3,48.6 60.3,51.6 59.8,54.6 60.6,59.6 60.4,61.6 59.6,63.6 57.2,66.6 53.6,69.5 50.2,71.6 45.6,73.8 40.5,75.6 35.5,76.9 30.5,77.5 26.5,77.6 22.5,77.0 18.5,75.5 14.5,72.9 10.5,69.5 8.0,66.6 6.3,63.6 5.2,59.6 5.1,56.6 5.8,52.6 8.8,45.6 12.5,40.4 16.9,36.5 23.5,33.2 26.5,31.2 32.1,25.5 36.4,19.5 37.2,17.5 39.5,7.3 40.5,4.7 42.5,1.6 46.8,-3.5 47.6,-5.5 47.6,-7.5 46.0,-13.5 45.6,-17.5 45.8,-22.5 46.9,-27.5 49.6,-33.1 51.6,-35.2ZM-40.3,7.5 -35.5,7.1 -28.5,9.1 -22.5,6.9 -20.5,6.8 -18.5,7.2 -15.5,8.6 -11.9,11.5 -9.8,14.5 -9.3,16.5 -10.0,19.5 -12.5,22.1 -15.5,23.4 -21.8,24.5 -22.7,25.5 -24.9,32.5 -27.4,36.5 -31.5,39.9 -35.5,41.2 -38.5,41.3 -40.5,40.8 -43.5,39.4 -45.6,37.9 -48.9,33.5 -50.1,30.5 -50.9,27.5 -51.1,24.5 -50.8,20.5 -50.0,17.5 -48.7,14.5 -45.6,10.5 -43.5,8.9Z"/>
<path fill="#f09575" d="M-51.0,-27.5 -47.6,-27.4 -44.6,-26.7 -42.3,-25.5 -40.2,-23.5 -39.2,-21.5 -39.0,-18.5 -39.8,-15.5 -41.8,-12.5 -44.6,-10.0 -47.6,-8.1 -50.6,-6.8 -54.6,-5.8 -58.6,-5.4 -63.6,-5.6 -66.6,-6.4 -68.4,-7.5 -69.2,-8.5 -69.9,-10.5 -69.9,-13.5 -68.9,-16.5 -66.6,-20.0 -63.6,-22.8 -59.6,-25.3 -55.6,-26.8ZM-5.1,-19.5 -1.5,-19.8 1.5,-19.4 4.5,-18.5 7.5,-16.9 10.5,-14.5 18.5,-6.3 22.5,-3.1 29.5,1.6 33.2,5.5 34.5,8.3 35.2,11.5 35.2,14.5 34.6,17.5 33.5,20.1 31.5,23.1 29.2,25.5 26.5,27.6 23.5,29.0 20.5,29.4 17.5,29.0 14.5,27.7 11.4,25.5 2.5,17.2 -6.5,11.8 -10.5,8.9 -13.4,6.5 -16.0,3.5 -17.4,0.5 -18.0,-3.5 -17.8,-6.5 -16.5,-10.5 -14.5,-13.8 -11.5,-16.7 -8.5,-18.5Z"/>
<path fill="#87bdd9" d="M57.4,-28.5 60.6,-28.6 62.7,-27.5 64.6,-25.5 66.4,-21.5 66.7,-17.5 65.8,-13.5 64.6,-11.1 60.9,-6.5 60.9,-5.5 68.6,3.4 70.3,6.5 71.7,10.5 72.4,14.5 72.4,19.5 71.8,23.5 70.3,28.5 67.8,33.5 59.7,44.6 52.6,56.7 49.6,60.5 45.6,64.2 38.5,68.2 31.5,70.2 24.5,70.5 18.5,69.1 13.5,66.2 11.5,64.1 9.9,61.6 9.0,58.6 8.8,55.6 9.2,52.6 10.2,49.6 12.3,45.6 15.3,41.5 18.5,38.5 27.5,31.9 35.4,22.5 38.2,17.5 41.1,8.5 43.5,4.5 47.6,0.5 56.1,-5.5 56.5,-6.5 56.2,-7.5 53.6,-11.3 52.2,-14.5 51.6,-19.5 52.2,-22.5 53.6,-25.5 55.6,-27.6ZM-22.7,9.5 -20.5,8.9 -18.5,8.9 -16.5,9.6 -13.7,11.5 -12.2,13.5 -11.6,15.5 -11.9,17.5 -12.5,18.6 -14.5,20.3 -16.5,21.1 -18.5,21.4 -23.5,21.0 -24.5,21.2 -25.4,22.5 -26.4,28.5 -27.6,31.5 -29.7,34.5 -32.5,36.7 -35.5,37.8 -38.5,37.8 -41.5,36.9 -43.5,35.5 -46.7,31.5 -47.8,28.5 -48.3,25.5 -48.3,22.5 -47.7,19.5 -46.6,16.6 -45.2,14.5 -41.5,11.5 -37.5,10.4 -34.5,10.8 -29.5,13.1 -27.5,13.3Z"/>
<path fill="#de6b56" d="M-56.4,-20.5 -52.6,-21.5 -50.6,-21.4 -48.6,-20.6 -47.2,-18.5 -47.1,-17.5 -47.8,-15.5 -49.8,-13.5 -53.6,-11.8 -56.6,-11.6 -59.2,-12.5 -60.6,-14.5 -60.4,-16.5 -59.1,-18.5ZM-5.7,-17.5 -2.5,-18.0 0.5,-17.8 3.5,-17.0 6.5,-15.4 10.0,-12.5 17.5,-4.0 20.8,-1.5 28.5,3.3 31.5,6.4 32.8,8.5 33.7,11.5 33.7,16.5 32.6,19.5 31.5,21.4 27.5,25.5 25.5,26.7 22.5,27.6 19.5,27.5 16.4,26.5 12.5,23.9 6.6,17.5 3.5,15.0 0.5,13.2 -7.5,9.6 -10.5,7.4 -13.5,4.5 -15.3,1.5 -16.1,-1.5 -16.2,-5.5 -15.5,-8.5 -14.0,-11.5 -11.5,-14.4 -8.5,-16.4Z"/>
<path fill="#559ec9" d="M52.9,0.5 57.6,-0.3 61.6,0.7 65.6,3.8 68.6,8.4 70.1,13.5 70.4,19.5 69.2,25.5 67.1,30.5 64.6,34.4 58.1,42.5 50.3,54.6 47.6,57.8 43.5,61.3 37.5,64.7 30.5,66.8 24.5,67.0 21.5,66.5 18.5,65.3 16.5,64.1 14.5,62.3 12.9,59.6 12.2,57.6 12.3,52.6 14.1,47.6 16.0,44.6 18.6,41.5 27.5,34.2 36.7,22.5 39.1,18.5 42.1,10.5 44.7,6.5 48.6,2.8ZM-19.8,11.5 -17.5,11.7 -15.2,13.5 -14.6,15.5 -15.5,17.4 -16.5,18.1 -17.7,18.5 -19.8,18.5 -21.5,17.8 -22.8,16.5 -23.2,15.5 -22.7,13.5 -21.5,12.2ZM-40.6,14.5 -37.5,13.6 -35.5,13.8 -33.5,14.5 -30.5,17.1 -28.8,20.5 -28.6,25.5 -29.7,29.5 -31.0,31.5 -32.5,33.1 -35.5,34.6 -38.5,34.6 -41.5,33.3 -44.0,30.5 -45.3,27.5 -45.8,23.5 -44.9,19.5 -43.1,16.5Z"/>
<path fill="#c63c3e" d="M-6.7,-15.5 -3.5,-16.4 -0.5,-16.4 2.5,-15.7 5.5,-14.2 8.7,-11.5 13.5,-5.0 16.5,-1.8 19.7,0.5 26.5,4.1 29.4,6.5 31.8,10.5 32.4,14.5 31.5,18.7 30.5,20.6 28.5,23.0 26.5,24.5 23.5,25.7 20.5,25.9 17.5,25.0 13.5,22.3 8.5,16.3 5.5,13.5 1.9,11.5 -6.5,8.5 -9.5,6.6 -11.5,4.7 -13.1,2.5 -14.3,-0.5 -14.7,-3.5 -14.4,-6.5 -13.3,-9.5 -11.5,-12.2 -9.5,-14.0Z"/>
<path fill="#3480b9" d="M55.3,2.5 59.6,2.8 62.6,4.4 65.6,7.5 67.5,11.5 68.5,16.5 68.2,21.5 66.9,26.5 64.9,30.5 56.9,40.5 48.0,53.6 45.3,56.6 41.7,59.6 35.5,62.8 29.5,64.2 24.5,64.2 21.5,63.4 19.5,62.4 16.5,59.6 15.5,57.6 15.1,55.6 15.3,51.6 17.5,46.6 20.7,42.5 27.5,36.9 29.5,34.7 33.5,28.5 39.2,21.5 43.5,11.6 46.4,7.5 50.6,4.1ZM-38.4,17.5 -36.5,17.4 -34.0,18.5 -32.4,20.5 -31.6,23.5 -31.9,26.5 -32.8,28.5 -34.5,30.2 -36.5,31.0 -38.5,30.8 -40.5,29.6 -42.0,27.5 -42.6,25.5 -42.6,22.5 -41.9,20.5 -40.5,18.8Z"/>
<path fill="#a8132a" d="M-5.2,-14.5 -0.5,-14.9 2.5,-14.2 4.5,-13.2 8.5,-9.5 13.3,-1.5 15.1,0.5 17.5,2.1 24.5,5.0 27.9,7.5 29.9,10.5 30.8,14.5 29.9,18.5 27.5,21.8 25.5,23.2 22.5,24.1 19.5,23.8 17.5,23.0 14.3,20.5 9.2,13.5 6.5,11.0 3.5,9.8 -2.5,8.5 -5.5,7.5 -8.5,5.7 -10.5,3.8 -12.1,1.5 -13.1,-1.5 -13.3,-4.5 -12.9,-6.5 -11.6,-9.5 -10.1,-11.5 -7.5,-13.5Z"/>
<path fill="#2166ac" d="M52.7,5.5 56.6,4.8 59.6,5.4 62.6,7.4 64.9,10.5 66.3,14.5 66.7,19.5 65.7,24.5 64.0,28.5 61.6,32.1 55.6,39.0 46.6,51.7 41.5,56.8 36.5,59.9 31.5,61.5 26.5,61.7 22.3,60.6 19.7,58.6 18.2,55.6 18.2,51.6 19.7,47.6 22.8,43.5 28.5,38.7 30.5,36.5 34.6,29.5 41.1,21.5 44.5,13.5 46.6,10.3 49.6,7.3Z"/>
<path fill="#7d0722" d="M-2.9,-13.5 -0.5,-13.5 2.5,-12.6 4.5,-11.5 6.5,-9.6 9.1,-5.5 11.5,1.8 12.5,3.7 14.5,4.7 22.5,6.3 24.9,7.5 27.1,9.5 28.7,12.5 28.9,15.5 27.9,18.5 26.2,20.5 24.5,21.6 22.5,22.1 20.5,22.0 18.5,21.4 16.5,20.0 14.3,17.5 10.5,9.1 9.5,8.0 7.5,7.5 -0.5,7.3 -3.5,6.7 -6.5,5.4 -9.5,2.8 -11.0,0.5 -11.8,-2.5 -11.7,-5.5 -11.1,-7.5 -9.9,-9.5 -8.0,-11.5 -5.5,-12.9Z"/>
<path fill="#134b87" d="M53.8,7.5 56.6,7.2 59.6,8.1 61.6,9.5 63.6,12.5 64.6,15.5 64.8,19.5 64.2,23.5 62.4,27.5 60.4,30.5 55.0,36.5 44.4,50.6 40.5,54.6 36.5,57.3 32.5,58.7 28.5,59.1 24.5,58.1 22.5,56.6 21.2,53.6 21.4,50.6 22.7,47.6 25.1,44.6 31.7,38.5 36.5,29.7 42.5,22.5 45.6,15.5 47.6,12.1 50.6,9.1Z"/>
<path fill="#67001f" d="M-5.0,-11.5 -1.5,-12.1 1.5,-11.5 4.5,-9.6 6.3,-7.5 7.7,-4.5 8.3,-0.5 7.5,2.5 5.5,4.5 1.5,5.7 -2.5,5.4 -6.5,3.7 -8.7,1.5 -10.1,-1.5 -10.2,-5.5 -8.5,-8.9 -6.8,-10.5ZM18.1,8.5 20.5,8.3 22.5,8.9 24.5,10.1 25.7,11.5 26.6,13.5 26.6,15.5 25.8,17.5 24.5,18.8 22.5,19.7 20.5,19.6 18.3,18.5 16.5,16.5 15.5,14.3 15.3,11.5 16.3,9.5Z"/>
<path fill="#053061" d="M52.6,10.5 55.6,9.8 57.6,10.0 59.6,11.1 61.6,13.5 62.7,16.5 62.9,19.5 62.1,23.5 60.7,26.5 58.6,29.5 53.8,34.5 48.6,41.5 38.5,52.6 35.5,54.6 32.5,55.6 29.5,55.8 27.5,55.2 26.5,54.6 25.2,52.6 25.2,50.6 25.9,48.6 27.5,46.3 33.5,40.5 37.7,31.5 44.3,23.5 48.3,14.5 50.6,11.9Z"/>
</g>
</g>
<g transform="translate(805.8,765.9)">
<circle r="86.6" fill="#f6f6f6"/>
<g clip-path="url(#mc)">
<path fill="#fddcc9" d="M-6.5,-73.6 -1.5,-74.4 4.5,-73.7 7.0,-72.6 8.2,-71.6 8.7,-70.6 8.5,-69.6 7.7,-68.6 5.7,-67.6 2.5,-66.9 -1.5,-66.7 -6.6,-67.6 -8.6,-68.6 -9.5,-69.6 -9.8,-70.6 -9.5,-71.6 -8.6,-72.6ZM-66.5,-57.6 -63.6,-57.8 -60.6,-56.5 -58.1,-53.6 -56.9,-49.6 -57.0,-45.6 -58.1,-42.5 -60.6,-39.6 -63.6,-38.3 -66.6,-38.5 -69.6,-40.4 -71.6,-43.5 -72.4,-46.6 -72.2,-50.6 -71.1,-53.6 -69.6,-55.7ZM-32.3,-40.5 -29.5,-40.8 -26.5,-40.2 -23.0,-38.5 -19.5,-35.9 -16.5,-32.6 -14.5,-29.5 -13.0,-26.5 -11.4,-21.5 -10.0,-20.5 -4.5,-19.2 -1.5,-18.0 1.5,-16.1 4.3,-13.5 6.9,-9.5 9.5,-2.5 10.5,-2.7 13.2,-4.5 15.5,-5.4 17.5,-5.8 20.5,-5.7 23.5,-4.9 25.7,-3.5 27.5,-1.5 28.2,0.5 28.0,2.5 27.1,4.5 25.4,6.5 22.5,8.5 19.5,9.5 15.5,9.3 12.5,8.0 9.5,5.2 8.5,4.7 4.3,10.5 1.5,13.2 -1.5,15.1 -7.2,17.5 -7.8,18.5 -6.8,24.5 -6.7,29.5 -7.2,33.5 -8.2,37.5 -10.5,42.0 -14.5,46.1 -15.4,47.6 -16.4,55.6 -17.9,59.6 -20.5,62.6 -23.5,63.7 -25.5,63.5 -27.5,62.4 -31.5,57.7 -32.5,57.0 -34.5,56.9 -41.5,57.9 -45.6,57.7 -51.6,56.2 -56.6,53.7 -60.5,50.6 -63.7,46.6 -66.0,41.5 -66.9,36.5 -66.4,30.5 -64.0,24.5 -60.0,19.5 -54.6,15.7 -50.6,14.0 -47.6,13.2 -40.5,12.8 -34.5,13.9 -26.5,17.2 -25.5,17.1 -24.5,16.4 -22.6,13.5 -22.4,11.5 -25.0,6.5 -26.3,2.5 -26.9,-5.5 -27.4,-7.5 -32.5,-9.9 -35.5,-12.5 -39.8,-18.5 -41.1,-22.5 -41.2,-28.5 -39.5,-34.0 -36.5,-38.2 -34.5,-39.6ZM64.2,11.5 66.6,11.3 69.2,12.5 70.8,14.5 71.8,17.5 71.7,20.5 70.4,23.5 68.2,25.5 65.6,26.4 62.6,25.9 60.6,24.5 59.1,22.5 58.3,19.5 58.9,16.5 60.0,14.5 62.1,12.5ZM18.3,55.6 21.5,55.3 24.5,56.6 27.0,59.6 28.2,62.6 28.3,66.6 27.0,70.6 24.5,73.4 21.5,74.7 18.5,74.4 15.7,72.6 13.7,69.6 12.8,66.6 12.9,62.6 14.0,59.6 15.5,57.4Z"/>
<path fill="#d5e7f1" d="M-23.4,-74.6 -20.5,-74.6 -17.5,-73.8 -16.0,-72.6 -14.2,-69.6 -12.5,-67.7 -9.5,-66.2 -1.5,-65.0 12.5,-65.0 16.2,-63.6 20.5,-60.0 24.3,-55.6 26.8,-51.6 28.8,-46.6 29.7,-42.5 29.8,-37.5 28.9,-33.5 26.9,-29.5 24.5,-26.7 21.5,-24.3 17.5,-22.3 13.5,-21.1 8.5,-20.5 3.5,-20.9 -1.5,-22.2 -4.6,-23.5 -7.5,-25.8 -16.5,-36.6 -26.4,-46.6 -28.7,-50.6 -29.5,-57.6 -31.9,-63.6 -32.2,-65.6 -32.1,-67.6 -31.4,-69.6 -29.5,-71.9 -26.5,-73.8ZM44.3,-39.5 47.6,-39.8 51.6,-39.0 55.6,-36.9 59.6,-33.5 62.7,-29.5 65.4,-24.5 67.2,-19.5 68.3,-13.5 68.5,-8.5 67.8,-3.5 66.1,1.5 64.3,4.5 51.6,16.6 47.6,19.1 39.3,22.5 38.2,23.5 39.0,24.5 47.6,28.8 53.6,32.9 59.4,38.5 62.6,43.5 64.0,48.6 63.8,51.6 63.1,53.6 61.6,55.4 59.6,56.8 54.6,58.2 47.6,57.8 39.5,55.4 32.5,51.8 23.0,44.6 17.5,42.7 14.5,41.2 11.5,38.8 8.9,35.5 6.9,31.5 6.0,27.5 6.0,24.5 6.8,21.5 8.5,18.9 10.5,17.5 12.5,16.9 15.5,17.0 18.5,17.8 22.5,19.6 23.5,19.9 24.2,19.5 24.0,15.5 24.5,13.5 25.8,11.5 30.5,6.5 36.8,1.5 37.0,-0.5 34.0,-7.5 32.4,-13.5 31.8,-19.5 32.2,-25.5 33.6,-30.5 36.1,-34.5 39.5,-37.6 41.5,-38.7ZM-50.6,-16.5 -47.6,-16.7 -45.6,-16.3 -43.5,-15.3 -41.8,-13.5 -40.7,-10.5 -41.2,-8.5 -42.5,-6.9 -45.6,-5.4 -48.6,-5.1 -51.6,-5.8 -54.6,-7.9 -55.8,-10.5 -55.5,-12.5 -53.6,-15.1Z"/>
<path fill="#f8b99c" d="M-29.5,-33.5 -26.5,-34.0 -23.5,-33.1 -21.4,-31.5 -19.2,-28.5 -18.3,-25.5 -18.5,-22.2 -19.8,-19.5 -22.5,-17.2 -25.5,-16.5 -28.5,-17.1 -30.8,-18.5 -33.0,-21.5 -33.9,-24.5 -33.6,-28.5 -32.0,-31.5ZM-13.8,-17.5 -10.5,-18.0 -7.5,-17.9 -4.5,-17.2 -1.5,-15.8 1.5,-13.5 3.3,-11.5 5.0,-8.5 6.0,-5.5 6.4,-2.5 6.3,0.5 5.6,3.5 4.3,6.5 2.5,9.0 0.5,11.1 -2.5,13.0 -5.5,14.1 -11.5,14.7 -14.5,14.1 -16.5,13.1 -21.1,8.5 -22.9,5.5 -24.0,2.5 -24.5,-0.5 -24.3,-4.5 -23.3,-8.5 -21.9,-11.5 -20.5,-13.6 -18.5,-15.6 -16.5,-16.7ZM-45.1,17.5 -39.5,17.5 -34.5,18.9 -30.5,21.0 -24.5,26.0 -23.5,26.1 -22.5,25.3 -19.5,20.2 -17.5,18.7 -15.5,18.7 -14.5,19.2 -12.7,21.5 -11.4,26.5 -11.4,29.5 -12.0,32.5 -12.8,34.5 -14.5,36.6 -16.5,37.6 -20.5,37.5 -21.5,38.1 -22.4,39.5 -23.5,44.6 -22.5,51.6 -23.5,53.6 -24.7,53.6 -27.5,50.6 -28.5,50.2 -30.5,50.3 -36.5,52.4 -39.5,53.0 -43.5,53.2 -47.6,52.6 -51.6,51.1 -54.6,49.3 -57.6,46.6 -59.6,43.8 -61.3,39.5 -61.9,35.5 -61.5,31.5 -60.0,27.5 -57.1,23.5 -53.6,20.6 -49.6,18.6Z"/>
<path fill="#afd3e7" d="M-13.8,-61.6 -6.5,-62.5 2.5,-61.7 7.5,-60.1 12.6,-56.6 15.5,-53.6 17.5,-50.6 19.0,-47.6 19.8,-44.6 20.0,-41.5 19.6,-38.5 18.3,-35.5 16.8,-33.5 14.5,-31.6 11.5,-30.1 8.5,-29.3 4.5,-29.0 0.5,-29.5 -3.5,-30.8 -6.5,-32.5 -9.5,-34.9 -13.1,-38.5 -16.2,-42.5 -18.4,-46.6 -19.3,-49.6 -19.2,-53.6 -17.8,-57.6 -15.7,-60.6ZM43.7,-33.5 47.6,-34.3 51.6,-33.5 55.6,-31.2 58.6,-28.2 61.6,-23.5 63.5,-18.5 64.5,-12.5 64.3,-7.5 62.9,-2.5 60.6,1.3 57.6,4.1 52.3,7.5 47.6,13.3 45.6,14.7 42.5,16.1 39.5,16.9 36.5,17.0 34.5,16.5 32.5,15.0 32.1,13.5 32.5,11.5 34.1,9.5 36.5,7.6 43.1,4.5 44.0,3.5 44.0,2.5 39.5,-4.6 37.3,-9.5 36.0,-15.5 36.1,-21.5 37.0,-25.5 38.5,-28.9 40.7,-31.5ZM12.0,21.5 14.5,20.8 17.5,21.3 20.5,23.3 22.6,25.5 24.9,29.5 26.0,33.5 25.5,35.5 23.8,37.5 20.5,38.9 17.5,38.6 14.5,37.2 11.9,34.5 10.2,31.5 9.3,27.5 9.4,25.5 10.1,23.5ZM33.2,33.5 35.5,33.1 39.1,33.5 42.5,34.8 45.6,36.5 47.9,38.5 50.3,41.5 51.2,44.6 50.6,46.8 48.6,48.2 44.6,48.5 40.5,47.4 35.5,44.6 32.5,41.5 31.3,39.5 30.6,37.5 30.8,35.5 31.5,34.5Z"/>
<path fill="#f09575" d="M-14.1,-15.5 -11.5,-16.2 -8.5,-16.4 -3.5,-15.2 -0.8,-13.5 1.3,-11.5 2.8,-9.5 4.1,-6.5 4.8,-3.5 4.8,-0.5 3.5,4.5 0.5,8.9 -1.5,10.6 -4.5,12.2 -9.5,13.0 -14.5,11.9 -16.5,10.7 -19.1,8.5 -20.6,6.5 -22.1,3.5 -23.0,-1.5 -22.8,-4.5 -21.9,-7.5 -20.3,-10.5 -18.7,-12.5 -16.5,-14.3ZM-47.0,21.5 -41.5,20.9 -38.5,21.3 -35.5,22.3 -30.9,25.5 -29.2,27.5 -27.6,30.5 -26.9,32.5 -26.7,35.5 -27.1,38.5 -28.2,41.5 -29.4,43.5 -31.3,45.6 -35.5,48.2 -38.5,49.2 -41.5,49.7 -45.6,49.4 -48.5,48.6 -51.6,47.0 -53.6,45.4 -55.6,43.1 -57.0,40.5 -57.9,37.5 -58.0,34.5 -57.5,31.5 -56.6,29.2 -54.8,26.5 -52.6,24.3 -49.6,22.5Z"/>
<path fill="#87bdd9" d="M-3.8,-53.6 -0.5,-53.7 2.5,-52.8 5.5,-50.9 7.5,-48.6 8.6,-46.6 8.9,-43.5 8.2,-41.5 6.5,-39.8 3.5,-38.7 -0.5,-39.1 -3.7,-40.5 -6.8,-43.5 -8.3,-46.6 -8.3,-49.6 -7.5,-51.2 -6.5,-52.3ZM45.5,-29.5 47.6,-30.0 49.6,-29.9 53.6,-28.2 55.6,-26.5 57.6,-24.1 60.3,-18.5 61.4,-12.5 61.2,-9.5 60.6,-6.5 58.5,-2.5 56.6,-0.7 54.6,0.3 52.6,0.7 50.6,0.6 46.6,-1.4 44.6,-3.2 42.5,-5.7 39.9,-11.5 39.0,-17.5 39.7,-22.5 41.6,-26.5 43.5,-28.5ZM13.7,25.5 14.5,25.0 16.5,24.8 18.5,25.8 20.1,27.5 21.1,29.5 21.4,31.5 20.8,33.5 19.7,34.5 18.5,34.9 16.5,34.5 14.5,33.0 13.5,31.6 12.6,28.5 13.0,26.5Z"/>
<path fill="#de6b56" d="M-13.0,-14.5 -8.5,-15.2 -6.5,-14.9 -3.5,-13.8 -1.5,-12.5 0.6,-10.5 1.9,-8.5 3.2,-5.5 3.6,-0.5 2.2,4.5 -0.9,8.5 -3.5,10.3 -5.5,11.2 -8.5,11.7 -10.5,11.6 -14.5,10.4 -16.5,9.2 -18.5,7.2 -19.8,5.5 -21.1,2.5 -21.8,-2.5 -20.6,-7.5 -19.5,-9.5 -17.5,-11.8 -15.5,-13.4ZM-45.1,24.5 -40.5,24.4 -36.5,25.6 -32.9,28.5 -30.8,32.5 -30.5,36.5 -31.8,40.5 -34.5,43.6 -38.5,45.7 -43.5,46.3 -47.6,45.3 -51.4,42.5 -52.9,40.5 -53.9,38.5 -54.3,36.5 -54.2,33.5 -52.6,29.5 -49.6,26.4Z"/>
<path fill="#559ec9" d="M47.3,-25.5 50.6,-25.4 53.6,-23.7 56.1,-20.5 57.6,-17.2 58.2,-12.5 57.6,-8.5 55.8,-5.5 53.6,-4.0 50.6,-3.8 47.6,-5.2 44.6,-8.4 42.8,-12.5 42.2,-16.5 42.7,-20.5 44.6,-23.8Z"/>
<path fill="#c63c3e" d="M-12.6,-13.5 -10.5,-14.0 -7.5,-14.0 -3.5,-12.6 0.0,-9.5 1.3,-7.5 2.3,-4.5 2.4,0.5 1.0,4.5 -0.5,6.6 -2.5,8.5 -6.5,10.3 -9.5,10.6 -11.5,10.3 -15.5,8.5 -18.5,5.5 -20.3,1.5 -20.6,-3.5 -19.4,-7.5 -16.5,-11.3ZM-44.9,28.5 -42.5,28.1 -39.5,28.6 -36.6,30.5 -35.2,32.5 -34.7,34.5 -35.0,37.5 -36.5,40.0 -38.6,41.5 -41.5,42.4 -44.6,42.1 -47.6,40.6 -49.6,38.0 -50.2,35.5 -49.6,32.5 -47.6,30.0Z"/>
<path fill="#3480b9" d="M48.5,-19.5 49.6,-19.7 51.6,-19.0 52.6,-17.9 53.6,-15.8 53.8,-13.5 53.6,-11.9 52.7,-10.5 51.6,-9.8 50.6,-9.7 48.6,-10.7 46.9,-13.5 46.6,-16.5 47.3,-18.5Z"/>
<path fill="#a8132a" d="M-12.5,-12.5 -10.5,-13.0 -7.5,-13.0 -3.6,-11.5 -0.4,-8.5 1.4,-4.5 1.7,-1.5 1.5,0.5 -0.1,4.5 -2.9,7.5 -6.5,9.3 -10.5,9.5 -14.5,8.0 -17.5,5.2 -19.4,1.5 -19.8,-2.5 -18.5,-7.1 -15.9,-10.5Z"/>
<path fill="#7d0722" d="M-12.5,-11.5 -8.5,-12.2 -4.5,-11.0 -1.5,-8.4 0.5,-4.5 0.7,-0.5 -0.5,3.5 -3.1,6.5 -6.5,8.3 -10.5,8.6 -13.5,7.5 -16.5,5.1 -18.4,1.5 -18.9,-2.5 -17.8,-6.5 -15.5,-9.6Z"/>
<path fill="#67001f" d="M-12.6,-10.5 -9.5,-11.3 -5.5,-10.5 -2.5,-8.3 -0.5,-4.8 -0.0,-1.5 -1.0,2.5 -3.2,5.5 -6.5,7.4 -10.5,7.7 -13.5,6.5 -15.9,4.5 -17.5,1.5 -18.1,-2.5 -17.4,-5.5 -15.4,-8.5Z"/>
</g>
</g>
<g transform="translate(1041.5,765.9)">
<circle r="86.6" fill="#f6f6f6"/>
<g clip-path="url(#mc)">
<path fill="#fddcc9" d="M-11.0,-71.6 -9.5,-71.7 -7.5,-71.3 -6.4,-70.6 -5.8,-69.6 -5.9,-68.6 -6.6,-67.6 -9.5,-66.6 -12.8,-67.6 -13.6,-68.6 -13.6,-69.6 -12.5,-71.0ZM-57.7,-39.5 -54.6,-40.2 -50.6,-40.0 -46.6,-38.9 -43.5,-37.4 -39.5,-34.6 -36.5,-31.8 -31.1,-24.5 -27.8,-18.5 -25.5,-12.6 -25.1,-9.5 -25.3,0.5 -24.4,5.5 -21.7,12.5 -20.7,16.5 -17.5,23.4 -16.1,28.5 -16.0,31.5 -17.2,34.5 -19.5,36.1 -22.5,36.6 -23.5,37.2 -28.3,45.6 -31.5,49.6 -36.5,53.4 -41.5,55.1 -46.6,55.1 -51.6,53.6 -56.6,50.5 -61.7,45.6 -66.1,39.5 -70.2,31.5 -73.1,23.5 -75.3,14.5 -76.4,5.5 -76.5,-4.5 -75.4,-13.5 -73.6,-20.5 -71.2,-26.5 -67.4,-32.5 -62.6,-37.2ZM24.4,-36.5 28.5,-36.6 32.2,-35.5 34.9,-33.5 36.8,-30.5 37.6,-27.5 37.7,-24.5 35.7,-16.5 37.1,-10.5 37.4,-5.5 36.2,-0.5 31.8,6.5 31.1,8.5 33.5,20.3 34.5,30.7 34.6,37.5 34.2,39.5 32.5,42.8 28.7,46.6 24.8,48.6 20.5,49.1 16.5,48.0 13.5,45.9 10.7,42.5 8.0,37.5 6.2,32.5 5.2,27.5 4.8,22.5 5.0,16.5 4.6,14.5 3.4,13.5 -1.5,11.3 -4.5,9.5 -8.2,6.5 -9.5,4.5 -13.3,-10.5 -14.0,-15.5 -16.4,-21.5 -16.7,-24.5 -16.0,-27.5 -14.9,-29.5 -12.9,-31.5 -10.5,-32.7 -7.5,-33.3 -3.5,-32.7 3.5,-28.6 12.5,-29.0 14.5,-29.7 19.4,-34.5 21.5,-35.7ZM-14.7,40.5 -12.5,40.5 -9.5,41.8 -7.9,43.5 -6.7,46.6 -6.6,49.6 -7.7,52.6 -9.5,54.7 -12.5,56.0 -15.5,55.7 -17.5,54.5 -19.1,52.6 -20.2,49.6 -20.2,46.6 -19.0,43.5 -17.1,41.5Z"/>
<path fill="#d5e7f1" d="M-21.0,-68.6 -18.5,-68.5 -13.5,-65.8 -10.5,-65.2 -6.5,-65.7 -1.5,-68.8 0.5,-69.2 12.5,-67.8 19.5,-66.2 26.5,-63.9 31.6,-61.6 39.5,-57.0 41.5,-56.6 43.5,-57.3 48.6,-61.8 51.6,-63.9 55.6,-65.1 59.6,-64.8 63.6,-63.3 68.6,-59.7 73.4,-54.6 77.5,-48.6 80.7,-42.5 83.3,-36.5 85.7,-29.5 87.4,-22.5 88.6,-15.0 88.6,1.3 88.1,4.5 86.3,10.5 83.6,15.5 80.6,18.6 75.0,21.5 73.6,23.3 69.3,40.5 68.0,44.6 65.9,48.6 61.7,53.6 55.6,58.1 49.6,61.3 42.5,63.9 36.5,65.4 30.5,66.0 25.5,65.8 21.3,64.6 18.5,62.6 17.1,59.6 17.3,57.6 18.6,55.6 21.4,53.6 26.5,51.0 30.5,48.2 35.4,43.5 36.4,41.5 36.4,37.5 34.5,19.6 34.5,13.5 35.5,8.4 40.6,-0.5 41.2,-2.5 40.0,-15.5 40.2,-18.5 41.8,-26.5 42.0,-29.5 41.2,-37.5 40.1,-41.5 39.3,-42.5 37.5,-43.0 31.5,-41.3 15.5,-38.0 5.5,-37.6 -14.5,-40.1 -21.5,-42.0 -27.5,-44.2 -33.7,-47.6 -38.3,-51.6 -39.7,-53.6 -40.4,-55.6 -40.2,-58.6 -38.4,-61.6 -34.3,-64.6 -28.5,-66.9ZM-20.4,-10.5 -19.5,-11.0 -17.5,-11.0 -15.5,-9.7 -14.5,-8.4 -12.5,-3.5 -11.6,1.5 -11.6,4.5 -12.5,9.8 -12.1,10.5 -9.5,11.8 -7.3,13.5 -5.9,15.5 -5.0,17.5 -4.7,21.5 -5.7,25.5 -8.0,28.5 -10.5,29.7 -12.5,29.2 -14.5,26.4 -17.1,18.5 -17.3,16.5 -17.0,12.5 -21.5,8.4 -23.5,3.8 -24.0,-1.5 -23.5,-5.6 -22.5,-8.1Z"/>
<path fill="#f8b99c" d="M23.0,-33.5 25.5,-34.2 27.5,-34.2 29.5,-33.7 31.5,-32.6 34.1,-29.5 35.0,-25.5 34.4,-22.5 31.8,-17.5 32.1,-15.5 33.9,-9.5 34.1,-6.5 33.6,-3.5 31.3,1.5 27.3,6.5 26.8,8.5 30.5,15.5 32.1,20.5 33.1,28.5 32.8,35.5 31.6,39.5 29.5,42.5 26.5,44.9 22.5,45.9 18.5,45.0 15.5,42.9 12.5,39.2 10.1,34.5 8.6,29.5 7.9,24.5 7.9,20.5 8.8,12.5 7.5,11.2 1.5,9.1 -1.5,7.6 -6.5,3.6 -8.0,1.5 -9.3,-1.5 -10.3,-5.5 -10.6,-8.5 -10.3,-11.5 -8.2,-18.5 -8.5,-23.5 -7.5,-25.1 -6.5,-25.4 -2.5,-24.1 -0.5,-23.9 7.5,-25.4 15.5,-25.9 16.8,-26.5 20.1,-31.5ZM-56.7,-31.5 -52.6,-32.3 -48.6,-31.8 -43.5,-29.5 -39.5,-26.2 -35.5,-21.5 -31.9,-15.5 -29.0,-8.5 -27.5,-2.9 -25.7,8.5 -25.3,13.5 -25.7,23.5 -26.9,28.5 -30.1,36.5 -33.4,41.5 -37.5,45.1 -39.5,46.2 -42.5,47.1 -46.6,47.2 -51.6,45.6 -55.6,43.1 -59.6,39.2 -62.9,34.5 -66.2,28.5 -68.8,21.5 -70.8,13.5 -71.8,5.5 -71.9,-1.5 -71.2,-8.5 -69.5,-15.5 -67.1,-21.5 -64.5,-25.5 -60.6,-29.5Z"/>
<path fill="#afd3e7" d="M-9.6,-62.6 -2.5,-63.0 2.5,-62.7 9.5,-61.6 14.5,-60.2 19.5,-58.0 22.9,-55.6 24.7,-52.6 24.6,-50.6 23.5,-48.9 21.8,-47.6 17.1,-45.6 10.5,-44.4 2.5,-44.2 -5.5,-45.0 -12.5,-46.7 -19.1,-49.6 -22.7,-52.6 -23.7,-54.6 -23.8,-55.6 -23.1,-57.6 -21.5,-59.2 -19.1,-60.6 -16.3,-61.6ZM57.4,-48.6 59.6,-49.0 61.6,-48.8 65.6,-47.0 69.6,-43.3 73.6,-37.5 76.8,-30.5 79.3,-21.5 80.1,-13.5 79.7,-6.5 78.6,-2.2 76.6,1.6 74.6,3.5 72.6,4.6 69.6,5.4 68.4,6.5 68.3,9.5 69.4,20.5 69.1,27.5 67.2,35.5 64.2,41.5 60.6,46.0 55.6,49.4 50.6,51.2 43.5,52.6 40.5,52.8 39.9,52.6 40.0,51.6 41.5,49.1 42.0,46.6 41.2,43.5 37.9,35.5 36.8,30.5 36.0,22.5 36.4,15.5 37.1,12.5 38.7,8.5 41.2,4.5 44.5,0.5 45.3,-1.5 43.6,-8.5 43.1,-12.5 43.3,-16.5 44.3,-20.5 49.6,-31.5 51.5,-40.5 52.6,-43.5 54.6,-46.6ZM-19.4,-7.5 -17.5,-7.7 -15.5,-6.4 -13.9,-3.5 -13.2,-0.5 -13.2,2.5 -14.1,5.5 -15.5,7.2 -17.5,8.0 -19.5,7.4 -20.5,6.6 -21.8,4.5 -22.6,1.5 -22.4,-3.5 -21.5,-5.5Z"/>
<path fill="#f09575" d="M26.4,-31.5 28.5,-31.1 30.5,-29.8 31.5,-28.5 32.1,-26.5 32.0,-24.5 31.5,-23.1 28.0,-18.5 28.4,-16.5 31.0,-10.5 31.2,-5.5 30.4,-2.5 28.9,0.5 23.1,6.5 22.4,7.5 22.2,8.5 27.3,14.5 29.4,18.5 31.0,24.5 31.4,30.5 30.5,35.5 28.5,39.5 25.5,42.0 22.5,42.7 19.5,42.1 16.1,39.5 13.2,35.5 11.2,30.5 10.3,25.5 10.3,20.5 11.1,16.5 13.0,11.5 13.0,10.5 11.7,9.5 2.5,7.0 -0.5,5.4 -3.0,3.5 -5.6,0.5 -7.2,-2.5 -8.0,-5.5 -8.1,-8.5 -7.5,-11.5 -6.2,-14.5 -4.0,-17.5 -1.5,-19.7 2.5,-21.7 7.5,-23.1 11.5,-23.4 18.5,-23.3 19.9,-24.5 20.8,-27.5 22.0,-29.5 23.5,-30.8ZM-54.0,-26.5 -49.6,-26.5 -45.6,-25.1 -41.5,-22.3 -38.5,-19.1 -35.4,-14.5 -32.5,-8.5 -30.5,-2.5 -29.1,4.5 -28.5,11.5 -28.7,17.5 -29.5,23.5 -31.3,29.5 -33.5,34.1 -36.5,37.9 -39.5,40.2 -43.5,41.6 -47.6,41.6 -51.6,40.1 -55.6,37.3 -58.6,34.1 -61.7,29.5 -64.6,23.5 -66.9,16.5 -68.1,10.5 -68.7,3.5 -68.5,-2.5 -67.6,-8.5 -65.8,-14.5 -63.6,-19.1 -60.6,-22.9 -57.6,-25.2Z"/>
<path fill="#87bdd9" d="M53.5,-25.5 56.6,-25.8 59.6,-24.5 62.2,-21.5 63.9,-17.5 64.4,-12.5 63.6,-8.5 62.1,-5.5 57.6,-0.5 57.4,0.5 62.6,6.8 65.1,11.5 66.7,17.5 67.2,23.5 66.9,27.5 66.1,31.5 64.6,35.5 62.6,39.1 60.6,41.6 57.6,44.0 54.6,45.2 51.6,45.5 48.6,44.9 45.6,43.0 43.5,41.0 41.2,37.5 39.8,34.5 38.5,30.5 37.9,26.5 37.7,21.5 38.5,15.5 40.9,9.5 43.8,5.5 50.1,0.5 50.7,-0.5 50.5,-1.5 48.0,-5.5 46.7,-8.5 46.0,-11.5 46.0,-14.5 46.9,-18.5 48.6,-21.6 50.6,-23.9ZM-19.5,-3.5 -18.5,-4.1 -17.5,-4.1 -16.5,-3.4 -15.5,-1.5 -15.5,2.1 -16.5,3.8 -17.5,4.3 -18.5,4.3 -19.5,3.6 -20.5,1.5 -20.5,-1.5Z"/>
<path fill="#de6b56" d="M25.5,-25.5 26.5,-26.3 26.9,-25.5 26.5,-25.0ZM-55.0,-21.5 -51.6,-22.2 -48.6,-21.8 -44.6,-19.9 -41.5,-17.4 -38.4,-13.5 -35.6,-8.5 -33.6,-3.5 -32.1,2.5 -31.3,8.5 -31.2,14.5 -31.9,20.5 -33.2,25.5 -34.9,29.5 -37.5,33.2 -40.5,35.7 -43.5,37.0 -46.6,37.2 -50.6,36.1 -53.6,34.3 -56.6,31.4 -59.6,27.3 -62.0,22.5 -63.8,17.5 -65.1,12.5 -65.9,6.5 -66.0,1.5 -65.4,-4.5 -64.3,-9.5 -62.7,-13.5 -60.6,-17.1 -57.6,-20.1ZM5.2,-20.5 11.5,-21.5 18.6,-20.5 22.5,-19.0 24.5,-17.3 26.5,-14.8 27.8,-12.5 28.8,-9.5 29.0,-6.5 28.7,-4.5 26.5,0.0 22.5,3.9 19.5,5.7 16.5,6.8 12.5,7.1 8.5,6.7 4.5,5.7 1.5,4.3 -1.5,2.0 -3.7,-0.5 -5.2,-3.5 -5.8,-6.5 -5.6,-9.5 -4.6,-12.5 -2.7,-15.5 -0.6,-17.5 2.5,-19.5ZM18.1,12.5 19.5,12.4 21.5,12.8 24.5,14.9 27.1,18.5 28.9,23.5 29.4,29.5 28.5,34.1 26.5,37.6 23.5,39.4 21.5,39.5 19.5,38.8 16.7,36.5 14.1,32.5 12.6,27.5 12.3,22.5 13.3,17.5 15.5,14.1Z"/>
<path fill="#559ec9" d="M52.3,-19.5 54.6,-20.3 56.6,-19.9 58.6,-18.1 59.7,-15.5 60.0,-12.5 59.3,-9.5 57.6,-7.2 55.6,-6.1 53.6,-6.1 51.6,-7.3 50.5,-8.5 49.6,-10.9 49.3,-13.5 49.6,-15.5 50.6,-17.7ZM49.4,4.5 51.6,3.9 54.6,4.1 56.6,4.9 59.6,7.1 61.6,9.6 63.2,12.5 64.6,16.5 65.3,20.5 65.3,24.5 64.9,28.5 64.1,31.5 62.6,35.1 60.6,38.1 58.6,40.1 56.6,41.5 53.6,42.5 50.6,42.4 48.6,41.7 46.6,40.5 44.6,38.6 41.4,33.5 40.4,30.5 39.6,26.5 39.6,19.5 40.5,15.5 41.6,12.5 43.3,9.5 45.0,7.5 47.6,5.4Z"/>
<path fill="#c63c3e" d="M8.3,-19.5 13.5,-19.7 16.5,-19.2 19.5,-18.1 23.5,-15.3 26.1,-11.5 26.7,-9.5 26.9,-6.5 25.8,-2.5 24.5,-0.5 22.5,1.5 18.5,4.0 15.5,4.9 12.5,5.3 8.5,5.0 5.5,4.2 2.5,2.8 0.5,1.3 -1.5,-0.8 -3.0,-3.5 -3.6,-5.5 -3.7,-8.5 -2.9,-11.5 -1.7,-13.5 0.0,-15.5 2.5,-17.4 5.5,-18.8ZM-54.2,-17.5 -51.6,-18.1 -48.6,-17.8 -45.6,-16.5 -42.5,-14.1 -39.7,-10.5 -37.4,-6.5 -35.5,-1.5 -34.3,3.5 -33.6,9.5 -33.6,14.5 -34.3,19.5 -35.5,23.5 -37.4,27.5 -39.5,30.2 -41.5,31.8 -44.6,33.0 -47.6,33.1 -50.6,32.1 -53.6,30.0 -55.6,28.0 -58.1,24.5 -60.2,20.5 -61.6,16.5 -62.9,11.5 -63.6,2.5 -63.2,-2.5 -62.3,-6.5 -60.8,-10.5 -59.1,-13.5 -56.6,-16.1ZM17.7,16.5 20.5,16.0 22.5,16.9 25.0,19.5 26.7,23.5 27.3,28.5 26.5,32.2 24.5,35.2 22.5,36.1 20.5,35.9 18.4,34.5 16.5,32.2 15.0,28.5 14.4,24.5 14.7,21.5 15.8,18.5Z"/>
<path fill="#3480b9" d="M51.7,6.5 53.6,6.6 55.6,7.1 57.6,8.3 59.8,10.5 61.6,13.4 62.6,15.8 63.7,22.5 63.5,26.5 62.9,29.5 60.6,34.8 58.6,37.3 56.6,38.8 54.6,39.7 52.6,40.0 50.6,39.8 48.6,39.1 46.6,37.7 44.6,35.4 42.9,32.5 41.8,29.5 41.0,23.5 41.7,17.5 42.6,14.5 44.2,11.5 47.6,8.1 49.6,7.0Z"/>
<path fill="#a8132a" d="M7.0,-17.5 11.5,-18.2 16.5,-17.4 20.5,-15.4 23.4,-12.5 24.7,-9.5 24.8,-5.5 23.5,-2.4 20.5,0.8 18.5,2.0 15.5,3.1 12.5,3.6 9.5,3.5 4.5,1.9 2.3,0.5 0.3,-1.5 -0.9,-3.5 -1.6,-5.5 -1.7,-8.5 -1.2,-10.5 -0.1,-12.5 1.6,-14.5 4.5,-16.5ZM-53.8,-13.5 -51.6,-14.2 -48.6,-14.0 -45.6,-12.6 -43.5,-10.9 -41.5,-8.5 -39.2,-4.5 -37.6,-0.5 -36.6,3.5 -35.9,8.5 -35.8,12.5 -36.2,16.5 -37.2,20.5 -38.5,23.6 -40.5,26.4 -42.5,28.1 -45.6,29.2 -47.6,29.2 -50.6,28.2 -54.6,24.9 -56.6,22.1 -58.4,18.5 -60.6,11.5 -61.3,3.5 -61.1,-0.5 -60.2,-4.5 -59.1,-7.5 -57.6,-10.2 -55.6,-12.4ZM18.4,21.5 19.5,20.7 21.5,20.9 22.5,21.7 23.6,23.5 24.3,27.5 23.5,30.2 22.5,31.2 21.5,31.5 20.5,31.3 19.4,30.5 18.1,28.5 17.5,26.5 17.4,24.5Z"/>
<path fill="#2166ac" d="M49.4,9.5 51.6,8.9 53.6,8.9 55.6,9.6 57.6,11.0 59.6,13.5 60.6,15.4 62.0,20.5 61.9,26.5 60.4,31.5 57.6,35.5 55.6,36.9 53.6,37.6 51.6,37.6 49.6,37.1 46.6,34.9 44.3,31.5 42.8,26.5 42.6,21.5 43.7,16.5 45.8,12.5 47.6,10.7Z"/>
<path fill="#7d0722" d="M10.6,-16.5 14.5,-16.2 18.7,-14.5 21.5,-11.8 22.9,-8.5 22.7,-5.5 21.3,-2.5 18.5,0.0 14.5,1.6 9.5,1.8 5.5,0.5 2.5,-1.8 1.3,-3.5 0.5,-5.5 0.3,-7.5 0.6,-9.5 2.5,-12.8 4.5,-14.5 6.4,-15.5ZM-53.3,-9.5 -50.6,-10.3 -48.6,-10.1 -46.6,-9.2 -44.6,-7.7 -42.5,-5.3 -41.0,-2.5 -38.9,3.5 -38.1,10.5 -38.4,14.5 -39.1,17.5 -40.3,20.5 -41.5,22.5 -43.5,24.3 -45.6,25.2 -47.6,25.3 -49.6,24.8 -52.7,22.5 -54.6,20.3 -56.2,17.5 -58.3,11.5 -59.0,4.5 -58.3,-1.5 -56.3,-6.5 -54.6,-8.5Z"/>
<path fill="#134b87" d="M50.5,11.5 53.6,11.3 55.6,12.2 57.2,13.5 59.6,17.5 60.4,21.5 60.2,26.5 58.6,31.1 57.6,32.5 55.6,34.3 52.6,35.3 49.6,34.6 47.2,32.5 45.0,28.5 44.2,24.5 44.4,20.5 45.6,16.5 47.6,13.5Z"/>
<path fill="#67001f" d="M9.2,-14.5 12.5,-14.7 15.5,-14.1 18.2,-12.5 19.9,-10.5 20.7,-8.5 20.5,-5.5 19.5,-3.5 17.4,-1.5 13.5,-0.0 9.5,-0.0 5.9,-1.5 3.5,-3.8 2.7,-5.5 2.4,-7.5 3.3,-10.5 5.5,-12.9ZM-52.0,-5.5 -50.6,-6.0 -48.6,-5.9 -45.6,-4.0 -43.0,-0.5 -41.2,4.5 -40.6,10.5 -41.5,15.5 -43.5,19.3 -45.2,20.5 -46.6,21.0 -49.6,20.5 -52.1,18.5 -54.6,14.7 -55.9,10.5 -56.5,5.5 -55.9,0.5 -54.6,-2.9 -53.6,-4.3Z"/>
<path fill="#053061" d="M50.1,14.5 52.6,13.9 54.6,14.5 55.6,15.2 57.6,17.9 58.6,21.5 58.5,25.5 57.6,28.6 55.6,31.3 52.6,32.6 50.6,32.2 48.6,30.8 47.1,28.5 46.2,25.5 46.0,22.5 46.6,19.4 47.9,16.5Z"/>
</g>
</g>
<g transform="translate(98.7,980.6)">
<circle r="86.6" fill="#f6f6f6"/>
<g clip-path="url(#mc)">
<path fill="#fddcc9" d="M-8.4,-76.6 -3.5,-76.9 1.5,-76.3 5.5,-75.1 8.5,-73.1 9.4,-71.6 9.1,-69.6 7.1,-67.6 3.4,-65.6 3.1,-64.6 8.1,-62.6 10.8,-60.6 11.3,-58.6 10.0,-56.6 7.5,-55.1 4.5,-54.1 0.5,-53.3 -4.5,-53.0 -12.5,-53.9 -16.5,-55.3 -18.6,-56.6 -19.9,-58.6 -19.3,-60.6 -16.6,-62.6 -11.6,-64.6 -11.9,-65.6 -15.6,-67.6 -17.6,-69.6 -17.9,-71.6 -17.5,-72.6 -14.5,-74.9 -11.5,-76.0ZM16.3,-66.6 19.5,-67.4 22.5,-66.9 24.4,-65.6 24.7,-64.6 24.4,-63.6 23.3,-62.6 20.5,-61.7 18.5,-61.7 16.5,-62.2 15.0,-63.6 14.8,-64.6 15.2,-65.6ZM-9.5,-8.5 -4.5,-9.1 0.5,-8.6 4.5,-7.5 12.5,-4.2 22.5,-2.5 33.5,2.2 47.6,5.5 51.7,7.5 54.2,9.5 57.4,13.5 59.4,17.5 60.3,21.5 60.2,25.5 59.3,28.5 57.8,31.5 51.6,38.5 49.6,45.1 47.6,48.1 44.6,50.3 40.5,51.6 36.5,51.7 32.5,50.5 29.6,48.6 27.9,46.6 26.9,44.6 25.6,39.5 24.2,37.5 20.5,34.7 17.5,33.6 16.5,33.8 15.5,35.1 15.0,43.5 13.1,49.6 10.5,53.6 6.5,57.1 1.5,59.3 -1.5,59.7 -4.5,59.6 -9.5,58.1 -12.1,56.6 -14.4,54.6 -16.5,51.9 -17.8,49.6 -19.5,43.5 -19.6,36.5 -17.6,28.5 -18.3,26.5 -21.5,22.8 -22.5,22.0 -23.5,22.0 -26.5,25.3 -28.5,26.5 -30.5,26.9 -33.6,26.5 -35.9,25.5 -38.3,23.5 -39.4,21.5 -39.7,18.5 -38.5,15.5 -35.5,12.8 -32.5,12.0 -27.5,12.5 -26.5,12.1 -24.7,4.5 -23.3,1.5 -21.3,-1.5 -18.5,-4.2 -15.5,-6.2ZM-60.5,14.5 -57.6,13.6 -55.6,13.7 -53.3,14.5 -51.3,16.5 -50.4,18.5 -50.6,21.5 -51.6,23.5 -53.6,25.3 -55.6,26.2 -58.6,26.3 -60.7,25.5 -62.7,23.5 -63.5,21.5 -63.5,18.5 -62.6,16.5Z"/>
<path fill="#d5e7f1" d="M28.2,-58.6 32.5,-58.3 36.5,-56.9 39.8,-54.6 42.0,-51.6 42.8,-48.6 42.2,-44.6 40.5,-41.4 37.5,-38.0 34.5,-37.2 31.5,-36.9 27.5,-37.0 24.5,-37.6 21.5,-38.8 19.5,-40.1 17.5,-42.0 16.0,-44.6 15.3,-47.6 15.5,-49.6 16.3,-51.6 17.7,-53.6 19.9,-55.6 22.5,-57.2 25.5,-58.2ZM-33.9,-44.6 -29.5,-45.5 -25.5,-45.3 -16.5,-42.6 -4.5,-41.7 2.5,-39.8 7.5,-36.9 10.5,-33.6 11.7,-30.5 11.8,-28.5 11.4,-26.5 9.5,-23.5 6.5,-20.9 2.5,-18.8 -2.5,-17.3 -7.5,-16.7 -13.5,-16.7 -18.5,-17.6 -22.5,-19.0 -25.7,-20.5 -28.5,-22.5 -33.2,-28.5 -37.7,-32.5 -39.8,-35.5 -40.1,-38.5 -39.3,-40.5 -37.5,-42.5ZM42.7,-38.5 47.6,-39.2 52.6,-39.1 57.6,-38.2 61.6,-36.8 66.6,-34.3 72.3,-30.5 76.6,-26.8 79.6,-22.9 81.8,-18.5 83.2,-13.5 83.7,-8.5 83.3,-3.5 82.1,1.5 80.2,5.5 77.6,9.1 74.6,11.6 70.6,13.2 66.6,13.1 63.6,11.6 57.6,6.5 54.6,4.8 41.4,1.5 36.0,-0.5 31.5,-3.5 25.5,-10.0 18.6,-12.5 15.4,-15.5 14.0,-18.5 13.6,-22.5 14.3,-25.5 16.5,-28.1 18.6,-29.5 21.5,-30.6 29.5,-31.0 36.5,-37.0ZM-68.5,-32.5 -63.6,-33.2 -58.6,-32.6 -50.2,-29.5 -39.5,-26.7 -35.5,-24.8 -32.4,-22.5 -30.7,-20.5 -29.0,-17.5 -27.9,-14.5 -27.2,-10.5 -27.4,-7.5 -28.2,-4.5 -29.7,-1.5 -31.9,1.5 -35.5,4.6 -39.5,6.6 -43.5,7.7 -48.6,8.1 -68.2,5.5 -72.6,3.8 -76.6,1.1 -79.7,-2.5 -82.2,-7.5 -83.1,-12.5 -82.5,-18.5 -80.4,-23.5 -77.3,-27.5 -73.4,-30.5ZM-45.0,27.5 -42.5,27.4 -39.5,28.1 -32.0,31.5 -29.2,34.5 -27.3,39.5 -27.1,45.6 -27.8,48.6 -29.2,51.6 -31.5,54.4 -33.5,56.0 -36.5,57.6 -39.5,58.4 -42.5,58.6 -45.6,58.3 -48.6,57.3 -51.5,55.6 -53.8,53.6 -55.6,51.2 -56.9,48.6 -57.7,45.6 -57.9,42.5 -57.6,39.5 -55.5,34.5 -53.6,32.2 -50.6,29.8 -47.6,28.3Z"/>
<path fill="#f8b99c" d="M-8.1,-73.6 -4.5,-74.0 -0.4,-73.6 1.9,-72.6 2.8,-71.6 2.9,-70.6 1.5,-69.1 -1.5,-68.1 -5.5,-67.9 -8.5,-68.5 -10.7,-69.6 -11.4,-70.6 -11.3,-71.6 -10.4,-72.6ZM-9.6,-4.5 -4.5,-5.3 0.5,-4.7 4.5,-3.3 10.5,0.1 13.5,1.3 21.5,2.6 29.5,5.4 40.5,6.3 44.6,7.3 47.5,8.5 51.6,11.5 53.6,13.9 55.0,16.5 55.9,19.5 56.1,22.5 54.9,27.5 53.6,29.9 51.6,32.2 44.3,37.5 42.4,39.5 40.5,42.5 38.5,43.4 36.5,42.8 34.3,39.5 32.4,37.5 26.5,33.5 19.5,27.8 16.5,27.0 10.5,26.4 6.5,26.5 4.5,27.1 2.1,28.5 2.0,29.5 5.5,34.5 6.6,37.5 6.8,41.5 5.5,45.6 3.5,48.1 0.5,49.9 -3.5,50.4 -6.5,49.4 -8.5,47.9 -10.3,45.6 -11.2,43.5 -11.7,40.5 -11.5,38.1 -10.7,35.5 -6.6,29.5 -6.7,28.5 -14.5,23.5 -17.7,20.5 -20.3,16.5 -21.6,11.5 -21.1,6.5 -19.8,3.5 -18.5,1.5 -14.5,-2.2Z"/>
<path fill="#afd3e7" d="M27.5,-54.6 30.5,-54.6 33.5,-53.7 35.5,-52.4 37.1,-50.6 37.8,-48.6 37.3,-45.6 35.9,-43.5 33.5,-41.9 30.5,-41.1 26.5,-41.3 23.5,-42.5 22.3,-43.5 20.8,-45.6 20.4,-48.6 21.5,-51.2 24.3,-53.6ZM-14.7,-37.5 -10.5,-37.9 -6.5,-37.6 -2.5,-36.7 0.5,-35.3 2.7,-33.5 4.1,-31.5 4.6,-28.5 3.8,-26.5 2.1,-24.5 -0.5,-22.8 -3.5,-21.6 -6.5,-21.0 -10.5,-20.8 -14.5,-21.2 -17.5,-22.1 -20.4,-23.5 -22.8,-25.5 -24.1,-27.5 -24.8,-30.5 -24.5,-32.5 -23.5,-34.3 -21.9,-35.5 -18.5,-36.8ZM43.3,-33.5 49.6,-34.5 55.6,-33.6 61.6,-30.8 66.4,-26.5 68.5,-23.5 69.9,-20.5 71.0,-14.5 70.8,-11.5 69.9,-8.5 68.7,-6.5 66.8,-4.5 62.6,-2.1 56.6,-0.5 50.6,-0.1 44.6,-0.9 39.5,-2.7 35.6,-5.5 33.0,-8.5 29.5,-14.7 28.5,-15.1 24.5,-14.6 22.5,-14.7 20.4,-15.5 18.3,-17.5 17.4,-19.5 17.5,-22.5 18.5,-24.7 20.5,-26.5 22.5,-27.2 24.5,-27.2 26.5,-26.7 29.5,-25.1 30.5,-24.8 31.5,-25.1 37.5,-30.7 40.5,-32.5ZM-52.9,-23.5 -47.6,-24.2 -41.5,-23.2 -36.5,-20.5 -33.1,-16.5 -32.1,-14.5 -31.3,-11.5 -31.7,-6.5 -32.9,-3.5 -34.3,-1.5 -36.3,0.5 -38.5,2.1 -41.5,3.4 -44.6,4.1 -48.6,4.2 -51.6,3.7 -55.6,2.3 -58.4,0.5 -60.7,-1.5 -63.0,-4.5 -64.4,-7.5 -65.0,-10.5 -64.9,-12.5 -64.0,-15.5 -61.9,-18.5 -59.6,-20.5 -56.6,-22.3ZM-45.6,33.5 -41.5,33.0 -37.5,34.1 -34.6,36.5 -32.9,39.5 -32.3,43.5 -33.4,47.6 -35.5,50.3 -38.5,52.2 -42.5,52.9 -46.6,51.9 -49.6,49.7 -51.5,46.6 -52.2,42.5 -51.2,38.5 -48.9,35.5Z"/>
<path fill="#f09575" d="M-9.5,-1.5 -4.5,-2.4 0.5,-1.7 5.1,0.5 12.5,6.0 19.5,7.8 25.5,9.8 28.5,10.0 34.5,9.2 38.5,9.0 41.5,9.4 44.8,10.5 49.2,13.5 51.9,17.5 52.5,19.5 52.7,22.5 51.6,26.5 49.5,29.5 45.6,32.5 41.5,34.0 37.5,34.4 33.5,33.6 29.5,31.6 26.5,29.1 21.5,23.2 18.5,21.7 9.5,21.0 0.5,23.3 -3.5,23.8 -7.5,23.3 -10.5,22.2 -14.5,19.5 -16.8,16.5 -18.1,13.5 -18.4,9.5 -17.3,5.5 -15.5,2.6 -12.5,0.0Z"/>
<path fill="#87bdd9" d="M-13.2,-32.5 -9.5,-33.0 -6.5,-32.5 -4.7,-31.5 -3.8,-30.5 -3.6,-28.5 -5.5,-26.5 -7.5,-25.8 -10.5,-25.6 -13.5,-26.3 -15.4,-27.5 -16.2,-29.5 -15.0,-31.5ZM47.2,-30.5 52.6,-30.4 57.7,-28.5 61.6,-25.5 63.1,-23.5 64.5,-20.5 65.0,-18.5 65.1,-15.5 63.6,-10.9 60.6,-7.4 58.6,-6.1 55.6,-4.7 52.6,-4.0 48.6,-3.8 45.6,-4.3 42.5,-5.4 38.1,-8.5 36.5,-10.5 35.1,-13.5 34.5,-16.5 34.6,-19.5 35.6,-22.5 36.9,-24.5 38.6,-26.5 41.5,-28.7 44.6,-29.9ZM23.2,-21.5 24.3,-21.5 24.5,-20.5 23.5,-20.2 23.1,-20.5ZM-51.7,-20.5 -47.6,-21.3 -42.5,-20.5 -38.5,-18.3 -36.7,-16.5 -35.4,-14.5 -34.3,-10.5 -34.9,-6.5 -35.8,-4.5 -37.3,-2.5 -40.5,-0.1 -45.6,1.4 -50.6,1.0 -53.6,-0.1 -55.6,-1.4 -57.6,-3.5 -58.9,-5.5 -59.7,-7.5 -60.0,-10.5 -59.0,-14.5 -57.7,-16.5 -55.6,-18.5Z"/>
<path fill="#de6b56" d="M-6.7,0.5 -3.5,0.3 0.5,1.1 4.4,3.5 7.1,6.5 8.8,9.5 9.3,12.5 8.0,15.5 5.9,17.5 0.5,20.2 -4.5,20.9 -7.5,20.4 -9.5,19.6 -11.5,18.4 -13.5,16.4 -14.7,14.5 -15.5,11.5 -15.3,8.5 -14.7,6.5 -13.4,4.5 -11.5,2.6 -9.5,1.4ZM33.7,12.5 37.5,11.9 41.5,12.4 44.6,13.7 47.7,16.5 49.1,19.5 49.1,23.5 47.6,26.9 44.6,29.5 40.5,31.1 35.5,30.9 31.5,29.2 29.5,27.5 27.9,25.5 26.3,21.5 26.2,19.5 26.6,17.5 28.0,15.5 29.3,14.5Z"/>
<path fill="#559ec9" d="M46.4,-26.5 50.6,-26.9 54.6,-25.8 57.8,-23.5 59.8,-20.5 60.5,-16.5 59.7,-13.5 57.6,-10.5 54.6,-8.6 50.6,-7.6 47.6,-7.7 45.6,-8.3 41.7,-10.5 39.5,-13.5 38.7,-17.5 39.8,-21.5 42.5,-24.7ZM-48.1,-18.5 -44.6,-18.3 -41.5,-17.1 -38.7,-14.5 -37.4,-11.5 -37.4,-8.5 -38.5,-5.5 -41.5,-2.6 -44.6,-1.4 -48.6,-1.3 -52.6,-2.8 -55.4,-5.5 -56.6,-8.5 -56.7,-10.5 -56.3,-12.5 -54.6,-15.4 -51.6,-17.6Z"/>
<path fill="#c63c3e" d="M-7.0,3.5 -4.5,3.1 -1.4,3.5 1.5,5.0 3.7,7.5 4.7,10.5 4.5,12.5 3.5,14.5 1.3,16.5 -1.5,17.7 -5.5,17.9 -8.5,16.9 -11.1,14.5 -12.4,11.5 -12.1,8.5 -10.3,5.5ZM36.2,15.5 38.5,15.3 41.5,16.1 43.7,17.5 45.1,19.5 45.5,21.5 45.1,23.5 43.9,25.5 41.5,27.2 38.5,27.8 35.5,27.4 32.7,25.5 31.3,23.5 30.9,20.5 31.6,18.5 33.5,16.6Z"/>
<path fill="#3480b9" d="M48.1,-21.5 49.6,-21.7 51.6,-21.3 53.6,-19.8 54.3,-18.5 54.5,-16.5 54.1,-15.5 53.5,-14.5 51.6,-13.2 49.6,-12.8 47.6,-13.2 45.6,-14.5 44.9,-15.5 44.5,-17.5 45.2,-19.5 46.6,-20.8ZM-47.5,-15.5 -45.6,-15.4 -43.3,-14.5 -41.5,-12.8 -40.6,-10.5 -40.8,-8.5 -41.8,-6.5 -43.5,-5.1 -45.6,-4.3 -48.6,-4.4 -50.6,-5.3 -52.6,-7.3 -53.2,-9.5 -53.0,-11.5 -51.8,-13.5 -49.6,-15.0Z"/>
<path fill="#a8132a" d="M-5.5,7.5 -2.5,7.6 -0.5,9.5 -0.5,11.6 -2.4,13.5 -3.5,13.8 -5.5,13.6 -7.5,11.7 -7.6,9.5 -7.0,8.5Z"/>
</g>
</g>
<g transform="translate(334.4,980.6)">
<circle r="86.6" fill="#f6f6f6"/>
<g clip-path="url(#mc)">
<path fill="#fddcc9" d="M-10.2,-66.6 -6.5,-67.2 -2.5,-67.3 2.5,-66.8 8.5,-65.6 12.5,-64.4 16.5,-62.6 19.1,-60.6 19.7,-59.6 19.7,-58.6 18.8,-57.6 17.5,-57.0 13.5,-56.2 7.5,-56.3 1.5,-57.4 -4.7,-59.6 -10.5,-62.6 -12.2,-64.6 -11.9,-65.6ZM-61.3,-39.5 -58.6,-40.2 -56.6,-40.2 -54.6,-39.9 -51.6,-38.6 -46.6,-34.7 -42.0,-28.5 -39.9,-24.5 -39.3,-21.5 -42.2,-12.5 -42.2,-6.5 -41.1,-3.5 -39.2,-0.5 -36.5,2.1 -33.4,4.5 -32.0,6.5 -31.6,8.5 -31.2,17.5 -31.8,26.5 -33.1,34.5 -35.4,42.5 -38.2,48.6 -41.5,53.1 -45.6,56.2 -49.6,57.5 -53.6,57.2 -57.6,55.4 -61.6,52.1 -65.8,46.6 -69.1,40.5 -72.2,32.5 -74.4,24.5 -76.2,14.5 -76.9,5.5 -76.9,-3.5 -76.0,-12.5 -74.3,-20.5 -71.8,-27.5 -68.6,-33.4 -65.6,-36.8ZM1.7,-29.5 7.5,-29.9 12.5,-29.1 17.5,-27.0 21.5,-24.0 24.5,-19.6 27.5,-12.5 30.5,-1.8 31.5,4.5 32.2,14.5 31.5,18.7 29.6,23.5 25.5,29.2 20.2,34.5 16.5,40.6 13.5,43.0 9.5,44.2 5.5,44.1 2.5,43.3 -0.5,41.8 -3.0,39.5 -4.2,37.5 -4.8,35.5 -4.8,33.5 -3.8,29.5 -3.8,28.5 -4.6,27.5 -12.5,22.5 -17.3,17.5 -19.3,14.5 -21.2,10.5 -23.0,3.5 -23.1,-2.5 -21.9,-9.5 -19.9,-14.5 -17.4,-18.5 -13.8,-22.5 -9.6,-25.5 -4.5,-27.8ZM67.3,22.5 69.6,22.4 71.6,23.9 73.1,26.5 74.0,30.5 73.8,34.5 72.6,38.2 70.6,40.7 68.6,41.6 66.6,41.2 64.6,39.1 63.6,36.6 63.2,33.5 63.4,29.5 64.1,26.5 65.6,23.8Z"/>
<path fill="#d5e7f1" d="M-20.1,-60.6 -15.5,-60.5 -8.6,-58.6 -2.3,-55.6 1.1,-52.6 3.3,-48.6 4.1,-43.5 3.1,-39.5 1.9,-37.5 0.0,-35.5 -3.1,-33.5 -7.5,-31.9 -11.5,-31.2 -15.5,-31.3 -19.5,-32.2 -23.5,-34.0 -26.5,-36.0 -29.1,-38.5 -31.1,-41.5 -32.5,-45.6 -32.6,-49.6 -31.7,-52.6 -29.8,-55.6 -27.5,-57.6 -23.5,-59.8ZM40.6,-40.5 44.6,-40.9 47.6,-40.5 50.6,-39.5 53.8,-37.5 56.6,-35.1 59.3,-31.5 61.3,-27.5 62.7,-23.5 63.7,-16.5 63.0,-8.5 61.0,-2.5 56.2,5.5 55.5,7.5 56.0,9.5 59.3,15.5 60.4,19.5 60.6,24.5 59.6,35.5 58.3,41.5 55.8,47.6 51.7,54.6 47.6,59.8 43.5,63.7 38.5,67.1 33.5,69.1 28.5,69.6 25.5,69.0 23.5,68.1 21.4,66.6 19.0,63.6 17.5,60.6 16.3,56.6 15.9,49.6 16.9,45.6 21.5,35.5 23.5,32.5 27.3,28.5 31.1,22.5 36.5,9.5 36.1,7.5 34.5,4.8 32.5,-0.1 27.5,-17.2 26.5,-23.2 27.1,-27.5 28.9,-31.5 32.5,-36.1 36.5,-39.0ZM-36.3,-18.5 -33.5,-18.9 -30.5,-17.8 -28.2,-15.5 -26.4,-11.5 -26.1,-7.5 -26.9,-3.5 -28.6,-0.5 -31.5,1.4 -34.5,1.3 -37.5,-0.4 -39.6,-2.5 -40.6,-4.5 -41.3,-7.5 -41.4,-10.5 -40.5,-14.1 -38.5,-17.0ZM-17.5,26.5 -14.5,26.4 -12.5,27.0 -10.9,28.5 -10.8,29.5 -11.5,30.7 -13.5,31.7 -15.5,31.9 -17.7,31.5 -19.4,30.5 -20.0,29.5 -20.0,28.5 -19.4,27.5Z"/>
<path fill="#f8b99c" d="M-58.7,-28.5 -55.6,-28.7 -51.6,-27.2 -48.6,-24.7 -45.3,-20.5 -43.8,-16.5 -43.3,-8.5 -42.7,-5.5 -41.2,-1.5 -37.8,4.5 -36.8,8.5 -36.6,15.5 -37.0,22.5 -38.0,28.5 -39.8,34.5 -42.2,39.5 -44.6,42.7 -47.6,45.1 -50.6,46.0 -53.6,45.8 -57.6,43.9 -60.6,41.0 -63.6,36.8 -66.2,31.5 -68.4,25.5 -70.1,18.5 -71.2,11.5 -71.6,4.5 -71.4,-2.5 -70.5,-9.5 -69.0,-15.5 -67.0,-20.5 -64.6,-24.3 -61.6,-27.2ZM-0.1,-25.5 5.5,-26.1 10.5,-25.5 15.5,-23.8 19.5,-21.3 22.5,-18.2 24.9,-14.5 27.4,-8.5 28.6,-3.5 29.1,0.5 29.1,7.5 30.6,15.5 30.4,18.5 29.5,21.7 27.5,25.6 24.5,29.0 17.9,33.5 13.5,38.2 10.5,39.5 6.5,39.5 4.5,38.7 2.9,37.5 2.2,36.5 1.6,34.5 2.1,32.5 3.8,29.5 3.3,27.5 0.5,25.0 -7.5,21.3 -12.5,17.2 -14.8,14.5 -17.1,10.5 -18.3,7.5 -19.2,3.5 -19.5,-1.5 -18.9,-6.5 -17.2,-11.5 -14.9,-15.5 -11.5,-19.4 -8.5,-21.9 -4.5,-24.1Z"/>
<path fill="#afd3e7" d="M-20.6,-55.6 -16.5,-56.4 -11.5,-55.8 -7.5,-54.1 -4.4,-51.6 -2.4,-48.6 -1.5,-44.6 -2.2,-41.5 -4.4,-38.5 -8.5,-36.2 -11.5,-35.6 -14.5,-35.7 -19.5,-37.0 -22.1,-38.5 -24.3,-40.5 -26.6,-44.6 -27.0,-47.6 -26.7,-49.6 -25.8,-51.6 -24.5,-53.1 -22.7,-54.6ZM39.7,-33.5 42.5,-34.3 45.6,-34.3 48.6,-33.5 51.6,-31.7 53.8,-29.5 55.9,-26.5 57.2,-23.5 58.3,-19.5 58.6,-15.5 58.3,-11.5 57.3,-7.5 56.0,-4.5 54.0,-1.5 51.6,0.9 48.6,2.7 45.6,3.6 42.5,3.5 39.5,2.6 37.5,1.3 35.5,-0.8 32.5,-6.6 30.4,-14.5 30.3,-20.5 31.7,-25.5 33.5,-28.5 35.2,-30.5 37.5,-32.4ZM-37.1,-15.5 -34.5,-16.1 -32.5,-15.5 -30.2,-13.5 -28.8,-10.5 -28.6,-7.5 -29.2,-4.5 -30.4,-2.5 -31.5,-1.5 -33.5,-0.7 -35.5,-0.8 -37.5,-1.9 -39.5,-4.5 -40.3,-6.5 -40.5,-9.4 -40.1,-11.5 -38.5,-14.4ZM41.1,14.5 44.6,13.7 48.6,14.2 51.6,15.9 53.6,18.2 55.2,21.5 56.1,26.5 56.1,31.5 55.3,36.5 53.4,42.5 51.0,47.6 47.7,52.6 44.6,56.2 40.5,59.6 36.5,61.8 32.5,62.8 29.5,62.6 27.5,62.0 25.4,60.6 23.5,58.5 22.0,55.6 20.8,49.6 20.8,46.6 21.5,42.5 24.5,34.1 33.5,20.7 36.5,17.2Z"/>
<path fill="#f09575" d="M-1.2,-22.5 2.5,-23.3 6.5,-23.4 10.5,-22.8 14.5,-21.3 17.6,-19.5 20.9,-16.5 23.1,-13.5 25.1,-9.5 26.7,-3.5 27.0,0.5 26.8,7.5 28.9,14.5 29.1,18.5 28.0,22.5 26.2,25.5 23.5,28.3 19.5,30.6 16.5,31.4 13.5,31.5 11.5,31.1 9.5,30.1 2.5,23.2 -5.5,19.5 -9.5,16.5 -13.0,12.5 -15.1,8.5 -16.6,3.5 -17.0,-1.5 -16.2,-6.5 -14.8,-10.5 -12.4,-14.5 -9.5,-17.7 -5.5,-20.7ZM-59.2,-18.5 -56.6,-19.4 -53.6,-18.9 -50.6,-17.0 -48.6,-14.7 -46.6,-11.0 -42.2,2.5 -41.3,6.5 -41.0,11.5 -41.2,17.5 -41.8,22.5 -43.2,27.5 -44.6,30.7 -46.6,33.8 -48.6,35.6 -51.6,36.7 -53.7,36.5 -56.6,35.2 -58.6,33.4 -60.7,30.5 -62.6,27.2 -64.5,22.5 -66.7,12.5 -67.2,2.5 -66.8,-2.5 -65.8,-7.5 -64.6,-11.4 -63.0,-14.5 -61.6,-16.6Z"/>
<path fill="#87bdd9" d="M-16.9,-51.6 -14.5,-51.7 -12.5,-51.4 -10.5,-50.5 -8.4,-48.6 -7.4,-46.6 -7.3,-44.6 -8.1,-42.5 -9.1,-41.5 -11.5,-40.4 -15.5,-40.4 -18.2,-41.5 -20.3,-43.5 -21.4,-46.6 -21.0,-48.6 -19.2,-50.6ZM42.2,-28.5 44.6,-28.8 46.6,-28.4 48.6,-27.4 50.6,-25.7 53.2,-21.5 54.3,-16.5 53.9,-11.5 51.7,-6.5 48.6,-3.4 46.6,-2.5 44.6,-2.1 42.5,-2.2 40.5,-2.9 37.5,-5.3 35.1,-9.5 34.0,-14.5 34.3,-19.5 35.9,-23.5 38.5,-26.7ZM-37.1,-12.5 -35.5,-13.2 -33.5,-12.9 -32.5,-12.1 -31.4,-10.5 -31.0,-8.5 -31.2,-6.5 -32.2,-4.5 -33.5,-3.5 -35.5,-3.3 -36.5,-3.7 -37.5,-4.6 -38.5,-6.3 -38.8,-9.5 -38.0,-11.5ZM41.3,19.5 43.5,19.2 46.6,19.6 48.6,20.7 50.8,23.5 51.9,26.5 52.3,30.5 52.1,34.5 51.2,38.5 49.7,42.5 47.6,46.6 45.6,49.6 42.5,52.9 39.5,55.3 36.5,56.8 33.5,57.4 30.5,57.0 28.5,55.9 27.2,54.6 25.2,50.6 24.7,44.6 25.8,38.5 28.3,32.5 33.5,25.0 37.5,21.3Z"/>
<path fill="#de6b56" d="M-0.4,-20.5 2.5,-21.2 6.5,-21.3 10.5,-20.6 13.5,-19.5 16.5,-17.7 19.0,-15.5 21.5,-12.5 23.1,-9.5 24.2,-6.5 25.0,-2.5 24.8,7.5 27.4,14.5 27.7,18.5 27.0,21.5 25.5,24.5 23.5,26.7 20.5,28.6 18.5,29.3 15.5,29.6 12.5,29.1 10.5,28.3 7.5,25.9 3.5,21.4 1.5,20.2 -3.5,18.1 -7.5,15.5 -11.1,11.5 -13.3,7.5 -14.5,3.5 -14.9,-1.5 -14.3,-5.5 -13.0,-9.5 -10.5,-13.5 -7.7,-16.5 -4.5,-18.8ZM-57.7,-8.5 -56.6,-9.1 -54.6,-9.2 -52.6,-8.3 -50.6,-6.3 -47.6,-0.5 -46.2,5.5 -45.7,12.5 -46.7,19.5 -47.6,21.8 -49.1,24.5 -50.6,25.9 -52.6,26.6 -55.6,25.7 -58.6,22.3 -60.7,17.5 -62.1,11.5 -62.5,4.5 -61.7,-1.5 -60.2,-5.5Z"/>
<path fill="#559ec9" d="M41.6,-20.5 43.5,-21.4 45.6,-21.1 47.4,-19.5 48.4,-17.5 48.6,-14.5 48.1,-12.5 46.7,-10.5 45.6,-9.7 43.5,-9.4 42.5,-9.7 41.4,-10.5 40.0,-12.5 39.5,-14.5 39.5,-16.8 40.5,-19.4ZM42.1,24.5 43.5,24.6 45.6,25.5 46.6,26.5 47.7,28.5 48.5,33.5 47.3,39.5 44.6,45.1 40.5,49.6 36.5,51.8 34.5,52.1 32.5,51.7 30.0,49.6 28.8,46.6 28.6,42.5 29.6,37.5 31.5,33.1 34.8,28.5 38.5,25.6Z"/>
<path fill="#c63c3e" d="M-0.6,-18.5 2.5,-19.3 6.5,-19.4 9.5,-18.9 12.5,-17.9 15.5,-16.1 17.5,-14.5 20.0,-11.5 21.7,-8.5 22.7,-5.5 23.3,-1.5 22.9,7.5 25.7,13.5 26.5,17.5 26.1,20.5 24.7,23.5 22.9,25.5 20.5,27.2 18.5,27.9 15.5,28.2 12.5,27.5 10.6,26.5 8.2,24.5 5.1,20.5 3.5,19.1 -2.6,16.5 -6.5,13.9 -9.5,10.6 -11.3,7.5 -12.4,4.5 -13.1,0.5 -12.9,-3.5 -11.8,-7.5 -9.7,-11.5 -7.5,-14.2 -4.5,-16.6Z"/>
<path fill="#3480b9" d="M38.4,32.5 40.5,32.0 41.8,32.5 42.9,34.5 42.8,37.5 41.8,40.5 40.5,42.3 38.5,44.0 36.5,44.6 35.5,44.3 34.5,43.3 34.0,41.5 34.0,39.5 35.5,35.5Z"/>
<path fill="#a8132a" d="M2.3,-17.5 7.5,-17.6 12.5,-16.0 17.1,-12.5 18.7,-10.5 20.3,-7.5 21.3,-4.5 21.7,-1.5 21.1,7.5 24.5,14.3 25.2,17.5 24.7,20.5 23.8,22.5 22.1,24.5 19.5,26.2 15.5,26.8 11.5,25.5 9.1,23.5 5.6,18.5 4.5,17.6 -2.5,14.6 -5.6,12.5 -8.3,9.5 -10.4,5.5 -11.3,1.5 -11.3,-2.5 -10.4,-6.5 -9.0,-9.5 -6.8,-12.5 -4.5,-14.6 -1.5,-16.3Z"/>
<path fill="#7d0722" d="M0.9,-15.5 3.5,-16.1 6.5,-16.1 11.5,-14.7 15.5,-11.9 18.6,-7.5 19.7,-4.5 20.2,-1.5 19.3,7.5 20.0,9.5 23.2,14.5 23.8,17.5 23.6,19.5 22.9,21.5 21.5,23.3 19.5,24.7 17.5,25.4 15.5,25.5 13.5,25.0 11.5,23.9 9.5,21.9 6.1,16.5 4.5,15.5 -0.5,13.8 -3.5,12.1 -6.3,9.5 -8.2,6.5 -9.4,3.5 -9.9,0.5 -9.6,-3.5 -8.8,-6.5 -7.2,-9.5 -4.5,-12.5 -1.6,-14.5Z"/>
<path fill="#67001f" d="M4.0,-14.5 8.5,-14.1 12.5,-12.3 15.6,-9.5 17.8,-5.5 18.7,-0.5 17.4,8.5 18.4,10.5 21.5,14.4 22.4,17.5 22.2,19.5 21.5,21.0 20.3,22.5 18.5,23.6 15.5,24.0 12.5,22.9 10.4,20.5 7.5,15.0 5.5,14.0 0.5,12.5 -2.5,10.9 -5.5,8.0 -7.4,4.5 -8.2,1.5 -8.3,-1.5 -7.8,-4.5 -6.5,-7.6 -4.5,-10.4 -1.9,-12.5 0.5,-13.7Z"/>
</g>
</g>
<g transform="translate(570.1,980.6)">
<circle r="86.6" fill="#f6f6f6"/>
<g clip-path="url(#mc)">
<path fill="#fddcc9" d="M-7.1,-19.5 -2.5,-20.2 2.5,-19.7 6.5,-18.4 10.5,-15.9 12.9,-13.5 15.0,-10.5 18.8,-1.5 24.8,4.5 27.5,8.4 28.5,10.9 29.0,13.5 28.9,16.5 28.2,19.5 26.5,23.1 24.5,26.0 22.5,28.0 19.5,30.1 16.5,31.4 12.5,32.0 8.5,31.3 5.5,29.8 1.5,26.2 -3.5,18.6 -11.5,14.8 -14.5,12.8 -17.5,9.8 -19.7,6.5 -21.1,2.5 -21.6,-1.5 -21.1,-5.5 -19.7,-9.5 -17.5,-12.9 -14.5,-15.9 -10.5,-18.3ZM-55.6,18.5 -52.6,18.1 -49.6,18.6 -45.6,20.2 -42.5,21.9 -39.2,24.5 -36.7,27.5 -36.0,29.5 -36.4,31.5 -38.5,32.5 -42.5,32.2 -46.6,30.8 -50.5,28.5 -54.2,25.5 -56.4,22.5 -56.9,20.5 -56.6,19.5Z"/>
<path fill="#d5e7f1" d="M-14.2,-48.6 -12.5,-49.0 -10.5,-48.7 -8.6,-47.6 -7.5,-45.7 -7.3,-44.6 -7.5,-42.5 -8.8,-40.5 -10.5,-39.5 -12.5,-39.2 -14.5,-39.8 -15.5,-40.6 -16.8,-42.5 -17.0,-44.6 -16.5,-46.3 -15.5,-47.7ZM46.3,-39.5 51.6,-39.8 58.6,-38.3 64.6,-35.5 69.4,-31.5 73.2,-26.5 75.9,-20.5 77.1,-14.5 77.1,-8.5 76.2,-3.5 74.9,0.5 68.0,14.5 67.4,17.5 66.7,26.5 65.8,31.5 63.8,37.5 60.7,43.5 55.4,50.6 52.2,53.6 48.6,56.2 45.6,57.9 41.5,59.4 37.5,60.0 34.5,59.9 30.2,58.6 26.3,55.6 23.5,51.0 22.1,45.6 22.1,41.5 23.3,37.5 32.2,22.5 33.9,18.5 34.9,14.5 34.7,11.5 33.9,8.5 28.4,-2.5 27.3,-5.5 26.4,-10.5 26.5,-15.5 27.2,-19.5 28.6,-23.5 30.7,-27.5 33.5,-31.4 36.5,-34.5 39.5,-36.8 42.5,-38.4Z"/>
<path fill="#f8b99c" d="M-6.5,-13.5 -2.5,-14.3 2.5,-13.6 6.4,-11.5 9.3,-8.5 11.2,-4.5 12.3,2.5 13.2,4.5 19.9,8.5 21.7,10.5 22.8,12.5 23.3,15.5 22.8,18.5 21.2,21.5 19.0,23.5 16.5,24.7 14.5,25.0 11.5,24.6 9.5,23.6 6.6,20.5 3.5,13.4 1.5,12.3 -4.5,11.1 -7.5,10.1 -10.5,8.3 -13.1,5.5 -14.3,3.5 -15.2,0.5 -15.3,-2.5 -14.7,-5.5 -13.5,-8.0 -11.5,-10.5 -9.5,-12.1Z"/>
<path fill="#afd3e7" d="M45.2,-23.5 47.6,-24.3 49.6,-24.3 51.6,-23.7 53.5,-22.5 55.6,-20.5 57.0,-18.5 58.9,-13.5 58.9,-8.5 58.2,-5.5 57.0,-2.5 53.6,2.2 51.6,3.7 49.6,4.6 46.6,4.3 43.5,2.1 40.7,-2.5 39.3,-7.5 39.2,-12.5 40.3,-17.5 42.5,-21.4Z"/>
<path fill="#f09575" d="M-4.9,-7.5 -2.5,-8.1 0.5,-7.7 2.6,-6.5 4.3,-4.5 5.0,-2.5 4.8,0.5 3.5,2.9 1.5,4.5 -1.5,5.1 -4.5,4.6 -6.5,3.5 -8.1,1.5 -8.8,-0.5 -8.6,-3.5 -7.5,-5.5Z"/>
</g>
</g>
<circle cx="98.7" cy="121.9" r="86.6" fill="url(#coast)" stroke="#000" stroke-width="1.3"/>
<circle cx="334.4" cy="121.9" r="86.6" fill="url(#coast)" stroke="#000" stroke-width="1.3"/>
<circle cx="570.1" cy="121.9" r="86.6" fill="url(#coast)" stroke="#000" stroke-width="1.3"/>
<circle cx="805.8" cy="121.9" r="86.6" fill="url(#coast)" stroke="#000" stroke-width="1.3"/>
<circle cx="1041.5" cy="121.9" r="86.6" fill="url(#coast)" stroke="#000" stroke-width="1.3"/>
<circle cx="98.7" cy="336.6" r="86.6" fill="url(#coast)" stroke="#000" stroke-width="1.3"/>
<circle cx="334.4" cy="336.6" r="86.6" fill="url(#coast)" stroke="#000" stroke-width="1.3"/>
<circle cx="570.1" cy="336.6" r="86.6" fill="url(#coast)" stroke="#000" stroke-width="1.3"/>
<circle cx="805.8" cy="336.6" r="86.6" fill="url(#coast)" stroke="#000" stroke-width="1.3"/>
<circle cx="1041.5" cy="336.6" r="86.6" fill="url(#coast)" stroke="#000" stroke-width="1.3"/>
<circle cx="98.7" cy="551.3" r="86.6" fill="url(#coast)" stroke="#000" stroke-width="1.3"/>
<circle cx="334.4" cy="551.3" r="86.6" fill="url(#coast)" stroke="#000" stroke-width="1.3"/>
<circle cx="570.1" cy="551.3" r="86.6" fill="url(#coast)" stroke="#000" stroke-width="1.3"/>
<circle cx="805.8" cy="551.3" r="86.6" fill="url(#coast)" stroke="#000" stroke-width="1.3"/>
<circle cx="1041.5" cy="551.3" r="86.6" fill="url(#coast)" stroke="#000" stroke-width="1.3"/>
<circle cx="98.7" cy="765.9" r="86.6" fill="url(#coast)" stroke="#000" stroke-width="1.3"/>
<circle cx="334.4" cy="765.9" r="86.6" fill="url(#coast)" stroke="#000" stroke-width="1.3"/>
<circle cx="570.1" cy="765.9" r="86.6" fill="url(#coast)" stroke="#000" stroke-width="1.3"/>
<circle cx="805.8" cy="765.9" r="86.6" fill="url(#coast)" stroke="#000" stroke-width="1.3"/>
<circle cx="1041.5" cy="765.9" r="86.6" fill="url(#coast)" stroke="#000" stroke-width="1.3"/>
<circle cx="98.7" cy="980.6" r="86.6" fill="url(#coast)" stroke="#000" stroke-width="1.3"/>
<circle cx="334.4" cy="980.6" r="86.6" fill="url(#coast)" stroke="#000" stroke-width="1.3"/>
<circle cx="570.1" cy="980.6" r="86.6" fill="url(#coast)" stroke="#000" stroke-width="1.3"/>
<polygon points="750.4,950.0 733.9,963.0 750.4,976.0" fill="#053061"/>
<polygon points="1081.7,950.0 1098.2,963.0 1081.7,976.0" fill="#67001f"/>
<rect x="750.40" y="950.0" width="21.01" height="26.0" fill="#134b87"/>
<rect x="771.11" y="950.0" width="21.01" height="26.0" fill="#2166ac"/>
<rect x="791.81" y="950.0" width="21.01" height="26.0" fill="#3480b9"/>
<rect x="812.52" y="950.0" width="21.01" height="26.0" fill="#559ec9"/>
<rect x="833.23" y="950.0" width="21.01" height="26.0" fill="#87bdd9"/>
<rect x="853.93" y="950.0" width="21.01" height="26.0" fill="#afd3e7"/>
<rect x="874.64" y="950.0" width="21.01" height="26.0" fill="#d5e7f1"/>
<rect x="895.34" y="950.0" width="21.01" height="26.0" fill="#f6f6f6"/>
<rect x="916.05" y="950.0" width="21.01" height="26.0" fill="#f6f6f6"/>
<rect x="936.76" y="950.0" width="21.01" height="26.0" fill="#fddcc9"/>
<rect x="957.46" y="950.0" width="21.01" height="26.0" fill="#f8b99c"/>
<rect x="978.17" y="950.0" width="21.01" height="26.0" fill="#f09575"/>
<rect x="998.88" y="950.0" width="21.01" height="26.0" fill="#de6b56"/>
<rect x="1019.58" y="950.0" width="21.01" height="26.0" fill="#c63c3e"/>
<rect x="1040.29" y="950.0" width="21.01" height="26.0" fill="#a8132a"/>
<rect x="1060.99" y="950.0" width="21.01" height="26.0" fill="#7d0722"/>
<polygon points="733.9,963.0 750.4,950.0 1081.7,950.0 1098.2,963.0 1081.7,976.0 750.4,976.0" fill="none" stroke="#000" stroke-width="1.5" stroke-linejoin="miter"/>
<line x1="750.40" y1="976.0" x2="750.40" y2="982.5" stroke="#000" stroke-width="1.3"/>
<line x1="791.81" y1="976.0" x2="791.81" y2="982.5" stroke="#000" stroke-width="1.3"/>
<line x1="833.23" y1="976.0" x2="833.23" y2="982.5" stroke="#000" stroke-width="1.3"/>
<line x1="874.64" y1="976.0" x2="874.64" y2="982.5" stroke="#000" stroke-width="1.3"/>
<line x1="916.05" y1="976.0" x2="916.05" y2="982.5" stroke="#000" stroke-width="1.3"/>
<line x1="957.46" y1="976.0" x2="957.46" y2="982.5" stroke="#000" stroke-width="1.3"/>
<line x1="998.88" y1="976.0" x2="998.88" y2="982.5" stroke="#000" stroke-width="1.3"/>
<line x1="1040.29" y1="976.0" x2="1040.29" y2="982.5" stroke="#000" stroke-width="1.3"/>
<line x1="1081.70" y1="976.0" x2="1081.70" y2="982.5" stroke="#000" stroke-width="1.3"/>
</svg>
<div class="mt b" style="left:-21.3px;top:9.3px">1981-12-04: NAO -1.04</div>
<div class="mt b" style="left:214.4px;top:9.3px">1984-02-24: NAO -1.07</div>
<div class="mt b" style="left:450.1px;top:9.3px">1985-01-01: NAO -1.41</div>
<div class="mt b" style="left:685.8px;top:9.3px">1987-01-23: NAO -0.69</div>
<div class="mt b" style="left:921.5px;top:9.3px">1987-12-08: NAO -0.03</div>
<div class="mt r" style="left:-21.3px;top:224.0px">1989-02-21: NAO 0.88</div>
<div class="mt r" style="left:214.4px;top:224.0px">1998-12-16: NAO 0.52</div>
<div class="mt b" style="left:450.1px;top:224.0px">1999-02-26: NAO -0.69</div>
<div class="mt b" style="left:685.8px;top:224.0px">2001-02-12: NAO -0.66</div>
<div class="mt r" style="left:921.5px;top:224.0px">2001-12-31: NAO 0.4</div>
<div class="mt r" style="left:-21.3px;top:438.7px">2002-02-18: NAO 0.33</div>
<div class="mt r" style="left:214.4px;top:438.7px">2003-01-18: NAO 0.18</div>
<div class="mt b" style="left:450.1px;top:438.7px">2004-01-05: NAO -0.54</div>
<div class="mt b" style="left:685.8px;top:438.7px">2006-01-21: NAO -0.48</div>
<div class="mt r" style="left:921.5px;top:438.7px">2007-02-24: NAO 0.73</div>
<div class="mt r" style="left:-21.3px;top:653.3px">2008-02-22: NAO 0.21</div>
<div class="mt b" style="left:214.4px;top:653.3px">2009-01-25: NAO -0.77</div>
<div class="mt b" style="left:450.1px;top:653.3px">2010-02-09: NAO -1.52</div>
<div class="mt b" style="left:685.8px;top:653.3px">2013-01-07: NAO -0.04</div>
<div class="mt b" style="left:921.5px;top:653.3px">2018-02-12: NAO -1.33</div>
<div class="mt b" style="left:-21.3px;top:868.0px">2019-01-02: NAO -0.42</div>
<div class="mt b" style="left:214.4px;top:868.0px">2021-01-05: NAO -1.04</div>
<div class="mt b bold" style="left:450.1px;top:868.0px">Average: NAO -0.39</div>
<div id="cap">SSWs in 00Z ERA5 DJF 1979/80 - 2021/22<br>Average day +3 to day +30 after SSW<br>NAO standardized over NDJFM daily data</div>
<div class="cbl" style="left:720.4px">−16</div>
<div class="cbl" style="left:761.8px">−12</div>
<div class="cbl" style="left:803.2px">−8</div>
<div class="cbl" style="left:844.6px">−4</div>
<div class="cbl" style="left:886.0px">0</div>
<div class="cbl" style="left:927.5px">4</div>
<div class="cbl" style="left:968.9px">8</div>
<div class="cbl" style="left:1010.3px">12</div>
<div class="cbl" style="left:1051.7px">16</div>
<div id="cbt">MSLP anomaly (hPa)</div>
<div id="fig">Fig. by S. H. Lee</div>
<div id="hdr"><h1>SSW are unique and vary on effect<br>on GWH. PV configuration sets the<br>levels and durations of CDC impact.</h1></div>
<div id="body">No SSW is equal, and its impact on<br>AO/NAO varies. But PV often shifts into<br>an N-CDC setup after an SSW-like<br>event.<br>The PV/Jet configuration during and after<br>an SSW sets the levels of GWH in the<br>SSW’s possibly<br><span class="li"><span>-</span>imminent impact</span><span class="li"><span>-</span>and secondary impact.</span><br>Keep in mind that upper PV is less<br>important after an SSW-like event as the<br>lower PV levels set the CDC impact and<br>also show a possible WWW failure.</div>
<div id="rule"></div>
<div id="copy">©TradeWpower – all rights reserved</div>
<svg id="logo" viewBox="0 0 1920 549" width="350" height="100">
<clipPath id="lc"><circle cx="330" cy="277" r="221"/></clipPath>
<g clip-path="url(#lc)">
<rect x="100" y="50" width="460" height="460" fill="#3a98bf"/>
<polygon points="108,262 150,272 195,278 235,277 275,268 320,254 370,240 410,235 450,237 490,248 525,262 552,276 552,294 525,280 490,268 450,261 410,262 370,268 320,285 280,305 245,323 210,338 175,346 118,344" fill="#fff"/>
<polygon points="100,40 560,40 560,276 552,276 525,262 490,248 450,237 410,235 370,240 320,254 275,268 235,277 195,278 150,272 108,262" fill="#93ba46"/>
<polygon points="108,281 140,288 180,294 215,298 238,298 222,310 195,320 165,325 135,323 110,318" fill="#93ba46"/>
<path d="M340,352 C356,318 390,298 440,293 C480,290 520,294 556,304" fill="none" stroke="#fff" stroke-width="14" stroke-linecap="round"/>
</g>
</svg>
<div class="lt" id="lt1">Trade Weather</div>
<div class="lt" id="lt2">Power</div>
</body></html>
